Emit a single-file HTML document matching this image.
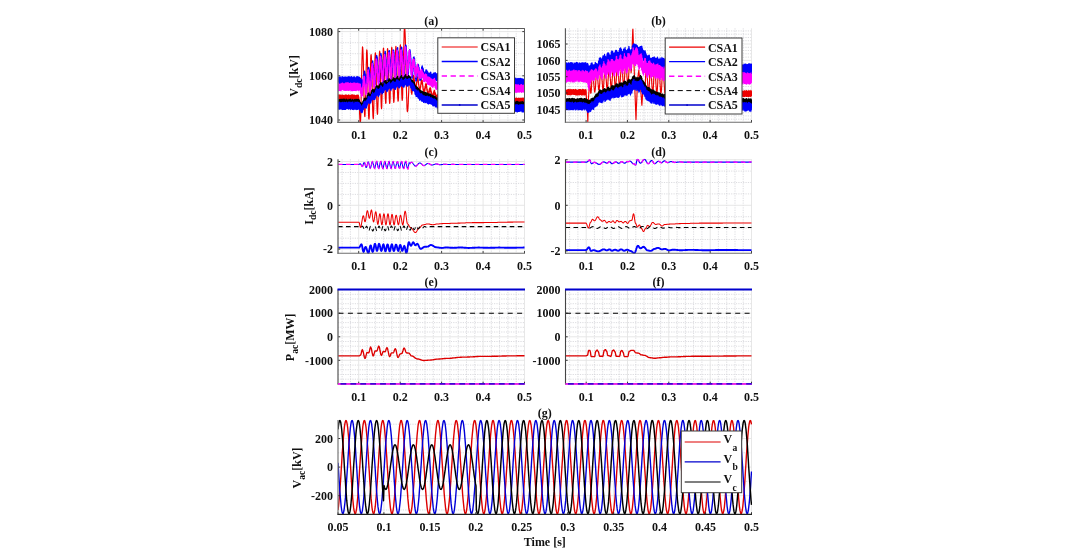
<!DOCTYPE html>
<html lang="en"><head><meta charset="utf-8"><title>Figure</title>
<style>html,body{margin:0;padding:0;background:#fff;overflow:hidden}svg{display:block}text{font-family:"Liberation Serif","DejaVu Serif",serif;font-weight:bold;fill:#111}</style>
</head><body>
<svg width="1079" height="556" viewBox="0 0 1079 556" font-size="12">
<rect width="1079" height="556" fill="#fff"/>
<g fill="none" stroke-width="0.7">
<path stroke="#cdcdd3" stroke-dasharray="1.2 1.2" d="M342.1 28.5V122.4M350.4 28.5V122.4M367 28.5V122.4M375.3 28.5V122.4M383.6 28.5V122.4M391.9 28.5V122.4M408.5 28.5V122.4M416.7 28.5V122.4M425 28.5V122.4M433.3 28.5V122.4M449.9 28.5V122.4M458.2 28.5V122.4M466.5 28.5V122.4M474.8 28.5V122.4M491.3 28.5V122.4M499.6 28.5V122.4M507.9 28.5V122.4M516.2 28.5V122.4M338 108.9H524.5M338 97.9H524.5M338 86.8H524.5M338 64.8H524.5M338 53.7H524.5M338 42.7H524.5"/>
<path stroke="#e4e4e4" stroke-width="0.9" d="M358.7 28.5V122.4M400.2 28.5V122.4M441.6 28.5V122.4M483.1 28.5V122.4M524.5 28.5V122.4M338 120H524.5M338 75.8H524.5M338 31.6H524.5"/>
</g>
<clipPath id="ca"><rect x="338" y="28" width="187.1" height="95.1"/></clipPath>
<g clip-path="url(#ca)" stroke-linejoin="round">
<polyline fill="none" stroke="#ee0000" stroke-width="1.15"  points="338,99 338.1,95 338.2,99.2 338.3,96 338.4,98.5 338.5,95.1 338.6,98.1 338.7,95.1 338.7,99.2 338.8,95.6 338.9,98.5 339,95.9 339.1,98.5 339.2,95.7 339.3,98.8 339.4,95.5 339.5,99.5 339.6,95.2 339.7,99 339.8,94.9 339.9,98.4 340,96.1 340.1,99 340.1,96.2 340.2,98.2 340.3,95.6 340.4,98.8 340.5,95 340.6,99 340.7,95.6 340.8,98.8 340.9,95.9 341,98.1 341.1,96 341.2,99.1 341.3,96 341.4,98.6 341.5,96.3 341.5,99.3 341.6,96.1 341.7,98.5 341.8,95.1 341.9,98.8 342,95.1 342.1,99 342.2,95.3 342.3,98.2 342.4,95.5 342.5,98.8 342.6,95.1 342.7,98.6 342.8,95.5 342.9,98.2 342.9,95.7 343,98.6 343.1,96.1 343.2,99.2 343.3,95.8 343.4,99.5 343.5,95.5 343.6,99 343.7,95.4 343.8,99.1 343.9,96.1 344,98.7 344.1,95.9 344.2,98.7 344.3,96.1 344.3,99.5 344.4,96 344.5,99 344.6,95.9 344.7,99.3 344.8,95.4 344.9,98.3 345,95.1 345.1,99.4 345.2,95 345.3,98.9 345.4,96.1 345.5,98.4 345.6,95 345.7,98.9 345.7,96 345.8,99.3 345.9,95.4 346,98.9 346.1,95.8 346.2,98.7 346.3,95.9 346.4,98.2 346.5,95.1 346.6,98.8 346.7,95.5 346.8,98.6 346.9,95.2 347,98.2 347,95.8 347.1,98.2 347.2,96.1 347.3,99.5 347.4,95.4 347.5,98.7 347.6,95.6 347.7,99.3 347.8,95.8 347.9,98.9 348,95.3 348.1,98.6 348.2,95.6 348.3,99.2 348.4,95 348.4,98.3 348.5,95 348.6,98.1 348.7,95.2 348.8,99.2 348.9,96.1 349,98.7 349.1,95.2 349.2,98.1 349.3,95.4 349.4,99.2 349.5,95.6 349.6,99.1 349.7,96 349.8,98.4 349.8,95.8 349.9,98.4 350,95.8 350.1,99.4 350.2,95.5 350.3,98.6 350.4,95.9 350.5,99.4 350.6,95.7 350.7,99.5 350.8,95.6 350.9,98.8 351,95 351.1,99.1 351.2,95.5 351.2,98.7 351.3,95.1 351.4,98.7 351.5,95 351.6,98.2 351.7,95.7 351.8,98.8 351.9,95 352,98.5 352.1,95.2 352.2,99.1 352.3,95.3 352.4,99 352.5,94.9 352.6,98.6 352.6,95.7 352.7,98.4 352.8,96.2 352.9,98.4 353,95 353.1,99.3 353.2,96.1 353.3,99 353.4,95.6 353.5,98.9 353.6,95.4 353.7,98.5 353.8,95 353.9,98.8 354,95.4 354,99 354.1,96 354.2,98.2 354.3,95.7 354.4,99.2 354.5,95.2 354.6,99.1 354.7,96.1 354.8,99.4 354.9,95.2 355,99.3 355.1,95.6 355.2,99.4 355.3,96.2 355.4,98.2 355.4,96.3 355.5,98.5 355.6,95.9 355.7,98.4 355.8,95.5 355.9,98.2 356,95.5 356.1,98.3 356.2,95.3 356.3,98.1 356.4,95.9 356.5,99.4 356.6,95.5 356.7,99.2 356.8,95.4 356.8,99 356.9,96 357,98.9 357.1,96.2 357.2,99.2 357.3,95 357.4,99.3 357.5,96.2 357.6,98.6 357.7,95.8 357.8,98.3 357.9,95.4 358,99.2 358.1,95.8 358.2,99.3 358.2,95.2 358.3,98.3 358.4,95.2 358.5,99.3 358.6,96 358.7,98.9 358.8,97.1 358.9,98.5 359,99 359.1,101.1 359.2,102 359.3,104.8 359.4,106.1 359.5,109.2 359.6,110.8 359.6,113.9 359.7,115.2 359.8,117.8 359.9,119.1 360,121.1 360.1,121.5 360.2,122.7 360.3,122.1 360.4,122.6 360.5,121.1 360.6,120.2 360.7,117.5 360.8,115.5 360.9,111.8 361,108.9 361,104.3 361.1,100.9 361.2,95.6 361.3,91.6 361.4,86.1 361.5,81.9 361.6,76.6 361.7,72.6 361.8,67.5 361.9,63.9 362,59.4 362.1,56.8 362.2,53.2 362.3,51.3 362.4,48.7 362.4,48.1 362.5,46.9 362.6,47.3 362.7,47.3 362.8,49.1 362.9,50.1 363,52.9 363.1,54.9 363.2,59 363.3,62 363.4,66.6 363.5,70 363.6,75.3 363.7,79.1 363.7,84.4 363.8,88.3 363.9,93.6 364,97 364.1,101.8 364.2,104.7 364.3,108.5 364.4,110.6 364.5,113.6 364.6,114.6 364.7,116.2 364.8,116 364.9,116.6 365,115 365.1,114.2 365.1,111.7 365.2,109.8 365.3,105.9 365.4,103.2 365.5,98.4 365.6,95.1 365.7,89.8 365.8,86.1 365.9,80.7 366,76.9 366.1,71.8 366.2,68.2 366.3,63.5 366.4,60.8 366.5,56.9 366.5,55 366.6,52.3 366.7,51.4 366.8,49.9 366.9,50.6 367,50.4 367.1,52.4 367.2,53.6 367.3,56.9 367.4,59.4 367.5,64.1 367.6,67.5 367.7,72.6 367.8,76.8 367.9,82.7 367.9,87 368,92.6 368.1,96.6 368.2,102 368.3,105.5 368.4,109.7 368.5,112.2 368.6,115.5 368.7,117 368.8,118.8 368.9,118.7 369,119.2 369.1,117.8 369.2,117.3 369.3,114.7 369.3,113.1 369.4,109.7 369.5,107 369.6,102.9 369.7,99.6 369.8,95 369.9,91.5 370,86.5 370.1,82.8 370.2,77.9 370.3,74.8 370.4,70 370.5,67.2 370.6,63.5 370.7,61.3 370.7,58.5 370.8,57.1 370.9,55.3 371,55.1 371.1,54.5 371.2,55.6 371.3,55.9 371.4,58.1 371.5,59.7 371.6,63.1 371.7,65.6 371.8,69.9 371.9,73.2 372,78.1 372.1,81.7 372.1,86.8 372.2,90.5 372.3,95.8 372.4,99.2 372.5,103.7 372.6,106.8 372.7,110.8 372.8,112.6 372.9,115.6 373,116.5 373.1,118.3 373.2,118.2 373.3,118.8 373.4,117.3 373.5,116.7 373.5,114.4 373.6,112.8 373.7,109.4 373.8,106.7 373.9,102.5 374,99.4 374.1,94.5 374.2,91.1 374.3,85.9 374.4,82.4 374.5,77.2 374.6,74 374.7,69.2 374.8,66.3 374.9,62.5 374.9,60.4 375,57.3 375.1,56.1 375.2,53.9 375.3,53.8 375.4,52.8 375.5,54 375.6,54.4 375.7,56.7 375.8,58.2 375.9,61.9 376,64.3 376.1,68.7 376.2,72 376.3,77.1 376.3,80.7 376.4,86 376.5,89.6 376.6,94.5 376.7,97.9 376.8,102.5 376.9,105.1 377,108.6 377.1,110.3 377.2,112.7 377.3,113.1 377.4,114.3 377.5,113.6 377.6,113.6 377.7,111.8 377.7,111 377.8,108.3 377.9,106.6 378,103 378.1,100.7 378.2,96.6 378.3,93.5 378.4,88.9 378.5,85.8 378.6,81.1 378.7,77.7 378.8,73.1 378.9,70.2 379,66.1 379.1,63.4 379.1,59.8 379.2,57.8 379.3,54.9 379.4,54 379.5,52.1 379.6,52.2 379.7,51.1 379.8,52.3 379.9,52.6 380,55.2 380.1,57 380.2,61 380.3,63.8 380.4,68.6 380.4,72.2 380.5,77.5 380.6,81.4 380.7,86.7 380.8,90.4 380.9,95.1 381,98.1 381.1,102.1 381.2,104.1 381.3,106.9 381.4,107.4 381.5,108.7 381.6,107.7 381.7,107.7 381.8,105.5 381.8,104.1 381.9,101 382,98.8 382.1,94.4 382.2,91.4 382.3,86.5 382.4,83 382.5,77.9 382.6,74.2 382.7,69.3 382.8,65.8 382.9,61.4 383,58.6 383.1,54.7 383.2,53 383.2,50.4 383.3,49.6 383.4,48.2 383.5,48.9 383.6,48.3 383.7,49.9 383.8,50.5 383.9,52.9 384,54.1 384.1,57.2 384.2,59.2 384.3,62.9 384.4,65.3 384.5,69.2 384.6,72 384.6,76.1 384.7,78.8 384.8,83.2 384.9,85.7 385,89.6 385.1,91.8 385.2,95.1 385.3,96.8 385.4,99.5 385.5,100.5 385.6,102.5 385.7,102.5 385.8,103.5 385.9,102.7 386,102.8 386,100.5 386.1,98.8 386.2,95.4 386.3,92.8 386.4,88.4 386.5,85 386.6,80 386.7,76.3 386.8,71.2 386.9,67.7 387,62.8 387.1,59.8 387.2,55.7 387.3,53.7 387.4,51 387.4,50 387.5,48.7 387.6,49.2 387.7,48.9 387.8,50.7 387.9,51.5 388,53.9 388.1,55.8 388.2,59.3 388.3,61.6 388.4,65.8 388.5,68.5 388.6,73.1 388.7,76 388.8,80.7 388.8,83.6 388.9,87.8 389,90.5 389.1,94.2 389.2,96.3 389.3,99.2 389.4,100.3 389.5,102.3 389.6,102.7 389.7,103.5 389.8,102.8 389.9,102.9 390,100.9 390.1,99.6 390.2,96.9 390.2,94.8 390.3,91.3 390.4,88.5 390.5,84.3 390.6,81.1 390.7,76.5 390.8,73.3 390.9,68.8 391,65.8 391.1,61.6 391.2,59.1 391.3,55.5 391.4,53.7 391.5,50.6 391.6,49.8 391.6,48 391.7,48 391.8,47.2 391.9,48.5 392,48.8 392.1,51.2 392.2,52.4 392.3,55.7 392.4,58.2 392.5,62 392.6,65 392.7,69.8 392.8,72.8 392.9,77.6 393,80.8 393,85.4 393.1,88.2 393.2,92.3 393.3,94.4 393.4,97.5 393.5,98.9 393.6,100.9 393.7,101.2 393.8,102.4 393.9,101.5 394,101.5 394.1,99.3 394.2,98.3 394.3,95.5 394.4,93.3 394.4,89.8 394.5,87.1 394.6,82.9 394.7,80 394.8,75.4 394.9,72.2 395,67.6 395.1,64.7 395.2,60.5 395.3,57.7 395.4,54.2 395.5,52.4 395.6,49.8 395.7,48.8 395.8,46.9 395.8,47 395.9,46.4 396,47.6 396.1,47.7 396.2,49.8 396.3,50.9 396.4,53.8 396.5,55.7 396.6,59.1 396.7,61.7 396.8,65.6 396.9,68.3 397,72.6 397.1,75.7 397.2,80 397.2,82.7 397.3,86.7 397.4,89.1 397.5,92.6 397.6,94.3 397.7,97.2 397.8,98.2 397.9,100.2 398,100.2 398.1,101.3 398.2,100.4 398.3,100.7 398.4,98.9 398.5,98 398.5,95.4 398.6,94.1 398.7,90.9 398.8,88.7 398.9,84.9 399,82.2 399.1,78 399.2,75.2 399.3,71.1 399.4,68.1 399.5,64.2 399.6,61.4 399.7,57.7 399.8,55.4 399.9,52.3 399.9,50.7 400,48.2 400.1,47.4 400.2,45.5 400.3,45.6 400.4,44.8 400.5,46 400.6,46.7 400.7,49 400.8,50.8 400.9,54.7 401,57.5 401.1,62.1 401.2,65.8 401.3,71 401.3,74.6 401.4,79.6 401.5,83.3 401.6,87.9 401.7,90.7 401.8,94.4 401.9,96.4 402,99 402.1,99.4 402.2,100.5 402.3,99.5 402.4,99.5 402.5,97.8 402.6,96.5 402.7,93.7 402.7,91.5 402.8,87.8 402.9,85.1 403,80.5 403.1,77.2 403.2,72.3 403.3,68.6 403.4,63.4 403.5,59.8 403.6,54.6 403.7,51.2 403.8,46.5 403.9,43.3 404,39.2 404.1,36.6 404.1,33.3 404.2,31.9 404.3,29.4 404.4,28.8 404.5,27.3 404.6,27.8 404.7,27.5 404.8,28.9 404.9,29.4 405,31.8 405.1,33.1 405.2,36.1 405.3,38.3 405.4,42.3 405.5,45.1 405.5,49.3 405.6,52.7 405.7,57.5 405.8,60.9 405.9,65.9 406,69.8 406.1,74.7 406.2,78.4 406.3,83.5 406.4,86.9 406.5,91.2 406.6,94.3 406.7,98.3 406.8,100.6 406.9,104.1 406.9,105.8 407,108.3 407.1,109 407.2,111 407.3,111 407.4,111.8 407.5,110.9 407.6,111.3 407.7,110 407.8,109.8 407.9,108 408,107.3 408.1,105.1 408.2,104.2 408.3,101.8 408.3,100.4 408.4,97.9 408.5,96.4 408.6,93.9 408.7,92.4 408.8,89.8 408.9,88.5 409,86 409.1,85 409.2,82.9 409.3,82 409.4,78.9 409.5,80.6 409.6,77.6 409.7,79.9 409.7,76.8 409.8,79.8 409.9,76.3 410,79.6 410.1,77.3 410.2,80.5 410.3,79.2 410.4,82.2 410.5,80.4 410.6,84.7 410.7,82.9 410.8,86.5 410.9,84.7 411,87.9 411.1,86.2 411.1,90.5 411.2,88.9 411.3,92.4 411.4,90.4 411.5,92.7 411.6,91 411.7,94.2 411.8,91.7 411.9,94.2 412,90.6 412.1,92.4 412.2,89.5 412.3,91.4 412.4,87.7 412.5,89.6 412.5,85.3 412.6,87.5 412.7,83.4 412.8,84.8 412.9,80.7 413,82.4 413.1,78 413.2,80.7 413.3,77 413.4,78.8 413.5,75.3 413.6,78.8 413.7,75.8 413.8,79 413.9,76.2 413.9,79 414,76.7 414.1,80.3 414.2,78.4 414.3,81.6 414.4,80 414.5,83 414.6,82.1 414.7,85.5 414.8,83.3 414.9,87.1 415,84.6 415.1,88 415.2,86.6 415.2,89.2 415.3,87.4 415.4,90.4 415.5,87.8 415.6,90.1 415.7,87.4 415.8,89.7 415.9,87.5 416,89.5 416.1,85.8 416.2,88 416.3,84.7 416.4,86.2 416.5,83.5 416.6,85.3 416.6,82 416.7,83.4 416.8,80.1 416.9,82.2 417,79.2 417.1,81.1 417.2,78.2 417.3,80.5 417.4,77.3 417.5,79.1 417.6,77 417.7,79.9 417.8,77.1 417.9,79.9 418,76.9 418,81.1 418.1,79.1 418.2,81.9 418.3,79.8 418.4,83.6 418.5,81.7 418.6,84.8 418.7,83.7 418.8,86.1 418.9,84.7 419,87.7 419.1,86.6 419.2,89.3 419.3,87.9 419.4,90 419.4,87.8 419.5,91.1 419.6,89 419.7,91.6 419.8,89.2 419.9,90.8 420,87.7 420.1,91 420.2,87.3 420.3,89.2 420.4,86.7 420.5,88.1 420.6,85.7 420.7,86.9 420.8,84.6 420.8,86.3 420.9,83.4 421,84.6 421.1,81.3 421.2,83.7 421.3,81 421.4,82.6 421.5,79.8 421.6,82.7 421.7,79.7 421.8,82.5 421.9,80.2 422,82.2 422.1,80 422.2,83.6 422.2,80.5 422.3,84.2 422.4,81.9 422.5,84.7 422.6,82.9 422.7,86.2 422.8,85.2 422.9,88.5 423,86 423.1,90.1 423.2,87.8 423.3,90.7 423.4,89.5 423.5,92.6 423.6,89.4 423.6,92.6 423.7,90.1 423.8,93.2 423.9,90.9 424,93.3 424.1,91.1 424.2,92.9 424.3,90.4 424.4,92.7 424.5,89.4 424.6,92.1 424.7,88.1 424.8,90.6 424.9,87.9 425,90.3 425,86.7 425.1,88.4 425.2,86.3 425.3,88.5 425.4,84.8 425.5,86.7 425.6,84.2 425.7,86.7 425.8,83.9 425.9,86.9 426,83.2 426.1,85.9 426.2,84.2 426.3,86.6 426.4,83.9 426.4,87.4 426.5,84.8 426.6,88.3 426.7,86.4 426.8,89.7 426.9,87.8 427,90.8 427.1,88.8 427.2,91.7 427.3,89.2 427.4,93 427.5,91.3 427.6,93.9 427.7,91.5 427.8,94.2 427.8,92.6 427.9,94.6 428,92.6 428.1,95.2 428.2,92.6 428.3,95 428.4,92.2 428.5,94.5 428.6,91.6 428.7,95 428.8,91.5 428.9,93.8 429,90.4 429.1,92.9 429.2,89.8 429.2,92.2 429.3,89.2 429.4,91.6 429.5,88.7 429.6,91.7 429.7,88.8 429.8,91.1 429.9,87.9 430,90.3 430.1,87.9 430.2,89.8 430.3,88 430.4,90.6 430.5,88.4 430.6,91 430.6,87.9 430.7,91.9 430.8,88.7 430.9,92.5 431,90.3 431.1,93.6 431.2,91.3 431.3,94.5 431.4,91.5 431.5,95.2 431.6,92.8 431.7,95.5 431.8,93.6 431.9,96.3 431.9,94.6 432,96.7 432.1,94.2 432.2,97.8 432.3,95.1 432.4,96.7 432.5,94.8 432.6,96.7 432.7,94.7 432.8,96.9 432.9,94 433,96.3 433.1,93.8 433.2,96.1 433.3,93.2 433.3,95.2 433.4,92.4 433.5,95.2 433.6,92.1 433.7,94.5 433.8,91.6 433.9,94.3 434,91.1 434.1,93.5 434.2,90.3 434.3,93.6 434.4,91.1 434.5,92.9 434.6,90.2 434.7,93 434.7,91.2 434.8,94.4 434.9,92 435,94 435.1,92.3 435.2,94.5 435.3,92.7 435.4,95.8 435.5,93.5 435.6,95.9 435.7,93.7 435.8,97.3 435.9,94.6 436,97.1 436.1,95.1 436.1,98.1 436.2,95.6 436.3,98.7 436.4,95.8 436.5,98.3 436.6,96.1 436.7,98.4 436.8,95.3 436.9,98.5 437,95.8 437.1,98.7 437.2,95.2 437.3,97.9 437.4,95.4 437.5,98.2 437.5,95.5 437.6,97.8 437.7,94.7 437.8,97.5 437.9,94.3 438,97.3 438.1,94.6 438.2,96.9 438.3,94 438.4,96.8 438.5,94.1 438.6,96.8 438.7,93.7 438.8,97.4 438.9,94.7 438.9,97.4 439,94.1 439.1,96.3 439.2,94.2 439.3,96.3 439.4,94.1 439.5,96.5 439.6,94.3 439.7,96.6 439.8,94.1 439.9,97.2 440,93.7 440.1,96.7 440.2,94.1 440.3,96.3 440.3,94.3 440.4,97.4 440.5,94.6 440.6,97.3 440.7,94 440.8,96.6 440.9,93.9 441,96.7 441.1,93.8 441.2,96.4 441.3,94.7 441.4,97.2 441.5,94.3 441.6,96.5 441.7,94.3 441.7,96.7 441.8,94.2 441.9,97.2 442,93.9 442.1,96.5 442.2,94.2 442.3,97.6 442.4,94.4 442.5,97.3 442.6,94.8 442.7,97.5 442.8,94.3 442.9,97.5 443,94.1 443.1,97.5 443.1,95 443.2,97.4 443.3,94.8 443.4,96.9 443.5,94.7 443.6,97.3 443.7,94.4 443.8,97.7 443.9,95.1 444,96.9 444.1,94.7 444.2,97.6 444.3,94.6 444.4,97.3 444.5,94.3 444.5,97.5 444.6,94.9 444.7,96.9 444.8,94.7 444.9,97.8 445,94.6 445.1,96.9 445.2,94.8 445.3,97.3 445.4,94.7 445.5,97.6 445.6,94.3 445.7,97.3 445.8,95 445.9,97.7 445.9,94.5 446,97.8 446.1,95 446.2,98 446.3,95 446.4,98.2 446.5,95.3 446.6,97.3 446.7,94.7 446.8,97.5 446.9,94.7 447,97.9 447.1,95.1 447.2,97.3 447.3,94.8 447.3,97.4 447.4,94.7 447.5,98.3 447.6,95.5 447.7,97.5 447.8,94.9 447.9,98 448,95.8 448.1,98 448.2,95.7 448.3,98 448.4,95.3 448.5,98.6 448.6,95.1 448.6,97.8 448.7,95.5 448.8,98.2 448.9,95 449,97.8 449.1,95.6 449.2,98.7 449.3,95.7 449.4,98 449.5,95.6 449.6,98.1 449.7,95.2 449.8,97.9 449.9,96.1 450,98 450,95.6 450.1,98.2 450.2,95.4 450.3,99 450.4,95.4 450.5,98.3 450.6,96.5 450.7,98.5 450.8,95.4 450.9,98.9 451,96.5 451.1,98.9 451.2,95.6 451.3,99.3 451.4,95.8 451.4,99.2 451.5,95.7 451.6,98.6 451.7,96.6 451.8,99.1 451.9,96.6 452,98.7 452.1,95.7 452.2,99 452.3,96.3 452.4,99.5 452.5,96.6 452.6,99.6 452.7,95.9 452.8,98.9 452.8,96.6 452.9,98.6 453,96 453.1,98.7 453.2,97 453.3,99.6 453.4,96.4 453.5,99.4 453.6,96.3 453.7,98.7 453.8,97 453.9,99.2 454,97.1 454.1,99.3 454.2,96.4 454.2,99.5 454.3,96.5 454.4,98.8 454.5,97 454.6,99.8 454.7,97.2 454.8,99.4 454.9,97.3 455,99.9 455.1,97.2 455.2,99.4 455.3,96.8 455.4,99.7 455.5,96.3 455.6,99.8 455.6,97 455.7,99.1 455.8,96.7 455.9,100.1 456,97.5 456.1,99.9 456.2,97.3 456.3,99.6 456.4,96.9 456.5,99.8 456.6,96.4 456.7,99.9 456.8,97.1 456.9,99.9 457,97.1 457,99.6 457.1,97.2 457.2,99.7 457.3,97.3 457.4,99.4 457.5,97.5 457.6,99.7 457.7,97.3 457.8,100.1 457.9,96.7 458,99.6 458.1,97 458.2,100.2 458.3,97.3 458.4,99.8 458.4,97.2 458.5,100 458.6,96.6 458.7,99.4 458.8,96.6 458.9,100 459,96.8 459.1,100 459.2,96.7 459.3,99.6 459.4,96.9 459.5,99.6 459.6,97.2 459.7,100 459.8,97.5 459.8,99.3 459.9,96.8 460,100.2 460.1,97 460.2,99.6 460.3,97 460.4,99.4 460.5,97 460.6,99.9 460.7,97 460.8,99.8 460.9,97.5 461,100.1 461.1,97.2 461.2,100.1 461.2,97.3 461.3,99.4 461.4,97.1 461.5,100 461.6,96.7 461.7,100.3 461.8,97.7 461.9,100.1 462,97.4 462.1,100.1 462.2,97.3 462.3,99.6 462.4,97.2 462.5,99.9 462.6,97 462.6,100 462.7,97 462.8,99.7 462.9,97 463,99.7 463.1,97.1 463.2,99.8 463.3,97.1 463.4,99.3 463.5,97.2 463.6,99.5 463.7,97.3 463.8,99.4 463.9,97 464,100.3 464,97.4 464.1,99.4 464.2,97 464.3,99.4 464.4,96.7 464.5,99.4 464.6,97.3 464.7,99.8 464.8,97.6 464.9,99.6 465,97.4 465.1,100.1 465.2,96.6 465.3,99.7 465.3,96.9 465.4,99.4 465.5,97.1 465.6,99.8 465.7,97.4 465.8,100.2 465.9,96.9 466,99.4 466.1,97.4 466.2,100.2 466.3,96.6 466.4,100 466.5,96.8 466.6,100.4 466.7,96.9 466.7,100 466.8,97.5 466.9,99.7 467,97.1 467.1,100.4 467.2,97.4 467.3,99.8 467.4,97.8 467.5,100.1 467.6,97.3 467.7,100.2 467.8,97.5 467.9,100.1 468,97 468.1,99.8 468.1,97.6 468.2,99.8 468.3,97 468.4,99.5 468.5,97.7 468.6,99.9 468.7,97.5 468.8,100.2 468.9,96.9 469,100.4 469.1,96.9 469.2,100.1 469.3,97.6 469.4,100.3 469.5,97 469.5,100.2 469.6,97 469.7,100.3 469.8,97.5 469.9,100.1 470,97.2 470.1,99.7 470.2,97.5 470.3,99.5 470.4,97.3 470.5,99.8 470.6,97.4 470.7,100.3 470.8,97.1 470.9,100.1 470.9,96.7 471,99.6 471.1,97.3 471.2,99.5 471.3,97.4 471.4,100.5 471.5,97.8 471.6,100.2 471.7,96.9 471.8,100 471.9,97 472,99.9 472.1,97.5 472.2,100 472.3,97.6 472.3,99.7 472.4,97.5 472.5,100.5 472.6,97.5 472.7,99.7 472.8,96.8 472.9,99.6 473,96.8 473.1,100.4 473.2,97.2 473.3,99.9 473.4,97.7 473.5,99.5 473.6,97.8 473.7,99.8 473.7,97.4 473.8,100.5 473.9,97.3 474,100.6 474.1,97.1 474.2,99.6 474.3,97.3 474.4,99.6 474.5,97.9 474.6,100.5 474.7,97.5 474.8,99.7 474.9,97.8 475,100.2 475.1,97.4 475.1,99.5 475.2,97.1 475.3,99.8 475.4,97.1 475.5,100 475.6,97.3 475.7,100 475.8,97.2 475.9,100.6 476,97 476.1,99.6 476.2,97.4 476.3,99.8 476.4,97.8 476.5,99.7 476.5,97.7 476.6,100.6 476.7,97.1 476.8,100.5 476.9,97.2 477,99.9 477.1,97.5 477.2,100 477.3,97.7 477.4,100 477.5,97.1 477.6,99.6 477.7,97.7 477.8,100.1 477.9,97.2 477.9,100.3 478,97.2 478.1,99.7 478.2,97.8 478.3,99.9 478.4,97.7 478.5,100.4 478.6,96.9 478.7,100.3 478.8,98 478.9,99.9 479,97.1 479.1,100.6 479.2,97.4 479.3,100 479.3,97.6 479.4,100.3 479.5,97.1 479.6,100 479.7,97.8 479.8,99.6 479.9,97.9 480,100.6 480.1,97.4 480.2,100.7 480.3,98 480.4,100 480.5,97.2 480.6,100.4 480.7,98 480.7,100.1 480.8,97.4 480.9,100.4 481,97.6 481.1,99.8 481.2,97 481.3,100.2 481.4,97.3 481.5,100.2 481.6,98 481.7,99.9 481.8,98.1 481.9,99.9 482,97.9 482.1,100.1 482.1,97.8 482.2,100.1 482.3,97.2 482.4,99.7 482.5,98 482.6,100.6 482.7,97.5 482.8,100.2 482.9,97.9 483,100.3 483.1,97.9 483.2,100.7 483.3,97.2 483.4,100.1 483.4,98.2 483.5,100.7 483.6,97.8 483.7,100.5 483.8,97.2 483.9,100.6 484,97.2 484.1,100.3 484.2,97.2 484.3,100.3 484.4,97.9 484.5,100.3 484.6,97.8 484.7,100.6 484.8,97.3 484.8,99.9 484.9,98 485,100.2 485.1,97.7 485.2,100.8 485.3,97.2 485.4,100.9 485.5,97.4 485.6,100.5 485.7,97.9 485.8,100.2 485.9,98.3 486,100.7 486.1,98 486.2,99.9 486.2,97.9 486.3,100.2 486.4,97.5 486.5,99.8 486.6,98 486.7,100.8 486.8,97.3 486.9,100.5 487,97.7 487.1,100.1 487.2,97.3 487.3,100.7 487.4,97.7 487.5,100 487.6,98.1 487.6,100.3 487.7,97.9 487.8,99.9 487.9,97.9 488,100.4 488.1,98 488.2,100.3 488.3,98 488.4,100.3 488.5,97.6 488.6,100.4 488.7,98.1 488.8,100.8 488.9,97.8 489,100.4 489,97.6 489.1,100.8 489.2,97.4 489.3,100.8 489.4,97.6 489.5,100.7 489.6,98.2 489.7,100.7 489.8,98.1 489.9,100.2 490,98.3 490.1,100.4 490.2,98.4 490.3,100.7 490.4,97.6 490.4,100.8 490.5,98.3 490.6,100.7 490.7,97.5 490.8,100 490.9,98.2 491,100.3 491.1,97.9 491.2,100.2 491.3,97.8 491.4,100.4 491.5,97.7 491.6,100.6 491.7,97.7 491.8,100.3 491.8,97.7 491.9,100.8 492,97.7 492.1,100.1 492.2,97.4 492.3,100.7 492.4,98.2 492.5,100.5 492.6,97.9 492.7,100.6 492.8,98.2 492.9,100.3 493,98.1 493.1,100.9 493.2,98 493.2,100.1 493.3,98 493.4,100.3 493.5,98.5 493.6,101.2 493.7,98.2 493.8,100.7 493.9,98.1 494,100.1 494.1,97.5 494.2,101.1 494.3,98.4 494.4,100.6 494.5,98.1 494.6,100.3 494.6,97.8 494.7,101 494.8,97.7 494.9,100.9 495,98.6 495.1,100.4 495.2,98 495.3,100.9 495.4,98.2 495.5,100.6 495.6,97.7 495.7,100.2 495.8,98.3 495.9,100.5 496,97.5 496,100.4 496.1,98.6 496.2,100.6 496.3,97.9 496.4,100.3 496.5,97.7 496.6,100.4 496.7,97.8 496.8,100.4 496.9,97.7 497,100.4 497.1,97.8 497.2,101.1 497.3,98.4 497.4,100.3 497.4,98 497.5,100.8 497.6,98.1 497.7,101.1 497.8,98.2 497.9,100.8 498,98.1 498.1,100.7 498.2,98.2 498.3,100.4 498.4,98.4 498.5,100.5 498.6,98.4 498.7,101.1 498.8,98.6 498.8,100.5 498.9,98.1 499,100.6 499.1,98.5 499.2,100.7 499.3,98.2 499.4,101 499.5,97.6 499.6,101.2 499.7,98.3 499.8,100.8 499.9,98.3 500,100.6 500.1,97.7 500.1,100.4 500.2,98.5 500.3,101.1 500.4,98.1 500.5,100.6 500.6,97.7 500.7,100.8 500.8,98.1 500.9,100.4 501,97.8 501.1,100.4 501.2,98.4 501.3,101.3 501.4,97.7 501.5,101.4 501.5,97.9 501.6,100.6 501.7,98.8 501.8,100.9 501.9,98.8 502,101.4 502.1,98.8 502.2,100.7 502.3,98.6 502.4,100.4 502.5,98.3 502.6,100.5 502.7,97.8 502.8,101.2 502.9,98.4 502.9,101.3 503,98 503.1,100.8 503.2,97.9 503.3,101.5 503.4,98.2 503.5,100.8 503.6,97.9 503.7,101.5 503.8,98.5 503.9,100.5 504,97.9 504.1,101.2 504.2,98.6 504.3,101.1 504.3,98.6 504.4,101.5 504.5,98.5 504.6,100.7 504.7,98.9 504.8,100.8 504.9,97.8 505,100.7 505.1,98.4 505.2,101.6 505.3,98.9 505.4,100.8 505.5,98 505.6,100.6 505.7,97.9 505.7,101.4 505.8,98.8 505.9,101.1 506,98.3 506.1,101.3 506.2,98.6 506.3,100.9 506.4,98.7 506.5,100.8 506.6,98.8 506.7,101.5 506.8,98 506.9,100.9 507,98.2 507.1,101.1 507.1,98.7 507.2,100.9 507.3,97.9 507.4,100.9 507.5,98.3 507.6,101.6 507.7,98.7 507.8,101.4 507.9,98.9 508,101.4 508.1,98.1 508.2,101.5 508.3,97.9 508.4,101.4 508.5,97.9 508.5,100.9 508.6,98.4 508.7,100.8 508.8,98.9 508.9,101.1 509,98.2 509.1,101.4 509.2,99 509.3,101.6 509.4,98.8 509.5,100.9 509.6,98.1 509.7,101.6 509.8,98.2 509.9,101 509.9,98.5 510,101.5 510.1,98.7 510.2,101.5 510.3,98.2 510.4,101.1 510.5,98.1 510.6,101 510.7,98.2 510.8,101.3 510.9,98.7 511,101.2 511.1,98.4 511.2,101.2 511.3,99 511.3,101.7 511.4,98 511.5,100.7 511.6,98 511.7,101.2 511.8,99 511.9,101.6 512,98.6 512.1,101.4 512.2,98.2 512.3,101.2 512.4,99.1 512.5,101.6 512.6,98.3 512.7,101.7 512.7,98.8 512.8,101.5 512.9,98.1 513,101.1 513.1,98.7 513.2,101 513.3,99.1 513.4,100.9 513.5,98.8 513.6,100.8 513.7,98.3 513.8,101.1 513.9,98.5 514,101 514.1,98.7 514.1,101.5 514.2,98.6 514.3,101.3 514.4,98.7 514.5,101.3 514.6,98.1 514.7,101 514.8,98.6 514.9,101.5 515,99.1 515.1,101.8 515.2,98.6 515.3,101 515.4,98.3 515.5,101.6 515.5,98.5 515.6,101.7 515.7,99.1 515.8,101.3 515.9,98.3 516,101.7 516.1,98.4 516.2,101.4 516.3,98.7 516.4,101.4 516.5,98.6 516.6,101.7 516.7,98.2 516.8,101.5 516.8,98.1 516.9,100.8 517,98.3 517.1,101.2 517.2,98.3 517.3,101.1 517.4,98.7 517.5,101.7 517.6,99.2 517.7,101.1 517.8,98.6 517.9,101.7 518,98.9 518.1,101.7 518.2,98.9 518.2,101.1 518.3,98.6 518.4,101.5 518.5,98.2 518.6,101.7 518.7,98.9 518.8,101.6 518.9,98.5 519,101.2 519.1,98.3 519.2,101.8 519.3,98.7 519.4,101.8 519.5,99.1 519.6,100.9 519.6,98.3 519.7,101.1 519.8,98.6 519.9,101.3 520,99.1 520.1,101.6 520.2,98.4 520.3,100.9 520.4,98.9 520.5,101.7 520.6,98.2 520.7,101.7 520.8,98.7 520.9,101.2 521,98.7 521,101 521.1,98.7 521.2,101 521.3,99 521.4,101.2 521.5,99.2 521.6,101.3 521.7,98.4 521.8,101.5 521.9,98.1 522,101.8 522.1,98.5 522.2,101.8 522.3,98.7 522.4,101.7 522.4,98.9 522.5,101.4 522.6,98.1 522.7,101.4 522.8,98.7 522.9,101.7 523,98.9 523.1,101.7 523.2,99.2 523.3,101 523.4,99 523.5,101.1 523.6,98.2 523.7,100.8 523.8,98.9 523.8,101.4 523.9,98.4 524,101.6 524.1,98.8 524.2,101 524.3,98.3 524.4,100.9 524.5,99.2"/>
<polyline fill="none" stroke="#0000ff" stroke-width="1.45"  points="338,82.5 338.1,77.9 338.2,84.2 338.4,77.3 338.5,83.3 338.6,77.8 338.7,83.6 338.9,77.6 339,82.8 339.1,78.8 339.2,82.5 339.4,77.2 339.5,83.5 339.6,77.2 339.7,82.1 339.9,76.9 340,82.9 340.1,76.9 340.2,83.4 340.4,77.7 340.5,83.9 340.6,77.6 340.7,83.6 340.9,78.6 341,83.4 341.1,78.2 341.2,82.2 341.4,78.7 341.5,83.1 341.6,78.4 341.7,83.8 341.9,78.7 342,82.1 342.1,76.7 342.2,82.7 342.4,77.8 342.5,82.5 342.6,78.5 342.7,82.9 342.9,77.2 343,82.1 343.1,77.1 343.2,84.3 343.3,77.7 343.5,82.8 343.6,78.4 343.7,82.4 343.8,78.2 344,84 344.1,79 344.2,83.8 344.3,77.5 344.5,82.1 344.6,78.8 344.7,83.7 344.8,77.4 345,82.7 345.1,77 345.2,82.5 345.3,78 345.5,82.3 345.6,77.5 345.7,82.2 345.8,78.6 346,83.8 346.1,77.8 346.2,83.5 346.3,77.3 346.5,83.4 346.6,78.5 346.7,83.6 346.8,78.7 347,82.6 347.1,78 347.2,82.3 347.3,78.7 347.5,83.5 347.6,77.3 347.7,82.9 347.8,78.1 348,82.5 348.1,77.8 348.2,83.3 348.3,76.9 348.5,82.1 348.6,76.9 348.7,84.3 348.8,78.2 348.9,83.7 349.1,77.1 349.2,83.5 349.3,78.3 349.4,83.4 349.6,77 349.7,82.3 349.8,77.9 349.9,82.1 350.1,77.1 350.2,83.8 350.3,78.9 350.4,83.7 350.6,77.4 350.7,82.3 350.8,77.8 350.9,83.6 351.1,78.2 351.2,83.2 351.3,76.8 351.4,83.5 351.6,77.8 351.7,82.2 351.8,78.7 351.9,84 352.1,77.3 352.2,83.9 352.3,77.7 352.4,83.3 352.6,77.8 352.7,83.7 352.8,78.2 352.9,83.2 353.1,77.9 353.2,83.5 353.3,78.5 353.4,82.1 353.6,78.8 353.7,82.4 353.8,77 353.9,83.7 354,77.3 354.2,83 354.3,78.7 354.4,83.1 354.5,77 354.7,83.2 354.8,77.5 354.9,82.9 355,78.6 355.2,83.4 355.3,77.9 355.4,82.8 355.5,78.4 355.7,83.6 355.8,78.3 355.9,83.3 356,78.4 356.2,83.7 356.3,78.1 356.4,83.1 356.5,76.9 356.7,83.7 356.8,77.3 356.9,82.8 357,77.1 357.2,82.9 357.3,76.7 357.4,84.1 357.5,77.5 357.7,83.9 357.8,77.7 357.9,83.7 358,78.7 358.2,84.3 358.3,77.2 358.4,82.3 358.5,78.4 358.7,83.3 358.8,77.3 358.9,82.7 359,77.2 359.2,83.5 359.3,77.4 359.4,84.7 359.5,78.8 359.6,84 359.8,79.8 359.9,83.5 360,78.7 360.1,85.4 360.3,78.3 360.4,84.7 360.5,78.5 360.6,85 360.8,79 360.9,86.8 361,80.9 361.1,86.8 361.3,79.7 361.4,86.7 361.5,79.7 361.6,86.6 361.8,80.8 361.9,86.6 362,80.2 362.1,88.1 362.3,82 362.4,87.7 362.5,81.4 362.6,85.7 362.8,80.9 362.9,85.9 363,79.7 363.1,83.9 363.3,78.8 363.4,82.7 363.5,75.5 363.6,80.4 363.8,74.8 363.9,80.6 364,74.6 364.1,78.6 364.3,71.4 364.4,79.9 364.5,71.3 364.6,77.9 364.7,72 364.9,79.5 365,74.7 365.1,80.8 365.2,74 365.4,83.4 365.5,77 365.6,82.7 365.7,77.1 365.9,86.6 366,79.3 366.1,85.5 366.2,80 366.4,87.2 366.5,80.2 366.6,85.9 366.7,80.2 366.9,84.8 367,79.4 367.1,83.1 367.2,75.1 367.4,80.4 367.5,73.6 367.6,80.3 367.7,72.3 367.9,77.8 368,71 368.1,76.3 368.2,68.3 368.4,75.6 368.5,68.3 368.6,76 368.7,67.4 368.9,75.4 369,68.8 369.1,75.9 369.2,69.7 369.4,78.8 369.5,72 369.6,80 369.7,74 369.9,81.7 370,77.3 370.1,83.6 370.2,79.7 370.3,86.5 370.5,80.7 370.6,85.6 370.7,80.1 370.8,86.1 371,79 371.1,82.8 371.2,74.5 371.3,81 371.5,72 371.6,78.7 371.7,70.6 371.8,74.5 372,65.4 372.1,71.8 372.2,62.9 372.3,67.7 372.5,62.9 372.6,68.6 372.7,61 372.8,67.3 373,63.4 373.1,69.4 373.2,65.1 373.3,72.5 373.5,67.3 373.6,75.7 373.7,71.2 373.8,78.2 374,74.4 374.1,82 374.2,75.8 374.3,82.7 374.5,76.4 374.6,85 374.7,78.6 374.8,85.3 375,77.5 375.1,83.9 375.2,75.5 375.3,81.1 375.4,72.8 375.6,76.7 375.7,68.2 375.8,71.7 375.9,63.1 376.1,66.7 376.2,60.6 376.3,63.6 376.4,56.4 376.6,61.8 376.7,55.6 376.8,61.4 376.9,56.4 377.1,64 377.2,57.5 377.3,65.8 377.4,60 377.6,69.7 377.7,65.1 377.8,71.7 377.9,68.6 378.1,76 378.2,73.5 378.3,81.4 378.4,74.7 378.6,82.2 378.7,77.6 378.8,84 378.9,76.6 379.1,81.7 379.2,73.9 379.3,81.6 379.4,71.2 379.6,77.9 379.7,68.5 379.8,72.4 379.9,64 380.1,67.8 380.2,60.1 380.3,63.9 380.4,58.5 380.6,62.9 380.7,55.4 380.8,61.4 380.9,53.6 381,62 381.2,54.9 381.3,63.6 381.4,57 381.5,66.7 381.7,59.7 381.8,68 381.9,65.4 382,73 382.2,69.5 382.3,76.2 382.4,71.2 382.5,78.7 382.7,75.5 382.8,82.5 382.9,76.4 383,81.3 383.2,73.8 383.3,81.4 383.4,73.2 383.5,77 383.7,70.4 383.8,75.5 383.9,64.9 384,68.8 384.2,60.8 384.3,65.4 384.4,56.9 384.5,61.7 384.7,55.5 384.8,58.5 384.9,53.3 385,59.9 385.2,51.5 385.3,60 385.4,53.3 385.5,60.8 385.7,57.1 385.8,66 385.9,59 386,68.7 386.1,63.7 386.3,74.1 386.4,67 386.5,76 386.6,71.2 386.8,78.9 386.9,73.7 387,80.4 387.1,74.7 387.3,78.9 387.4,72.3 387.5,78.9 387.6,69.6 387.8,74.3 387.9,67.7 388,71.6 388.1,61.5 388.3,67 388.4,59.3 388.5,63.3 388.6,53.6 388.8,60.8 388.9,51.1 389,57.6 389.1,51.7 389.3,58.5 389.4,50.7 389.5,59.7 389.6,53.7 389.8,60.7 389.9,57.3 390,65.9 390.1,59.3 390.3,68.7 390.4,63.6 390.5,72.8 390.6,68.6 390.8,76.7 390.9,72.1 391,78.1 391.1,73.5 391.3,78.8 391.4,72.8 391.5,77.6 391.6,70.5 391.7,75.5 391.9,68.5 392,73.3 392.1,65.4 392.2,68.5 392.4,59.9 392.5,64.6 392.6,54.9 392.7,61.4 392.9,53.7 393,58.7 393.1,50.3 393.2,56.9 393.4,50.8 393.5,56.5 393.6,50.2 393.7,59.1 393.9,52.3 394,60.5 394.1,55.7 394.2,65.3 394.4,60.3 394.5,70.2 394.6,65.1 394.7,74.3 394.9,67.3 395,77 395.1,71.1 395.2,78 395.4,72.7 395.5,78.8 395.6,70.1 395.7,75.8 395.9,68.3 396,74.4 396.1,66.9 396.2,71.2 396.4,61.5 396.5,65.1 396.6,58.4 396.7,62.2 396.8,53.5 397,57.9 397.1,50.9 397.2,55.7 397.3,48.6 397.5,55.4 397.6,47.8 397.7,55.8 397.8,50.4 398,56.3 398.1,51.6 398.2,62.1 398.3,56.1 398.5,66.2 398.6,60.2 398.7,69.6 398.8,65 399,72.6 399.1,68.2 399.2,75 399.3,70.4 399.5,77.1 399.6,72 399.7,76.5 399.8,70.2 400,75.3 400.1,66.2 400.2,72.1 400.3,63 400.5,68.1 400.6,59.8 400.7,63.1 400.8,53.9 401,60.6 401.1,52.1 401.2,54.8 401.3,47.4 401.5,55.3 401.6,47.2 401.7,54.9 401.8,47.8 401.9,56.4 402.1,50.7 402.2,57.7 402.3,52.7 402.4,60.7 402.6,56.5 402.7,65 402.8,60.7 402.9,70.6 403.1,65.3 403.2,74.5 403.3,67.6 403.4,76 403.6,70.7 403.7,74.9 403.8,68.6 403.9,76.2 404.1,67.1 404.2,73.5 404.3,65.4 404.4,69.7 404.6,59 404.7,64.5 404.8,55.6 404.9,60.1 405.1,51.7 405.2,55.9 405.3,46.8 405.4,52.5 405.6,45.6 405.7,49.5 405.8,45.1 405.9,51.9 406.1,46 406.2,51.5 406.3,48.6 406.4,56.3 406.6,51.8 406.7,61.8 406.8,55.7 406.9,66.7 407.1,60.2 407.2,69.6 407.3,66.1 407.4,74.3 407.5,68.6 407.7,75.4 407.8,69.7 407.9,76.4 408,69.5 408.2,74.1 408.3,67.6 408.4,72.9 408.5,63.5 408.7,68.9 408.8,60.8 408.9,63.9 409,55.5 409.2,62 409.3,52.6 409.4,59.8 409.5,50.8 409.7,55.9 409.8,49.7 409.9,55.9 410,50.4 410.2,57.5 410.3,52.1 410.4,61.3 410.5,54.4 410.7,63.3 410.8,58.1 410.9,68.4 411,62.2 411.2,71.4 411.3,65.6 411.4,74.6 411.5,70.7 411.7,76.5 411.8,71.1 411.9,78 412,72.3 412.2,77.9 412.3,72.2 412.4,75.7 412.5,70.7 412.6,75 412.8,67.3 412.9,71.5 413,62.7 413.1,69 413.3,60.1 413.4,66.6 413.5,57.4 413.6,62.8 413.8,57.4 413.9,64.2 414,56.9 414.1,64.5 414.3,58.4 414.4,63.5 414.5,58.5 414.6,66.7 414.8,62.2 414.9,71.1 415,66.1 415.1,74.3 415.3,68.7 415.4,75.4 415.5,71.9 415.6,78.5 415.8,73.3 415.9,81 416,75.4 416.1,79.3 416.3,75.2 416.4,80.3 416.5,72.7 416.6,78.7 416.8,71.5 416.9,77.3 417,71.1 417.1,74.2 417.3,66.5 417.4,72.4 417.5,64.8 417.6,71.3 417.8,65.4 417.9,69 418,64.9 418.1,69.7 418.2,64.5 418.4,70.6 418.5,65.2 418.6,72 418.7,68.1 418.9,73.2 419,67.5 419.1,74.3 419.2,69.9 419.4,77.3 419.5,71.8 419.6,78.6 419.7,74.1 419.9,80.2 420,73.6 420.1,80.4 420.2,76 420.4,79.6 420.5,73.7 420.6,79.7 420.7,74.8 420.9,79.3 421,71.7 421.1,77.9 421.2,72 421.4,75.9 421.5,70.2 421.6,73.6 421.7,67.3 421.9,73.6 422,68.5 422.1,74.1 422.2,66 422.4,73.8 422.5,68 422.6,72.6 422.7,68 422.9,74.4 423,68.1 423.1,76.5 423.2,69.2 423.3,76.1 423.5,71.2 423.6,76.8 423.7,72.5 423.8,77.6 424,74.4 424.1,78.5 424.2,74.4 424.3,79.2 424.5,73.6 424.6,78.6 424.7,74.8 424.8,79.6 425,72.9 425.1,79.1 425.2,72 425.3,78.2 425.5,71.7 425.6,77.6 425.7,72.1 425.8,75.7 426,70 426.1,75.2 426.2,70.2 426.3,75.3 426.5,70.5 426.6,76.8 426.7,70.3 426.8,76.3 427,71.7 427.1,77.8 427.2,71.5 427.3,77.7 427.5,71.8 427.6,79 427.7,72.2 427.8,79.6 428,73 428.1,79.9 428.2,73.9 428.3,80.9 428.5,75.5 428.6,80.1 428.7,74.3 428.8,79 428.9,73.8 429.1,80.4 429.2,73.2 429.3,79.3 429.4,74 429.6,80.3 429.7,73.8 429.8,79.7 429.9,73.5 430.1,78.3 430.2,73.6 430.3,77.8 430.4,73.1 430.6,77.6 430.7,72.2 430.8,79.6 430.9,74 431.1,77.6 431.2,74.5 431.3,80 431.4,74.6 431.6,79.7 431.7,74.4 431.8,78.9 431.9,74.9 432.1,80.3 432.2,75.6 432.3,80.9 432.4,74.5 432.6,79.6 432.7,75.4 432.8,80.6 432.9,74.4 433.1,79.7 433.2,75 433.3,79.9 433.4,73.4 433.6,79.8 433.7,73.4 433.8,79.9 433.9,73.8 434,79.3 434.2,73.4 434.3,79.2 434.4,73.2 434.5,78.4 434.7,74.1 434.8,80 434.9,74 435,80 435.2,72.8 435.3,79.5 435.4,74.9 435.5,80.1 435.7,73.8 435.8,79.2 435.9,73.6 436,79.9 436.2,75.6 436.3,79.1 436.4,75.3 436.5,80.4 436.7,74.1 436.8,79.3 436.9,75.9 437,80.5 437.2,75 437.3,80 437.4,74 437.5,81 437.7,73.5 437.8,80.6 437.9,75.7 438,79 438.2,74.2 438.3,80.8 438.4,75.3 438.5,79.8 438.7,74.6 438.8,79.5 438.9,74.9 439,79.2 439.2,75 439.3,78.9 439.4,74.4 439.5,79.8 439.6,74.1 439.8,80.3 439.9,73.6 440,79.7 440.1,73.9 440.3,79.8 440.4,74.4 440.5,80.8 440.6,75 440.8,80 440.9,74.5 441,79.2 441.1,74.7 441.3,79.2 441.4,75.4 441.5,80.4 441.6,73.7 441.8,81.3 441.9,75.4 442,79.4 442.1,74.8 442.3,80.1 442.4,75.2 442.5,80.9 442.6,74.5 442.8,80.5 442.9,74.7 443,80.5 443.1,74.6 443.3,81.4 443.4,74.1 443.5,81.5 443.6,74.3 443.8,79.6 443.9,75.3 444,81.2 444.1,75.7 444.3,80.8 444.4,76.3 444.5,79.9 444.6,75.5 444.7,79.7 444.9,75.5 445,80.1 445.1,74.5 445.2,80.3 445.4,75.7 445.5,81.4 445.6,75.3 445.7,79.8 445.9,76.1 446,81.1 446.1,76.2 446.2,80.3 446.4,75.3 446.5,80.9 446.6,76.1 446.7,81.1 446.9,75.3 447,79.9 447.1,76.2 447.2,80.6 447.4,74.9 447.5,80 447.6,76.1 447.7,80.4 447.9,75.4 448,81.9 448.1,76.9 448.2,82 448.4,75.4 448.5,80.6 448.6,75 448.7,80.8 448.9,75.3 449,80.3 449.1,76.1 449.2,81.4 449.4,75.1 449.5,82.2 449.6,76 449.7,80.4 449.9,76.3 450,81.2 450.1,75 450.2,81.9 450.3,76.4 450.5,81.2 450.6,75.6 450.7,80.7 450.8,75.6 451,82 451.1,76.5 451.2,82.2 451.3,76.6 451.5,80.9 451.6,76.6 451.7,80.7 451.8,77.4 452,81.7 452.1,75.8 452.2,81.2 452.3,76.5 452.5,83 452.6,75.8 452.7,82.8 452.8,76.2 453,82.2 453.1,76.5 453.2,82.2 453.3,76.8 453.5,81.7 453.6,77.3 453.7,81.1 453.8,77.1 454,82.7 454.1,76.7 454.2,81.4 454.3,76.1 454.5,81.1 454.6,75.9 454.7,82.6 454.8,76.8 455,82.1 455.1,76.2 455.2,81.2 455.3,78.1 455.4,82.4 455.6,77.5 455.7,82.2 455.8,77 455.9,81.4 456.1,76 456.2,82.9 456.3,78.1 456.4,83.1 456.6,77.1 456.7,83 456.8,76.7 456.9,83.7 457.1,78.2 457.2,83.8 457.3,77.4 457.4,82 457.6,77.7 457.7,82.4 457.8,76.5 457.9,82.8 458.1,78.4 458.2,83.3 458.3,77.5 458.4,83.6 458.6,78.6 458.7,83.7 458.8,76.7 458.9,81.8 459.1,77.7 459.2,82.1 459.3,77.6 459.4,82.1 459.6,76.8 459.7,82.3 459.8,77.3 459.9,83.4 460.1,78.2 460.2,82.5 460.3,76.9 460.4,82.1 460.6,78.4 460.7,82.8 460.8,77.7 460.9,82.9 461,78.8 461.2,83.4 461.3,77.5 461.4,83.8 461.5,78 461.7,82.9 461.8,79.2 461.9,83.5 462,77.8 462.2,83.3 462.3,77.1 462.4,82.8 462.5,77.4 462.7,84 462.8,77.2 462.9,84.4 463,78.8 463.2,84.4 463.3,78.4 463.4,83.9 463.5,77.1 463.7,83.7 463.8,78 463.9,82.5 464,78 464.2,82.9 464.3,78.4 464.4,83.2 464.5,77.1 464.7,83.8 464.8,77.7 464.9,82.8 465,78.7 465.2,84.4 465.3,79.1 465.4,84.6 465.5,78.4 465.7,83.3 465.8,78.2 465.9,83.4 466,78.3 466.1,83.4 466.3,77.8 466.4,83 466.5,79 466.6,83.4 466.8,79.2 466.9,83.5 467,78.3 467.1,84.2 467.3,79.2 467.4,83.3 467.5,77.6 467.6,83.2 467.8,77.5 467.9,84.1 468,79.3 468.1,83.3 468.3,77.7 468.4,83.7 468.5,77.9 468.6,84.7 468.8,77.9 468.9,83.7 469,77.5 469.1,83.5 469.3,79.4 469.4,83.1 469.5,78.1 469.6,84.7 469.8,78.1 469.9,83.1 470,77.2 470.1,83.4 470.3,79 470.4,83.8 470.5,78.7 470.6,82.8 470.8,77.9 470.9,84.1 471,77.3 471.1,82.8 471.2,77.4 471.4,84.4 471.5,78.9 471.6,83.6 471.7,78.1 471.9,83.3 472,79.3 472.1,84.5 472.2,79.1 472.4,83.7 472.5,78.5 472.6,84.6 472.7,78.3 472.9,83.5 473,77.3 473.1,83.4 473.2,77.9 473.4,83.1 473.5,77.8 473.6,84.3 473.7,77.7 473.9,83.7 474,79.1 474.1,84 474.2,77.5 474.4,83.3 474.5,79.5 474.6,83 474.7,77.5 474.9,82.6 475,79.5 475.1,82.9 475.2,77.6 475.4,83.5 475.5,78 475.6,84.2 475.7,78.6 475.9,84.3 476,78.6 476.1,83.9 476.2,78.9 476.4,82.7 476.5,78.3 476.6,83.3 476.7,79 476.8,84.7 477,78.8 477.1,82.9 477.2,78.2 477.3,83.9 477.5,79.5 477.6,83.5 477.7,78.3 477.8,83.3 478,77.4 478.1,84.5 478.2,78.5 478.3,84.8 478.5,79.6 478.6,83.2 478.7,77.6 478.8,83.9 479,79.3 479.1,84 479.2,78 479.3,84.1 479.5,79.6 479.6,82.8 479.7,78.8 479.8,82.8 480,79.5 480.1,84.2 480.2,78.7 480.3,82.9 480.5,77.7 480.6,83.6 480.7,77.7 480.8,84.2 481,78.3 481.1,83.7 481.2,78.2 481.3,83.3 481.5,79.2 481.6,84.8 481.7,79.3 481.8,83.7 481.9,78.1 482.1,83.5 482.2,78.9 482.3,84.9 482.4,79.3 482.6,83.4 482.7,77.7 482.8,83.4 482.9,79 483.1,84.8 483.2,79.1 483.3,85.1 483.4,77.9 483.6,84.8 483.7,79.3 483.8,83.3 483.9,78.1 484.1,84.7 484.2,79.3 484.3,83.3 484.4,79.3 484.6,83.2 484.7,78.9 484.8,84 484.9,78.4 485.1,83 485.2,79.4 485.3,83.1 485.4,79.2 485.6,83.3 485.7,77.7 485.8,83.7 485.9,79.5 486.1,84.4 486.2,77.6 486.3,84.7 486.4,78.4 486.6,83.8 486.7,78.9 486.8,83.6 486.9,78 487.1,84.7 487.2,78.8 487.3,84.9 487.4,78.4 487.5,84.5 487.7,79.3 487.8,83.5 487.9,79.4 488,85 488.2,78.1 488.3,85 488.4,78 488.5,84.8 488.7,78.9 488.8,84.7 488.9,79.5 489,84.5 489.2,79.8 489.3,85.2 489.4,77.9 489.5,83.4 489.7,78.2 489.8,84.9 489.9,79.8 490,84.3 490.2,79 490.3,84.4 490.4,77.9 490.5,84.6 490.7,79.5 490.8,84.3 490.9,78.7 491,83 491.2,79.7 491.3,83.8 491.4,79.6 491.5,83.6 491.7,78.4 491.8,85.2 491.9,78.9 492,84.5 492.2,78.3 492.3,84.6 492.4,78.5 492.5,83.1 492.6,78 492.8,83.4 492.9,79.6 493,84.2 493.1,78.7 493.3,84.8 493.4,79.4 493.5,85.2 493.6,78.6 493.8,85 493.9,79 494,83.2 494.1,80 494.3,84.6 494.4,79.1 494.5,84.1 494.6,79.3 494.8,83.5 494.9,79 495,83.7 495.1,78 495.3,83.5 495.4,77.9 495.5,85.1 495.6,79.2 495.8,84.9 495.9,78.8 496,84.2 496.1,78.2 496.3,85 496.4,79.6 496.5,85.2 496.6,80 496.8,83.2 496.9,79 497,83.8 497.1,79.2 497.3,84.3 497.4,79.1 497.5,85.2 497.6,78 497.8,84 497.9,79.5 498,84.7 498.1,79.7 498.2,84.1 498.4,78.5 498.5,83.2 498.6,78.4 498.7,84.9 498.9,79.3 499,83.8 499.1,78.9 499.2,83.9 499.4,78.3 499.5,84.6 499.6,79.5 499.7,85.1 499.9,78.8 500,83.5 500.1,79.2 500.2,84.4 500.4,78 500.5,84 500.6,79.2 500.7,85.5 500.9,79.2 501,85.1 501.1,80 501.2,84.2 501.4,79.8 501.5,85.3 501.6,79 501.7,83.8 501.9,80 502,84.2 502.1,80 502.2,84.4 502.4,78.6 502.5,84 502.6,79.9 502.7,84.1 502.9,79.9 503,85.2 503.1,80 503.2,85 503.3,79.5 503.5,85 503.6,78.5 503.7,83.6 503.8,78.6 504,85.5 504.1,79 504.2,84.8 504.3,79.6 504.5,83.7 504.6,78.6 504.7,85.2 504.8,79.8 505,83.6 505.1,79.5 505.2,84.8 505.3,79.5 505.5,85.6 505.6,78.5 505.7,85.5 505.8,79 506,85.1 506.1,78.2 506.2,83.5 506.3,79 506.5,83.8 506.6,78.5 506.7,83.9 506.8,78.7 507,84.2 507.1,78.9 507.2,85 507.3,78.3 507.5,85.4 507.6,79.4 507.7,85 507.8,80 508,83.6 508.1,78.8 508.2,85.5 508.3,78.7 508.5,84.6 508.6,79 508.7,85.1 508.8,79.1 508.9,84.3 509.1,78.5 509.2,84.3 509.3,78.4 509.4,85.3 509.6,78.6 509.7,85.4 509.8,78.2 509.9,85.7 510.1,79.3 510.2,84.3 510.3,78.8 510.4,85.7 510.6,79 510.7,83.5 510.8,80.4 510.9,84.6 511.1,78.7 511.2,85.5 511.3,79.6 511.4,84.7 511.6,79.3 511.7,83.7 511.8,80.5 511.9,84.7 512.1,79.3 512.2,85.5 512.3,80.1 512.4,85.5 512.6,79.9 512.7,84.8 512.8,78.9 512.9,83.9 513.1,78.3 513.2,85.7 513.3,78.3 513.4,83.6 513.6,79 513.7,85.1 513.8,78.5 513.9,84 514,80.2 514.2,85.4 514.3,79.9 514.4,83.7 514.5,80.3 514.7,85.1 514.8,79.3 514.9,85.3 515,78.7 515.2,83.6 515.3,78.4 515.4,85.6 515.5,78.4 515.7,85.4 515.8,79.7 515.9,84.2 516,78.5 516.2,84.6 516.3,79.5 516.4,85.2 516.5,79 516.7,85.2 516.8,79.2 516.9,84.8 517,78.9 517.2,84.5 517.3,80 517.4,85.7 517.5,78.7 517.7,85.3 517.8,80.2 517.9,83.8 518,78.5 518.2,85.8 518.3,80 518.4,85.1 518.5,80.6 518.7,84.6 518.8,79 518.9,84.5 519,78.8 519.2,85.8 519.3,80.3 519.4,85.3 519.5,79.8 519.6,84.1 519.8,79.9 519.9,84.8 520,78.6 520.1,85.5 520.3,80.7 520.4,83.8 520.5,78.4 520.6,85 520.8,79.3 520.9,84.5 521,78.8 521.1,85 521.3,79.4 521.4,84.3 521.5,78.9 521.6,84.2 521.8,80.4 521.9,85.1 522,78.8 522.1,84.4 522.3,80 522.4,84.1 522.5,79.4 522.6,85.5 522.8,80.5 522.9,85 523,79.5 523.1,84 523.3,79.5 523.4,84.4 523.5,80.3 523.6,86 523.8,80.6 523.9,84.6 524,79.4 524.1,84.7 524.3,80.7 524.4,85.8 524.5,80.2"/>
<polyline fill="none" stroke="#ff00ff" stroke-width="1.45"  points="338,89.2 338.1,83.1 338.2,90.5 338.4,83.1 338.5,89.2 338.6,83.5 338.7,90.2 338.9,84.7 339,90.4 339.1,84.9 339.2,89.7 339.4,84.6 339.5,88.7 339.6,84.9 339.7,90.4 339.9,84.9 340,90.3 340.1,84.9 340.2,89 340.4,84.8 340.5,90.6 340.6,85.1 340.7,90.3 340.9,84.6 341,90.5 341.1,83.6 341.2,88.9 341.4,84.1 341.5,88.7 341.6,84.3 341.7,88.4 341.9,83.7 342,89.6 342.1,84.6 342.2,88.3 342.4,83.1 342.5,88.5 342.6,84.5 342.7,88.3 342.9,84.3 343,89.1 343.1,84 343.2,89 343.3,84.6 343.5,90 343.6,84.6 343.7,89 343.8,84.1 344,88.9 344.1,83.6 344.2,88.5 344.3,84.5 344.5,89.2 344.6,84.7 344.7,90.2 344.8,84.5 345,89.3 345.1,84.2 345.2,90.2 345.3,84.8 345.5,90.2 345.6,83.1 345.7,88.9 345.8,84.9 346,90.1 346.1,84.5 346.2,88.8 346.3,85 346.5,89.7 346.6,83.1 346.7,90.2 346.8,83.9 347,89.2 347.1,83 347.2,89.7 347.3,83 347.5,89.8 347.6,83.6 347.7,89.8 347.8,84.9 348,88.8 348.1,85.1 348.2,90.4 348.3,83 348.5,89.7 348.6,84.9 348.7,88.6 348.8,84.2 348.9,89.2 349.1,84.8 349.2,88.5 349.3,83.8 349.4,90.1 349.6,85.1 349.7,89 349.8,84.6 349.9,89.5 350.1,83.9 350.2,89.2 350.3,83.3 350.4,89.2 350.6,84.5 350.7,90 350.8,83.3 350.9,90.2 351.1,84.8 351.2,88.7 351.3,84.1 351.4,90.4 351.6,83.8 351.7,89.6 351.8,84.4 351.9,90.5 352.1,84.8 352.2,89.5 352.3,83.7 352.4,90.1 352.6,83.4 352.7,89.2 352.8,84.6 352.9,90.5 353.1,84 353.2,89 353.3,85 353.4,90.2 353.6,83.3 353.7,89.6 353.8,84.4 353.9,89.8 354,83 354.2,89.6 354.3,83.5 354.4,90.3 354.5,83.5 354.7,89.4 354.8,84.8 354.9,89.8 355,83.3 355.2,90.4 355.3,84.8 355.4,88.5 355.5,83.7 355.7,90.1 355.8,85 355.9,89.6 356,84.6 356.2,90.5 356.3,84.4 356.4,88.4 356.5,83.4 356.7,89 356.8,84.3 356.9,88.6 357,84.5 357.2,88.6 357.3,84.7 357.4,89.6 357.5,84.6 357.7,89.8 357.8,83.2 357.9,89.6 358,85.2 358.2,90.5 358.3,84.8 358.4,89.1 358.5,84 358.7,89.7 358.8,84.5 358.9,89.5 359,84 359.2,89.6 359.3,84.9 359.4,89.6 359.5,84.6 359.6,89.3 359.8,84.1 359.9,89.9 360,84.7 360.1,90.8 360.3,84.2 360.4,91.2 360.5,86 360.6,92.9 360.8,87.6 360.9,93.6 361,87.9 361.1,93.8 361.3,88 361.4,95.4 361.5,88.3 361.6,96.5 361.8,90.8 361.9,95.7 362,89 362.1,94.2 362.3,88.7 362.4,95.4 362.5,88 362.6,91.4 362.8,85.8 362.9,89.8 363,83.5 363.1,87.6 363.3,79.6 363.4,85.5 363.5,78 363.6,82.5 363.8,77.8 363.9,83.6 364,76.3 364.1,83.4 364.3,76.5 364.4,83.3 364.5,77 364.6,83.7 364.7,80.7 364.9,87 365,83.1 365.1,89.2 365.2,85.4 365.4,91.7 365.5,86.8 365.6,93.4 365.7,88.5 365.9,94.8 366,87.9 366.1,93.4 366.2,86.3 366.4,93.2 366.5,84.7 366.6,89.8 366.7,84.5 366.9,87.1 367,79.1 367.1,84.8 367.2,76.1 367.4,82.5 367.5,75.4 367.6,79.1 367.7,72.6 367.9,77.7 368,70.3 368.1,76.2 368.2,69.9 368.4,77.9 368.5,72.6 368.6,80.2 368.7,74.9 368.9,82.6 369,77.2 369.1,84.8 369.2,80.7 369.4,86.9 369.5,81.6 369.6,90.4 369.7,84.8 369.9,92.5 370,84.6 370.1,91.3 370.2,84.2 370.3,90.1 370.5,83.8 370.6,88.8 370.7,82.3 370.8,86.4 371,77.9 371.1,82.6 371.2,73.8 371.3,80.2 371.5,71.6 371.6,74.7 371.7,67.1 371.8,72.4 372,65.7 372.1,71 372.2,63.7 372.3,71.8 372.5,63.4 372.6,72.6 372.7,66.7 372.8,75.1 373,68.5 373.1,76.2 373.2,71.2 373.3,79.9 373.5,75.4 373.6,84.5 373.7,77.8 373.8,87 374,79.6 374.1,86.8 374.2,83.1 374.3,87.3 374.5,81 374.6,86.5 374.7,80.3 374.8,83.3 375,75.7 375.1,80.2 375.2,71.2 375.3,76.2 375.4,66.6 375.6,72.8 375.7,63.8 375.8,68.1 375.9,61.4 376.1,65.3 376.2,59.1 376.3,64.3 376.4,59.1 376.6,65 376.7,60.4 376.8,67.8 376.9,61.5 377.1,68.7 377.2,65.7 377.3,73 377.4,70.1 377.6,77.5 377.7,73.8 377.8,80.1 377.9,75.4 378.1,83.3 378.2,77.4 378.3,84.6 378.4,78.3 378.6,83.9 378.7,77.4 378.8,82.6 378.9,75.3 379.1,80.6 379.2,72.1 379.3,75.2 379.4,67.9 379.6,72.7 379.7,62.6 379.8,68.4 379.9,60.5 380.1,65.7 380.2,56.8 380.3,62.8 380.4,56.2 380.6,63.7 380.7,57.3 380.8,63.2 380.9,58.4 381,65.6 381.2,61.9 381.3,69.7 381.4,63.7 381.5,72.2 381.7,69.8 381.8,76.9 381.9,70.7 382,78.5 382.2,74 382.3,80.3 382.4,75.5 382.5,81.2 382.7,75.2 382.8,81.1 382.9,73.7 383,78.7 383.2,72.6 383.3,75.4 383.4,68.6 383.5,71.6 383.7,65 383.8,68.8 383.9,60.6 384,66.2 384.2,57.4 384.3,62.8 384.4,54.9 384.5,62.4 384.7,54.6 384.8,60.2 384.9,55.7 385,61.6 385.2,57.3 385.3,64.2 385.4,60.4 385.5,67.7 385.7,63 385.8,71.1 385.9,67.1 386,76.1 386.1,71.1 386.3,78.4 386.4,73.1 386.5,79 386.6,74.2 386.8,78.5 386.9,72.5 387,77.5 387.1,72.1 387.3,75.2 387.4,67.5 387.5,73.2 387.6,64.9 387.8,69.6 387.9,60.2 388,66.1 388.1,57.6 388.3,62.2 388.4,55 388.5,62 388.6,53.4 388.8,59.7 388.9,52.4 389,59.1 389.1,55.9 389.3,63 389.4,55.9 389.5,63.9 389.6,61.7 389.8,67.2 389.9,63.7 390,71.2 390.1,67.2 390.3,75.8 390.4,71.5 390.5,78.6 390.6,72.6 390.8,78.9 390.9,72.7 391,78 391.1,71.6 391.3,75.5 391.4,69.4 391.5,73.5 391.6,66.4 391.7,69.7 391.9,62.8 392,67.5 392.1,57.3 392.2,62.6 392.4,54.4 392.5,61 392.6,54.3 392.7,57.6 392.9,51.1 393,57.9 393.1,53.6 393.2,60.1 393.4,53.7 393.5,63 393.6,57 393.7,64.5 393.9,60.9 394,67.8 394.1,63.6 394.2,73.3 394.4,68.4 394.5,74.7 394.6,70.1 394.7,75.8 394.9,70.8 395,79 395.1,71.6 395.2,77.5 395.4,68.5 395.5,74.2 395.6,65.8 395.7,72.4 395.9,63.1 396,67.2 396.1,60.3 396.2,63.1 396.4,54.9 396.5,61.7 396.6,54.1 396.7,58.4 396.8,51.8 397,57.7 397.1,50.2 397.2,58.4 397.3,50.7 397.5,57.5 397.6,53.8 397.7,61.5 397.8,55.4 398,64.5 398.1,61.2 398.2,68 398.3,64.7 398.5,71.2 398.6,67.6 398.7,74.2 398.8,69.4 399,77.5 399.1,69 399.2,75.7 399.3,69.6 399.5,75.9 399.6,68.8 399.7,73 399.8,65.7 400,69.2 400.1,61.7 400.2,66.6 400.3,58.2 400.5,62.2 400.6,53.7 400.7,58.5 400.8,50.2 401,56.5 401.1,50.4 401.2,56.7 401.3,50 401.5,57.5 401.6,52.2 401.7,57.9 401.8,53.2 401.9,61.5 402.1,56.1 402.2,64.6 402.3,61.5 402.4,70 402.6,64.6 402.7,71.2 402.8,67.9 402.9,75.4 403.1,69.6 403.2,75.9 403.3,68.4 403.4,75.8 403.6,67.6 403.7,75 403.8,66.5 403.9,71.8 404.1,62.3 404.2,66.1 404.3,59.4 404.4,62.2 404.6,55.2 404.7,59.5 404.8,50.5 404.9,54.4 405.1,47 405.2,54 405.3,47 405.4,52.3 405.6,47.3 405.7,55.5 405.8,48.8 405.9,56.8 406.1,51.8 406.2,60.6 406.3,55.8 406.4,63.9 406.6,61.4 406.7,67.5 406.8,63.3 406.9,70.8 407.1,67.6 407.2,74.5 407.3,68.3 407.4,76 407.5,69 407.7,73 407.8,67.7 407.9,72.1 408,64.8 408.2,69.1 408.3,60.6 408.4,65.4 408.5,57.4 408.7,61.5 408.8,54.8 408.9,61.3 409,51.6 409.2,58.7 409.3,50.3 409.4,57.2 409.5,52.2 409.7,58.4 409.8,52.8 409.9,61.2 410,55.2 410.2,61.6 410.3,57.4 410.4,65.1 410.5,60 410.7,68.2 410.8,64.6 410.9,70.8 411,67.1 411.2,74.2 411.3,68.8 411.4,73.8 411.5,68.7 411.7,75.9 411.8,69.7 411.9,74.3 412,68.7 412.2,71.7 412.3,66 412.4,70.4 412.5,62.6 412.6,67.5 412.8,61.1 412.9,67.5 413,60 413.1,65.4 413.3,59.3 413.4,63.9 413.5,59.4 413.6,65.7 413.8,59.9 413.9,64.4 414,59.2 414.1,66.8 414.3,61.6 414.4,68.3 414.5,64.6 414.6,71.8 414.8,66.8 414.9,72.5 415,67.1 415.1,74.2 415.3,68.1 415.4,75.1 415.5,70.1 415.6,76.6 415.8,70.5 415.9,77.2 416,71.4 416.1,76.1 416.3,68.7 416.4,73.8 416.5,68.3 416.6,73.8 416.8,67.5 416.9,73 417,66 417.1,72.6 417.3,64.7 417.4,72 417.5,64.2 417.6,71.9 417.8,66.2 417.9,71 418,67.3 418.1,72.1 418.2,68.1 418.4,74.1 418.5,67.8 418.6,75.1 418.7,69.7 418.9,75.8 419,71 419.1,77.8 419.2,72.5 419.4,77.1 419.5,71.7 419.6,77.2 419.7,71.4 419.9,78.2 420,72.7 420.1,77.1 420.2,72.8 420.4,78.2 420.5,72.4 420.6,76.4 420.7,71.2 420.9,76.5 421,70 421.1,77 421.2,69.9 421.4,77.1 421.5,69.4 421.6,75.5 421.7,69.9 421.9,75.4 422,71 422.1,75.5 422.2,71.6 422.4,76 422.5,71.9 422.6,77.7 422.7,72.5 422.9,76.9 423,72.9 423.1,78 423.2,73 423.3,78.8 423.5,74 423.6,79.3 423.7,74.7 423.8,81.4 424,75.4 424.1,80.8 424.2,75.2 424.3,79.7 424.5,76.2 424.6,81.4 424.7,75.2 424.8,80.8 425,74.8 425.1,80.9 425.2,75.1 425.3,79.8 425.5,74.1 425.6,80.5 425.7,75.4 425.8,79.5 426,74.4 426.1,80.3 426.2,75.5 426.3,80.6 426.5,74.7 426.6,81.5 426.7,76.3 426.8,81.3 427,76.7 427.1,81.8 427.2,77 427.3,83.6 427.5,78.4 427.6,84 427.7,78.7 427.8,82.3 428,78.6 428.1,83 428.2,77.2 428.3,84.5 428.5,77.2 428.6,83.6 428.7,79.5 428.8,84.2 428.9,77.5 429.1,83 429.2,77.7 429.3,82.8 429.4,77.9 429.6,84 429.7,77.5 429.8,84.9 429.9,79.5 430.1,84 430.2,79.1 430.3,83.9 430.4,79.6 430.6,83.8 430.7,79 430.8,83.2 430.9,79.1 431.1,85.7 431.2,80.5 431.3,86.2 431.4,79.8 431.6,84.8 431.7,79.1 431.8,85.8 431.9,80.7 432.1,85.9 432.2,79.9 432.3,85.5 432.4,81.6 432.6,85.9 432.7,82 432.8,87.2 432.9,80.8 433.1,86.4 433.2,79.7 433.3,85.9 433.4,80.8 433.6,85.7 433.7,80 433.8,84.9 433.9,80.4 434,84.8 434.2,79.1 434.3,84.3 434.4,78.5 434.5,84.6 434.7,80.4 434.8,84.6 434.9,80.5 435,85.6 435.2,80.4 435.3,87.4 435.4,82 435.5,87.8 435.7,82.4 435.8,87.5 435.9,83.4 436,89.1 436.2,83.3 436.3,89 436.4,84.4 436.5,89.2 436.7,83.9 436.8,88.5 436.9,82.7 437,87.6 437.2,82.7 437.3,88.7 437.4,83.1 437.5,87.3 437.7,82.5 437.8,86 437.9,81.3 438,86.3 438.2,80.5 438.3,87 438.4,80.2 438.5,85.7 438.7,80.8 438.8,86.7 438.9,80.3 439,87 439.2,81.5 439.3,86.3 439.4,81.2 439.5,87.2 439.6,82.9 439.8,89.2 439.9,83.9 440,89.8 440.1,84.3 440.3,88.3 440.4,84 440.5,90.1 440.6,84.3 440.8,90.1 440.9,84.2 441,89.8 441.1,84.5 441.3,88.2 441.4,84 441.5,88.8 441.6,82.7 441.8,88 441.9,82.7 442,87.8 442.1,80.6 442.3,85.9 442.4,81.9 442.5,87.5 442.6,80.6 442.8,87.6 442.9,82.1 443,87.1 443.1,82.8 443.3,87.2 443.4,82.1 443.5,87.3 443.6,83 443.8,88.1 443.9,84.3 444,87.9 444.1,83.2 444.3,88.2 444.4,83.1 444.5,90.5 444.6,83.2 444.7,90.3 444.9,85.5 445,88.7 445.1,84.6 445.2,88.6 445.4,84.8 445.5,89.9 445.6,82.5 445.7,89.1 445.9,83.5 446,88.9 446.1,81.8 446.2,87.3 446.4,83.1 446.5,86.6 446.6,82.3 446.7,88.1 446.9,83 447,87.3 447.1,82.6 447.2,88.6 447.4,83.3 447.5,88.4 447.6,83.4 447.7,88.9 447.9,82.7 448,89.8 448.1,83.1 448.2,89 448.4,84.8 448.5,88.9 448.6,85.1 448.7,89.1 448.9,84 449,88.9 449.1,85.3 449.2,90.5 449.4,83.8 449.5,90.7 449.6,84.4 449.7,88.2 449.9,83 450,88.4 450.1,82.7 450.2,87.4 450.3,84.1 450.5,88.4 450.6,82.4 450.7,88.2 450.8,82.6 451,88.3 451.1,83.6 451.2,87.2 451.3,83.3 451.5,88.5 451.6,83.9 451.7,88.1 451.8,83.8 452,89 452.1,84.6 452.2,90.6 452.3,83.4 452.5,88.9 452.6,84.8 452.7,89.6 452.8,85.3 453,89.2 453.1,85.9 453.2,89.2 453.3,85.7 453.5,90.4 453.6,85.6 453.7,90.7 453.8,83.7 454,89 454.1,83.6 454.2,90.3 454.3,84.6 454.5,89.1 454.6,83.6 454.7,88.3 454.8,83.9 455,87.7 455.1,83 455.2,88 455.3,83.6 455.4,89.9 455.6,84 455.7,88.7 455.8,83 455.9,89.6 456.1,84.1 456.2,89.1 456.3,84.2 456.4,89.7 456.6,84.7 456.7,90 456.8,85.9 456.9,91.2 457.1,84.6 457.2,91.4 457.3,85.5 457.4,89.8 457.6,85.8 457.7,89.8 457.8,85.2 457.9,89.3 458.1,85.1 458.2,89.3 458.3,83.6 458.4,89.5 458.6,83.5 458.7,88.4 458.8,84.8 458.9,90.4 459.1,85.1 459.2,88.4 459.3,84 459.4,88.9 459.6,84.9 459.7,89.8 459.8,84.1 459.9,89 460.1,84.4 460.2,89.8 460.3,83.9 460.4,89.1 460.6,85.5 460.7,90.4 460.8,86.1 460.9,91.2 461,84 461.2,90 461.3,84.5 461.4,89.9 461.5,84.1 461.7,89.7 461.8,86.2 461.9,89.3 462,85 462.2,89.2 462.3,83.8 462.4,90.4 462.5,84.6 462.7,90.3 462.8,84.8 462.9,90.8 463,84.1 463.2,89.7 463.3,85.1 463.4,89.1 463.5,85 463.7,89.6 463.8,85.6 463.9,91 464,85.3 464.2,90.2 464.3,85.8 464.4,90.3 464.5,84.6 464.7,89.3 464.8,83.9 464.9,89.6 465,85.7 465.2,91 465.3,85.5 465.4,91.3 465.5,85.8 465.7,90.1 465.8,84.7 465.9,91.3 466,84.2 466.1,89.9 466.3,84.9 466.4,90.1 466.5,84.5 466.6,89.5 466.8,84 466.9,90.6 467,85.5 467.1,89.6 467.3,85.1 467.4,91 467.5,84.8 467.6,90.3 467.8,83.7 467.9,89.8 468,83.7 468.1,89.6 468.3,85.9 468.4,89.3 468.5,84.5 468.6,90 468.8,84.3 468.9,90.5 469,84.7 469.1,90.1 469.3,85 469.4,91 469.5,85.5 469.6,90.5 469.8,84.4 469.9,91.5 470,85.5 470.1,89.5 470.3,84.3 470.4,90.3 470.5,84 470.6,90.9 470.8,85.2 470.9,91 471,84.8 471.1,90.6 471.2,83.9 471.4,90.3 471.5,83.7 471.6,89.9 471.7,85 471.9,90.4 472,85 472.1,90.6 472.2,84.8 472.4,90.8 472.5,84.2 472.6,90.5 472.7,84.1 472.9,91 473,84.3 473.1,89.4 473.2,86.3 473.4,90.9 473.5,85.6 473.6,91.4 473.7,85.5 473.9,91.1 474,85.8 474.1,90.8 474.2,84.3 474.4,91.3 474.5,85.4 474.6,90.4 474.7,85 474.9,90 475,85 475.1,91.3 475.2,84.1 475.4,89.8 475.5,84.5 475.6,91.2 475.7,85.2 475.9,91 476,84.2 476.1,91.1 476.2,85.9 476.4,91.2 476.5,83.9 476.6,89.7 476.7,84.8 476.8,89.5 477,84.9 477.1,91 477.2,84.7 477.3,91.4 477.5,85.7 477.6,89.7 477.7,84.6 477.8,89.5 478,85.9 478.1,90 478.2,84.7 478.3,90.5 478.5,84.5 478.6,90.9 478.7,84.4 478.8,91.1 479,84.3 479.1,89.9 479.2,85.4 479.3,90.6 479.5,84.8 479.6,90.9 479.7,84.3 479.8,89.8 480,85.8 480.1,90.8 480.2,84.6 480.3,89.8 480.5,86 480.6,89.3 480.7,85.7 480.8,89.9 481,85.8 481.1,89.5 481.2,86 481.3,90.2 481.5,86.2 481.6,90 481.7,85.5 481.8,91.5 481.9,84.5 482.1,90.5 482.2,86.2 482.3,90.1 482.4,84.9 482.6,90.4 482.7,85.1 482.8,91.1 482.9,84.9 483.1,91.3 483.2,86.1 483.3,90 483.4,86.2 483.6,90.5 483.7,84.8 483.8,89.8 483.9,86.1 484.1,90.3 484.2,85.8 484.3,89.7 484.4,85.4 484.6,91.4 484.7,85.5 484.8,91 484.9,85.5 485.1,90.3 485.2,86.1 485.3,89.9 485.4,84.7 485.6,90.5 485.7,85.9 485.8,91.8 485.9,84.5 486.1,90.2 486.2,85.6 486.3,90.9 486.4,86.2 486.6,90.5 486.7,85.9 486.8,91.4 486.9,86.3 487.1,91.7 487.2,85.9 487.3,90.2 487.4,86.2 487.5,91.5 487.7,84.4 487.8,89.5 487.9,85.1 488,90.2 488.2,84.9 488.3,90.1 488.4,84.1 488.5,89.9 488.7,84.5 488.8,90 488.9,84.9 489,90.4 489.2,85.2 489.3,90.7 489.4,85.1 489.5,89.7 489.7,86.4 489.8,91.8 489.9,86 490,90.4 490.2,86 490.3,91.1 490.4,84.3 490.5,90.5 490.7,85.8 490.8,90.4 490.9,86.5 491,89.8 491.2,86.4 491.3,90.3 491.4,84.2 491.5,89.8 491.7,85.2 491.8,89.9 491.9,86.3 492,91.4 492.2,86.1 492.3,89.8 492.4,84.5 492.5,90 492.6,86 492.8,91.6 492.9,86 493,91.4 493.1,85.8 493.3,90.8 493.4,85.8 493.5,90.4 493.6,84.4 493.8,91.7 493.9,86.2 494,91.3 494.1,86.3 494.3,90.4 494.4,86.5 494.5,91.2 494.6,85 494.8,91.4 494.9,84.9 495,90.6 495.1,86.2 495.3,89.6 495.4,85.6 495.5,91.7 495.6,85.5 495.8,91 495.9,84.4 496,91.5 496.1,84.8 496.3,90.9 496.4,86 496.5,91.3 496.6,85.6 496.8,91.2 496.9,86 497,91.7 497.1,86.2 497.3,91.4 497.4,84.5 497.5,90 497.6,84.6 497.8,91.1 497.9,85.3 498,90.3 498.1,85.9 498.2,90.2 498.4,85.7 498.5,91.2 498.6,85 498.7,91.3 498.9,85.9 499,90.5 499.1,84.9 499.2,91.9 499.4,86.2 499.5,90.6 499.6,86 499.7,91.9 499.9,86.6 500,91.7 500.1,84.9 500.2,90.4 500.4,85.1 500.5,90.5 500.6,85.2 500.7,90.6 500.9,84.5 501,90.7 501.1,84.8 501.2,91 501.4,85.8 501.5,91.9 501.6,86.2 501.7,91.8 501.9,84.5 502,91.7 502.1,85.3 502.2,91.2 502.4,84.6 502.5,90.8 502.6,84.9 502.7,91.5 502.9,84.8 503,90.8 503.1,85.2 503.2,90 503.3,86.6 503.5,90 503.6,85 503.7,90.6 503.8,84.6 504,89.9 504.1,86.3 504.2,91.6 504.3,85.7 504.5,90.2 504.6,84.9 504.7,90.3 504.8,84.5 505,90.4 505.1,84.8 505.2,90.9 505.3,84.6 505.5,90.4 505.6,84.6 505.7,90.5 505.8,85.7 506,91.2 506.1,85.5 506.2,91.3 506.3,85.2 506.5,90.4 506.6,86.8 506.7,91.5 506.8,85.4 507,91.1 507.1,85.7 507.2,91.9 507.3,86.1 507.5,91.9 507.6,86.4 507.7,91.4 507.8,84.6 508,90.2 508.1,85 508.2,90.5 508.3,86.7 508.5,90.8 508.6,85.2 508.7,90.5 508.8,84.6 508.9,89.8 509.1,86.2 509.2,90.6 509.3,86 509.4,90.5 509.6,86.8 509.7,90.3 509.8,86.2 509.9,91.4 510.1,86 510.2,91.5 510.3,85.8 510.4,90.6 510.6,86.5 510.7,90.4 510.8,84.8 510.9,90.9 511.1,86.1 511.2,90.4 511.3,84.9 511.4,91.5 511.6,85.3 511.7,91.7 511.8,86.3 511.9,91.5 512.1,86.7 512.2,91.4 512.3,86.1 512.4,91.4 512.6,86.4 512.7,90.7 512.8,85.4 512.9,92 513.1,86.1 513.2,90.3 513.3,86.6 513.4,91.4 513.6,84.9 513.7,90 513.8,86.1 513.9,90.3 514,84.8 514.2,90.2 514.3,86.8 514.4,91.7 514.5,84.7 514.7,91.7 514.8,86.7 514.9,90.9 515,85.8 515.2,92 515.3,85.2 515.4,90.1 515.5,85.9 515.7,91.7 515.8,85.7 515.9,91.5 516,84.8 516.2,92.2 516.3,85.1 516.4,91.2 516.5,86.3 516.7,90.3 516.8,86.6 516.9,91.4 517,85.2 517.2,91.9 517.3,84.9 517.4,90.6 517.5,86.2 517.7,90.4 517.8,85.8 517.9,92.1 518,85.3 518.2,91 518.3,86.6 518.4,91.9 518.5,85 518.7,91.7 518.8,86.3 518.9,90.9 519,85.7 519.2,92.1 519.3,86.5 519.4,90.9 519.5,86.9 519.6,90 519.8,86.5 519.9,91.8 520,85.5 520.1,91.1 520.3,86.1 520.4,90.6 520.5,85.3 520.6,91.1 520.8,86.9 520.9,91.4 521,84.8 521.1,90.2 521.3,84.8 521.4,90.3 521.5,86.4 521.6,92.2 521.8,84.9 521.9,90.5 522,85.5 522.1,91.4 522.3,86.2 522.4,91.8 522.5,85.7 522.6,90.6 522.8,86 522.9,91.6 523,85.7 523.1,91.3 523.3,85.5 523.4,90.4 523.5,87 523.6,90.1 523.8,85.7 523.9,91 524,85.3 524.1,92.2 524.3,86.9 524.4,90.9 524.5,86.2"/>
<polyline fill="none" stroke="#000000" stroke-width="1.1"  points="338,104.7 338.1,99.2 338.2,104.8 338.4,100.4 338.5,104.9 338.6,100.3 338.7,104.7 338.9,100.8 339,104.7 339.1,100 339.2,104.9 339.4,99.9 339.5,104.8 339.6,99.5 339.7,103.9 339.9,99.5 340,104.9 340.1,99.6 340.2,104.4 340.4,100.8 340.5,105.4 340.6,99.3 340.7,105.6 340.9,100.1 341,105.4 341.1,99.3 341.2,104.7 341.4,99.2 341.5,105.2 341.6,100.8 341.7,103.9 341.9,100.2 342,104.7 342.1,99.7 342.2,104.7 342.4,99.2 342.5,105.2 342.6,100.8 342.7,104.3 342.9,99.2 343,105.1 343.1,100.9 343.2,104.9 343.3,100.7 343.5,104.6 343.6,99 343.7,103.8 343.8,99.3 344,104.6 344.1,99 344.2,105.3 344.3,100.9 344.5,104.9 344.6,99.3 344.7,104.2 344.8,99.6 345,104.1 345.1,100.6 345.2,104.3 345.3,100.4 345.5,105.5 345.6,100.5 345.7,104.5 345.8,100 346,105 346.1,99.1 346.2,104.8 346.3,99.3 346.5,103.9 346.6,99.7 346.7,104 346.8,99.3 347,104.8 347.1,100.7 347.2,105.3 347.3,99.9 347.5,104.6 347.6,100.8 347.7,105.4 347.8,100 348,105.3 348.1,100.8 348.2,105 348.3,100.2 348.5,104.7 348.6,99.7 348.7,105.3 348.8,99.2 348.9,104 349.1,99.3 349.2,103.9 349.3,101 349.4,104.2 349.6,100.4 349.7,105.1 349.8,99.9 349.9,104.4 350.1,99.4 350.2,105.5 350.3,99.7 350.4,104.9 350.6,99.3 350.7,104.2 350.8,99 350.9,104 351.1,100.9 351.2,105.2 351.3,100.6 351.4,104.3 351.6,100 351.7,103.8 351.8,100.1 351.9,104.3 352.1,100.8 352.2,104.8 352.3,100.1 352.4,103.9 352.6,99.4 352.7,104.4 352.8,100.9 352.9,105.4 353.1,100.2 353.2,103.8 353.3,100.4 353.4,104.1 353.6,100.9 353.7,104.3 353.8,100.6 353.9,104 354,99.6 354.2,103.9 354.3,100.9 354.4,104 354.5,100.4 354.7,103.9 354.8,99.8 354.9,105.4 355,99.3 355.2,104.6 355.3,99.4 355.4,105.2 355.5,99.7 355.7,105.2 355.8,100.2 355.9,105.1 356,99.9 356.2,105.1 356.3,99.5 356.4,103.8 356.5,99.3 356.7,103.7 356.8,100.1 356.9,104.8 357,99.3 357.2,103.7 357.3,99.7 357.4,104.3 357.5,100.9 357.7,104.3 357.8,99.7 357.9,103.8 358,99.3 358.2,103.7 358.3,100.5 358.4,104.3 358.5,100.9 358.7,105.5 358.8,99.2 358.9,105.7 359,101 359.2,105.8 359.3,101 359.4,105 359.5,100.6 359.6,104.9 359.8,102.2 359.9,106.8 360,101.8 360.1,106.9 360.3,102 360.4,105.8 360.5,102.3 360.6,106.5 360.8,103.6 360.9,106.7 361,103.5 361.1,107.8 361.3,104.1 361.4,109.3 361.5,103.1 361.6,108.8 361.8,104.3 361.9,108.8 362,103.2 362.1,108.2 362.3,103.8 362.4,107.2 362.5,103.1 362.6,106.8 362.8,101.6 362.9,106.5 363,101.3 363.1,106.6 363.3,100.6 363.4,104.5 363.5,100.5 363.6,105.3 363.8,100.5 363.9,103.4 364,98.9 364.1,104.3 364.3,98.2 364.4,103.8 364.5,98.3 364.6,103 364.7,99.6 364.9,103.6 365,99.6 365.1,104.1 365.2,99.7 365.4,102.7 365.5,98.1 365.6,103 365.7,98.9 365.9,102.8 366,98 366.1,102.5 366.2,98.3 366.4,103.8 366.5,98.7 366.6,101.6 366.7,98.6 366.9,101.1 367,96.5 367.1,101.3 367.2,95.4 367.4,100.7 367.5,95.3 367.6,99.1 367.7,95.3 367.9,100 368,93.3 368.1,98.5 368.2,93.3 368.4,98.8 368.5,94.2 368.6,97.7 368.7,93.2 368.9,99.3 369,92.9 369.1,98.3 369.2,94.9 369.4,98.4 369.5,95.1 369.6,99.9 369.7,94.8 369.9,99.8 370,95 370.1,100 370.2,94.4 370.3,99.6 370.5,94 370.6,99.1 370.7,94.6 370.8,97.3 371,93.5 371.1,98.3 371.2,91.8 371.3,97.3 371.5,91.7 371.6,95.3 371.7,90.4 371.8,95.9 372,90.4 372.1,95.7 372.2,90.8 372.3,94.9 372.5,89.6 372.6,95 372.7,90.7 372.8,94.9 373,89.1 373.1,94.8 373.2,90.7 373.3,95.6 373.5,91.1 373.6,94.5 373.7,89.8 373.8,95.4 374,91 374.1,95.9 374.2,90.4 374.3,94.5 374.5,91 374.6,95.6 374.7,89.6 374.8,93.8 375,89.7 375.1,94.5 375.2,89.5 375.3,92.6 375.4,88.7 375.6,93.6 375.7,87.4 375.8,91.5 375.9,86.5 376.1,91.9 376.2,87.1 376.3,90.6 376.4,86.9 376.6,90.6 376.7,86.3 376.8,90.2 376.9,85.3 377.1,91.2 377.2,86.2 377.3,91.8 377.4,86.1 377.6,92.1 377.7,86.1 377.8,91.8 377.9,86.6 378.1,92.3 378.2,86.7 378.3,92.6 378.4,87.5 378.6,91.5 378.7,87.6 378.8,92.4 378.9,86 379.1,91.1 379.2,86.6 379.3,90 379.4,84.9 379.6,90.5 379.7,84.3 379.8,89.8 379.9,84.6 380.1,89.5 380.2,83.4 380.3,89.2 380.4,84 380.6,88.2 380.7,82.6 380.8,88.1 380.9,82.8 381,88.1 381.2,82.8 381.3,87.3 381.4,84.7 381.5,87.6 381.7,84.1 381.8,88.5 381.9,83.4 382,90 382.2,85.2 382.3,89.9 382.4,84.6 382.5,90 382.7,84.9 382.8,89.7 382.9,85.4 383,88.9 383.2,84.5 383.3,88 383.4,84 383.5,87.8 383.7,83.1 383.8,87.4 383.9,82 384,87.4 384.2,81 384.3,86.6 384.4,81.9 384.5,86 384.7,81.2 384.8,85 384.9,81.2 385,84.9 385.2,80.8 385.3,84.7 385.4,80.9 385.5,85.5 385.7,82.2 385.8,85.5 385.9,80.6 386,86.4 386.1,82.7 386.3,86.8 386.4,81.7 386.5,86.1 386.6,82.5 386.8,86.4 386.9,82.2 387,87.5 387.1,82.7 387.3,85.9 387.4,82.6 387.5,86.5 387.6,82.3 387.8,85.9 387.9,80.3 388,85.8 388.1,80.1 388.3,83.8 388.4,80.1 388.5,83.9 388.6,79.6 388.8,83.4 388.9,80.1 389,84.8 389.1,78.6 389.3,83.2 389.4,78.8 389.5,83.3 389.6,80 389.8,85.4 389.9,79.2 390,84.8 390.1,80 390.3,85 390.4,80.1 390.5,85.2 390.6,81.6 390.8,85 390.9,80.9 391,85.9 391.1,80.3 391.3,84.9 391.4,80.3 391.5,86.2 391.6,80 391.7,84.2 391.9,80.8 392,83.6 392.1,79.9 392.2,84.4 392.4,79.7 392.5,83.3 392.6,79.5 392.7,83.4 392.9,79.1 393,83.4 393.1,77.9 393.2,82.1 393.4,77.7 393.5,82.5 393.6,78.3 393.7,83.2 393.9,79 394,83.2 394.1,78.4 394.2,84.5 394.4,78.6 394.5,84.3 394.6,78.9 394.7,83.7 394.9,78.9 395,83.6 395.1,79.2 395.2,85.1 395.4,80.1 395.5,85 395.6,78.7 395.7,83.4 395.9,78.9 396,82.7 396.1,78.4 396.2,82.3 396.4,77.9 396.5,81.7 396.6,78 396.7,82.9 396.8,77.8 397,82.8 397.1,77.2 397.2,81.1 397.3,76.2 397.5,81 397.6,77 397.7,82.8 397.8,76.5 398,82.3 398.1,78.3 398.2,82.5 398.3,78.5 398.5,82.6 398.6,78.9 398.7,82.7 398.8,79.7 399,84 399.1,80 399.2,83.8 399.3,79.3 399.5,83.9 399.6,78.7 399.7,83.3 399.8,78 400,83.2 400.1,77.4 400.2,82.7 400.3,76.9 400.5,82.8 400.6,76.8 400.7,81.2 400.8,76.8 401,80.3 401.1,75.9 401.2,81.2 401.3,75.6 401.5,80 401.6,76.9 401.7,81.1 401.8,75.8 401.9,80.2 402.1,77.5 402.2,81 402.3,77.3 402.4,80.9 402.6,78.1 402.7,81.6 402.8,78.7 402.9,81.8 403.1,78.9 403.2,82.4 403.3,77.6 403.4,83 403.6,77.9 403.7,82.6 403.8,78.5 403.9,81.4 404.1,78.2 404.2,82.8 404.3,76.5 404.4,81.6 404.6,76.4 404.7,81.5 404.8,75.5 404.9,80 405.1,75.1 405.2,80.5 405.3,75.9 405.4,79.6 405.6,76 405.7,80 405.8,74.4 405.9,80.6 406.1,76.2 406.2,79.6 406.3,76.3 406.4,80 406.6,76.9 406.7,81.5 406.8,76.9 406.9,81.5 407.1,77.2 407.2,82.6 407.3,76.9 407.4,81 407.5,76.6 407.7,81.3 407.8,77.1 407.9,81.1 408,76.8 408.2,80.9 408.3,76.8 408.4,80.2 408.5,75.3 408.7,80.2 408.8,76.5 408.9,80.5 409,76.8 409.2,80.1 409.3,76.3 409.4,80.9 409.5,76.2 409.7,80.7 409.8,76.2 409.9,81.8 410,77.4 410.2,81.3 410.3,77.2 410.4,82.2 410.5,77.4 410.7,82 410.8,78.6 410.9,83.4 411,79.9 411.2,85 411.3,80.5 411.4,85.3 411.5,79.7 411.7,86.1 411.8,81.5 411.9,84.8 412,81.8 412.2,85.3 412.3,80.2 412.4,86 412.5,81.7 412.6,84.9 412.8,80.6 412.9,85.9 413,82 413.1,85.9 413.3,81.8 413.4,85.5 413.5,82.2 413.6,87.1 413.8,81.8 413.9,86.8 414,82.7 414.1,86.8 414.3,82.4 414.4,88.1 414.5,82.5 414.6,87.8 414.8,84.5 414.9,88.8 415,85.1 415.1,90.3 415.3,85.6 415.4,90 415.5,85.9 415.6,91 415.8,86.7 415.9,90.3 416,86.4 416.1,90.9 416.3,86.5 416.4,91.4 416.5,87.9 416.6,92.2 416.8,86.8 416.9,92 417,87.8 417.1,92.2 417.3,88.7 417.4,92.2 417.5,87.2 417.6,93.6 417.8,88.6 417.9,93.7 418,89.3 418.1,93.5 418.2,89.5 418.4,93.2 418.5,89.1 418.6,93.6 418.7,88.4 418.9,93.8 419,90.7 419.1,93.8 419.2,89.6 419.4,94.2 419.5,91.4 419.6,94.7 419.7,89.9 419.9,95.4 420,91.7 420.1,96.1 420.2,91.5 420.4,96 420.5,90.3 420.6,96.4 420.7,91.3 420.9,97 421,91.4 421.1,95.9 421.2,90.7 421.4,96.9 421.5,91 421.6,95.8 421.7,91.7 421.9,95.2 422,92.1 422.1,96.8 422.2,91.7 422.4,97.1 422.5,91.5 422.6,96.7 422.7,91.4 422.9,96.8 423,92 423.1,97 423.2,92.8 423.3,97.8 423.5,93.6 423.6,98.4 423.7,92.1 423.8,98.3 424,93.2 424.1,97.7 424.2,93.4 424.3,97.8 424.5,93.8 424.6,98.5 424.7,92.5 424.8,97.9 425,92.5 425.1,97.4 425.2,92.4 425.3,98.7 425.5,92.8 425.6,98.6 425.7,92.6 425.8,98 426,93.1 426.1,96.8 426.2,93.8 426.3,98.4 426.5,93.8 426.6,98.2 426.7,94 426.8,98.5 427,92.6 427.1,98.5 427.2,94.6 427.3,98.9 427.5,94 427.6,99.4 427.7,94.8 427.8,98.4 428,93.5 428.1,99.6 428.2,93.6 428.3,99.1 428.5,94.1 428.6,100 428.7,94.2 428.8,98.3 428.9,95.2 429.1,98.2 429.2,95.3 429.3,98.2 429.4,94.7 429.6,99.3 429.7,93.7 429.8,98.9 429.9,95.1 430.1,99.9 430.2,93.7 430.3,100.1 430.4,95.5 430.6,99.4 430.7,94.4 430.8,99.4 430.9,95.4 431.1,100.4 431.2,94.9 431.3,98.8 431.4,95.6 431.6,100.4 431.7,96.1 431.8,100.8 431.9,96.3 432.1,100.3 432.2,96.3 432.3,99.8 432.4,95.3 432.6,100.4 432.7,95.7 432.8,101.6 432.9,96.7 433.1,99.9 433.2,96.3 433.3,100.5 433.4,95.7 433.6,100.4 433.7,96 433.8,100.2 433.9,97 434,100.6 434.2,95.9 434.3,101.5 434.4,96.4 434.5,100.6 434.7,97.3 434.8,102.4 434.9,96.8 435,102.3 435.2,97.2 435.3,101.4 435.4,96.6 435.5,101.7 435.7,98.3 435.8,102.6 435.9,98.6 436,103 436.2,97.6 436.3,102.5 436.4,98.1 436.5,102.8 436.7,99.1 436.8,102.1 436.9,98.7 437,102.1 437.2,99.1 437.3,102.9 437.4,98.3 437.5,103.2 437.7,99.2 437.8,103.7 437.9,98 438,103.5 438.2,98.2 438.3,102.7 438.4,97.9 438.5,103.4 438.7,99.3 438.8,103.6 438.9,98.4 439,103.5 439.2,98.8 439.3,103.9 439.4,98.3 439.5,103.6 439.6,99.7 439.8,103 439.9,97.9 440,103.3 440.1,98.7 440.3,102.9 440.4,98.8 440.5,103.8 440.6,98.5 440.8,104.6 440.9,99.1 441,103.3 441.1,99.8 441.3,103.4 441.4,99.2 441.5,104.7 441.6,99.1 441.8,104.1 441.9,98.7 442,102.9 442.1,99.7 442.3,103.9 442.4,100.1 442.5,103.2 442.6,98.8 442.8,104.3 442.9,100 443,103.2 443.1,98.7 443.3,103.9 443.4,99.8 443.5,104.5 443.6,99.1 443.8,105.1 443.9,100.3 444,104.6 444.1,99.6 444.3,103.7 444.4,99.6 444.5,103.2 444.6,100.3 444.7,103.5 444.9,99.2 445,104.7 445.1,100.2 445.2,103.9 445.4,99.2 445.5,104.1 445.6,100 445.7,105.3 445.9,99.7 446,104.5 446.1,99.6 446.2,103.5 446.4,100 446.5,105.1 446.6,99.6 446.7,105.3 446.9,100.3 447,104.5 447.1,100.5 447.2,104 447.4,100.8 447.5,104 447.6,100.7 447.7,104.5 447.9,100.2 448,105.2 448.1,99.6 448.2,104.8 448.4,99.8 448.5,104.7 448.6,100.6 448.7,104.8 448.9,100 449,105.8 449.1,99.6 449.2,104 449.4,100 449.5,104.1 449.6,100.1 449.7,105.7 449.9,100 450,104.3 450.1,100.6 450.2,104.4 450.3,100.1 450.5,105.5 450.6,100 450.7,104.8 450.8,100.3 451,104.6 451.1,99.7 451.2,106.1 451.3,101.5 451.5,105.4 451.6,100.2 451.7,104.7 451.8,101.6 452,104.3 452.1,100.3 452.2,104.4 452.3,101 452.5,106 452.6,101.7 452.7,105.8 452.8,100.9 453,105.2 453.1,100.9 453.2,105.2 453.3,100.2 453.5,105.9 453.6,101.1 453.7,104.8 453.8,100.9 454,106.6 454.1,100.2 454.2,104.8 454.3,101.3 454.5,105.6 454.6,101.2 454.7,104.9 454.8,101.6 455,105.7 455.1,100.6 455.2,106.1 455.3,100.7 455.4,106 455.6,102 455.7,105.1 455.8,101.4 455.9,105.2 456.1,101.3 456.2,105.5 456.3,101.4 456.4,104.7 456.6,100.3 456.7,106.6 456.8,100.8 456.9,105.2 457.1,101.2 457.2,106.5 457.3,100.9 457.4,106.1 457.6,100.7 457.7,106.6 457.8,100.8 457.9,104.9 458.1,101.1 458.2,106.5 458.3,101.8 458.4,104.8 458.6,102 458.7,104.9 458.8,101.8 458.9,106.3 459.1,100.9 459.2,106.2 459.3,101 459.4,105.4 459.6,100.5 459.7,105.1 459.8,101.4 459.9,105.6 460.1,100.8 460.2,106.3 460.3,101 460.4,106 460.6,101.6 460.7,105.9 460.8,100.5 460.9,105.6 461,100.6 461.2,105.8 461.3,101.1 461.4,106 461.5,101.9 461.7,105.2 461.8,101.8 461.9,105.8 462,100.8 462.2,106.2 462.3,101.7 462.4,105.5 462.5,101.9 462.7,106.1 462.8,101.3 462.9,105.3 463,101.7 463.2,106.7 463.3,101.2 463.4,106.8 463.5,101.5 463.7,105.3 463.8,100.8 463.9,106.6 464,101.9 464.2,106.5 464.3,101 464.4,106.6 464.5,100.3 464.7,105.7 464.8,100.3 464.9,105.2 465,101.3 465.2,105.7 465.3,101.7 465.4,105.8 465.5,100.7 465.7,105.1 465.8,101.3 465.9,105.9 466,101.8 466.1,106.1 466.3,101.7 466.4,106 466.5,101.1 466.6,106.4 466.8,100.4 466.9,106.7 467,101.3 467.1,105.4 467.3,101.8 467.4,106.5 467.5,100.8 467.6,106.5 467.8,100.6 467.9,106 468,100.5 468.1,106.2 468.3,101 468.4,106.6 468.5,101 468.6,106.5 468.8,100.5 468.9,105.7 469,100.8 469.1,105.5 469.3,101.3 469.4,106.7 469.5,100.4 469.6,106.8 469.8,100.8 469.9,106.6 470,100.6 470.1,106.2 470.3,101.8 470.4,105 470.5,100.8 470.6,106.5 470.8,100.9 470.9,106.1 471,101 471.1,106.4 471.2,101.3 471.4,106.3 471.5,101.9 471.6,106.1 471.7,101.1 471.9,106.1 472,101.9 472.1,105.3 472.2,101.1 472.4,105.2 472.5,100.8 472.6,105.4 472.7,100.8 472.9,105.7 473,100.6 473.1,105.5 473.2,102.1 473.4,106.4 473.5,100.9 473.6,105.7 473.7,101.5 473.9,106.4 474,101.8 474.1,105.8 474.2,101.3 474.4,105.7 474.5,102.1 474.6,106.9 474.7,102.2 474.9,107 475,100.8 475.1,106 475.2,100.7 475.4,105.2 475.5,101.3 475.6,105.8 475.7,101.8 475.9,106.9 476,102.4 476.1,106.8 476.2,102.3 476.4,106.4 476.5,101.9 476.6,106.1 476.7,100.6 476.8,106.7 477,102.3 477.1,105.7 477.2,101.5 477.3,106.5 477.5,102.5 477.6,106.8 477.7,100.8 477.8,107 478,102.1 478.1,105.6 478.2,100.8 478.3,106.2 478.5,102 478.6,105.2 478.7,102.1 478.8,106.5 479,101.1 479.1,105.9 479.2,100.7 479.3,106.2 479.5,101.5 479.6,105.9 479.7,101.7 479.8,105.9 480,100.9 480.1,106 480.2,102.1 480.3,106 480.5,100.7 480.6,106.5 480.7,102.3 480.8,106 481,101.6 481.1,105.2 481.2,100.7 481.3,107 481.5,102.4 481.6,106.3 481.7,102 481.8,105.6 481.9,102 482.1,105.3 482.2,101.2 482.3,105.9 482.4,101.2 482.6,106.8 482.7,101.5 482.8,105.9 482.9,102.3 483.1,106.5 483.2,101.3 483.3,106.8 483.4,102.3 483.6,105.3 483.7,100.9 483.8,106.5 483.9,102.4 484.1,106.7 484.2,102.5 484.3,106.5 484.4,101.5 484.6,106.7 484.7,102.4 484.8,107.1 484.9,100.8 485.1,107.2 485.2,101.1 485.3,105.9 485.4,100.7 485.6,106.5 485.7,101.2 485.8,106.6 485.9,102.2 486.1,107 486.2,101.4 486.3,105.7 486.4,101.9 486.6,105.6 486.7,101.8 486.8,107.3 486.9,101.9 487.1,106.1 487.2,101.1 487.3,105.5 487.4,102.5 487.5,106.8 487.7,102.4 487.8,106.5 487.9,101.1 488,106.5 488.2,102.5 488.3,105.8 488.4,101.6 488.5,107.2 488.7,101.4 488.8,106.7 488.9,101.5 489,106 489.2,101.5 489.3,105.4 489.4,101.9 489.5,107 489.7,102.3 489.8,106.7 489.9,101.3 490,105.7 490.2,101.1 490.3,105.9 490.4,100.8 490.5,106.1 490.7,101.5 490.8,107.3 490.9,101.1 491,106.4 491.2,102.4 491.3,106.6 491.4,101.6 491.5,105.5 491.7,102 491.8,107.2 491.9,101.7 492,105.8 492.2,101.5 492.3,106.3 492.4,101 492.5,106.4 492.6,102.8 492.8,105.8 492.9,102.5 493,107.3 493.1,102.1 493.3,106.1 493.4,100.9 493.5,105.9 493.6,101.6 493.8,107.3 493.9,101 494,105.8 494.1,101.9 494.3,106 494.4,101.5 494.5,106 494.6,102.5 494.8,106 494.9,102.6 495,106.9 495.1,102.3 495.3,106.3 495.4,102.3 495.5,106.3 495.6,102.3 495.8,106.2 495.9,101.5 496,105.9 496.1,101.5 496.3,106.2 496.4,102.7 496.5,105.8 496.6,101.1 496.8,105.6 496.9,102.3 497,107.2 497.1,102.7 497.3,106 497.4,102.4 497.5,107.2 497.6,102.7 497.8,107.4 497.9,102.7 498,106.7 498.1,101.4 498.2,106.7 498.4,101.9 498.5,106.4 498.6,102.4 498.7,107.5 498.9,102.1 499,106.8 499.1,101.8 499.2,107.5 499.4,102.5 499.5,105.9 499.6,101.2 499.7,106.6 499.9,101.7 500,106.8 500.1,101.4 500.2,107.3 500.4,101.6 500.5,105.6 500.6,101.3 500.7,105.7 500.9,101.3 501,105.6 501.1,101.4 501.2,106.9 501.4,102.9 501.5,107.1 501.6,101.8 501.7,105.9 501.9,101.3 502,106.8 502.1,102.1 502.2,107.5 502.4,102.6 502.5,106 502.6,101.2 502.7,106 502.9,101.4 503,106.1 503.1,101.4 503.2,106.5 503.3,101.8 503.5,106.9 503.6,102.3 503.7,106.7 503.8,101.8 504,106 504.1,101.2 504.2,107.3 504.3,102.6 504.5,106.1 504.6,102.3 504.7,107.2 504.8,102 505,106.3 505.1,101.5 505.2,106.1 505.3,101.7 505.5,107.2 505.6,102.9 505.7,106.8 505.8,101.9 506,107.6 506.1,102.5 506.2,106.6 506.3,101.2 506.5,106 506.6,101.3 506.7,106.5 506.8,102.4 507,107.7 507.1,102.3 507.2,106.2 507.3,102.7 507.5,107.1 507.6,101.9 507.7,106.2 507.8,102.1 508,106.3 508.1,101.5 508.2,106.5 508.3,101.9 508.5,107.6 508.6,102.7 508.7,107.7 508.8,102.2 508.9,107.1 509.1,102.6 509.2,107.2 509.3,101.7 509.4,107 509.6,101.5 509.7,106.7 509.8,103.1 509.9,107.6 510.1,102 510.2,107 510.3,102 510.4,105.9 510.6,102.6 510.7,106 510.8,101.9 510.9,107.5 511.1,101.9 511.2,107.4 511.3,102.5 511.4,105.9 511.6,102.4 511.7,106.2 511.8,102.6 511.9,106.3 512.1,102.9 512.2,107.2 512.3,102 512.4,107.5 512.6,101.3 512.7,106.3 512.8,101.4 512.9,107.4 513.1,102.1 513.2,107.8 513.3,102.2 513.4,105.9 513.6,103 513.7,106.5 513.8,101.9 513.9,107 514,101.9 514.2,105.9 514.3,102.8 514.4,107 514.5,102 514.7,106.8 514.8,102.8 514.9,106.5 515,101.8 515.2,107.3 515.3,102.8 515.4,107.8 515.5,103.2 515.7,106.4 515.8,102.4 515.9,107.5 516,102.2 516.2,107.3 516.3,101.4 516.4,106.7 516.5,103 516.7,106.8 516.8,102.2 516.9,106.2 517,103.2 517.2,107.4 517.3,101.4 517.4,107.8 517.5,102.6 517.7,106.9 517.8,101.7 517.9,107.9 518,102.6 518.2,107.9 518.3,102 518.4,106.3 518.5,102.5 518.7,106 518.8,102.6 518.9,107 519,101.8 519.2,106.7 519.3,102.1 519.4,107.3 519.5,102.3 519.6,107.2 519.8,102.5 519.9,107.2 520,102.5 520.1,107.8 520.3,103.2 520.4,107.7 520.5,101.9 520.6,106.1 520.8,102 520.9,106.8 521,102.4 521.1,107.1 521.3,102 521.4,107 521.5,102.2 521.6,106.5 521.8,103.3 521.9,107.4 522,101.5 522.1,106.2 522.3,101.6 522.4,106.8 522.5,102.1 522.6,106.6 522.8,102.1 522.9,106.9 523,101.9 523.1,106.6 523.3,102.8 523.4,107.3 523.5,103.3 523.6,108 523.8,102.3 523.9,108 524,103.1 524.1,107.5 524.3,103.1 524.4,106.3 524.5,102.6"/>
<polyline fill="none" stroke="#0000ff" stroke-width="1.1"  points="338,108.4 338.1,103 338.2,108.4 338.4,103.8 338.5,108.9 338.6,103.7 338.7,108 338.9,102.5 339,108.9 339.1,102.6 339.2,109.4 339.4,102.3 339.5,107.8 339.6,102.1 339.7,108.5 339.9,103 340,108 340.1,103.4 340.2,108.6 340.4,104.2 340.5,109 340.6,103.5 340.7,108.9 340.9,102.6 341,108.7 341.1,104.1 341.2,108.6 341.4,103.5 341.5,108.9 341.6,102.7 341.7,108.5 341.9,102.6 342,107.6 342.1,102.4 342.2,109.5 342.4,102.2 342.5,109.2 342.6,103.4 342.7,109.4 342.9,103 343,107.8 343.1,103 343.2,109.3 343.3,102.7 343.5,109.2 343.6,104.2 343.7,109.5 343.8,102.2 344,108.5 344.1,102.2 344.2,107.7 344.3,103.4 344.5,107.7 344.6,102.8 344.7,109.4 344.8,102.2 345,107.5 345.1,102.5 345.2,108.6 345.3,103.8 345.5,109.4 345.6,103.1 345.7,107.4 345.8,103.4 346,108.9 346.1,102.3 346.2,107.8 346.3,102.9 346.5,107.5 346.6,102.2 346.7,107.3 346.8,102.1 347,108.6 347.1,102.6 347.2,108.8 347.3,103.1 347.5,108.3 347.6,103.8 347.7,108 347.8,104.1 348,107.9 348.1,102.8 348.2,108.6 348.3,103 348.5,108.5 348.6,102.1 348.7,109.3 348.8,103.7 348.9,108.6 349.1,102.1 349.2,107.9 349.3,102.7 349.4,108.8 349.6,102.8 349.7,108.6 349.8,102.6 349.9,108.2 350.1,102.1 350.2,108.6 350.3,103.5 350.4,108.8 350.6,102.7 350.7,109.4 350.8,102.8 350.9,108.5 351.1,103.5 351.2,108.3 351.3,103.6 351.4,108.7 351.6,102.3 351.7,108.7 351.8,103.8 351.9,107.4 352.1,102.3 352.2,108 352.3,102.7 352.4,109.5 352.6,102.1 352.7,108.6 352.8,102.2 352.9,108.2 353.1,102.1 353.2,108.9 353.3,104.1 353.4,109.2 353.6,103.9 353.7,109.6 353.8,104.2 353.9,109 354,103.9 354.2,108.6 354.3,103.4 354.4,109.3 354.5,103.7 354.7,109 354.8,102.1 354.9,107.5 355,102.7 355.2,107.5 355.3,102.5 355.4,109.3 355.5,104 355.7,109.3 355.8,103.3 355.9,108 356,102.1 356.2,108.2 356.3,103.8 356.4,108.1 356.5,102.2 356.7,109.6 356.8,103.2 356.9,108.4 357,102.9 357.2,109.2 357.3,104.3 357.4,109.1 357.5,102.1 357.7,108.2 357.8,103.3 357.9,109.5 358,103.4 358.2,108.2 358.3,102.3 358.4,108.4 358.5,102.8 358.7,108 358.8,102.8 358.9,108.4 359,102.9 359.2,109 359.3,102.9 359.4,109.4 359.5,103.3 359.6,109.4 359.8,104 359.9,109.3 360,104.4 360.1,110.5 360.3,105.7 360.4,110.6 360.5,104.4 360.6,110.3 360.8,105.9 360.9,112.3 361,106.6 361.1,111 361.3,106.9 361.4,112.2 361.5,106 361.6,112.6 361.8,106.3 361.9,111.9 362,105.9 362.1,112.7 362.3,107.4 362.4,112 362.5,105.1 362.6,111.4 362.8,104.4 362.9,109.9 363,104.6 363.1,109.8 363.3,104.5 363.4,109.6 363.5,103.5 363.6,108.7 363.8,102.1 363.9,108.3 364,103.2 364.1,106.4 364.3,101.2 364.4,107.5 364.5,102.6 364.6,106.3 364.7,101.8 364.9,106.5 365,101 365.1,106.7 365.2,101.1 365.4,108 365.5,102.1 365.6,107.9 365.7,101.8 365.9,107 366,102.1 366.1,106.3 366.2,102.9 366.4,108 366.5,100.6 366.6,107 366.7,101.7 366.9,106.1 367,99.6 367.1,104.9 367.2,99.6 367.4,104.8 367.5,99.7 367.6,103.5 367.7,98.5 367.9,102.8 368,97.2 368.1,102.3 368.2,96.2 368.4,103.1 368.5,96.3 368.6,102.8 368.7,96.9 368.9,101.7 369,96.3 369.1,101.5 369.2,97 369.4,102.9 369.5,98.3 369.6,102.2 369.7,97.2 369.9,103.8 370,97.9 370.1,103 370.2,97.1 370.3,103 370.5,97.4 370.6,102.8 370.7,96.4 370.8,102.7 371,96.2 371.1,101.7 371.2,96.4 371.3,99.9 371.5,94.3 371.6,99.4 371.7,94.5 371.8,100.3 372,94.6 372.1,99.3 372.2,94 372.3,98.8 372.5,92.4 372.6,99.1 372.7,92.4 372.8,98.4 373,93 373.1,97.7 373.2,94.1 373.3,99.2 373.5,94.4 373.6,99.8 373.7,94.4 373.8,99.5 374,93.9 374.1,99.4 374.2,93.2 374.3,98.6 374.5,92.9 374.6,99.4 374.7,93.2 374.8,98.6 375,93.2 375.1,99 375.2,92.6 375.3,96.7 375.4,91.5 375.6,97.6 375.7,90 375.8,96.1 375.9,90.6 376.1,95.9 376.2,89.7 376.3,95.7 376.4,88.7 376.6,95.1 376.7,88.1 376.8,94.8 376.9,88.1 377.1,94.9 377.2,90 377.3,95.1 377.4,89 377.6,94.9 377.7,90.6 377.8,95 377.9,89.5 378.1,94.9 378.2,91.4 378.3,96.6 378.4,89.3 378.6,96.5 378.7,89.6 378.8,96 378.9,89.9 379.1,95.4 379.2,89 379.3,94.2 379.4,89.7 379.6,94.5 379.7,88.2 379.8,94.5 379.9,88 380.1,92.7 380.2,88.1 380.3,91.3 380.4,87.7 380.6,92.3 380.7,85.6 380.8,91 380.9,87.3 381,92.3 381.2,87.1 381.3,91 381.4,86 381.5,91.5 381.7,87.3 381.8,93.2 381.9,86.8 382,93.9 382.2,87.4 382.3,92.3 382.4,88.8 382.5,93.5 382.7,87.7 382.8,92.5 382.9,88.4 383,92.4 383.2,87.8 383.3,92 383.4,87.1 383.5,92.4 383.7,86.3 383.8,92 383.9,85.6 384,90.2 384.2,84.1 384.3,90.5 384.4,83.8 384.5,89.1 384.7,83.1 384.8,89.7 384.9,84.3 385,88.7 385.2,84.9 385.3,88.3 385.4,84.8 385.5,89.1 385.7,84.3 385.8,89.6 385.9,85.7 386,89.3 386.1,86.1 386.3,89.4 386.4,85.7 386.5,91 386.6,86.3 386.8,91.7 386.9,84.4 387,91 387.1,86.4 387.3,89.8 387.4,85 387.5,91.1 387.6,83.5 387.8,90.2 387.9,83.2 388,88.2 388.1,83.5 388.3,88.6 388.4,83.7 388.5,88.4 388.6,82.6 388.8,89 388.9,83.5 389,87.3 389.1,83.2 389.3,87.2 389.4,83 389.5,87.7 389.6,81.8 389.8,87.9 389.9,83.2 390,87.9 390.1,84.2 390.3,88.4 390.4,83.7 390.5,88.9 390.6,84.7 390.8,89.6 390.9,85.4 391,90.4 391.1,85.3 391.3,89.3 391.4,82.9 391.5,88.4 391.6,84.7 391.7,88.8 391.9,82.9 392,88 392.1,83.3 392.2,88.2 392.4,82 392.5,86.9 392.6,81.5 392.7,87.7 392.9,81.4 393,86.4 393.1,81 393.2,86.6 393.4,82.2 393.5,87.6 393.6,82.3 393.7,87.5 393.9,81.9 394,87.9 394.1,82.1 394.2,88.4 394.4,82.6 394.5,87.4 394.6,82.2 394.7,89 394.9,83 395,89.4 395.1,82.6 395.2,89.4 395.4,83.7 395.5,89.2 395.6,82.2 395.7,88.9 395.9,82.7 396,87.6 396.1,81 396.2,87.4 396.4,81.9 396.5,86 396.6,79.9 396.7,86.4 396.8,81.6 397,85.2 397.1,80.2 397.2,84.9 397.3,80.3 397.5,85.9 397.6,81.3 397.7,85.2 397.8,79.7 398,85 398.1,81.8 398.2,87.1 398.3,80.9 398.5,86.7 398.6,80.8 398.7,86.5 398.8,83.1 399,88.1 399.1,81.8 399.2,87.1 399.3,82 399.5,86.5 399.6,82.5 399.7,87.4 399.8,81 400,86.4 400.1,82.3 400.2,85.5 400.3,81.3 400.5,86.2 400.6,79.9 400.7,85.9 400.8,79 401,85.4 401.1,79.1 401.2,85 401.3,79 401.5,85.1 401.6,78.2 401.7,84 401.8,79.1 401.9,84 402.1,80.4 402.2,86.2 402.3,80.3 402.4,85.8 402.6,81.1 402.7,86 402.8,81.9 402.9,86.5 403.1,80.1 403.2,86.9 403.3,80.9 403.4,86.7 403.6,81.6 403.7,87.1 403.8,81.3 403.9,85.8 404.1,80.6 404.2,86.9 404.3,79.7 404.4,85.7 404.6,80.6 404.7,85.5 404.8,79.4 404.9,84.7 405.1,78.7 405.2,84.7 405.3,79.7 405.4,82.9 405.6,79 405.7,83.1 405.8,78.1 405.9,83 406.1,79.6 406.2,84.2 406.3,80 406.4,85.2 406.6,79.7 406.7,84.4 406.8,79.5 406.9,86.3 407.1,80.5 407.2,84.8 407.3,80.5 407.4,86.2 407.5,79.3 407.7,84.8 407.8,81.3 407.9,85 408,80.4 408.2,85.7 408.3,79.2 408.4,85.3 408.5,79.6 408.7,84.4 408.8,78.2 408.9,83.5 409,80.3 409.2,83.4 409.3,78.5 409.4,84.6 409.5,78.9 409.7,85.2 409.8,78.9 409.9,85.2 410,80.5 410.2,84.8 410.3,80.8 410.4,85.5 410.5,80.3 410.7,87.5 410.8,82.4 410.9,87.5 411,82.6 411.2,88.3 411.3,82 411.4,88.1 411.5,83.3 411.7,89 411.8,82.8 411.9,88.7 412,83.7 412.2,88.5 412.3,84.1 412.4,90.6 412.5,83.7 412.6,88.5 412.8,83.1 412.9,89.6 413,84 413.1,90.6 413.3,84.1 413.4,89.1 413.5,84.7 413.6,90.6 413.8,85.1 413.9,89.6 414,85.6 414.1,90 414.3,86.8 414.4,90.6 414.5,86.5 414.6,91.7 414.8,87.9 414.9,93.4 415,87.6 415.1,94.2 415.3,89.3 415.4,94.4 415.5,89.6 415.6,94.7 415.8,89.7 415.9,95.3 416,89.8 416.1,96.4 416.3,90 416.4,95.4 416.5,89.9 416.6,95.2 416.8,90.1 416.9,96.3 417,91.4 417.1,96.8 417.3,91.9 417.4,95.4 417.5,91.7 417.6,96.6 417.8,91 417.9,96.3 418,91.3 418.1,98 418.2,90.6 418.4,97.7 418.5,92.5 418.6,97.5 418.7,91.7 418.9,98.8 419,91.8 419.1,98.1 419.2,93.6 419.4,98.4 419.5,93 419.6,100.2 419.7,93.8 419.9,99.3 420,93.8 420.1,99.4 420.2,94.2 420.4,99 420.5,95.4 420.6,99.6 420.7,95.1 420.9,99.1 421,93.5 421.1,100.3 421.2,94.8 421.4,101 421.5,95.5 421.6,99.6 421.7,93.8 421.9,101.1 422,94.1 422.1,99.4 422.2,94.7 422.4,99.3 422.5,96 422.6,101.2 422.7,96.3 422.9,99.7 423,96.3 423.1,101.4 423.2,95.4 423.3,100.5 423.5,96.1 423.6,102.4 423.7,96.8 423.8,100.5 424,96 424.1,100.8 424.2,96.3 424.3,101.2 424.5,97.5 424.6,102.1 424.7,95.8 424.8,101.3 425,97.1 425.1,102.7 425.2,96.9 425.3,101 425.5,96.5 425.6,100.9 425.7,96.8 425.8,102.5 426,97.1 426.1,102.3 426.2,96.2 426.3,100.5 426.5,97.1 426.6,102.1 426.7,96.3 426.8,101.3 427,97.1 427.1,103.1 427.2,96.3 427.3,102.7 427.5,96.1 427.6,101.9 427.7,97.7 427.8,103.5 428,97.6 428.1,102.7 428.2,96.9 428.3,104.1 428.5,96.8 428.6,103.6 428.7,97.8 428.8,103.5 428.9,98.3 429.1,102.4 429.2,98.3 429.3,103.4 429.4,96.6 429.6,103.5 429.7,98.1 429.8,103.3 429.9,97.9 430.1,103.7 430.2,97.7 430.3,102.4 430.4,98.2 430.6,102.1 430.7,98.1 430.8,102.8 430.9,98 431.1,103.7 431.2,97.2 431.3,104.3 431.4,98.2 431.6,103.5 431.7,99.4 431.8,104.3 431.9,99.8 432.1,103.2 432.2,98.7 432.3,103.7 432.4,98.4 432.6,105 432.7,99.2 432.8,105.7 432.9,100.2 433.1,104.3 433.2,99.5 433.3,105.9 433.4,100.5 433.6,105.1 433.7,98.7 433.8,104.2 433.9,99.2 434,105.5 434.2,100.1 434.3,105.2 434.4,98.9 434.5,105.2 434.7,100.1 434.8,105.6 434.9,101.3 435,106.3 435.2,101.4 435.3,106.9 435.4,99.5 435.5,106.7 435.7,99.9 435.8,106.4 435.9,101.4 436,106.6 436.2,100.7 436.3,105.7 436.4,100.7 436.5,106.2 436.7,101.4 436.8,106.3 436.9,102 437,107.8 437.2,101 437.3,106 437.4,101.1 437.5,108 437.7,101.2 437.8,107.5 437.9,102.2 438,107.5 438.2,102 438.3,108 438.4,101.3 438.5,106.7 438.7,100.9 438.8,107.7 438.9,102.5 439,106.5 439.2,103 439.3,107.8 439.4,102.9 439.5,106.8 439.6,101.4 439.8,106.9 439.9,102.5 440,106.4 440.1,103.1 440.3,107.6 440.4,103 440.5,108.5 440.6,103.2 440.8,107.1 440.9,102.9 441,108.4 441.1,101.7 441.3,106.7 441.4,103.3 441.5,106.6 441.6,101.7 441.8,108.2 441.9,102 442,107.6 442.1,102.5 442.3,107.9 442.4,103.3 442.5,108.4 442.6,101.8 442.8,108.2 442.9,103.1 443,107.2 443.1,101.4 443.3,108.9 443.4,102 443.5,108.5 443.6,102.7 443.8,108.8 443.9,102.2 444,107.8 444.1,102.2 444.3,107 444.4,102.9 444.5,108.8 444.6,102.8 444.7,108.2 444.9,102.6 445,109.1 445.1,103.5 445.2,108.6 445.4,103 445.5,107.6 445.6,103.9 445.7,108.5 445.9,103.6 446,108.4 446.1,103.1 446.2,108.1 446.4,102.1 446.5,107.4 446.6,102.9 446.7,108.2 446.9,103.9 447,108.2 447.1,102.3 447.2,107.8 447.4,102.7 447.5,108 447.6,103.1 447.7,108.6 447.9,104.2 448,109.3 448.1,103.5 448.2,107.9 448.4,104 448.5,109.7 448.6,102.3 448.7,108.6 448.9,103.9 449,109.2 449.1,104.4 449.2,109.6 449.4,104.6 449.5,107.8 449.6,103.9 449.7,108.7 449.9,104.6 450,108.4 450.1,102.4 450.2,109.5 450.3,104.6 450.5,109.8 450.6,103.7 450.7,110.1 450.8,104.1 451,108.6 451.1,103.3 451.2,109 451.3,104.2 451.5,109.1 451.6,103.5 451.7,108.7 451.8,103.1 452,109.7 452.1,103.3 452.2,109.6 452.3,104.5 452.5,109.7 452.6,104.7 452.7,108.4 452.8,104 453,108.6 453.1,104.8 453.2,109.5 453.3,103 453.5,108.4 453.6,104.2 453.7,108.5 453.8,104 454,109.6 454.1,104.2 454.2,108.4 454.3,103.7 454.5,109.5 454.6,104 454.7,109.9 454.8,103.2 455,109.3 455.1,103.2 455.2,108.7 455.3,104.3 455.4,108.8 455.6,104.5 455.7,110.4 455.8,103.1 455.9,109.4 456.1,104.7 456.2,109.1 456.3,103.3 456.4,109.4 456.6,104.9 456.7,110.3 456.8,104.2 456.9,109.4 457.1,103.3 457.2,110.1 457.3,105.3 457.4,110.6 457.6,104.3 457.7,108.8 457.8,103.3 457.9,109.4 458.1,103.8 458.2,110.1 458.3,104.9 458.4,110.7 458.6,104.1 458.7,108.5 458.8,104.2 458.9,108.5 459.1,103.2 459.2,109.9 459.3,104.5 459.4,110.3 459.6,103.6 459.7,110 459.8,104.9 459.9,108.7 460.1,103.5 460.2,110.5 460.3,104.6 460.4,109.3 460.6,104.5 460.7,109.1 460.8,103.3 460.9,109.7 461,103.8 461.2,109.9 461.3,105.2 461.4,108.6 461.5,105.1 461.7,109.6 461.8,104 461.9,110.8 462,103.4 462.2,110.2 462.3,104.6 462.4,109.3 462.5,103.9 462.7,109.3 462.8,103.7 462.9,110.2 463,105.2 463.2,110.3 463.3,105.3 463.4,109.2 463.5,103.3 463.7,110 463.8,103.5 463.9,110.6 464,104.9 464.2,110.3 464.3,104.6 464.4,108.7 464.5,105.3 464.7,108.8 464.8,104.1 464.9,110 465,103.6 465.2,109.2 465.3,103.8 465.4,109.2 465.5,104.8 465.7,110.1 465.8,104.6 465.9,110.8 466,104.8 466.1,109.1 466.3,103.5 466.4,110.6 466.5,105.2 466.6,109.4 466.8,104.4 466.9,108.7 467,104.7 467.1,110.4 467.3,103.8 467.4,108.9 467.5,104.9 467.6,109.2 467.8,104 467.9,108.9 468,103.3 468.1,108.9 468.3,104.4 468.4,110.2 468.5,103.4 468.6,110 468.8,103.6 468.9,109.8 469,105.1 469.1,109.6 469.3,104.2 469.4,109.9 469.5,103.8 469.6,109.9 469.8,104.7 469.9,109.8 470,104.4 470.1,108.7 470.3,104.9 470.4,110 470.5,104 470.6,109.6 470.8,103.9 470.9,109.8 471,104.8 471.1,109.2 471.2,103.8 471.4,110.8 471.5,104 471.6,109.2 471.7,104 471.9,109.9 472,103.6 472.1,108.7 472.2,103.9 472.4,109.8 472.5,103.7 472.6,110.1 472.7,105.7 472.9,110.3 473,104.5 473.1,109.3 473.2,105.4 473.4,109.6 473.5,104.4 473.6,109.8 473.7,105.7 473.9,109.1 474,104.2 474.1,110 474.2,104 474.4,109.7 474.5,105.1 474.6,110.6 474.7,105.2 474.9,108.9 475,104.9 475.1,109.8 475.2,105.3 475.4,111 475.5,105.2 475.6,109.1 475.7,104.2 475.9,109.1 476,105.1 476.1,109.7 476.2,105.1 476.4,110.3 476.5,105.4 476.6,110.3 476.7,105.5 476.8,110.1 477,103.5 477.1,110.6 477.2,103.6 477.3,110.1 477.5,105.4 477.6,109.7 477.7,104 477.8,109.1 478,104.3 478.1,109.6 478.2,103.7 478.3,109.6 478.5,105.1 478.6,109.5 478.7,104.6 478.8,111 479,104.6 479.1,110.5 479.2,104.6 479.3,109 479.5,104.5 479.6,110.2 479.7,104.5 479.8,109.5 480,105.2 480.1,109.6 480.2,105.8 480.3,109.2 480.5,105.2 480.6,110.1 480.7,103.8 480.8,110.5 481,104.7 481.1,110.5 481.2,104.8 481.3,109 481.5,104.3 481.6,110.5 481.7,104.4 481.8,110.9 481.9,104.1 482.1,110.8 482.2,105.8 482.3,111.2 482.4,104.5 482.6,110.3 482.7,104.5 482.8,109.5 482.9,105.2 483.1,110.9 483.2,104.5 483.3,111.1 483.4,105.4 483.6,110.3 483.7,104.5 483.8,109 483.9,104.5 484.1,109.8 484.2,104.9 484.3,109.4 484.4,104.6 484.6,110.5 484.7,103.9 484.8,110.9 484.9,103.7 485.1,111.2 485.2,104.3 485.3,109.6 485.4,104.7 485.6,109.2 485.7,104.7 485.8,109.7 485.9,104.7 486.1,110.7 486.2,105.8 486.3,111 486.4,105.9 486.6,110.1 486.7,105.5 486.8,109.1 486.9,104.9 487.1,109.6 487.2,105.8 487.3,110.9 487.4,105.4 487.5,111.2 487.7,104.6 487.8,109.8 487.9,105.9 488,111 488.2,105.8 488.3,110.8 488.4,104.8 488.5,110.1 488.7,105.8 488.8,110 488.9,106 489,110.8 489.2,104.4 489.3,109.4 489.4,104.9 489.5,109.5 489.7,104.4 489.8,109.5 489.9,105.6 490,109.7 490.2,103.8 490.3,111 490.4,105.1 490.5,110.9 490.7,105.2 490.8,109.5 490.9,104 491,109.2 491.2,104.3 491.3,111.3 491.4,105.9 491.5,111.1 491.7,104.3 491.8,109.2 491.9,105.1 492,109.7 492.2,105.2 492.3,110 492.4,105.2 492.5,109.2 492.6,105.5 492.8,109.8 492.9,104.6 493,110.7 493.1,104.4 493.3,110.6 493.4,104.1 493.5,110.4 493.6,105.4 493.8,109.3 493.9,104.5 494,110.5 494.1,105.8 494.3,110.3 494.4,104 494.5,110.6 494.6,105.4 494.8,111 494.9,105.2 495,109.2 495.1,106 495.3,111.4 495.4,105.9 495.5,111 495.6,106.1 495.8,110.2 495.9,105.5 496,110 496.1,106 496.3,110.1 496.4,104.5 496.5,110.4 496.6,105.9 496.8,111.1 496.9,104.2 497,110.3 497.1,105.4 497.3,109.3 497.4,106 497.5,110.1 497.6,105.9 497.8,111.5 497.9,104.7 498,110 498.1,104.9 498.2,109.6 498.4,104.1 498.5,110.4 498.6,104.6 498.7,109.7 498.9,105.2 499,110.9 499.1,105.4 499.2,109.4 499.4,105.2 499.5,111.2 499.6,105.2 499.7,111.5 499.9,105 500,111.3 500.1,106.2 500.2,110.7 500.4,105.1 500.5,110.1 500.6,104.2 500.7,109.5 500.9,105.2 501,110 501.1,104.1 501.2,111.1 501.4,105.8 501.5,109.6 501.6,106.2 501.7,109.7 501.9,104.2 502,111.3 502.1,104.5 502.2,110.3 502.4,105.2 502.5,110.7 502.6,104.5 502.7,109.4 502.9,105.9 503,110.7 503.1,106 503.2,111.5 503.3,106.2 503.5,111.6 503.6,105.8 503.7,109.8 503.8,105.4 504,110.8 504.1,104.1 504.2,110.5 504.3,104.3 504.5,111.4 504.6,104.1 504.7,110.2 504.8,105.3 505,109.5 505.1,105.5 505.2,110.2 505.3,106.1 505.5,111.3 505.6,105.7 505.7,109.7 505.8,106.1 506,109.5 506.1,104.7 506.2,110.6 506.3,105.2 506.5,110.4 506.6,104.2 506.7,110.3 506.8,105.3 507,111 507.1,104.3 507.2,111.4 507.3,104.4 507.5,109.9 507.6,104.3 507.7,111.3 507.8,105.7 508,111.3 508.1,104.3 508.2,111.2 508.3,104.8 508.5,111.4 508.6,104.4 508.7,111.3 508.8,106.3 508.9,110 509.1,106.2 509.2,110.6 509.3,106.3 509.4,110.8 509.6,104.4 509.7,111.7 509.8,106.4 509.9,111.1 510.1,106.1 510.2,111.5 510.3,106.4 510.4,109.8 510.6,105.7 510.7,109.5 510.8,105 510.9,110 511.1,104.9 511.2,111.7 511.3,105.4 511.4,110.6 511.6,104.2 511.7,110.3 511.8,104.5 511.9,111.2 512.1,106.5 512.2,110.2 512.3,104.9 512.4,109.7 512.6,104.6 512.7,111.6 512.8,104.8 512.9,111.4 513.1,105.2 513.2,111.4 513.3,105.5 513.4,110.5 513.6,104.9 513.7,110.7 513.8,105.8 513.9,110.2 514,105.6 514.2,110.5 514.3,104.8 514.4,111.4 514.5,104.7 514.7,111.5 514.8,105.7 514.9,110.5 515,104.7 515.2,110 515.3,105 515.4,110.8 515.5,105.1 515.7,111.2 515.8,105.1 515.9,110.2 516,106.5 516.2,111.8 516.3,104.6 516.4,110.8 516.5,105.1 516.7,109.9 516.8,105.6 516.9,111 517,105 517.2,110.2 517.3,106.4 517.4,111.9 517.5,104.7 517.7,110.1 517.8,104.8 517.9,111.5 518,106.2 518.2,111.5 518.3,105.8 518.4,110.5 518.5,106.3 518.7,111 518.8,105.3 518.9,110.9 519,106.4 519.2,111.5 519.3,105.9 519.4,110.3 519.5,105.2 519.6,110.1 519.8,104.6 519.9,111.2 520,104.9 520.1,110.5 520.3,105.7 520.4,110.3 520.5,106.1 520.6,110.7 520.8,104.9 520.9,110.9 521,104.8 521.1,110 521.3,106.1 521.4,109.8 521.5,104.6 521.6,109.9 521.8,105.5 521.9,111.3 522,106.3 522.1,112 522.3,104.5 522.4,110.3 522.5,106.4 522.6,111.3 522.8,105.6 522.9,111.2 523,105.3 523.1,112 523.3,105 523.4,110.5 523.5,105.1 523.6,110.8 523.8,104.5 523.9,110.9 524,106.7 524.1,111.9 524.3,106.1 524.4,111.7 524.5,105.4"/>
</g>
<path fill="none" stroke="#222" stroke-width="0.9" d="M358.7 122.4v-2.2M358.7 28.5v2.2M400.2 122.4v-2.2M400.2 28.5v2.2M441.6 122.4v-2.2M441.6 28.5v2.2M483.1 122.4v-2.2M483.1 28.5v2.2M524.5 122.4v-2.2M524.5 28.5v2.2M338 120h2.2M524.5 120h-2.2M338 75.8h2.2M524.5 75.8h-2.2M338 31.6h2.2M524.5 31.6h-2.2"/>
<path fill="none" stroke="#6e6e6e" stroke-width="1.4" d="M338 28.5V122.9"/>
<path fill="none" stroke="#6e6e6e" stroke-width="1.1" d="M337.5 122.4H525"/>
<path fill="none" stroke="#5a5a5a" stroke-width="1" d="M338 28.5H524.5V122.4"/>
<text transform="translate(333 124.2) scale(1 1.08)" text-anchor="end">1040</text>
<text transform="translate(333 80) scale(1 1.08)" text-anchor="end">1060</text>
<text transform="translate(333 35.8) scale(1 1.08)" text-anchor="end">1080</text>
<text transform="translate(358.7 139) scale(1 1.08)" text-anchor="middle">0.1</text>
<text transform="translate(400.2 139) scale(1 1.08)" text-anchor="middle">0.2</text>
<text transform="translate(441.6 139) scale(1 1.08)" text-anchor="middle">0.3</text>
<text transform="translate(483.1 139) scale(1 1.08)" text-anchor="middle">0.4</text>
<text transform="translate(524.5 139) scale(1 1.08)" text-anchor="middle">0.5</text>
<text transform="translate(431.2 25.1) scale(1 1.08)" text-anchor="middle" font-size="12">(a)</text>
<rect x="437.8" y="37.8" width="76.7" height="75.5" fill="#fff" stroke="#3c3c3c" stroke-width="1"/>
<path d="M441.7 47H477.7" stroke="#ee0000" stroke-width="1.2" fill="none"/>
<text transform="translate(480.5 51.3) scale(1 1.08)">CSA1</text>
<path d="M441.7 61.5H477.7" stroke="#0000ff" stroke-width="1.3" fill="none"/>
<text transform="translate(480.5 65.8) scale(1 1.08)">CSA2</text>
<path d="M441.7 76H477.7" stroke="#ff00ff" stroke-width="1.5" stroke-dasharray="5.3 3.6" fill="none"/>
<text transform="translate(480.5 80.3) scale(1 1.08)">CSA3</text>
<path d="M441.7 90.4H477.7" stroke="#000000" stroke-width="1.0" stroke-dasharray="5.1 3.5" fill="none"/>
<text transform="translate(480.5 94.7) scale(1 1.08)">CSA4</text>
<path d="M441.7 104.9H477.7" stroke="#0000cd" stroke-width="1.5" fill="none"/>
<text transform="translate(480.5 109.2) scale(1 1.08)">CSA5</text>
<circle cx="459.7" cy="104.9" r="0.9" fill="#0000cd"/>
<g fill="none" stroke-width="0.7">
<path stroke="#cdcdd3" stroke-dasharray="1.2 1.2" d="M569.5 28.3V122.3M577.8 28.3V122.3M594.3 28.3V122.3M602.6 28.3V122.3M610.9 28.3V122.3M619.2 28.3V122.3M635.7 28.3V122.3M644 28.3V122.3M652.2 28.3V122.3M660.5 28.3V122.3M677.1 28.3V122.3M685.3 28.3V122.3M693.6 28.3V122.3M701.9 28.3V122.3M718.4 28.3V122.3M726.7 28.3V122.3M735 28.3V122.3M743.2 28.3V122.3M565.4 119.2H751.5M565.4 115.9H751.5M565.4 112.7H751.5M565.4 106.1H751.5M565.4 102.9H751.5M565.4 99.6H751.5M565.4 96.3H751.5M565.4 89.8H751.5M565.4 86.5H751.5M565.4 83.2H751.5M565.4 80H751.5M565.4 73.4H751.5M565.4 70.2H751.5M565.4 66.9H751.5M565.4 63.6H751.5M565.4 57.1H751.5M565.4 53.8H751.5M565.4 50.5H751.5M565.4 47.3H751.5M565.4 40.7H751.5M565.4 37.5H751.5M565.4 34.2H751.5M565.4 30.9H751.5"/>
<path stroke="#e4e4e4" stroke-width="0.9" d="M586.1 28.3V122.3M627.4 28.3V122.3M668.8 28.3V122.3M710.1 28.3V122.3M751.5 28.3V122.3M565.4 109.4H751.5M565.4 93H751.5M565.4 76.7H751.5M565.4 60.4H751.5M565.4 44H751.5"/>
</g>
<clipPath id="cb"><rect x="565.4" y="27.8" width="186.7" height="95.2"/></clipPath>
<g clip-path="url(#cb)" stroke-linejoin="round">
<polyline fill="none" stroke="#ee0000" stroke-width="1.15"  points="565.4,94.6 565.5,89.8 565.6,94.8 565.7,89.7 565.8,94.4 565.9,90.5 566,94.1 566.1,90.6 566.1,93.9 566.2,90.3 566.3,94 566.4,90.6 566.5,93.8 566.6,90.6 566.7,93.6 566.8,90.1 566.9,93.5 567,90.7 567.1,93.6 567.2,89.9 567.3,93.8 567.4,90.9 567.4,94.7 567.5,90.3 567.6,94.7 567.7,90.5 567.8,93.9 567.9,90.1 568,93.4 568.1,89.4 568.2,93.5 568.3,89.5 568.4,94.4 568.5,89.8 568.6,93.7 568.7,89.6 568.8,94.2 568.8,90.4 568.9,93.6 569,90.8 569.1,94.8 569.2,89.5 569.3,94 569.4,89.9 569.5,94.5 569.6,90.3 569.7,94.1 569.8,90.2 569.9,93.9 570,89.8 570.1,94 570.1,90.2 570.2,93.6 570.3,89.4 570.4,93.5 570.5,89.9 570.6,94.4 570.7,90.5 570.8,95 570.9,91 571,93.8 571.1,90.5 571.2,94.4 571.3,90.1 571.4,94.5 571.5,89.6 571.5,93.4 571.6,90.1 571.7,94 571.8,89.9 571.9,94.2 572,90.5 572.1,93.3 572.2,90.6 572.3,94.1 572.4,90.5 572.5,94 572.6,90 572.7,93.9 572.8,89.7 572.8,93.9 572.9,90.3 573,94 573.1,89.6 573.2,94.3 573.3,89.5 573.4,93.3 573.5,89.5 573.6,93.6 573.7,89.6 573.8,93.4 573.9,89.6 574,94.4 574.1,89.9 574.2,94 574.2,90.4 574.3,93.6 574.4,90.8 574.5,94.4 574.6,90.5 574.7,93.4 574.8,90.8 574.9,93.6 575,90.8 575.1,94.1 575.2,89.6 575.3,94.3 575.4,89.8 575.5,93.5 575.5,89.9 575.6,94.8 575.7,89.4 575.8,94.5 575.9,90.1 576,94.9 576.1,90.9 576.2,94.7 576.3,89.9 576.4,94.5 576.5,90.5 576.6,93.5 576.7,90.8 576.8,94.5 576.9,90.6 576.9,94.9 577,90.9 577.1,94.7 577.2,90.3 577.3,93.8 577.4,90.7 577.5,93.9 577.6,90.5 577.7,93.7 577.8,90.7 577.9,95 578,90.4 578.1,94.4 578.2,89.9 578.2,93.9 578.3,89.5 578.4,93.8 578.5,90.8 578.6,93.4 578.7,90.6 578.8,93.4 578.9,90 579,94.3 579.1,91 579.2,94.9 579.3,89.9 579.4,94.2 579.5,89.5 579.6,94.2 579.6,90.8 579.7,94.6 579.8,89.5 579.9,93.4 580,90.2 580.1,93.7 580.2,89.6 580.3,93.5 580.4,89.7 580.5,93.7 580.6,90 580.7,94.5 580.8,89.8 580.9,93.4 580.9,90.3 581,93.5 581.1,90.9 581.2,93.6 581.3,90.8 581.4,94.9 581.5,90.1 581.6,93.7 581.7,90.3 581.8,93.4 581.9,90.7 582,94.4 582.1,89.9 582.2,94.4 582.3,89.4 582.3,95 582.4,89.7 582.5,94.1 582.6,89.8 582.7,93.7 582.8,89.6 582.9,93.7 583,89.4 583.1,93.3 583.2,89.7 583.3,94.2 583.4,89.7 583.5,94.2 583.6,89.7 583.6,94.5 583.7,90 583.8,94.9 583.9,90.9 584,94.9 584.1,90.2 584.2,94.5 584.3,90 584.4,94 584.5,90.2 584.6,95 584.7,90.3 584.8,94.9 584.9,91.1 585,94.3 585,89.9 585.1,94 585.2,90.9 585.3,94.7 585.4,89.8 585.5,94 585.6,90.9 585.7,94.7 585.8,89.8 585.9,94.7 586,89.7 586.1,93.8 586.2,91.4 586.3,96.5 586.3,94.9 586.4,99.1 586.5,97.6 586.6,102.3 586.7,100.9 586.8,104.2 586.9,103.7 587,106.8 587.1,106.8 587.2,109.1 587.3,109.4 587.4,111.9 587.5,113.4 587.6,116 587.7,117.5 587.7,120.2 587.8,121.5 587.9,119.7 588,115.3 588.1,112.1 588.2,108.1 588.3,105 588.4,100.8 588.5,98.1 588.6,96 588.7,95.3 588.8,93.4 588.9,92.7 589,91 589,90.6 589.1,89.1 589.2,88.6 589.3,87 589.4,86.6 589.5,85.1 589.6,85.1 589.7,83.9 589.8,84 589.9,84.3 590,85.9 590.1,86.3 590.2,88.1 590.3,88.7 590.3,90.1 590.4,90.5 590.5,91.8 590.6,92 590.7,93.1 590.8,92.6 590.9,93.2 591,92.4 591.1,92.6 591.2,91.2 591.3,90.7 591.4,88.8 591.5,87.8 591.6,85.2 591.7,84 591.7,81.7 591.8,80.5 591.9,78.4 592,77.5 592.1,75.9 592.2,75.6 592.3,74.2 592.4,74.2 592.5,73.3 592.6,73.7 592.7,73.2 592.8,74.2 592.9,73.9 593,75.2 593,75.4 593.1,76.8 593.2,77 593.3,78.5 593.4,78.9 593.5,80.7 593.6,81.4 593.7,83.1 593.8,83.6 593.9,85.5 594,86.2 594.1,88 594.2,88.2 594.3,89.7 594.4,90 594.4,91.1 594.5,91.1 594.6,92 594.7,91.5 594.8,92.1 594.9,91 595,91.4 595.1,90.2 595.2,89.9 595.3,88.5 595.4,88.1 595.5,86.2 595.6,85.7 595.7,83.8 595.7,83.1 595.8,81.1 595.9,80.4 596,78.5 596.1,77.8 596.2,75.9 596.3,75.4 596.4,74 596.5,73.7 596.6,72.6 596.7,72.8 596.8,71.7 596.9,72.4 597,72 597.1,72.9 597.1,72.5 597.2,73.8 597.3,74 597.4,75.6 597.5,76 597.6,77.8 597.7,78.5 597.8,80.2 597.9,81 598,82.8 598.1,83.5 598.2,85.2 598.3,85.8 598.4,87.2 598.4,87.6 598.5,88.9 598.6,88.9 598.7,89.9 598.8,89.5 598.9,90.1 599,89.4 599.1,89.8 599.2,88.7 599.3,88.5 599.4,87.1 599.5,86.7 599.6,85 599.7,84.3 599.8,82.6 599.8,81.8 599.9,79.9 600,79.1 600.1,77.1 600.2,76.3 600.3,74.5 600.4,74.1 600.5,72.4 600.6,72.4 600.7,70.9 600.8,71.3 600.9,70.3 601,70.6 601.1,70.2 601.1,71 601.2,70.9 601.3,72.1 601.4,72.2 601.5,73.9 601.6,74.1 601.7,76.1 601.8,76.6 601.9,78.5 602,79.4 602.1,81.2 602.2,81.9 602.3,83.8 602.4,84.5 602.5,86 602.5,86.6 602.6,88 602.7,88 602.8,89.2 602.9,88.7 603,89.6 603.1,88.8 603.2,89.2 603.3,88.2 603.4,88.1 603.5,86.9 603.6,86.5 603.7,84.8 603.8,84.2 603.8,82.3 603.9,81.6 604,79.6 604.1,78.8 604.2,76.9 604.3,76 604.4,74.3 604.5,73.6 604.6,71.9 604.7,71.8 604.8,70.5 604.9,70.5 605,69.3 605.1,69.7 605.2,69.2 605.2,70 605.3,69.8 605.4,71 605.5,71 605.6,72.6 605.7,72.9 605.8,74.5 605.9,75.2 606,77.2 606.1,78 606.2,80 606.3,80.5 606.4,82.7 606.5,83.1 606.5,85 606.6,85.4 606.7,87 606.8,86.9 606.9,88.3 607,87.9 607.1,88.9 607.2,88.3 607.3,88.6 607.4,87.5 607.5,87.6 607.6,86.4 607.7,86.1 607.8,84.6 607.9,83.9 607.9,81.9 608,81.4 608.1,79.3 608.2,78.4 608.3,76.5 608.4,75.7 608.5,73.9 608.6,73.2 608.7,71.5 608.8,71.1 608.9,69.6 609,69.6 609.1,68.4 609.2,68.8 609.2,68.2 609.3,68.8 609.4,68.4 609.5,69.6 609.6,69.6 609.7,71.2 609.8,71.6 609.9,73.2 610,73.9 610.1,75.7 610.2,76.4 610.3,78.4 610.4,79.1 610.5,81.1 610.6,81.8 610.6,83.6 610.7,84 610.8,85.7 610.9,85.9 611,87.3 611.1,87.2 611.2,87.9 611.3,87.6 611.4,88 611.5,87 611.6,87.4 611.7,86.1 611.8,85.8 611.9,84.2 611.9,83.5 612,81.7 612.1,81.1 612.2,78.9 612.3,78.4 612.4,76.3 612.5,75.4 612.6,73.3 612.7,72.8 612.8,70.9 612.9,70.5 613,68.9 613.1,68.8 613.2,67.6 613.3,68 613.3,67.1 613.4,67.7 613.5,67.3 613.6,68.5 613.7,68.4 613.8,69.7 613.9,69.9 614,71.7 614.1,72.2 614.2,74.2 614.3,75 614.4,76.9 614.5,77.8 614.6,79.7 614.6,80.4 614.7,82.3 614.8,82.7 614.9,84.6 615,84.7 615.1,86.2 615.2,86 615.3,87.2 615.4,86.7 615.5,87.4 615.6,86.5 615.7,86.6 615.8,85.3 615.9,85.2 616,83.5 616,83.3 616.1,81.5 616.2,80.7 616.3,78.5 616.4,77.9 616.5,75.7 616.6,75 616.7,72.9 616.8,72.3 616.9,70.3 617,70 617.1,68.3 617.2,68 617.3,66.9 617.3,66.8 617.4,66.1 617.5,66.7 617.6,66.1 617.7,67.1 617.8,67 617.9,68.4 618,68.6 618.1,70.1 618.2,70.7 618.3,72.5 618.4,73.4 618.5,75.3 618.6,76.1 618.7,78 618.7,78.7 618.8,80.8 618.9,81.5 619,83.2 619.1,83.5 619.2,85.1 619.3,85 619.4,86 619.5,85.7 619.6,86.4 619.7,85.5 619.8,85.9 619.9,84.9 620,84.6 620,83.2 620.1,82.7 620.2,80.9 620.3,80.3 620.4,78.1 620.5,77.4 620.6,75.2 620.7,74.5 620.8,72.5 620.9,71.9 621,69.7 621.1,69.4 621.2,67.5 621.3,67.2 621.4,65.8 621.4,66 621.5,65.1 621.6,65.3 621.7,64.7 621.8,65.8 621.9,65.4 622,66.7 622.1,66.8 622.2,68.6 622.3,69.2 622.4,70.9 622.5,71.7 622.6,73.6 622.7,74.4 622.7,76.7 622.8,77.4 622.9,79.4 623,79.9 623.1,81.8 623.2,82.2 623.3,83.7 623.4,83.9 623.5,85 623.6,84.7 623.7,85.5 623.8,85 623.9,85.4 624,84.3 624.1,84.2 624.1,82.6 624.2,82.3 624.3,80.4 624.4,79.9 624.5,78 624.6,77 624.7,74.9 624.8,74.1 624.9,71.9 625,71.3 625.1,69.1 625.2,68.5 625.3,66.7 625.4,66.7 625.4,64.9 625.5,64.9 625.6,63.8 625.7,64.4 625.8,63.7 625.9,64.6 626,64.3 626.1,65.3 626.2,65.6 626.3,67.1 626.4,67.5 626.5,69.3 626.6,70 626.7,72.2 626.8,72.9 626.8,75 626.9,75.8 627,77.8 627.1,78.5 627.2,80.4 627.3,81 627.4,82.6 627.5,82.6 627.6,83.9 627.7,83.6 627.8,84.4 627.9,83.6 628,83.8 628.1,82.7 628.1,82.6 628.2,81.3 628.3,80.9 628.4,78.9 628.5,78.5 628.6,76.4 628.7,75.7 628.8,73.6 628.9,72.7 629,70.4 629.1,69.8 629.2,67.7 629.3,67 629.4,65.1 629.5,64.7 629.5,63.1 629.6,63.3 629.7,61.9 629.8,62.2 629.9,61.4 630,62.2 630.1,61.8 630.2,62.7 630.3,62.6 630.4,64.1 630.5,64.3 630.6,65.9 630.7,66.2 630.8,68 630.8,68.7 630.9,70.5 631,70.8 631.1,72.8 631.2,71.4 631.3,70.7 631.4,68.4 631.5,67.1 631.6,64.4 631.7,62.7 631.8,59.5 631.9,57.6 632,54.2 632.1,52.1 632.2,48.3 632.2,46.2 632.3,42.5 632.4,40.4 632.5,36.7 632.6,34.8 632.7,31.6 632.8,29.6 632.9,29 633,32.5 633.1,34.8 633.2,38.1 633.3,40.4 633.4,44 633.5,46.1 633.5,49.8 633.6,51.9 633.7,55.4 633.8,57.6 633.9,61.3 634,63.4 634.1,66.8 634.2,69.2 634.3,72.6 634.4,74.7 634.5,78.1 634.6,79.9 634.7,83.4 634.8,85.4 634.9,88.6 634.9,90.6 635,93.8 635.1,95.8 635.2,99.3 635.3,101.2 635.4,104.5 635.5,106.5 635.6,109.8 635.7,111.6 635.8,114.9 635.9,116.9 636,119.4 636.1,116.6 636.2,115 636.2,112 636.3,110.5 636.4,107.2 636.5,105.9 636.6,102.8 636.7,101.4 636.8,98.4 636.9,96.8 637,93.7 637.1,92.3 637.2,89.3 637.3,87.6 637.4,84.7 637.5,83 637.5,80 637.6,79.6 637.7,78.2 637.8,78.2 637.9,76.8 638,76.8 638.1,75.3 638.2,75.1 638.3,73.7 638.4,73.8 638.5,72.1 638.6,72.4 638.7,70.8 638.8,70.8 638.9,70.1 638.9,71.6 639,71.8 639.1,73.5 639.2,73.8 639.3,75.4 639.4,75.6 639.5,77.1 639.6,77.3 639.7,78.9 639.8,79.2 639.9,80.8 640,80.9 640.1,82.8 640.2,82.8 640.2,84.6 640.3,84.6 640.4,86.7 640.5,87 640.6,89.2 640.7,89.6 640.8,91.5 640.9,92 641,93.9 641.1,94.4 641.2,96.3 641.3,96.7 641.4,98.8 641.5,99 641.6,101 641.6,101.7 641.7,103.3 641.8,103.9 641.9,105.3 642,103 642.1,102.3 642.2,100 642.3,99.5 642.4,97.1 642.5,96.4 642.6,94 642.7,93.3 642.8,91 642.9,90.5 642.9,88.1 643,87.5 643.1,85.2 643.2,84.4 643.3,82.1 643.4,82.3 643.5,81.9 643.6,82.9 643.7,82.4 643.8,83.7 643.9,83.7 644,85.2 644.1,85 644.2,86.7 644.3,86.6 644.3,88.2 644.4,88 644.5,89 644.6,88.3 644.7,89.2 644.8,88 644.9,88.3 645,86.8 645.1,86.5 645.2,84.4 645.3,83.8 645.4,81.2 645.5,80.2 645.6,77.7 645.6,76.9 645.7,74.3 645.8,73.4 645.9,71.4 646,70.8 646.1,69.3 646.2,69.2 646.3,67.9 646.4,68.2 646.5,67.6 646.6,68.5 646.7,68.3 646.8,69.6 646.9,69.9 647,71.4 647,72.2 647.1,74.3 647.2,74.9 647.3,77.5 647.4,78.5 647.5,81 647.6,81.7 647.7,84.4 647.8,85 647.9,87.3 648,88 648.1,89.9 648.2,90.3 648.3,91.8 648.3,91.7 648.4,92.9 648.5,92 648.6,92.8 648.7,91.7 648.8,91.8 648.9,90 649,89.8 649.1,87.9 649.2,87.2 649.3,84.9 649.4,84 649.5,81.7 649.6,80.7 649.7,78 649.7,77.2 649.8,74.7 649.9,73.9 650,71.8 650.1,71.4 650.2,69.6 650.3,69.5 650.4,68.3 650.5,68.4 650.6,67.4 650.7,68.4 650.8,67.9 650.9,69.4 651,69.3 651,71.2 651.1,71.5 651.2,73.8 651.3,74.7 651.4,76.9 651.5,78.1 651.6,80.3 651.7,81.4 651.8,83.9 651.9,84.8 652,87.2 652.1,87.8 652.2,89.9 652.3,90.4 652.4,92 652.4,92 652.5,93.2 652.6,92.5 652.7,93.2 652.8,92.3 652.9,92.4 653,90.9 653.1,90.6 653.2,88.8 653.3,88.4 653.4,86 653.5,85 653.6,82.8 653.7,81.9 653.7,79.4 653.8,78.5 653.9,76 654,75 654.1,72.8 654.2,72.5 654.3,70.6 654.4,70.5 654.5,69 654.6,69.4 654.7,68.2 654.8,69.2 654.9,68.5 655,69.8 655.1,69.6 655.1,71.5 655.2,71.9 655.3,73.9 655.4,74.6 655.5,76.9 655.6,77.6 655.7,80.3 655.8,81.1 655.9,83.6 656,84.7 656.1,86.7 656.2,87.7 656.3,89.6 656.4,90.1 656.4,91.7 656.5,91.7 656.6,93.1 656.7,92.4 656.8,93.5 656.9,92.3 657,92.9 657.1,91.4 657.2,91.3 657.3,89.6 657.4,88.9 657.5,86.7 657.6,86.1 657.7,83.7 657.8,82.9 657.8,80.7 657.9,79.8 658,77.2 658.1,76.7 658.2,74.3 658.3,73.9 658.4,71.8 658.5,71.6 658.6,70.2 658.7,70.5 658.8,69.1 658.9,70.1 659,69.2 659.1,70.6 659.1,70.4 659.2,72 659.3,72 659.4,74.1 659.5,74.8 659.6,76.9 659.7,77.6 659.8,80.2 659.9,80.8 660,83.5 660.1,84.1 660.2,86.7 660.3,87.1 660.4,89.3 660.5,89.5 660.5,91.6 660.6,91.6 660.7,92.7 660.8,92.3 660.9,93.5 661,92.6 661.1,93.2 661.2,91.8 661.3,91.8 661.4,90.1 661.5,89.7 661.6,87.8 661.7,87 661.8,84.8 661.8,83.9 661.9,81.6 662,80.8 662.1,78.4 662.2,78 662.3,75.5 662.4,75.2 662.5,73.1 662.6,72.8 662.7,71.2 662.8,71.6 662.9,70.4 663,71.1 663.1,70.4 663.2,71.3 663.2,71.1 663.3,72.7 663.4,72.6 663.5,74.4 663.6,74.7 663.7,77.1 663.8,77.6 663.9,80.1 664,80.7 664.1,83.2 664.2,84 664.3,86.1 664.4,86.8 664.5,88.8 664.5,89.4 664.6,91.3 664.7,91.1 664.8,92.8 664.9,92.4 665,93.5 665.1,92.7 665.2,93.3 665.3,91.9 665.4,92.3 665.5,90.4 665.6,90.4 665.7,88.6 665.8,88.2 665.9,86 665.9,85.3 666,83.1 666.1,82.4 666.2,80.2 666.3,79.5 666.4,77.5 666.5,77.3 666.6,75.1 666.7,75.3 666.8,73.5 666.9,73.9 667,72.6 667.1,73.4 667.2,72.5 667.2,73.3 667.3,73.2 667.4,74.4 667.5,74.5 667.6,76.2 667.7,76.5 667.8,78.5 667.9,78.8 668,81.1 668.1,81.5 668.2,83.9 668.3,84.4 668.4,86.6 668.5,87.1 668.6,89.1 668.6,89.5 668.7,91.3 668.8,90.9 668.9,92.4 669,92.4 669.1,93.3 669.2,92.5 669.3,93.3 669.4,92.2 669.5,92.7 669.6,91.1 669.7,91.2 669.8,89.6 669.9,89.4 669.9,87.5 670,87.2 670.1,84.9 670.2,84.6 670.3,82.3 670.4,82.4 670.5,80.2 670.6,80 670.7,77.8 670.8,78.4 670.9,76.5 671,76.9 671.1,75.4 671.2,76.2 671.3,75.4 671.3,76.5 671.4,75.6 671.5,77.3 671.6,76.5 671.7,78.8 671.8,78.3 671.9,80.3 672,80.1 672.1,82.5 672.2,82.4 672.3,85.1 672.4,84.8 672.5,87.5 672.6,87.5 672.6,89.7 672.7,89.3 672.8,91.2 672.9,91.1 673,92.6 673.1,92.1 673.2,93.3 673.3,92.1 673.4,93.9 673.5,91.8 673.6,93.2 673.7,91.3 673.8,91.9 673.9,90.3 674,90.8 674,88.3 674.1,88.8 674.2,86.2 674.3,87 674.4,84.2 674.5,84.5 674.6,82.3 674.7,83.1 674.8,80.4 674.9,81.7 675,79.2 675.1,80.3 675.2,78.7 675.3,79.7 675.3,78 675.4,79.9 675.5,78 675.6,79.9 675.7,79.2 675.8,81.1 675.9,80 676,82.4 676.1,81.7 676.2,84.5 676.3,83.5 676.4,86.3 676.5,85.8 676.6,88 676.7,87.6 676.7,90.4 676.8,89.3 676.9,91.8 677,90.3 677.1,93.2 677.2,91.7 677.3,94 677.4,91.9 677.5,93.8 677.6,92.2 677.7,93.8 677.8,91.5 677.9,93 678,90.8 678,92 678.1,88.9 678.2,90.3 678.3,87.8 678.4,89.2 678.5,85.6 678.6,86.8 678.7,84.4 678.8,85.6 678.9,83.2 679,84.4 679.1,81.7 679.2,83.3 679.3,81.3 679.4,83.2 679.4,80.6 679.5,82.7 679.6,81.2 679.7,83.1 679.8,81 679.9,84.2 680,82.6 680.1,85.2 680.2,84 680.3,86.8 680.4,84.6 680.5,87.7 680.6,86.7 680.7,89.3 680.7,88.4 680.8,91.1 680.9,89.6 681,91.8 681.1,90.8 681.2,93.4 681.3,91.2 681.4,93.4 681.5,91.7 681.6,94.3 681.7,91.7 681.8,94.2 681.9,91.2 682,93.4 682,90.5 682.1,92.6 682.2,90.3 682.3,91.8 682.4,88.8 682.5,90.5 682.6,87.5 682.7,89.1 682.8,86 682.9,88.1 683,85.1 683.1,87 683.2,84.2 683.3,86.3 683.4,83.5 683.4,85 683.5,83.3 683.6,85.4 683.7,83 683.8,85.5 683.9,83.3 684,85.9 684.1,83.4 684.2,87.3 684.3,85.2 684.4,88.4 684.5,85.8 684.6,89.3 684.7,86.6 684.7,90 684.8,88.5 684.9,92 685,89.5 685.1,93.1 685.2,90.1 685.3,94.1 685.4,91 685.5,93.7 685.6,91.1 685.7,94.1 685.8,92.1 685.9,94.3 686,91.9 686.1,93.6 686.1,90.8 686.2,93.9 686.3,90.5 686.4,92.4 686.5,89.1 686.6,91.4 686.7,88.2 686.8,91 686.9,87.6 687,89.6 687.1,86.5 687.2,88.9 687.3,85.7 687.4,88.3 687.4,84.8 687.5,87.9 687.6,84.5 687.7,87.2 687.8,84.7 687.9,87 688,84.6 688.1,88.2 688.2,84.8 688.3,88.7 688.4,85.2 688.5,88.6 688.6,86.8 688.7,90.6 688.8,87.3 688.8,91.3 688.9,88.7 689,92.2 689.1,90.2 689.2,92.7 689.3,90.6 689.4,93.4 689.5,91.4 689.6,94.9 689.7,91.1 689.8,95.1 689.9,91.5 690,95.4 690.1,91.9 690.1,94.7 690.2,91.2 690.3,94.7 690.4,90.7 690.5,93.1 690.6,89.4 690.7,93.1 690.8,88.7 690.9,92.3 691,88.6 691.1,91.2 691.2,87.3 691.3,90.9 691.4,86.8 691.5,89.4 691.5,86.4 691.6,89.3 691.7,85.1 691.8,89.4 691.9,85.4 692,89.1 692.1,86 692.2,90.1 692.3,86.3 692.4,89.4 692.5,86.3 692.6,90.1 692.7,87.6 692.8,91.5 692.8,87.7 692.9,91.4 693,88.8 693.1,92.4 693.2,89.6 693.3,93.9 693.4,90.4 693.5,94.2 693.6,90.9 693.7,95.5 693.8,91.6 693.9,95 694,92 694.1,95 694.2,92.1 694.2,95.6 694.3,91.4 694.4,95.4 694.5,91.4 694.6,94.5 694.7,90.1 694.8,93.9 694.9,89.2 695,92.4 695.1,88.7 695.2,91.7 695.3,88.8 695.4,92.4 695.5,87.9 695.5,92.1 695.6,87 695.7,91 695.8,87.7 695.9,90.5 696,88 696.1,91.3 696.2,86.9 696.3,90.4 696.4,87.6 696.5,92 696.6,87.8 696.7,91.8 696.8,87.8 696.9,92.4 696.9,89.4 697,93.1 697.1,89.9 697.2,93.5 697.3,90.2 697.4,93.5 697.5,90.6 697.6,94.8 697.7,90.8 697.8,94.6 697.9,92.1 698,95.5 698.1,91.8 698.2,95.4 698.2,91.9 698.3,95 698.4,91.8 698.5,95 698.6,90.9 698.7,94.3 698.8,91.1 698.9,94.3 699,90.2 699.1,93.8 699.2,90.8 699.3,93.6 699.4,89.8 699.5,94 699.6,89.2 699.6,92.2 699.7,88.9 699.8,92.1 699.9,89.2 700,91.9 700.1,88.8 700.2,92.2 700.3,88.3 700.4,92.3 700.5,88.4 700.6,93.7 700.7,89.4 700.8,93.2 700.9,89.9 700.9,94 701,90.6 701.1,93.8 701.2,91.2 701.3,94.2 701.4,91.3 701.5,95.4 701.6,91.2 701.7,94.5 701.8,91.7 701.9,94.7 702,92.2 702.1,94.6 702.2,91.3 702.3,94.7 702.3,91.1 702.4,96.1 702.5,90.9 702.6,94.7 702.7,91 702.8,95.2 702.9,90.5 703,94.5 703.1,90.8 703.2,94.8 703.3,91.2 703.4,94.5 703.5,90.1 703.6,94.6 703.6,89.6 703.7,93.1 703.8,89.6 703.9,93.4 704,89.4 704.1,93 704.2,89.9 704.3,93.3 704.4,89.4 704.5,93.7 704.6,89.3 704.7,92.8 704.8,90.3 704.9,94.2 705,90.5 705,94.6 705.1,90.7 705.2,94.5 705.3,91.3 705.4,95.2 705.5,91.5 705.6,94.6 705.7,91.3 705.8,94.7 705.9,91.3 706,95.3 706.1,91 706.2,96.1 706.3,91.1 706.3,95.8 706.4,92.1 706.5,94.9 706.6,92.4 706.7,94.7 706.8,91 706.9,94.5 707,91.7 707.1,94.8 707.2,91.7 707.3,94.5 707.4,91.3 707.5,94.4 707.6,91.1 707.7,93.5 707.7,89.7 707.8,94.5 707.9,89.7 708,93.5 708.1,89.3 708.2,94.3 708.3,90.1 708.4,93.4 708.5,89.4 708.6,92.9 708.7,89.8 708.8,94.4 708.9,89.4 709,94.6 709,90.3 709.1,93.3 709.2,90.7 709.3,94 709.4,90.5 709.5,95 709.6,90.1 709.7,94.5 709.8,91.3 709.9,94.4 710,90.8 710.1,95.2 710.2,91.9 710.3,95.4 710.4,91.6 710.4,96 710.5,92.1 710.6,95.5 710.7,91.7 710.8,94.8 710.9,92.1 711,94.9 711.1,91.5 711.2,95.2 711.3,90.8 711.4,95.6 711.5,91.6 711.6,95.5 711.7,90.9 711.7,95 711.8,90.8 711.9,94.7 712,90 712.1,93.3 712.2,89.6 712.3,93.3 712.4,90.1 712.5,93.5 712.6,89.9 712.7,93.4 712.8,89.9 712.9,94.4 713,90 713.1,94.7 713.1,90.5 713.2,94.6 713.3,90.6 713.4,95.2 713.5,91.4 713.6,95.3 713.7,91.7 713.8,95.5 713.9,91.8 714,95.4 714.1,92 714.2,95.8 714.3,91.9 714.4,94.7 714.4,91 714.5,95.6 714.6,91 714.7,96 714.8,92.3 714.9,94.8 715,91.2 715.1,96 715.2,92 715.3,95.9 715.4,92.1 715.5,95.5 715.6,90.9 715.7,94.7 715.8,91.1 715.8,94.4 715.9,90.7 716,94.5 716.1,91.1 716.2,93.5 716.3,90.3 716.4,93.7 716.5,91 716.6,93.7 716.7,90.8 716.8,94.8 716.9,90.6 717,94.4 717.1,91.1 717.1,94.6 717.2,89.7 717.3,94.9 717.4,90.1 717.5,94.5 717.6,90.8 717.7,95.5 717.8,91.4 717.9,95 718,90.8 718.1,94.9 718.2,91.4 718.3,94.6 718.4,91.2 718.5,94.9 718.5,92 718.6,95.1 718.7,91.3 718.8,95.4 718.9,90.8 719,96.1 719.1,90.9 719.2,95.8 719.3,91.9 719.4,95.1 719.5,91.6 719.6,94.7 719.7,91.2 719.8,95.5 719.8,91 719.9,94.3 720,90.4 720.1,95.5 720.2,90.7 720.3,94 720.4,90.2 720.5,94.5 720.6,89.9 720.7,94.6 720.8,89.8 720.9,93.5 721,90.1 721.1,94.6 721.2,90 721.2,94 721.3,90.4 721.4,94.2 721.5,90.2 721.6,94 721.7,91.4 721.8,95.7 721.9,90.6 722,94.6 722.1,91.5 722.2,95.1 722.3,91.8 722.4,94.8 722.5,90.7 722.5,95 722.6,91.1 722.7,96 722.8,91.2 722.9,95.3 723,92.1 723.1,95.8 723.2,90.7 723.3,95.4 723.4,92 723.5,95.5 723.6,91.9 723.7,95.1 723.8,90.9 723.9,94.8 723.9,91.2 724,95.3 724.1,91.6 724.2,94.3 724.3,90 724.4,95.4 724.5,90 724.6,94.8 724.7,90.6 724.8,93.9 724.9,91 725,93.9 725.1,90.5 725.2,94.5 725.2,91.2 725.3,94 725.4,90.5 725.5,94.1 725.6,91.6 725.7,94.4 725.8,90.4 725.9,95.3 726,91 726.1,94.7 726.2,91.3 726.3,94.5 726.4,91.6 726.5,95.4 726.6,92.2 726.6,95.7 726.7,91.7 726.8,94.9 726.9,92.2 727,95.6 727.1,90.9 727.2,94.9 727.3,91.5 727.4,95.3 727.5,91.7 727.6,96.3 727.7,91.2 727.8,95.1 727.9,91.4 727.9,96.2 728,90.6 728.1,95.1 728.2,91 728.3,95 728.4,91.6 728.5,95.8 728.6,91.3 728.7,94.4 728.8,91.5 728.9,95.6 729,90 729.1,95 729.2,90.7 729.2,94.9 729.3,91 729.4,95.5 729.5,90.7 729.6,95.5 729.7,90.6 729.8,95.3 729.9,90.7 730,95.6 730.1,90.6 730.2,95.6 730.3,91.6 730.4,95 730.5,91.9 730.6,96.1 730.6,91.5 730.7,94.7 730.8,91.4 730.9,96.3 731,90.9 731.1,96.5 731.2,91 731.3,95.2 731.4,91.6 731.5,96.1 731.6,91.3 731.7,95.4 731.8,92.3 731.9,96.3 731.9,90.9 732,96.1 732.1,91.5 732.2,94.9 732.3,90.6 732.4,95.5 732.5,90.8 732.6,94.4 732.7,91.7 732.8,95.6 732.9,90.3 733,94.8 733.1,90.3 733.2,94.5 733.3,90.8 733.3,94.8 733.4,90.8 733.5,94.5 733.6,91.2 733.7,95 733.8,90.9 733.9,94.7 734,90.9 734.1,94.8 734.2,90.4 734.3,94.9 734.4,92 734.5,95.1 734.6,91.3 734.6,95.5 734.7,91.2 734.8,95 734.9,91.7 735,95.8 735.1,90.8 735.2,96.4 735.3,91.5 735.4,95.4 735.5,92.3 735.6,96 735.7,91.5 735.8,95.7 735.9,91.2 736,95.6 736,91 736.1,95.2 736.2,91.7 736.3,96.3 736.4,91.2 736.5,96.2 736.6,92 736.7,96.1 736.8,92 736.9,95.7 737,91 737.1,94.6 737.2,91.4 737.3,95.2 737.3,91 737.4,95.2 737.5,91.9 737.6,96.1 737.7,91.4 737.8,95.7 737.9,90.4 738,96.2 738.1,91.8 738.2,96.1 738.3,91.3 738.4,95.8 738.5,91.8 738.6,94.9 738.7,91.3 738.7,96.4 738.8,91.7 738.9,96.5 739,91.2 739.1,94.9 739.2,90.8 739.3,95.1 739.4,92.1 739.5,95.9 739.6,90.8 739.7,95.2 739.8,92 739.9,95 740,92.3 740,95.6 740.1,91.4 740.2,95.7 740.3,92.3 740.4,95.5 740.5,91.5 740.6,96.4 740.7,91.7 740.8,95.8 740.9,91.3 741,96 741.1,91.1 741.2,96.4 741.3,91 741.4,95.2 741.4,91.4 741.5,96.1 741.6,91.5 741.7,96.2 741.8,91.4 741.9,96.3 742,91.9 742.1,96 742.2,91.4 742.3,95.1 742.4,91.2 742.5,94.8 742.6,92 742.7,96.3 742.7,91.4 742.8,95.5 742.9,92.2 743,95.2 743.1,92.1 743.2,95.8 743.3,92.5 743.4,95.3 743.5,91.8 743.6,96.6 743.7,91 743.8,96.7 743.9,92.1 744,95.2 744.1,91 744.1,96.2 744.2,92 744.3,95.7 744.4,90.8 744.5,96.4 744.6,90.7 744.7,95.7 744.8,92 744.9,95.8 745,92.1 745.1,95 745.2,92.2 745.3,95.2 745.4,92 745.4,95.2 745.5,91 745.6,96 745.7,92.3 745.8,96.3 745.9,90.8 746,96.5 746.1,91.9 746.2,96.1 746.3,91.4 746.4,96.1 746.5,90.7 746.6,95 746.7,90.9 746.8,96.5 746.8,91.3 746.9,95.7 747,91.5 747.1,95.2 747.2,91.2 747.3,96 747.4,91.5 747.5,96.3 747.6,92.4 747.7,95.1 747.8,92.3 747.9,95.2 748,91.1 748.1,95.2 748.1,91.8 748.2,96.2 748.3,92.1 748.4,96.7 748.5,90.8 748.6,95.7 748.7,91.4 748.8,96.4 748.9,90.7 749,96.2 749.1,91.7 749.2,95 749.3,91.3 749.4,96.2 749.5,91.2 749.5,95.6 749.6,90.9 749.7,96 749.8,91.8 749.9,95.4 750,92.4 750.1,96.3 750.2,91.9 750.3,96.6 750.4,91.9 750.5,95.6 750.6,91.1 750.7,95.7 750.8,90.7 750.8,96.1 750.9,90.8 751,95.3 751.1,92.5 751.2,95.1 751.3,90.9 751.4,95.9 751.5,91.2"/>
<polyline fill="none" stroke="#0000ff" stroke-width="1.1"  points="565.4,72 565.5,62.5 565.6,73 565.8,64.1 565.9,70.8 566,64.5 566.1,71.6 566.3,64.6 566.4,72.6 566.5,62.9 566.6,73 566.8,65.1 566.9,70.8 567,63.5 567.1,72.7 567.3,63.1 567.4,73.3 567.5,64.6 567.6,70.5 567.8,64.5 567.9,71.3 568,65.4 568.1,72.5 568.3,64 568.4,72.3 568.5,62.8 568.6,72.2 568.8,62.8 568.9,73 569,64 569.1,72.3 569.2,64.2 569.4,71.5 569.5,63.3 569.6,72.3 569.7,64.5 569.9,72.4 570,64 570.1,70.6 570.2,63.3 570.4,71.9 570.5,62.6 570.6,73.3 570.7,65.4 570.9,71.1 571,63.4 571.1,70.9 571.2,63 571.4,72.5 571.5,62.6 571.6,71.4 571.7,63.4 571.9,72.3 572,63.5 572.1,73.4 572.2,64.6 572.4,71 572.5,63.1 572.6,70.7 572.7,63.9 572.8,73.4 573,62.9 573.1,72.6 573.2,65.7 573.3,73.5 573.5,64.2 573.6,71.2 573.7,65.5 573.8,70.7 574,65.6 574.1,72.1 574.2,64.5 574.3,71.2 574.5,63 574.6,70.5 574.7,64.3 574.8,72.9 575,63 575.1,72.6 575.2,64 575.3,70.8 575.5,64.4 575.6,72.7 575.7,63.1 575.8,72.3 576,62.7 576.1,72.1 576.2,62.9 576.3,73.3 576.4,65.2 576.6,70.7 576.7,62.4 576.8,71.2 576.9,64.3 577.1,71.7 577.2,62.9 577.3,70.3 577.4,64.1 577.6,71.8 577.7,65.4 577.8,71.7 577.9,62.8 578.1,70.4 578.2,64.9 578.3,72.3 578.4,63.9 578.6,72.8 578.7,64.6 578.8,70.7 578.9,64.5 579.1,73 579.2,64.3 579.3,71.6 579.4,63.1 579.6,72.2 579.7,65.3 579.8,71.5 579.9,62.7 580,70.3 580.2,63.2 580.3,71.3 580.4,63.2 580.5,70.8 580.7,63.6 580.8,73.1 580.9,65.5 581,73.5 581.2,65.4 581.3,70.3 581.4,63 581.5,72 581.7,65.6 581.8,72.4 581.9,64.1 582,73.6 582.2,62.5 582.3,73.2 582.4,64 582.5,73 582.7,63.3 582.8,71.2 582.9,63.2 583,71.2 583.2,64.3 583.3,70.5 583.4,65.3 583.5,71.9 583.6,62.9 583.8,72.9 583.9,65.2 584,72.1 584.1,64.7 584.3,70.9 584.4,64.5 584.5,72.5 584.6,62.7 584.8,70.6 584.9,64.8 585,72.8 585.1,64.1 585.3,71.5 585.4,63.1 585.5,70.3 585.6,62.6 585.8,71.2 585.9,62.9 586,73 586.1,63 586.3,72.4 586.4,63.7 586.5,70.6 586.6,64.6 586.8,72.6 586.9,65.2 587,72.9 587.1,64.3 587.3,72.9 587.4,63.4 587.5,71.9 587.6,64.3 587.7,71.1 587.9,63.8 588,73.8 588.1,64.4 588.2,73.9 588.4,65.7 588.5,73.7 588.6,65.9 588.7,74 588.9,67.7 589,74.9 589.1,67.1 589.2,75.3 589.4,66.6 589.5,73.3 589.6,66.4 589.7,74 589.9,65.5 590,73.9 590.1,66.6 590.2,72.5 590.4,66.4 590.5,73.6 590.6,65.2 590.7,73.5 590.9,63.9 591,70.9 591.1,64.2 591.2,73.4 591.3,63.1 591.5,70.9 591.6,65.8 591.7,72.1 591.8,63.6 592,71.1 592.1,62.9 592.2,73.2 592.3,66.4 592.5,73.6 592.6,65.2 592.7,71.9 592.8,64.7 593,73.9 593.1,65 593.2,72.5 593.3,66.6 593.5,71.9 593.6,66.7 593.7,72.9 593.8,66.1 594,71.8 594.1,64.2 594.2,72 594.3,66.5 594.5,71.8 594.6,65 594.7,72.9 594.8,65.9 594.9,71 595.1,65.8 595.2,71.6 595.3,62.3 595.4,72.7 595.6,62.7 595.7,73.1 595.8,64.8 595.9,72.3 596.1,64.4 596.2,71.6 596.3,63.5 596.4,72.7 596.6,64.4 596.7,72.1 596.8,63.8 596.9,73.7 597.1,65 597.2,74.1 597.3,64 597.4,72 597.6,66 597.7,74.4 597.8,64.2 597.9,73.7 598.1,64.8 598.2,73.3 598.3,63.7 598.4,71.8 598.5,61.1 598.7,69.9 598.8,61.8 598.9,68.8 599,61.7 599.2,66.4 599.3,58 599.4,67.5 599.5,60.2 599.7,66.7 599.8,59.3 599.9,67.3 600,58.8 600.2,64.5 600.3,57.8 600.4,68 600.5,57.9 600.7,68.3 600.8,60.4 600.9,66.4 601,58.6 601.2,67.3 601.3,60.8 601.4,67.2 601.5,60.7 601.7,68.5 601.8,59.1 601.9,68.6 602,59.2 602.1,68.2 602.3,57.9 602.4,66 602.5,59.3 602.6,67.6 602.8,56.5 602.9,65.7 603,55.9 603.1,64.8 603.3,56.7 603.4,63.8 603.5,56.3 603.6,61.8 603.8,55.7 603.9,63.9 604,56.2 604.1,61.4 604.3,56.1 604.4,64.2 604.5,54.4 604.6,63 604.8,54.7 604.9,64.3 605,56.3 605.1,65.6 605.3,57.7 605.4,66.7 605.5,56.6 605.6,65.8 605.7,58.9 605.9,67.5 606,57.5 606.1,65.4 606.2,58.9 606.4,65 606.5,57.4 606.6,65.7 606.7,55.8 606.9,63.9 607,54.2 607.1,63.3 607.2,53.5 607.4,60.7 607.5,55.4 607.6,62.7 607.7,52.7 607.9,60.3 608,54.4 608.1,59.5 608.2,53.8 608.4,62.4 608.5,54.5 608.6,60.7 608.7,52.9 608.9,61.1 609,55.5 609.1,63.6 609.2,54.1 609.3,64.9 609.5,57.4 609.6,63.3 609.7,55.9 609.8,63.6 610,55.6 610.1,63.2 610.2,55.9 610.3,62.7 610.5,57 610.6,64.3 610.7,54.7 610.8,62.8 611,54.8 611.1,62.3 611.2,51.9 611.3,60.5 611.5,54.2 611.6,59.3 611.7,51 611.8,58.9 612,50.7 612.1,58.3 612.2,51.1 612.3,58.8 612.5,51.4 612.6,59.1 612.7,51.6 612.8,60.8 612.9,51.8 613.1,60.5 613.2,54.8 613.3,62.5 613.4,55.2 613.6,61.6 613.7,53.4 613.8,64.1 613.9,54 614.1,61.4 614.2,53.3 614.3,61.1 614.4,56.2 614.6,63 614.7,52.7 614.8,62.1 614.9,52.1 615.1,61.3 615.2,53.9 615.3,60.3 615.4,50.8 615.6,59.1 615.7,50.2 615.8,58.3 615.9,51.6 616.1,59.1 616.2,50.9 616.3,56.7 616.4,51.1 616.5,57.3 616.7,50.4 616.8,57.1 616.9,51.7 617,58.6 617.2,52.9 617.3,59.4 617.4,53.2 617.5,58.9 617.7,53.9 617.8,61.9 617.9,52 618,62.7 618.2,52.3 618.3,61.2 618.4,53.7 618.5,61.4 618.7,52.6 618.8,62.3 618.9,53.1 619,61.4 619.2,50.3 619.3,60.8 619.4,50.6 619.5,58.8 619.7,48.5 619.8,57.4 619.9,48.6 620,55.6 620.1,49.9 620.3,56.7 620.4,48 620.5,55.6 620.6,47.8 620.8,57.2 620.9,50.5 621,55.9 621.1,50.2 621.3,59.2 621.4,49 621.5,59.7 621.6,52.3 621.8,60.9 621.9,53.2 622,59.8 622.1,52 622.3,60 622.4,53.3 622.5,60.4 622.6,51.3 622.8,60.3 622.9,53.7 623,59.4 623.1,51.4 623.3,59.3 623.4,49.4 623.5,58.3 623.6,49.1 623.8,58.3 623.9,49.4 624,56.5 624.1,48.8 624.2,55 624.4,49.6 624.5,54.7 624.6,49.4 624.7,54.7 624.9,48.7 625,55.2 625.1,47.2 625.2,56.7 625.4,51.2 625.5,58.3 625.6,49.5 625.7,60 625.9,51.9 626,58.6 626.1,50.8 626.2,60.1 626.4,51.6 626.5,61.4 626.6,50.5 626.7,58.3 626.9,52.3 627,61.1 627.1,53.1 627.2,58.5 627.4,49.9 627.5,56.8 627.6,49.7 627.7,58.8 627.8,49 628,54.8 628.1,49.6 628.2,55.5 628.3,49.3 628.5,55.9 628.6,48.2 628.7,54.6 628.8,46.4 629,56.1 629.1,46.6 629.2,54.7 629.3,48.7 629.5,56.8 629.6,48.9 629.7,58.1 629.8,49.9 630,59.2 630.1,51.3 630.2,59 630.3,49.9 630.5,60.5 630.6,51.6 630.7,60.3 630.8,50.8 631,59.3 631.1,51.6 631.2,59.7 631.3,51.7 631.4,59.3 631.6,49.2 631.7,57.1 631.8,49.6 631.9,56.5 632.1,48.8 632.2,56.2 632.3,46.1 632.4,53.4 632.6,45.5 632.7,54.4 632.8,46.4 632.9,53.9 633.1,44.6 633.2,53 633.3,44.4 633.4,53.9 633.6,43.8 633.7,54.1 633.8,46.5 633.9,54.4 634.1,43.8 634.2,53.2 634.3,44 634.4,52.2 634.6,46.8 634.7,52.7 634.8,46.1 634.9,51.1 635,44.6 635.2,54.1 635.3,44.8 635.4,54.6 635.5,45.2 635.7,53 635.8,47 635.9,51.9 636,44.2 636.2,54.1 636.3,45.5 636.4,55 636.5,45.5 636.7,53.4 636.8,45.4 636.9,55.2 637,48 637.2,55.5 637.3,47.1 637.4,55.8 637.5,45.9 637.7,56.4 637.8,48.7 637.9,56.3 638,48.6 638.2,57.3 638.3,49.8 638.4,57.8 638.5,47.3 638.6,56.9 638.8,48.9 638.9,57.3 639,47.7 639.1,55.3 639.3,47.5 639.4,55.8 639.5,48.5 639.6,56.9 639.8,48.9 639.9,54.1 640,46.6 640.1,55.6 640.3,47.7 640.4,55 640.5,46.9 640.6,52.5 640.8,47 640.9,52.9 641,46.4 641.1,54 641.3,46.9 641.4,55.9 641.5,47.3 641.6,54 641.8,46.1 641.9,56.3 642,46.8 642.1,56.4 642.2,48.8 642.4,56.8 642.5,48.5 642.6,57.6 642.7,49.4 642.9,58.5 643,50.6 643.1,60.1 643.2,51 643.4,58.9 643.5,50.5 643.6,60 643.7,53.6 643.9,60.6 644,53.5 644.1,60.3 644.2,51.2 644.4,58.7 644.5,53.1 644.6,58.4 644.7,51.3 644.9,60.5 645,50.5 645.1,59.3 645.2,53.6 645.4,60.8 645.5,51.7 645.6,61.8 645.7,53.6 645.8,61 646,53.6 646.1,63.8 646.2,56.2 646.3,64.1 646.5,54.9 646.6,65.7 646.7,56.8 646.8,64.1 647,58.4 647.1,63.7 647.2,56.3 647.3,64.3 647.5,55.9 647.6,64.5 647.7,56.2 647.8,64.5 648,56.2 648.1,64.6 648.2,57.8 648.3,63.6 648.5,57.3 648.6,63.1 648.7,55.2 648.8,65.6 649,55.3 649.1,62.5 649.2,55.1 649.3,65.3 649.4,55.4 649.6,65 649.7,57.9 649.8,64.2 649.9,57.7 650.1,64.3 650.2,59.4 650.3,67.4 650.4,58.7 650.6,66.7 650.7,60.1 650.8,68 650.9,58.3 651.1,65.5 651.2,60.3 651.3,68 651.4,60.8 651.6,65.5 651.7,60.5 651.8,65.8 651.9,58.1 652.1,67.7 652.2,58.6 652.3,65.9 652.4,57.6 652.6,66.7 652.7,59.8 652.8,65 652.9,57.5 653,66.1 653.2,58.4 653.3,65.9 653.4,58.8 653.5,66.1 653.7,59.2 653.8,67.6 653.9,57.1 654,66.1 654.2,56.7 654.3,66.8 654.4,58.2 654.5,66.9 654.7,58 654.8,68.3 654.9,57.9 655,65.9 655.2,60.4 655.3,68.2 655.4,58.2 655.5,67.1 655.7,59 655.8,68.3 655.9,60.4 656,65.5 656.2,59.4 656.3,68.3 656.4,58.1 656.5,66.8 656.6,59.2 656.8,65.3 656.9,60.2 657,65.2 657.1,59.6 657.3,66.3 657.4,58.9 657.5,67.9 657.6,57.1 657.8,66.5 657.9,59.6 658,65.8 658.1,60.2 658.3,67.1 658.4,59.1 658.5,68.1 658.6,59.5 658.8,68 658.9,59.4 659,67.4 659.1,59.6 659.3,68.1 659.4,60.1 659.5,66 659.6,60.8 659.8,66.7 659.9,58.5 660,67 660.1,58.1 660.3,67.4 660.4,59.1 660.5,67 660.6,60.7 660.7,67.3 660.9,60.1 661,65.5 661.1,60.3 661.2,65.7 661.4,58.5 661.5,66.1 661.6,59.6 661.7,66.5 661.9,57.4 662,66 662.1,59.7 662.2,66.1 662.4,59.8 662.5,66.4 662.6,58.2 662.7,68.9 662.9,59.9 663,68.7 663.1,61 663.2,67.5 663.4,58.7 663.5,66.3 663.6,58.2 663.7,67.5 663.9,60 664,69.3 664.1,58.6 664.2,66.9 664.3,60.2 664.5,68.6 664.6,60.1 664.7,69.3 664.8,61 665,69.4 665.1,59.5 665.2,68.1 665.3,59.3 665.5,66.9 665.6,60.1 665.7,66.8 665.8,58.9 666,67.2 666.1,61.2 666.2,69.2 666.3,60.6 666.5,69.5 666.6,60.4 666.7,68.7 666.8,59.4 667,68.4 667.1,59.1 667.2,69.5 667.3,59.4 667.5,68.7 667.6,62.1 667.7,67.6 667.8,62.1 667.9,68.9 668.1,59.5 668.2,69 668.3,61.3 668.4,67.6 668.6,61.4 668.7,67.8 668.8,61.1 668.9,68.7 669.1,59.5 669.2,68.4 669.3,59.6 669.4,67.2 669.6,61.4 669.7,69.5 669.8,61.1 669.9,67.4 670.1,61.4 670.2,69 670.3,59.5 670.4,68.1 670.6,62.5 670.7,69.9 670.8,60.9 670.9,68.7 671.1,61.8 671.2,68.8 671.3,61.1 671.4,70.7 671.5,62.4 671.7,71 671.8,62.1 671.9,69.7 672,62.8 672.2,68.4 672.3,63 672.4,69 672.5,62.2 672.7,69.8 672.8,60.8 672.9,69.4 673,61.1 673.2,69 673.3,62 673.4,68.3 673.5,60.6 673.7,69.3 673.8,61.4 673.9,70 674,62 674.2,68.9 674.3,60.9 674.4,69.8 674.5,63.3 674.7,68.6 674.8,62.2 674.9,70.3 675,63.1 675.1,69.4 675.3,61.4 675.4,71 675.5,63.9 675.6,71.6 675.8,64.3 675.9,71.8 676,61.8 676.1,69.5 676.3,61.3 676.4,72.2 676.5,64.1 676.6,71.4 676.8,63.1 676.9,69.6 677,64 677.1,69.8 677.3,62.3 677.4,71 677.5,61.3 677.6,70 677.8,62.8 677.9,70.2 678,63.1 678.1,70.8 678.3,61.8 678.4,71.2 678.5,64 678.6,69.9 678.7,62.4 678.9,71.5 679,61.6 679.1,70.3 679.2,63.1 679.4,69.3 679.5,63 679.6,70.3 679.7,63 679.9,71.3 680,64.3 680.1,69.6 680.2,62.5 680.4,71.8 680.5,61.6 680.6,71.1 680.7,64.7 680.9,69.6 681,61.6 681.1,71.8 681.2,64.2 681.4,70.7 681.5,64.1 681.6,71.8 681.7,62.2 681.9,72.2 682,62.4 682.1,70.4 682.2,61.5 682.3,70.3 682.5,62.1 682.6,69.8 682.7,63.7 682.8,71.1 683,63.7 683.1,72 683.2,63 683.3,72.4 683.5,62.8 683.6,71.3 683.7,63.2 683.8,70.1 684,63.8 684.1,72.5 684.2,62.7 684.3,72.1 684.5,63.7 684.6,70.2 684.7,62.4 684.8,70.9 685,62.4 685.1,69.7 685.2,63.8 685.3,71.6 685.5,61.8 685.6,70 685.7,61.5 685.8,71.5 685.9,64.1 686.1,69.3 686.2,61.6 686.3,71.5 686.4,62.3 686.6,70.6 686.7,64.4 686.8,70.8 686.9,62.6 687.1,70.2 687.2,61.6 687.3,71.9 687.4,64.8 687.6,70.4 687.7,61.9 687.8,72 687.9,62.4 688.1,70.2 688.2,62.2 688.3,71.8 688.4,63.8 688.6,71.9 688.7,64.4 688.8,72.7 688.9,64.9 689.1,70.5 689.2,62.7 689.3,71 689.4,62.1 689.5,72.3 689.7,62.7 689.8,70.7 689.9,63.5 690,70.5 690.2,63.8 690.3,69.4 690.4,64 690.5,71.7 690.7,63 690.8,70.5 690.9,63.8 691,70 691.2,64.7 691.3,69.9 691.4,62.9 691.5,72.6 691.7,62.7 691.8,70.7 691.9,63.2 692,70.1 692.2,64.9 692.3,69.9 692.4,63.4 692.5,71.7 692.7,64.8 692.8,72.9 692.9,64.8 693,71.5 693.1,63.1 693.3,69.9 693.4,64.3 693.5,71.5 693.6,62.9 693.8,71.9 693.9,62.9 694,69.8 694.1,64.9 694.3,72.4 694.4,64.5 694.5,70.7 694.6,62.2 694.8,69.6 694.9,62.1 695,71.7 695.1,63.7 695.3,70.3 695.4,63.3 695.5,72.4 695.6,64.5 695.8,70.5 695.9,63.5 696,72.5 696.1,63.9 696.3,71.2 696.4,62.1 696.5,71.7 696.6,62.8 696.8,72.2 696.9,63.6 697,71.4 697.1,63.2 697.2,72.7 697.4,64.9 697.5,70.8 697.6,64.6 697.7,72.5 697.9,64.2 698,71.3 698.1,63.5 698.2,72.9 698.4,65.2 698.5,70.3 698.6,62.2 698.7,71.2 698.9,63.9 699,72.8 699.1,64.8 699.2,69.7 699.4,62.1 699.5,72.5 699.6,63.4 699.7,70.7 699.9,62.7 700,70.4 700.1,63.9 700.2,70.5 700.4,64.1 700.5,70 700.6,64 700.7,71.5 700.8,62.2 701,71.3 701.1,63.8 701.2,70.5 701.3,64.6 701.5,70.8 701.6,62.2 701.7,70.4 701.8,63.3 702,72.7 702.1,62.3 702.2,72.2 702.3,64.8 702.5,72.9 702.6,63.6 702.7,71.6 702.8,62.3 703,69.8 703.1,62.9 703.2,72.3 703.3,63.1 703.5,70.5 703.6,62.3 703.7,70.7 703.8,64.3 704,72.7 704.1,62.4 704.2,70.9 704.3,63.9 704.4,72.9 704.6,63.8 704.7,70.9 704.8,64.4 704.9,72.3 705.1,63.2 705.2,71.2 705.3,65 705.4,72.8 705.6,64.6 705.7,71 705.8,64.7 705.9,70.9 706.1,65.1 706.2,71.3 706.3,64.9 706.4,72.2 706.6,65.2 706.7,71.2 706.8,62.3 706.9,71.5 707.1,62.5 707.2,70.7 707.3,62.8 707.4,70.2 707.6,62.3 707.7,73.2 707.8,63.2 707.9,70.7 708,63 708.2,72.8 708.3,63.4 708.4,72.7 708.5,64.8 708.7,72.8 708.8,65 708.9,71.9 709,64.4 709.2,71 709.3,64.9 709.4,73.3 709.5,65.6 709.7,71.9 709.8,64.2 709.9,70.6 710,65.5 710.2,71.7 710.3,64.5 710.4,71 710.5,64.8 710.7,70.9 710.8,63.5 710.9,73.4 711,64.6 711.2,71.4 711.3,63.3 711.4,71.1 711.5,65.2 711.6,72.3 711.8,64.4 711.9,70.2 712,64.6 712.1,73.1 712.3,65.6 712.4,73.2 712.5,63.7 712.6,73.1 712.8,64 712.9,72.7 713,62.9 713.1,71 713.3,65.5 713.4,72.3 713.5,64.3 713.6,72.1 713.8,64.7 713.9,73.7 714,63.9 714.1,72.4 714.3,65.8 714.4,71.3 714.5,64.9 714.6,73.6 714.8,65.3 714.9,72 715,63.3 715.1,72.3 715.2,63.2 715.4,71.4 715.5,65.2 715.6,71 715.7,63.9 715.9,72 716,64.4 716.1,73.4 716.2,64.5 716.4,71.1 716.5,63.9 716.6,72.3 716.7,63.3 716.9,72.3 717,66 717.1,72.1 717.2,65.4 717.4,71.3 717.5,63.5 717.6,73.8 717.7,63.1 717.9,71.3 718,64.6 718.1,73.4 718.2,63.2 718.4,70.7 718.5,65.1 718.6,72.4 718.7,65.3 718.8,70.5 719,65.2 719.1,72.2 719.2,63.5 719.3,72.9 719.5,64 719.6,72.4 719.7,64.2 719.8,73.1 720,63.7 720.1,72.7 720.2,62.9 720.3,70.9 720.5,65.9 720.6,72.3 720.7,64.5 720.8,73.6 721,65.1 721.1,72.9 721.2,63.8 721.3,71.4 721.5,66.1 721.6,72 721.7,65.5 721.8,71.3 722,64.6 722.1,71.2 722.2,64.3 722.3,72.7 722.4,64.6 722.6,72.5 722.7,65.5 722.8,72.5 722.9,63.2 723.1,73.4 723.2,65.7 723.3,71.6 723.4,63.6 723.6,72.5 723.7,64.8 723.8,73.3 723.9,63.1 724.1,72.4 724.2,65.2 724.3,73.8 724.4,64.5 724.6,71.8 724.7,65.7 724.8,73.8 724.9,63.9 725.1,70.9 725.2,65.6 725.3,73.8 725.4,66 725.6,73 725.7,64.4 725.8,72.4 725.9,64 726,71.9 726.2,64.2 726.3,73.7 726.4,64.4 726.5,72.5 726.7,64.2 726.8,71.4 726.9,65.1 727,73.1 727.2,64.3 727.3,71.1 727.4,63.3 727.5,72.1 727.7,65.4 727.8,71.2 727.9,63.1 728,73.1 728.2,65.2 728.3,71.4 728.4,63.4 728.5,71.2 728.7,64.5 728.8,73 728.9,63.2 729,73.1 729.2,66 729.3,72.6 729.4,63.3 729.5,71.8 729.6,66.1 729.8,71.1 729.9,63.6 730,74 730.1,64.9 730.3,71.9 730.4,65.1 730.5,71.5 730.6,64.9 730.8,72.5 730.9,64.6 731,71.2 731.1,63.1 731.3,73 731.4,64.4 731.5,73.6 731.6,66.2 731.8,72.8 731.9,65.1 732,73 732.1,63.2 732.3,71.1 732.4,65.8 732.5,72 732.6,64.6 732.8,73.7 732.9,64 733,72.8 733.1,65.8 733.3,72.6 733.4,65 733.5,71.4 733.6,63.4 733.7,73.8 733.9,64.5 734,71.8 734.1,64.6 734.2,72.1 734.4,64.4 734.5,71.1 734.6,64.5 734.7,72.9 734.9,63.4 735,72.9 735.1,63.9 735.2,71.7 735.4,64.7 735.5,72.1 735.6,63.2 735.7,74.2 735.9,65.7 736,73.1 736.1,66.3 736.2,72.8 736.4,63.2 736.5,71.5 736.6,64.1 736.7,72.8 736.9,63.2 737,72.4 737.1,63.8 737.2,73.1 737.3,63.9 737.5,74 737.6,64.4 737.7,72.3 737.8,64.6 738,73.8 738.1,63.9 738.2,73.3 738.3,65.1 738.5,71.4 738.6,66.3 738.7,73.3 738.8,65.3 739,73.4 739.1,64.9 739.2,72.5 739.3,66 739.5,74 739.6,65.7 739.7,73.2 739.8,66.3 740,74.4 740.1,66.1 740.2,72.8 740.3,63.9 740.5,71.9 740.6,64.5 740.7,72.5 740.8,63.4 740.9,71.6 741.1,66.1 741.2,73 741.3,64.4 741.4,73.1 741.6,66.1 741.7,72.9 741.8,66.5 741.9,73.5 742.1,65.7 742.2,74.5 742.3,65.4 742.4,71.4 742.6,66.8 742.7,72.4 742.8,65.9 742.9,74.5 743.1,64.2 743.2,72.5 743.3,65.9 743.4,71.5 743.6,66.4 743.7,73.8 743.8,66.6 743.9,73.9 744.1,65.5 744.2,73.6 744.3,64.7 744.4,71.6 744.5,64.3 744.7,74.2 744.8,66.4 744.9,74.6 745,64.1 745.2,73.4 745.3,64.5 745.4,71.5 745.5,66.1 745.7,74.4 745.8,64 745.9,72.1 746,65.1 746.2,72.5 746.3,66.3 746.4,74 746.5,64.6 746.7,71.6 746.8,64.7 746.9,71.4 747,66.6 747.2,72.8 747.3,66.8 747.4,73.2 747.5,64.6 747.7,72.3 747.8,64.6 747.9,71.7 748,66.6 748.1,73.1 748.3,66.8 748.4,74 748.5,64 748.6,71.5 748.8,64.3 748.9,73.4 749,63.7 749.1,74.1 749.3,63.9 749.4,74.3 749.5,64.1 749.6,74 749.8,64 749.9,71.8 750,64.3 750.1,73.8 750.3,65.8 750.4,73 750.5,66.7 750.6,72.6 750.8,64.6 750.9,73.4 751,63.9 751.1,72.4 751.3,66.3 751.4,74 751.5,63.8"/>
<polyline fill="none" stroke="#ff00ff" stroke-width="1.1"  points="565.4,80 565.5,72.2 565.6,78.9 565.8,72.8 565.9,82.1 566,70 566.1,80.5 566.3,70.4 566.4,79.5 566.5,71.2 566.6,82.1 566.8,72.3 566.9,81 567,70.9 567.1,79.2 567.3,72.7 567.4,80.9 567.5,72.7 567.6,79.3 567.8,73 567.9,81.6 568,71.9 568.1,80.7 568.3,71.3 568.4,79.9 568.5,71.2 568.6,80.3 568.8,73.3 568.9,80.6 569,71.8 569.1,81.2 569.2,70.1 569.4,78.8 569.5,71.3 569.6,81.3 569.7,71.9 569.9,80.3 570,71 570.1,80.7 570.2,72.1 570.4,81.1 570.5,71.4 570.6,79 570.7,72.3 570.9,82 571,73.1 571.1,80.6 571.2,71.3 571.4,79.1 571.5,72.9 571.6,79.9 571.7,71.4 571.9,79.1 572,70.8 572.1,81.2 572.2,70.6 572.4,79.6 572.5,71.6 572.6,81.9 572.7,72 572.8,80.8 573,72.1 573.1,81.4 573.2,71.3 573.3,81.5 573.5,70 573.6,81.6 573.7,71.5 573.8,79.6 574,71.7 574.1,82.2 574.2,70 574.3,79.1 574.5,71.1 574.6,78.7 574.7,73.2 574.8,80 575,73.3 575.1,81.1 575.2,71.8 575.3,80.1 575.5,70.5 575.6,80 575.7,72.7 575.8,79.7 576,73.6 576.1,81.4 576.2,71.2 576.3,80.2 576.4,70.6 576.6,79.9 576.7,72.8 576.8,78.8 576.9,73 577.1,80.3 577.2,72.4 577.3,80.3 577.4,73.4 577.6,78.7 577.7,71.1 577.8,80.2 577.9,70.7 578.1,81.8 578.2,72.3 578.3,80.4 578.4,70.8 578.6,79.2 578.7,70.6 578.8,80 578.9,72.7 579.1,80.4 579.2,71.2 579.3,81.8 579.4,70.6 579.6,78.8 579.7,73 579.8,79.9 579.9,73.4 580,80.3 580.2,72 580.3,80.6 580.4,72.3 580.5,79.5 580.7,71.4 580.8,78.9 580.9,73.5 581,81.4 581.2,72.9 581.3,79.2 581.4,72.7 581.5,80.8 581.7,72.8 581.8,81.1 581.9,71.3 582,80.2 582.2,70.2 582.3,81.5 582.4,73.1 582.5,79.5 582.7,73.2 582.8,81.3 582.9,72.9 583,80.3 583.2,73.3 583.3,81.9 583.4,70.9 583.5,81.1 583.6,71 583.8,80 583.9,72.9 584,78.7 584.1,72.1 584.3,82.1 584.4,73.5 584.5,79.4 584.6,71.7 584.8,78.9 584.9,72.5 585,81.5 585.1,72.8 585.3,79.8 585.4,72.6 585.5,79.4 585.6,70.6 585.8,82.2 585.9,71.4 586,79.6 586.1,72.8 586.3,81.6 586.4,71.2 586.5,82.5 586.6,73.7 586.8,80.4 586.9,73.1 587,81.7 587.1,71.4 587.3,80.6 587.4,73.7 587.5,81.1 587.6,71.8 587.7,84.1 587.9,72 588,83 588.1,73.7 588.2,86.9 588.4,76.7 588.5,87.8 588.6,73.6 588.7,87.3 588.9,74.1 589,90.1 589.1,77.3 589.2,89.8 589.4,72.8 589.5,84.8 589.6,72.2 589.7,84.6 589.9,73.5 590,83.8 590.1,71 590.2,81 590.4,73.7 590.5,82.8 590.6,71.9 590.7,81 590.9,71.3 591,81.7 591.1,70.5 591.2,80.6 591.3,69.5 591.5,77.5 591.6,70.2 591.7,79.7 591.8,72 592,78.1 592.1,72.3 592.2,79.2 592.3,70.1 592.5,78.9 592.6,70.3 592.7,78.7 592.8,72.7 593,79.6 593.1,70.9 593.2,79.6 593.3,71.6 593.5,80.8 593.6,73.6 593.7,80.3 593.8,73.8 594,80.4 594.1,71.6 594.2,79.2 594.3,70.6 594.5,79.5 594.6,70.3 594.7,78.6 594.8,70.3 594.9,76 595.1,69.4 595.2,76.3 595.3,70.1 595.4,76.6 595.6,68.9 595.7,76.3 595.8,69.7 595.9,75.1 596.1,70.3 596.2,77.4 596.3,69 596.4,76.2 596.6,71.5 596.7,76.8 596.8,69.9 596.9,79.1 597.1,72.3 597.2,79.6 597.3,72.6 597.4,77.3 597.6,72.9 597.7,77.2 597.8,72.4 597.9,79.2 598.1,71.2 598.2,78.6 598.3,71.7 598.4,77.7 598.5,70.6 598.7,75.5 598.8,67.2 598.9,75.8 599,66.8 599.2,74.7 599.3,67.1 599.4,74 599.5,66.4 599.7,74.2 599.8,65.3 599.9,74.5 600,64.9 600.2,74.7 600.3,67.7 600.4,72.7 600.5,67.4 600.7,76.5 600.8,67.4 600.9,76.2 601,67.4 601.2,77.1 601.3,70.5 601.4,77.2 601.5,68.3 601.7,78.6 601.8,71.1 601.9,79.3 602,69.2 602.1,76.4 602.3,68.9 602.4,78 602.5,66.3 602.6,75 602.8,66.2 602.9,73 603,64.5 603.1,72 603.3,63.8 603.4,72.1 603.5,65.1 603.6,70.9 603.8,61.6 603.9,71 604,63.3 604.1,70.8 604.3,63.5 604.4,73.8 604.5,64.9 604.6,74.2 604.8,65.3 604.9,72.7 605,64.3 605.1,74.5 605.3,65.7 605.4,77.6 605.5,65.9 605.6,75.7 605.7,66.6 605.9,77.5 606,68.2 606.1,78.2 606.2,67.7 606.4,73.9 606.5,65.7 606.6,75 606.7,66.3 606.9,74 607,64.7 607.1,74.4 607.2,62.7 607.4,72.2 607.5,63.2 607.6,73.3 607.7,62.1 607.9,71.3 608,59.5 608.1,70.9 608.2,61.5 608.4,71.7 608.5,60.1 608.6,70.1 608.7,62.7 608.9,71.1 609,64.6 609.1,73.9 609.2,61.1 609.3,73.2 609.5,62.2 609.6,74.5 609.7,62.9 609.8,73.6 610,65.8 610.1,77.1 610.2,63 610.3,76.6 610.5,63.5 610.6,73.7 610.7,61.4 610.8,74.1 611,61.2 611.1,72.3 611.2,59.6 611.3,72.3 611.5,59.6 611.6,69.2 611.7,60.2 611.8,68.3 612,59.9 612.1,70.1 612.2,60.1 612.3,67.6 612.5,59.6 612.6,71.4 612.7,60.4 612.8,72.2 612.9,61.2 613.1,72 613.2,62.4 613.3,70.8 613.4,61.1 613.6,73.6 613.7,61.8 613.8,75.5 613.9,62.3 614.1,73.9 614.2,64.7 614.3,73.2 614.4,63.6 614.6,74.5 614.7,61.2 614.8,75.6 614.9,61 615.1,72.7 615.2,62 615.3,71.7 615.4,60.9 615.6,72 615.7,60.3 615.8,69 615.9,59.6 616.1,67.6 616.2,56.6 616.3,67.3 616.4,58.7 616.5,66.7 616.7,56.3 616.8,71.3 616.9,59.4 617,72.1 617.2,60.9 617.3,69.9 617.4,60.3 617.5,70.7 617.7,59.5 617.8,75 617.9,63.9 618,73.1 618.2,62.8 618.3,75.8 618.4,60.2 618.5,71.3 618.7,59.9 618.8,73.5 618.9,61.5 619,71.7 619.2,58.8 619.3,69.2 619.4,59.9 619.5,68 619.7,58.8 619.8,70.3 619.9,55.8 620,66.5 620.1,58 620.3,68.7 620.4,58.1 620.5,65.5 620.6,54.9 620.8,65.7 620.9,55.2 621,69 621.1,58.3 621.3,68.5 621.4,59.2 621.5,72.3 621.6,59.3 621.8,69.6 621.9,60.2 622,71.1 622.1,59.1 622.3,70.8 622.4,61.3 622.5,70.2 622.6,62.3 622.8,73.2 622.9,60.1 623,73.5 623.1,61.5 623.3,70.4 623.4,60.7 623.5,70.5 623.6,59.6 623.8,70.5 623.9,56.8 624,67.7 624.1,56.5 624.2,66.4 624.4,53.5 624.5,67.8 624.6,55.8 624.7,68.2 624.9,56 625,65 625.1,57.3 625.2,67.4 625.4,57.1 625.5,67.1 625.6,56.8 625.7,68.4 625.9,58 626,70.6 626.1,58.7 626.2,73.1 626.4,58.9 626.5,72 626.6,59.2 626.7,71.5 626.9,57.4 627,72.5 627.1,60.9 627.2,68.5 627.4,58.6 627.5,71.3 627.6,58.9 627.7,66.7 627.8,53.6 628,67.9 628.1,54.8 628.2,64.1 628.3,56.4 628.5,64.2 628.6,55.2 628.7,66.5 628.8,53.6 629,64.8 629.1,53.5 629.2,65.1 629.3,55.9 629.5,66.9 629.6,54.5 629.7,68.5 629.8,56.5 630,65.8 630.1,55.2 630.2,65.9 630.3,59.5 630.5,69.4 630.6,56.7 630.7,70.5 630.8,57.8 631,67.3 631.1,59.8 631.2,68.5 631.3,56.4 631.4,64.9 631.6,54.9 631.7,67.2 631.8,55.9 631.9,64.4 632.1,53.4 632.2,63.3 632.3,53.5 632.4,63.6 632.6,51.8 632.7,61.8 632.8,51.5 632.9,59.4 633.1,47.9 633.2,59.9 633.3,48 633.4,63.2 633.6,50.2 633.7,62.4 633.8,53.4 633.9,64.2 634.1,50.7 634.2,64 634.3,50.5 634.4,63.9 634.6,52.8 634.7,65.4 634.8,52.1 634.9,64.6 635,53.5 635.2,62.3 635.3,53.3 635.4,65.2 635.5,48.8 635.7,65.6 635.8,50.5 635.9,64 636,52.2 636.2,61 636.3,47.5 636.4,60.4 636.5,51.2 636.7,60.9 636.8,48.2 636.9,63.8 637,52.2 637.2,62.4 637.3,48.9 637.4,64.1 637.5,49.5 637.7,64.3 637.8,51 637.9,64.3 638,53.6 638.2,66.2 638.3,55.5 638.4,66.8 638.5,55.3 638.6,66.3 638.8,55.6 638.9,69.5 639,59.1 639.1,68.1 639.3,56.3 639.4,68.4 639.5,56.2 639.6,68 639.8,55.1 639.9,67.5 640,54.6 640.1,66.8 640.3,56.6 640.4,65.3 640.5,54.4 640.6,64.5 640.8,54.2 640.9,66.3 641,53.8 641.1,67 641.3,53.8 641.4,67 641.5,57.7 641.6,69.7 641.8,55.5 641.9,70.2 642,57.8 642.1,68.6 642.2,61.6 642.4,72.1 642.5,59.6 642.6,71.3 642.7,61 642.9,73.6 643,62.9 643.1,70.4 643.2,63.8 643.4,75.1 643.5,63.3 643.6,74.9 643.7,63.8 643.9,73.1 644,61.1 644.1,71.8 644.2,63 644.4,71.6 644.5,59.7 644.6,72.5 644.7,58.4 644.9,72.2 645,61.9 645.1,72.5 645.2,59.9 645.4,72.7 645.5,58.5 645.6,69.6 645.7,61.5 645.8,72.3 646,61.4 646.1,75.2 646.2,64.9 646.3,74.4 646.5,63.5 646.6,72.9 646.7,63.2 646.8,76.2 647,66.3 647.1,73.7 647.2,64.8 647.3,77.7 647.5,63.2 647.6,76.2 647.7,65 647.8,77.2 648,64.3 648.1,73 648.2,63.2 648.3,72.3 648.5,61.5 648.6,73.7 648.7,61.7 648.8,75 649,61.2 649.1,74.5 649.2,61.1 649.3,72.6 649.4,64.6 649.6,72.1 649.7,62 649.8,72.8 649.9,60.9 650.1,73.2 650.2,62.7 650.3,72.9 650.4,64.4 650.6,76.5 650.7,62.9 650.8,73.7 650.9,63.8 651.1,78.1 651.2,67.6 651.3,77.6 651.4,67.7 651.6,77 651.7,63.3 651.8,74.2 651.9,64.2 652.1,74.1 652.2,64.7 652.3,74.8 652.4,64.5 652.6,76.4 652.7,65.9 652.8,74 652.9,66 653,74.3 653.2,66 653.3,72.5 653.4,63.1 653.5,75.6 653.7,66.4 653.8,75.6 653.9,63.7 654,74.5 654.2,65.8 654.3,74.3 654.4,64.8 654.5,74.2 654.7,65.4 654.8,75.8 654.9,65.9 655,77.7 655.2,67.4 655.3,75.9 655.4,66.4 655.5,76 655.7,65.6 655.8,75.2 655.9,64.5 656,78.7 656.2,67.9 656.3,76.5 656.4,66.8 656.5,75.7 656.6,67.3 656.8,76.5 656.9,64.5 657,75 657.1,64.5 657.3,77.2 657.4,65.1 657.5,77.8 657.6,65.3 657.8,77.5 657.9,63.9 658,77.9 658.1,65.7 658.3,75.6 658.4,65.9 658.5,77.8 658.6,65.7 658.8,76.6 658.9,65.8 659,76.6 659.1,68.8 659.3,79.6 659.4,65.5 659.5,77.4 659.6,67.3 659.8,75.7 659.9,65.6 660,77.2 660.1,67.1 660.3,76.1 660.4,69 660.5,78 660.6,66.6 660.7,79.6 660.9,66.3 661,77.8 661.1,66.6 661.2,76.2 661.4,67.6 661.5,77.7 661.6,68.6 661.7,76.3 661.9,68.5 662,75.3 662.1,67.4 662.2,76.9 662.4,67.2 662.5,77.2 662.6,69.5 662.7,79.5 662.9,69.9 663,76.1 663.1,70.2 663.2,79.6 663.4,69 663.5,80.5 663.6,69.3 663.7,78.3 663.9,67.8 664,80.7 664.1,66.9 664.2,78.1 664.3,67.8 664.5,76.7 664.6,68.2 664.7,79.1 664.8,69.3 665,78.9 665.1,69 665.2,79.3 665.3,69.9 665.5,78.1 665.6,66.1 665.7,78.5 665.8,66.1 666,79.9 666.1,67 666.2,79.4 666.3,67.2 666.5,78.3 666.6,67.2 666.7,79.7 666.8,67.1 667,76.6 667.1,70.9 667.2,78.8 667.3,68.3 667.5,78.8 667.6,69.9 667.7,77.3 667.8,69 667.9,81.4 668.1,69.1 668.2,78.4 668.3,69 668.4,78.8 668.6,70 668.7,77.4 668.8,68.4 668.9,77 669.1,67.8 669.2,76.9 669.3,67.9 669.4,78.2 669.6,69.6 669.7,78.7 669.8,70.3 669.9,77.5 670.1,68.1 670.2,80.5 670.3,70.6 670.4,78 670.6,67.2 670.7,79.9 670.8,67.7 670.9,78.9 671.1,68.6 671.2,80.5 671.3,68.9 671.4,79.7 671.5,71 671.7,79.4 671.8,71.8 671.9,78.4 672,70.9 672.2,81.7 672.3,71.2 672.4,80.4 672.5,69.1 672.7,78.4 672.8,70.9 672.9,79.4 673,69.4 673.2,81.5 673.3,72.1 673.4,79.9 673.5,72 673.7,78.8 673.8,70.3 673.9,78.6 674,70.3 674.2,79 674.3,70 674.4,78.6 674.5,70.5 674.7,78.6 674.8,70.6 674.9,80.8 675,72.4 675.1,82.2 675.3,72.2 675.4,81.6 675.5,71.8 675.6,78.8 675.8,70 675.9,81 676,72.2 676.1,80.4 676.3,69.9 676.4,81.7 676.5,72.3 676.6,79.8 676.8,71.1 676.9,79.2 677,72.3 677.1,81.9 677.3,70.2 677.4,78.6 677.5,71.2 677.6,80 677.8,69.9 677.9,80 678,72 678.1,81.7 678.3,72.1 678.4,80.9 678.5,71.8 678.6,80.9 678.7,72.4 678.9,82.1 679,71.8 679.1,81.5 679.2,70.5 679.4,80.9 679.5,71.6 679.6,79.7 679.7,71.8 679.9,81.5 680,70.5 680.1,80.9 680.2,73.6 680.4,81.2 680.5,71.1 680.6,79.7 680.7,74.1 680.9,83.6 681,72 681.1,82.4 681.2,72.2 681.4,80.1 681.5,71.3 681.6,80.1 681.7,72 681.9,79.9 682,70.1 682.1,80.5 682.2,70.8 682.3,79.6 682.5,71.2 682.6,80.1 682.7,73.2 682.8,80.3 683,73.5 683.1,81.5 683.2,71.7 683.3,82.7 683.5,74 683.6,81.1 683.7,70.3 683.8,81 684,74.1 684.1,82.9 684.2,74.1 684.3,82.6 684.5,72.4 684.6,83.3 684.7,72.5 684.8,82.5 685,73.4 685.1,83.6 685.2,73.5 685.3,82.8 685.5,71.5 685.6,81.3 685.7,72.6 685.8,79.6 685.9,70.8 686.1,80 686.2,70.3 686.3,82.6 686.4,72.9 686.6,80.2 686.7,71 686.8,82.1 686.9,73.6 687.1,82.4 687.2,70.7 687.3,81.7 687.4,70.6 687.6,83.3 687.7,73.4 687.8,83.3 687.9,71 688.1,82 688.2,74.1 688.3,83.6 688.4,71.7 688.6,81.3 688.7,73.4 688.8,83.6 688.9,73.7 689.1,83 689.2,72.8 689.3,82.4 689.4,71.2 689.5,80 689.7,73.2 689.8,79.9 689.9,72.5 690,79.9 690.2,70.4 690.3,82.3 690.4,71.6 690.5,79.9 690.7,73.1 690.8,81.5 690.9,70.4 691,82.9 691.2,70.4 691.3,80.6 691.4,71.4 691.5,81.5 691.7,72.1 691.8,82.2 691.9,73.3 692,80.8 692.2,72.9 692.3,80.7 692.4,71.3 692.5,81.3 692.7,74.6 692.8,82.4 692.9,70.9 693,82.1 693.1,73.6 693.3,83.4 693.4,72.1 693.5,82.2 693.6,72.7 693.8,82.6 693.9,71.7 694,81.6 694.1,72.9 694.3,82.4 694.4,70.6 694.5,79.6 694.6,74 694.8,79.6 694.9,70.7 695,81.7 695.1,72.6 695.3,83.1 695.4,70.5 695.5,81.1 695.6,72.9 695.8,81.6 695.9,72.2 696,83 696.1,71.2 696.3,80.9 696.4,71.4 696.5,80.2 696.6,74 696.8,81.6 696.9,74.5 697,81.4 697.1,74.7 697.2,83.1 697.4,72.1 697.5,80.9 697.6,72.6 697.7,81.3 697.9,71.4 698,80.8 698.1,73.5 698.2,82.6 698.4,71.4 698.5,82.2 698.6,74 698.7,79.6 698.9,70.6 699,83.1 699.1,73.4 699.2,81.3 699.4,72.5 699.5,80.6 699.6,74.1 699.7,80.6 699.9,70.8 700,81.4 700.1,73.8 700.2,80.1 700.4,72.3 700.5,83.2 700.6,73.9 700.7,82.9 700.8,74.8 701,80.6 701.1,72.5 701.2,80.4 701.3,73.1 701.5,81.9 701.6,74.7 701.7,83.1 701.8,71.9 702,82.9 702.1,72.1 702.2,80.8 702.3,71.9 702.5,81.8 702.6,72.1 702.7,82.4 702.8,73.3 703,83 703.1,72.6 703.2,80.7 703.3,72.4 703.5,83.3 703.6,71.8 703.7,80 703.8,73.5 704,82.3 704.1,71 704.2,81.9 704.3,72.7 704.4,80 704.6,74.3 704.7,83.1 704.8,74.1 704.9,82.2 705.1,72.4 705.2,82.4 705.3,72.1 705.4,82.6 705.6,73.8 705.7,82.3 705.8,72.3 705.9,80.2 706.1,71.2 706.2,82.3 706.3,71 706.4,83.1 706.6,74.5 706.7,80 706.8,71.3 706.9,80.6 707.1,71.1 707.2,83.4 707.3,71.6 707.4,82 707.6,72.9 707.7,83.1 707.8,72.3 707.9,80.1 708,72 708.2,81.1 708.3,74.3 708.4,81.4 708.5,71.7 708.7,82.9 708.8,73.6 708.9,83.3 709,73 709.2,81.5 709.3,74.8 709.4,82.8 709.5,74.2 709.7,82.1 709.8,74.2 709.9,82.5 710,74.8 710.2,81.1 710.3,72.6 710.4,83.1 710.5,72.1 710.7,80.9 710.8,73.3 710.9,81.7 711,71.1 711.2,80.4 711.3,71.7 711.4,80.2 711.5,71.5 711.6,80.2 711.8,73.3 711.9,81.2 712,72.3 712.1,81.1 712.3,71.9 712.4,83.7 712.5,72.3 712.6,80.2 712.8,74.7 712.9,83.2 713,73.6 713.1,82.2 713.3,72 713.4,83 713.5,73.3 713.6,81.4 713.8,74.9 713.9,80.7 714,75 714.1,81.7 714.3,71.5 714.4,80.5 714.5,73.1 714.6,82.3 714.8,71.4 714.9,83.7 715,72.4 715.1,82.1 715.2,72.2 715.4,81.5 715.5,71.9 715.6,83 715.7,74.1 715.9,81.9 716,73.7 716.1,80.4 716.2,73.4 716.4,82.3 716.5,73.1 716.6,81.6 716.7,73.1 716.9,82.1 717,75.2 717.1,82.9 717.2,72.4 717.4,82.1 717.5,72.9 717.6,81.2 717.7,72.6 717.9,82 718,72.9 718.1,82.8 718.2,73.7 718.4,80.9 718.5,71.7 718.6,83.3 718.7,73.7 718.8,81.5 719,71.9 719.1,82.8 719.2,74 719.3,83 719.5,73.7 719.6,83.1 719.7,74.6 719.8,83.5 720,73.7 720.1,83.5 720.2,74.2 720.3,81.5 720.5,74.2 720.6,82.3 720.7,74.3 720.8,82.8 721,72.8 721.1,83.2 721.2,73.7 721.3,82 721.5,74.5 721.6,82.2 721.7,73.5 721.8,81.4 722,73.4 722.1,81 722.2,73.9 722.3,81.6 722.4,73.4 722.6,83.2 722.7,75.2 722.8,81.9 722.9,74.9 723.1,81.5 723.2,72.5 723.3,82.5 723.4,72.5 723.6,83.1 723.7,73.9 723.8,81.5 723.9,74.5 724.1,81.3 724.2,72.9 724.3,82.6 724.4,72.6 724.6,82.2 724.7,75.1 724.8,82.7 724.9,72.3 725.1,83.6 725.2,75.4 725.3,81.8 725.4,73.7 725.6,82.8 725.7,72.6 725.8,80.6 725.9,72.2 726,82.1 726.2,72 726.3,83.4 726.4,74.1 726.5,83.9 726.7,73.8 726.8,80.8 726.9,74.7 727,82.3 727.2,72.6 727.3,81.4 727.4,71.9 727.5,81.2 727.7,71.7 727.8,82.6 727.9,72.6 728,81.6 728.2,73.4 728.3,81.5 728.4,73.5 728.5,83.4 728.7,72.6 728.8,83.4 728.9,74 729,81.5 729.2,73.4 729.3,83.9 729.4,73 729.5,81.4 729.6,72.7 729.8,83.8 729.9,73 730,83.2 730.1,73.2 730.3,82.6 730.4,74.2 730.5,83.1 730.6,74.1 730.8,81.1 730.9,72.3 731,83.8 731.1,75.1 731.3,83.3 731.4,73.2 731.5,81.6 731.6,74.3 731.8,80.9 731.9,73.8 732,81.1 732.1,73 732.3,83.8 732.4,74.4 732.5,81.3 732.6,73.6 732.8,80.8 732.9,75.1 733,81.1 733.1,72.6 733.3,82.3 733.4,72.8 733.5,83.6 733.6,74.6 733.7,81.2 733.9,75.5 734,83.3 734.1,73.8 734.2,83.7 734.4,73.4 734.5,81.2 734.6,74 734.7,82 734.9,75.3 735,81.1 735.1,73.1 735.2,82.9 735.4,74.1 735.5,80.9 735.6,74.7 735.7,82 735.9,73 736,81.9 736.1,72.9 736.2,81.8 736.4,73.5 736.5,83.2 736.6,74.1 736.7,82.2 736.9,75.5 737,80.9 737.1,73.3 737.2,80.9 737.3,75.1 737.5,82.4 737.6,72.5 737.7,84.2 737.8,73.1 738,82 738.1,75.2 738.2,82.1 738.3,75.6 738.5,81.7 738.6,73.3 738.7,82.9 738.8,72.5 739,81.8 739.1,74.3 739.2,83.3 739.3,74.9 739.5,81.5 739.6,72.3 739.7,81.8 739.8,72.6 740,82 740.1,72.6 740.2,83.5 740.3,74.7 740.5,80.8 740.6,73.4 740.7,81.8 740.8,74.6 740.9,83.2 741.1,74.4 741.2,81.6 741.3,72.8 741.4,83.5 741.6,73 741.7,81.9 741.8,72.4 741.9,82.5 742.1,74.8 742.2,81.2 742.3,73.1 742.4,83.3 742.6,72.6 742.7,81.1 742.8,75.8 742.9,83.9 743.1,75.1 743.2,81.9 743.3,75.5 743.4,82.5 743.6,75.2 743.7,80.9 743.8,72.5 743.9,81.2 744.1,74.6 744.2,81.4 744.3,73 744.4,83.5 744.5,72.7 744.7,82.4 744.8,73.2 744.9,83.6 745,73 745.2,81.3 745.3,74.3 745.4,83.1 745.5,74.9 745.7,83.6 745.8,73.8 745.9,83.6 746,73.4 746.2,82.3 746.3,75.7 746.4,81.7 746.5,74.3 746.7,84.2 746.8,75.4 746.9,83.7 747,75.2 747.2,82.9 747.3,72.9 747.4,82.4 747.5,75.3 747.7,81.9 747.8,73.4 747.9,83.2 748,73.9 748.1,81.6 748.3,73.4 748.4,83.8 748.5,74.5 748.6,81.8 748.8,74 748.9,83.6 749,74.5 749.1,82.8 749.3,73.5 749.4,84.1 749.5,75.9 749.6,83.3 749.8,75.9 749.9,81.8 750,73.8 750.1,81.5 750.3,73.8 750.4,83.6 750.5,73.8 750.6,83.8 750.8,74 750.9,82.6 751,72.7 751.1,82.1 751.3,75.6 751.4,82.6 751.5,74.2"/>
<polyline fill="none" stroke="#000000" stroke-width="1.1"  points="565.4,103 565.5,98.4 565.6,102.9 565.8,99.7 565.9,103.3 566,99.7 566.1,103.5 566.3,99.5 566.4,103 566.5,98.8 566.6,103.5 566.8,100 566.9,103.3 567,99.1 567.1,103 567.3,99.4 567.4,103.4 567.5,98.7 567.6,103.7 567.8,98.6 567.9,103.3 568,99.6 568.1,103.6 568.3,99.8 568.4,102.4 568.5,99.8 568.6,102.5 568.8,99.3 568.9,103 569,98.4 569.1,103.8 569.2,98.6 569.4,103.6 569.5,99.7 569.6,102.6 569.7,98.6 569.9,103.7 570,100 570.1,103.1 570.2,99.6 570.4,103.3 570.5,99.3 570.6,103.2 570.7,99 570.9,103.7 571,98.5 571.1,103.2 571.2,99.4 571.4,103.8 571.5,100 571.6,103.7 571.7,99.9 571.9,102.9 572,98.4 572.1,102.9 572.2,100 572.4,102.6 572.5,98.4 572.6,103.1 572.7,99.4 572.8,103.9 573,98.6 573.1,102.8 573.2,99.8 573.3,103.9 573.5,99.4 573.6,103.2 573.7,99.8 573.8,103.1 574,98.5 574.1,103.9 574.2,99.7 574.3,103.5 574.5,99.8 574.6,103.2 574.7,98.7 574.8,102.8 575,99 575.1,102.7 575.2,99.6 575.3,103.5 575.5,99.5 575.6,102.7 575.7,99.5 575.8,103.7 576,99.3 576.1,103.4 576.2,99.6 576.3,103.4 576.4,100 576.6,102.5 576.7,99.7 576.8,103.7 576.9,99.7 577.1,103.1 577.2,98.3 577.3,102.8 577.4,99.8 577.6,102.8 577.7,99.1 577.8,103.9 577.9,100 578.1,103.3 578.2,100 578.3,104.1 578.4,99.2 578.6,103.5 578.7,99.6 578.8,103.2 578.9,98.6 579.1,102.6 579.2,99.7 579.3,102.9 579.4,98.6 579.6,103.9 579.7,98.7 579.8,102.8 579.9,99.5 580,103.6 580.2,99.3 580.3,103 580.4,98.3 580.5,102.8 580.7,98.7 580.8,102.7 580.9,98.5 581,102.9 581.2,98.4 581.3,103.6 581.4,98.5 581.5,103.5 581.7,99.9 581.8,103.1 581.9,98.3 582,102.6 582.2,99.1 582.3,103.3 582.4,99.3 582.5,102.8 582.7,99.5 582.8,102.7 582.9,99.6 583,102.4 583.2,98.7 583.3,103.9 583.4,99.7 583.5,102.5 583.6,99.4 583.8,102.5 583.9,99.3 584,102.8 584.1,99 584.3,103.7 584.4,98.5 584.5,103.6 584.6,98.6 584.8,104.1 584.9,99.3 585,102.6 585.1,99.7 585.3,103.2 585.4,98.8 585.5,103.8 585.6,99.8 585.8,103.3 585.9,99.9 586,103.4 586.1,98.6 586.3,103.1 586.4,99.2 586.5,103.9 586.6,99.4 586.8,103.4 586.9,99.9 587,103.4 587.1,100.3 587.3,103.6 587.4,99.6 587.5,104.3 587.6,101.1 587.7,105.6 587.9,101.1 588,105.2 588.1,100.6 588.2,105.4 588.4,101.5 588.5,105.7 588.6,101.6 588.7,104.7 588.9,100.8 589,105.2 589.1,100.2 589.2,105.2 589.4,100.3 589.5,104.2 589.6,101.7 589.7,104.6 589.9,100.2 590,104.7 590.1,100.4 590.2,104.3 590.4,100.6 590.5,103.9 590.6,100.4 590.7,103.1 590.9,99.4 591,103.2 591.1,98.6 591.2,103.5 591.3,99.7 591.5,102.7 591.6,99.5 591.7,103.3 591.8,99.2 592,102.9 592.1,98.8 592.2,102.5 592.3,98 592.5,102.7 592.6,98.9 592.7,102.1 592.8,98.9 593,102.1 593.1,98.3 593.2,103 593.3,98.3 593.5,102.8 593.6,97.9 593.7,102.4 593.8,98.6 594,102.2 594.1,98.6 594.2,101.6 594.3,98 594.5,101.6 594.6,96.6 594.7,100.4 594.8,96.2 594.9,100.6 595.1,95.9 595.2,99.3 595.3,96.2 595.4,100 595.6,95.9 595.7,98.6 595.8,94.4 595.9,98.1 596.1,95.4 596.2,98.6 596.3,95.3 596.4,97.9 596.6,94.1 596.7,98.1 596.8,93.8 596.9,97.8 597.1,94.9 597.2,98.6 597.3,95.1 597.4,98.3 597.6,94.2 597.7,98.3 597.8,93.1 597.9,97.6 598.1,92.8 598.2,96.9 598.3,92.8 598.4,96.8 598.5,92.1 598.7,96.4 598.8,91.4 598.9,95.2 599,91.9 599.2,95.4 599.3,90.8 599.4,94.7 599.5,90.3 599.7,94.6 599.8,89.9 599.9,95.5 600,91.5 600.2,95 600.3,90.1 600.4,94.1 600.5,90.4 600.7,95.1 600.8,91 600.9,94.7 601,90.7 601.2,94.8 601.3,91.8 601.4,95.1 601.5,90.5 601.7,95.2 601.8,91.9 601.9,95.1 602,90.7 602.1,95.3 602.3,90.5 602.4,95.4 602.5,91 602.6,94.3 602.8,89.7 602.9,94 603,90 603.1,94.4 603.3,89.4 603.4,94.3 603.5,90.2 603.6,93.6 603.8,89.2 603.9,93.1 604,89.5 604.1,93 604.3,88.6 604.4,93.2 604.5,89.7 604.6,93.7 604.8,88.8 604.9,93.4 605,90.2 605.1,94.1 605.3,89.4 605.4,94.2 605.5,90.7 605.6,93.2 605.7,89 605.9,94 606,90.2 606.1,93 606.2,89.7 606.4,93.3 606.5,90 606.6,93.5 606.7,89.6 606.9,93.7 607,89.2 607.1,93.3 607.2,88.6 607.4,91.9 607.5,87.6 607.6,92 607.7,88.4 607.9,92.4 608,87.6 608.1,91.8 608.2,87.8 608.4,92.3 608.5,87.5 608.6,91 608.7,87.1 608.9,92 609,88.3 609.1,91.3 609.2,88.9 609.3,91.6 609.5,88.7 609.6,92.4 609.7,88.8 609.8,92.9 610,88.3 610.1,92.2 610.2,88.4 610.3,91.8 610.5,88 610.6,91.5 610.7,88 610.8,91.6 611,87.2 611.1,91 611.2,86.6 611.3,90.7 611.5,85.9 611.6,90 611.7,86.2 611.8,90 612,86.2 612.1,89.5 612.2,86.3 612.3,89.5 612.5,85.7 612.6,90.6 612.7,85.6 612.8,90.9 612.9,86.4 613.1,90.6 613.2,85.6 613.3,90.6 613.4,86.6 613.6,91 613.7,87.5 613.8,91.4 613.9,86.9 614.1,91.3 614.2,87.4 614.3,90.7 614.4,86.5 614.6,91 614.7,86.2 614.8,90.5 614.9,85.3 615.1,89.5 615.2,85.8 615.3,90.2 615.4,85.4 615.6,89.3 615.7,84.9 615.8,89.7 615.9,84.3 616.1,89.1 616.2,85.3 616.3,88.3 616.4,83.9 616.5,87.9 616.7,83.9 616.8,89.2 616.9,84.1 617,89 617.2,85.1 617.3,88.2 617.4,84.1 617.5,88.9 617.7,84.4 617.8,89.5 617.9,84.4 618,88.5 618.2,84.7 618.3,89.7 618.4,85.1 618.5,88.6 618.7,85.5 618.8,89.7 618.9,84.9 619,89.1 619.2,83.6 619.3,87.8 619.4,84.8 619.5,87.1 619.7,83.8 619.8,88.1 619.9,82.8 620,87.4 620.1,83.9 620.3,86.6 620.4,83.5 620.5,86.4 620.6,83.5 620.8,86.2 620.9,83 621,86.8 621.1,83.4 621.3,86.9 621.4,82.9 621.5,87.2 621.6,84.2 621.8,87.4 621.9,84.2 622,87.6 622.1,84.1 622.3,87.5 622.4,83.7 622.5,87.3 622.6,83.1 622.8,88.5 622.9,83.6 623,87.9 623.1,83.8 623.3,86.8 623.4,82.2 623.5,86.8 623.6,82.1 623.8,87 623.9,81.8 624,86 624.1,82.1 624.2,85 624.4,81 624.5,86 624.6,82.3 624.7,86.2 624.9,81.9 625,86.3 625.1,82.3 625.2,85 625.4,81.2 625.5,86.7 625.6,82.1 625.7,87 625.9,83.1 626,85.9 626.1,81.7 626.2,87.4 626.4,82.3 626.5,86.4 626.6,82.2 626.7,85.7 626.9,82.7 627,87 627.1,82.7 627.2,85.5 627.4,81.9 627.5,86 627.6,81.8 627.7,85.8 627.8,80.3 628,84.3 628.1,80.8 628.2,85 628.3,80.2 628.5,84.6 628.6,80.3 628.7,84.6 628.8,79.3 629,84.4 629.1,79.3 629.2,83.8 629.3,80 629.5,84.7 629.6,79.8 629.7,84.4 629.8,81.2 630,84.1 630.1,80.7 630.2,85.2 630.3,80 630.5,85.6 630.6,80.9 630.7,85.6 630.8,80.8 631,84 631.1,79.7 631.2,83.6 631.3,80.1 631.4,84.4 631.6,79.4 631.7,84 631.8,79 631.9,82.7 632.1,78.7 632.2,82.4 632.3,77.7 632.4,81.7 632.6,77.1 632.7,81.3 632.8,76.7 632.9,81 633.1,76.3 633.2,80.3 633.3,77 633.4,80.4 633.6,76 633.7,80.9 633.8,75.9 633.9,80.9 634.1,76 634.2,81.2 634.3,76 634.4,80.4 634.6,75.9 634.7,80.7 634.8,76.8 634.9,81.7 635,77.8 635.2,81 635.3,78.5 635.4,81 635.5,77.8 635.7,82.1 635.8,78.6 635.9,81.2 636,78.8 636.2,82.2 636.3,77.6 636.4,82.8 636.5,78.2 636.7,82.8 636.8,78.9 636.9,81.6 637,78.2 637.2,82 637.3,78.4 637.4,81.6 637.5,77.9 637.7,82.9 637.8,77.8 637.9,81.7 638,78.7 638.2,81.9 638.3,77.5 638.4,82.3 638.5,79 638.6,83 638.8,78.9 638.9,81.6 639,78.4 639.1,81.4 639.3,78 639.4,81.8 639.5,78 639.6,81.6 639.8,76.7 639.9,80.8 640,77.2 640.1,80.9 640.3,76.5 640.4,79.8 640.5,75.2 640.6,79.5 640.8,76.3 640.9,80 641,76 641.1,81.1 641.3,76.2 641.4,80.9 641.5,76.9 641.6,82.1 641.8,78.8 641.9,82 642,78.1 642.1,83 642.2,80 642.4,83.1 642.5,80.4 642.6,84.6 642.7,81.2 642.9,84.3 643,80.5 643.1,85 643.2,81.2 643.4,86.3 643.5,81.4 643.6,86.3 643.7,82.3 643.9,86.7 644,82.7 644.1,87.1 644.2,82.3 644.4,86.2 644.5,83.8 644.6,87.4 644.7,83.3 644.9,87.6 645,83.3 645.1,87.8 645.2,84.6 645.4,88.4 645.5,84.8 645.6,88.8 645.7,85.8 645.8,90.1 646,86.1 646.1,90.8 646.2,85.7 646.3,90.2 646.5,86.4 646.6,90.3 646.7,87.7 646.8,91.1 647,87.9 647.1,90.8 647.2,88.2 647.3,91.7 647.5,87.3 647.6,92.5 647.7,88.2 647.8,92.4 648,87.6 648.1,91 648.2,88.1 648.3,92.8 648.5,87.5 648.6,92.3 648.7,87.6 648.8,92.9 649,88 649.1,91.6 649.2,89 649.3,92.5 649.4,89 649.6,93.4 649.7,87.9 649.8,93 649.9,88.8 650.1,92.6 650.2,88.8 650.3,93.4 650.4,89.2 650.6,93.7 650.7,89.4 650.8,93.5 650.9,89.4 651.1,94.7 651.2,90.7 651.3,94.4 651.4,91 651.6,94.6 651.7,89.9 651.8,94.6 651.9,90.9 652.1,94.6 652.2,90.8 652.3,94.5 652.4,90.6 652.6,95 652.7,90.2 652.8,93.8 652.9,89.8 653,94.4 653.2,90.7 653.3,94.7 653.4,90 653.5,94 653.7,90.2 653.8,95.3 653.9,90.9 654,95 654.2,91.1 654.3,95.7 654.4,91.4 654.5,96.3 654.7,91.4 654.8,95.6 654.9,91 655,95.1 655.2,91.2 655.3,96 655.4,92.7 655.5,96.5 655.7,92.6 655.8,96.2 655.9,92.2 656,97.1 656.2,91.9 656.3,96.2 656.4,92 656.5,96.6 656.6,92.9 656.8,96.1 656.9,92.9 657,95.7 657.1,92.6 657.3,95.6 657.4,92.9 657.5,96 657.6,92.4 657.8,96.5 657.9,93.3 658,97.6 658.1,92.3 658.3,97.2 658.4,92.7 658.5,97.5 658.6,93.6 658.8,97.6 658.9,93.5 659,96.9 659.1,93.8 659.3,98.1 659.4,93.7 659.5,98.3 659.6,92.8 659.8,98.6 659.9,93.8 660,98 660.1,93.7 660.3,97.2 660.4,93.4 660.5,98.5 660.6,94.5 660.7,97.7 660.9,93.7 661,98.9 661.1,94.3 661.2,98.8 661.4,94.8 661.5,98.3 661.6,94.5 661.7,98.9 661.9,94.8 662,97.7 662.1,94.6 662.2,98.9 662.4,94 662.5,98.3 662.6,94.1 662.7,98 662.9,94.7 663,99.4 663.1,95.3 663.2,98.4 663.4,95 663.5,98.4 663.6,94.8 663.7,98.8 663.9,94.7 664,98.1 664.1,94.4 664.2,98.8 664.3,95.7 664.5,99.2 664.6,95.5 664.7,98.5 664.8,94.5 665,98.3 665.1,94.2 665.2,98.6 665.3,94.8 665.5,98.4 665.6,94.2 665.7,99.9 665.8,94.8 666,98.8 666.1,95.4 666.2,99.4 666.3,95.6 666.5,99.5 666.6,94.6 666.7,98.8 666.8,95.7 667,100.2 667.1,94.8 667.2,98.7 667.3,96.2 667.5,99.8 667.6,94.9 667.7,100.4 667.8,96.2 667.9,99.6 668.1,95.6 668.2,100.3 668.3,95.7 668.4,98.9 668.6,96.4 668.7,99.8 668.8,96.3 668.9,99.8 669.1,95.6 669.2,99.9 669.3,95.7 669.4,99 669.6,95.5 669.7,99.1 669.8,95.9 669.9,99.4 670.1,96.1 670.2,100.6 670.3,95.4 670.4,100.7 670.6,95.7 670.7,100.2 670.8,95.5 670.9,99.4 671.1,96.9 671.2,100.9 671.3,95.8 671.4,100.1 671.5,96.6 671.7,101.1 671.8,96.8 671.9,99.9 672,95.5 672.2,100.8 672.3,95.7 672.4,101.2 672.5,95.6 672.7,100.3 672.8,96.9 672.9,100.6 673,96.7 673.2,100.3 673.3,96.4 673.4,101.3 673.5,96.5 673.7,100.4 673.8,97.2 673.9,101.3 674,96.4 674.2,100.3 674.3,96.2 674.4,100.1 674.5,97.5 674.7,100.5 674.8,96.3 674.9,100.9 675,96.5 675.1,101.6 675.3,96 675.4,101.6 675.5,97 675.6,101.1 675.8,97.8 675.9,100.3 676,97.1 676.1,100.8 676.3,97 676.4,100.3 676.5,96.3 676.6,101.2 676.8,97.7 676.9,101.5 677,97.1 677.1,101.7 677.3,96.4 677.4,101.2 677.5,98.2 677.6,100.9 677.8,97.5 677.9,101 678,97.4 678.1,101.7 678.3,97.4 678.4,100.7 678.5,98.3 678.6,100.7 678.7,97.2 678.9,101.4 679,97.5 679.1,101.5 679.2,97.3 679.4,102.6 679.5,97.5 679.6,101.2 679.7,97.3 679.9,101.3 680,97.4 680.1,102 680.2,98.6 680.4,101.3 680.5,98.3 680.6,101.7 680.7,97.2 680.9,102.3 681,98 681.1,101.8 681.2,98.8 681.4,101.5 681.5,97.3 681.6,101.8 681.7,98.4 681.9,102.8 682,98.5 682.1,102.6 682.2,98.2 682.3,101.8 682.5,98.3 682.6,101.7 682.7,98.4 682.8,101.7 683,98.1 683.1,102 683.2,98.8 683.3,101.9 683.5,97.5 683.6,102.5 683.7,98.7 683.8,101.6 684,97.8 684.1,102.3 684.2,98.8 684.3,101.8 684.5,98 684.6,102.4 684.7,97.9 684.8,102.4 685,97.4 685.1,102.8 685.2,98.6 685.3,102.8 685.5,98.6 685.6,101.3 685.7,97.6 685.8,102.8 685.9,98.8 686.1,102.6 686.2,98.8 686.3,102.9 686.4,98.1 686.6,102.1 686.7,97.4 686.8,101.8 686.9,98 687.1,101.5 687.2,98.7 687.3,102.2 687.4,97.5 687.6,101.9 687.7,99 687.8,101.7 687.9,98.1 688.1,101.4 688.2,98.7 688.3,101.7 688.4,97.5 688.6,102.1 688.7,98.8 688.8,102.3 688.9,98 689.1,102.4 689.2,97.7 689.3,102.3 689.4,98.9 689.5,102.4 689.7,98 689.8,102.2 689.9,98.8 690,101.7 690.2,97.9 690.3,102.7 690.4,98.9 690.5,102.7 690.7,98.3 690.8,102.5 690.9,97.7 691,101.5 691.2,97.8 691.3,102.7 691.4,98.2 691.5,101.8 691.7,98.1 691.8,102.4 691.9,98.4 692,102.3 692.2,97.8 692.3,102.8 692.4,97.4 692.5,103.1 692.7,99 692.8,103 692.9,97.6 693,103.1 693.1,97.7 693.3,103.1 693.4,97.4 693.5,101.7 693.6,98.9 693.8,102.4 693.9,97.5 694,102.4 694.1,98.2 694.3,102.9 694.4,98.1 694.5,102.9 694.6,98.1 694.8,102.4 694.9,98.3 695,102.8 695.1,98.9 695.3,102 695.4,99 695.5,102.6 695.6,98.4 695.8,103 695.9,98.6 696,103.1 696.1,98.6 696.3,103.1 696.4,97.6 696.5,102 696.6,98.2 696.8,101.6 696.9,98.1 697,102.7 697.1,98.4 697.2,102.3 697.4,98.3 697.5,102.9 697.6,98.8 697.7,103 697.9,97.9 698,102.2 698.1,97.5 698.2,102.5 698.4,98.3 698.5,102.5 698.6,98.6 698.7,102.5 698.9,99.1 699,102.6 699.1,98.6 699.2,102.7 699.4,98.2 699.5,103.3 699.6,97.9 699.7,101.6 699.9,99 700,102.4 700.1,98.3 700.2,102.4 700.4,98 700.5,103.2 700.6,99.1 700.7,102.7 700.8,98.8 701,102.3 701.1,97.6 701.2,101.7 701.3,98.9 701.5,102.5 701.6,98 701.7,103.3 701.8,97.6 702,103.2 702.1,97.9 702.2,102.4 702.3,98.8 702.5,103.1 702.6,98 702.7,102.9 702.8,98 703,103.2 703.1,98.4 703.2,102.1 703.3,99.3 703.5,102.1 703.6,98.2 703.7,102.3 703.8,99 704,101.9 704.1,99.3 704.2,102.6 704.3,98.2 704.4,103.3 704.6,98 704.7,101.9 704.8,99 704.9,103.3 705.1,98.8 705.2,102.6 705.3,98 705.4,102.8 705.6,99.3 705.7,102.5 705.8,98.4 705.9,102.6 706.1,99.2 706.2,103.4 706.3,98.5 706.4,102.9 706.6,98 706.7,102.1 706.8,99.3 706.9,102.8 707.1,97.8 707.2,103.3 707.3,97.9 707.4,102.1 707.6,97.9 707.7,101.9 707.8,98.9 707.9,103.2 708,99.3 708.2,103.1 708.3,98 708.4,103.3 708.5,97.9 708.7,103 708.8,99.1 708.9,102 709,99.3 709.2,102.3 709.3,98.9 709.4,103.5 709.5,98 709.7,101.9 709.8,98.6 709.9,103.2 710,98.8 710.2,102.7 710.3,97.9 710.4,103.4 710.5,99.2 710.7,103.2 710.8,98.7 710.9,101.8 711,98.9 711.2,103.3 711.3,99.2 711.4,102.1 711.5,97.8 711.6,102.6 711.8,97.9 711.9,102.3 712,99.4 712.1,103.4 712.3,98.9 712.4,103.5 712.5,98.3 712.6,103.3 712.8,99 712.9,103.1 713,98.1 713.1,103 713.3,97.9 713.4,103.4 713.5,98.5 713.6,103.5 713.8,98.3 713.9,103.4 714,99.3 714.1,102.4 714.3,99.3 714.4,101.9 714.5,98.4 714.6,103.6 714.8,98.5 714.9,103.6 715,98.1 715.1,103 715.2,98.9 715.4,102.2 715.5,97.9 715.6,103.5 715.7,98 715.9,102.5 716,98.3 716.1,102.8 716.2,98.2 716.4,102.9 716.5,99.6 716.6,102.4 716.7,99.1 716.9,102.5 717,99 717.1,102 717.2,98.7 717.4,103.6 717.5,98.5 717.6,102.3 717.7,97.9 717.9,103.5 718,98.1 718.1,102.2 718.2,98.4 718.4,102.5 718.5,98.2 718.6,102.6 718.7,99.2 718.8,103.6 719,98.2 719.1,103.1 719.2,98.8 719.3,103 719.5,98.5 719.6,102.7 719.7,99 719.8,102.4 720,98.6 720.1,102.5 720.2,98.9 720.3,102.5 720.5,98.1 720.6,102.9 720.7,99.4 720.8,102.2 721,98.3 721.1,103.6 721.2,99.3 721.3,103 721.5,98.9 721.6,102.8 721.7,98.5 721.8,103.4 722,98.3 722.1,102.4 722.2,98.7 722.3,102.3 722.4,99.4 722.6,102.6 722.7,98.7 722.8,102.9 722.9,99.6 723.1,102.9 723.2,99.4 723.3,102.4 723.4,98.2 723.6,103.2 723.7,99.3 723.8,103.4 723.9,98 724.1,103.6 724.2,99.5 724.3,103.2 724.4,99 724.6,102.9 724.7,99.4 724.8,102.3 724.9,98.1 725.1,102.9 725.2,99.5 725.3,102.9 725.4,99 725.6,102.4 725.7,98.5 725.8,103.2 725.9,98.5 726,103.6 726.2,98.3 726.3,103.9 726.4,98.6 726.5,103.8 726.7,98.1 726.8,102.5 726.9,99.1 727,103 727.2,99 727.3,102.3 727.4,99.1 727.5,103.5 727.7,98.9 727.8,103.3 727.9,98.6 728,103.2 728.2,99.8 728.3,102.8 728.4,98.5 728.5,102.8 728.7,98.2 728.8,103.8 728.9,99 729,103.9 729.2,99.5 729.3,103 729.4,98.3 729.5,102.3 729.6,99 729.8,102.9 729.9,99.2 730,103 730.1,98.8 730.3,103.8 730.4,99.8 730.5,102.5 730.6,98.7 730.8,103.2 730.9,98.6 731,103.7 731.1,98.5 731.3,102.8 731.4,99.5 731.5,103.3 731.6,99.8 731.8,103.3 731.9,98.8 732,103.1 732.1,98.4 732.3,102.4 732.4,99.9 732.5,103.9 732.6,98.5 732.8,102.3 732.9,98.7 733,103.3 733.1,99.7 733.3,103 733.4,98.9 733.5,103.3 733.6,99.6 733.7,102.3 733.9,99.9 734,102.7 734.1,99.4 734.2,102.7 734.4,99.4 734.5,102.5 734.6,99.3 734.7,102.9 734.9,99.5 735,103 735.1,98.5 735.2,103.7 735.4,99.8 735.5,102.5 735.6,99 735.7,102.5 735.9,98.6 736,103 736.1,98.3 736.2,103 736.4,99.1 736.5,102.5 736.6,99.7 736.7,102.7 736.9,98.4 737,104.1 737.1,98.9 737.2,103.4 737.3,98.7 737.5,103.1 737.6,98.4 737.7,102.8 737.8,98.5 738,102.4 738.1,99 738.2,103.4 738.3,98.7 738.5,102.7 738.6,99.5 738.7,104 738.8,99.7 739,102.9 739.1,99.1 739.2,104.1 739.3,99.5 739.5,102.7 739.6,99.9 739.7,104.1 739.8,99.6 740,103.7 740.1,100 740.2,103.2 740.3,99.1 740.5,103.7 740.6,99 740.7,103.2 740.8,99.8 740.9,103.2 741.1,99.3 741.2,103 741.3,99.9 741.4,104 741.6,99.8 741.7,103.1 741.8,99.3 741.9,102.7 742.1,98.8 742.2,102.7 742.3,98.7 742.4,102.5 742.6,100.1 742.7,103.4 742.8,99.2 742.9,103.3 743.1,98.6 743.2,103.8 743.3,98.7 743.4,103.8 743.6,98.7 743.7,103.9 743.8,98.6 743.9,103.8 744.1,99.9 744.2,103.4 744.3,99 744.4,103.4 744.5,99.3 744.7,103.1 744.8,99.9 744.9,104.1 745,99.6 745.2,102.6 745.3,99.6 745.4,104.3 745.5,100.2 745.7,104.3 745.8,99.9 745.9,102.6 746,98.5 746.2,103 746.3,98.5 746.4,103 746.5,99.6 746.7,104.3 746.8,99.8 746.9,104 747,98.8 747.2,103.3 747.3,100 747.4,104 747.5,100 747.7,103.2 747.8,99.9 747.9,104.1 748,99.8 748.1,103.5 748.3,99.1 748.4,103.1 748.5,99.3 748.6,103.8 748.8,98.6 748.9,103.4 749,99.7 749.1,103.2 749.3,99.3 749.4,103.2 749.5,99.6 749.6,103.7 749.8,99 749.9,103.9 750,99.2 750.1,102.9 750.3,99.1 750.4,103 750.5,98.8 750.6,104.2 750.8,99.8 750.9,104.3 751,99.2 751.1,103.9 751.3,99.1 751.4,103.8 751.5,100.1"/>
<polyline fill="none" stroke="#0000ff" stroke-width="1.1"  points="565.4,109 565.5,102.1 565.6,109.6 565.8,103.3 565.9,110 566,102.2 566.1,108.7 566.3,102.4 566.4,108.2 566.5,104 566.6,108.8 566.8,102.5 566.9,109.3 567,103.7 567.1,108.8 567.3,102.6 567.4,109.4 567.5,102.1 567.6,108 567.8,102.6 567.9,109.2 568,103.7 568.1,109.9 568.3,103.2 568.4,109.1 568.5,102 568.6,108.9 568.8,102.8 568.9,109 569,102.4 569.1,109.2 569.2,104.1 569.4,107.7 569.5,102.2 569.6,109.4 569.7,104.1 569.9,109.7 570,102.8 570.1,109.1 570.2,102.6 570.4,109.8 570.5,103.7 570.6,107.7 570.7,102.8 570.9,108.3 571,102.7 571.1,109.2 571.2,102.8 571.4,109.6 571.5,104 571.6,108 571.7,103.2 571.9,108 572,103.2 572.1,108.2 572.2,102 572.4,109.6 572.5,102.5 572.6,109.7 572.7,103.8 572.8,108.9 573,102.9 573.1,107.7 573.2,103.8 573.3,109.6 573.5,103.8 573.6,109.8 573.7,103.3 573.8,108.8 574,104.1 574.1,109.6 574.2,103.4 574.3,108.1 574.5,104 574.6,108 574.7,102.5 574.8,108.5 575,103 575.1,108.4 575.2,102.2 575.3,108.8 575.5,103.3 575.6,109.9 575.7,102.4 575.8,110 576,102.6 576.1,108.1 576.2,103.3 576.3,109.5 576.4,103.8 576.6,108.7 576.7,104.1 576.8,108.7 576.9,103.1 577.1,108 577.2,103 577.3,108 577.4,103.2 577.6,109.3 577.7,102.6 577.8,108.6 577.9,104 578.1,109.9 578.2,103.1 578.3,108.8 578.4,104.3 578.6,109.4 578.7,102.5 578.8,109.3 578.9,103.3 579.1,108.7 579.2,102.4 579.3,109.8 579.4,103 579.6,109.1 579.7,102.4 579.8,108.4 579.9,104 580,109.4 580.2,102.9 580.3,108.4 580.4,102.4 580.5,109.4 580.7,104.3 580.8,108.8 580.9,102.7 581,109.8 581.2,102.7 581.3,108.2 581.4,104 581.5,109.9 581.7,102.3 581.8,108.6 581.9,103.4 582,109.4 582.2,102.9 582.3,108.2 582.4,103.2 582.5,109.9 582.7,103.3 582.8,107.6 582.9,104.1 583,108 583.2,102.8 583.3,108.5 583.4,102.8 583.5,108.3 583.6,102.5 583.8,108.8 583.9,102.2 584,109.4 584.1,103.3 584.3,109.9 584.4,103.6 584.5,108.7 584.6,103.5 584.8,107.7 584.9,103.7 585,107.8 585.1,104.1 585.3,107.9 585.4,103.5 585.5,108.9 585.6,103 585.8,109.1 585.9,104 586,108.3 586.1,104.2 586.3,110.1 586.4,104.4 586.5,109.8 586.6,103.8 586.8,108.7 586.9,103.2 587,110.2 587.1,104.2 587.3,111.2 587.4,105.1 587.5,110.6 587.6,105.8 587.7,112.3 587.9,105.5 588,112.6 588.1,104.5 588.2,111.7 588.4,105.2 588.5,111.1 588.6,105.5 588.7,111.3 588.9,104.2 589,112.1 589.1,104.2 589.2,110.9 589.4,106 589.5,110.1 589.6,104.8 589.7,110.7 589.9,105.5 590,110.9 590.1,104.5 590.2,111.4 590.4,103.4 590.5,109.6 590.6,104.1 590.7,111.2 590.9,104.3 591,109.9 591.1,103.7 591.2,110.1 591.3,102.7 591.5,109 591.6,103.7 591.7,109.4 591.8,101.8 592,108.7 592.1,102.8 592.2,108.2 592.3,101.7 592.5,107.6 592.6,103 592.7,107.7 592.8,102.9 593,109 593.1,103.7 593.2,109.1 593.3,103.2 593.5,107.8 593.6,102.8 593.7,109.4 593.8,101.2 594,107.5 594.1,103.1 594.2,106.6 594.3,101.6 594.5,106 594.6,100.5 594.7,107 594.8,100.7 594.9,105.4 595.1,98.9 595.2,105.5 595.3,100.3 595.4,106.8 595.6,98.7 595.7,105.3 595.8,99.5 595.9,105.9 596.1,98.4 596.2,106 596.3,97.6 596.4,105.1 596.6,97.9 596.7,106 596.8,99.5 596.9,105.2 597.1,97.7 597.2,105.6 597.3,97.9 597.4,104.5 597.6,97.4 597.7,104.4 597.8,98.6 597.9,104 598.1,96.8 598.2,102.6 598.3,98.5 598.4,102.1 598.5,97.7 598.7,102.1 598.8,97.2 598.9,101 599,96.4 599.2,102.1 599.3,94.6 599.4,101.4 599.5,93.8 599.7,100.1 599.8,93.8 599.9,100 600,94.6 600.2,100.4 600.3,94.3 600.4,102 600.5,94.2 600.7,100.9 600.8,96.1 600.9,102.4 601,94.8 601.2,101.7 601.3,95.6 601.4,101.9 601.5,94.3 601.7,100.9 601.8,95.2 601.9,102.8 602,96.4 602.1,102.3 602.3,94.3 602.4,100.7 602.5,95.3 602.6,100.9 602.8,93.2 602.9,101.9 603,93 603.1,100 603.3,92.8 603.4,100.1 603.5,93.3 603.6,100.3 603.8,92.8 603.9,99.3 604,93.7 604.1,98.7 604.3,92.3 604.4,99.7 604.5,92.2 604.6,99.3 604.8,93.2 604.9,101.5 605,93.2 605.1,101.3 605.3,92.7 605.4,100.5 605.5,94.9 605.6,100.8 605.7,93.6 605.9,100 606,94.9 606.1,99.9 606.2,93.1 606.4,99.6 606.5,92.8 606.6,99.5 606.7,92.4 606.9,99.8 607,91.7 607.1,98.4 607.2,91.8 607.4,98.7 607.5,93.1 607.6,97.6 607.7,92.7 607.9,98.9 608,90.9 608.1,97.7 608.2,92.3 608.4,97.2 608.5,91.8 608.6,97.3 608.7,92.5 608.9,99.6 609,92.1 609.1,98.2 609.2,91.6 609.3,97.5 609.5,91.8 609.6,99.9 609.7,92.6 609.8,98.3 610,93.3 610.1,100.2 610.2,91.9 610.3,100.2 610.5,93.1 610.6,98.5 610.7,91.2 610.8,98.6 611,91.7 611.1,97 611.2,90 611.3,96.9 611.5,90.3 611.6,97.7 611.7,89.8 611.8,97.9 612,90.5 612.1,97.1 612.2,91.5 612.3,97.6 612.5,90.9 612.6,95.9 612.7,91.6 612.8,96.5 612.9,91.6 613.1,96.3 613.2,91 613.3,97 613.4,91.5 613.6,96.7 613.7,90.7 613.8,97.9 613.9,91.4 614.1,96.9 614.2,90.2 614.3,96.6 614.4,91.2 614.6,96.7 614.7,90 614.8,97.4 614.9,89.1 615.1,97.4 615.2,89.5 615.3,95.4 615.4,91 615.6,96.7 615.7,88.4 615.8,97 615.9,87.5 616.1,96.8 616.2,88.6 616.3,96.2 616.4,89.1 616.5,97 616.7,87.3 616.8,96.3 616.9,89.6 617,96 617.2,88.5 617.3,97 617.4,88.8 617.5,97.2 617.7,88.6 617.8,96.9 617.9,90.7 618,97.3 618.2,89.6 618.3,97.5 618.4,90.7 618.5,96.5 618.7,89.9 618.8,96.3 618.9,87.6 619,96.9 619.2,87.6 619.3,96.8 619.4,89.7 619.5,96.1 619.7,87.3 619.8,95.9 619.9,88.5 620,94.4 620.1,87 620.3,94 620.4,87.3 620.5,94.4 620.6,88.6 620.8,93.4 620.9,88.3 621,94.7 621.1,86.2 621.3,96 621.4,88.4 621.5,96.3 621.6,87 621.8,97 621.9,87.6 622,96.2 622.1,87.8 622.3,94.6 622.4,88.1 622.5,94.5 622.6,87.8 622.8,96.4 622.9,88.5 623,94.6 623.1,87.7 623.3,94.2 623.4,87.8 623.5,95.7 623.6,88.6 623.8,96.1 623.9,85.4 624,93.9 624.1,85.3 624.2,95.2 624.4,85.5 624.5,93.7 624.6,86.5 624.7,93 624.9,85.1 625,94.7 625.1,84.6 625.2,94.7 625.4,88.1 625.5,93.6 625.6,88.2 625.7,94.2 625.9,86.6 626,95.3 626.1,86.7 626.2,94.9 626.4,85.7 626.5,95.2 626.6,88.1 626.7,95.1 626.9,87.5 627,94.1 627.1,86.6 627.2,95.1 627.4,88.2 627.5,93.9 627.6,87.4 627.7,93.6 627.8,86.8 628,92.2 628.1,85.6 628.2,91.7 628.3,86.4 628.5,93.8 628.6,85.6 628.7,93.8 628.8,84.8 629,93.1 629.1,83.3 629.2,91.5 629.3,86.3 629.5,92.5 629.6,83.2 629.7,92.7 629.8,85.3 630,93.8 630.1,87 630.2,93.9 630.3,84.8 630.5,95.1 630.6,84.8 630.7,94.2 630.8,86.7 631,93.2 631.1,86 631.2,92.4 631.3,86.2 631.4,92.3 631.6,85.5 631.7,91.4 631.8,85.2 631.9,93 632.1,83.3 632.2,90 632.3,81.7 632.4,90.8 632.6,81.3 632.7,88.8 632.8,81.4 632.9,88.7 633.1,80.4 633.2,88.3 633.3,79.8 633.4,88.1 633.6,81.9 633.7,89.4 633.8,82.4 633.9,89.6 634.1,79.6 634.2,87.9 634.3,81.5 634.4,86.6 634.6,81.2 634.7,88.8 634.8,82.4 634.9,89.1 635,82.4 635.2,88.9 635.3,81.2 635.4,88.9 635.5,81.7 635.7,88.6 635.8,82 635.9,90.1 636,81.1 636.2,90.6 636.3,83 636.4,88.2 636.5,83.9 636.7,88.6 636.8,82.1 636.9,88.8 637,81.8 637.2,88.4 637.3,81.7 637.4,89.5 637.5,83.7 637.7,90.3 637.8,81.9 637.9,88.8 638,83 638.2,89.1 638.3,81.4 638.4,90.3 638.5,83 638.6,91 638.8,81.8 638.9,92.2 639,83.1 639.1,90.4 639.3,81.4 639.4,91.3 639.5,81.6 639.6,91.3 639.8,80.3 639.9,88.4 640,81.2 640.1,88.8 640.3,79.5 640.4,87.6 640.5,81.1 640.6,89.1 640.8,82.3 640.9,88.8 641,81.6 641.1,88.3 641.3,80.6 641.4,89.6 641.5,82.2 641.6,91.7 641.8,81.2 641.9,90.3 642,82.4 642.1,91 642.2,82.4 642.4,93.7 642.5,84.6 642.6,91.4 642.7,83.9 642.9,93.8 643,84.6 643.1,93.6 643.2,84.5 643.4,93.4 643.5,85.5 643.6,92.9 643.7,85.3 643.9,94 644,88.1 644.1,94.5 644.2,88.4 644.4,95.3 644.5,87 644.6,94.4 644.7,89.1 644.9,96.7 645,87.4 645.1,96.4 645.2,86.9 645.4,95.1 645.5,88.8 645.6,95.5 645.7,88.3 645.8,98.7 646,90.4 646.1,98.4 646.2,89.9 646.3,99.1 646.5,90.4 646.6,98.1 646.7,90.6 646.8,100 647,91.7 647.1,99.6 647.2,92.2 647.3,100 647.5,90.7 647.6,98.2 647.7,91.3 647.8,100.5 648,92.5 648.1,98.9 648.2,91.9 648.3,100.7 648.5,93.5 648.6,100 648.7,91.6 648.8,99.1 649,91.5 649.1,100.1 649.2,94 649.3,101.1 649.4,94.3 649.6,101.3 649.7,92.9 649.8,99 649.9,94.5 650.1,99.6 650.2,93.2 650.3,101.9 650.4,94.4 650.6,101.8 650.7,94.1 650.8,102.7 650.9,95.4 651.1,100.7 651.2,95 651.3,102.9 651.4,95.6 651.6,102.9 651.7,96.2 651.8,103.1 651.9,95.1 652.1,103 652.2,95.1 652.3,102 652.4,94.3 652.6,100.9 652.7,96.3 652.8,101.5 652.9,96 653,101 653.2,95.9 653.3,100.7 653.4,94 653.5,102.3 653.7,95.5 653.8,103.2 653.9,96.7 654,103.4 654.2,94.6 654.3,102.2 654.4,94.4 654.5,102.1 654.7,96.9 654.8,101.5 654.9,95.4 655,102.3 655.2,96.9 655.3,103.8 655.4,95.3 655.5,102.7 655.7,96.9 655.8,103.1 655.9,96.7 656,104.2 656.2,96.4 656.3,102.4 656.4,97.9 656.5,104.3 656.6,97 656.8,104.3 656.9,95.4 657,102.9 657.1,97.3 657.3,103.7 657.4,97.7 657.5,101.9 657.6,98 657.8,103.4 657.9,96 658,103.7 658.1,95.8 658.3,102.3 658.4,96.5 658.5,104.1 658.6,96.7 658.8,103.8 658.9,98.4 659,103.4 659.1,98.3 659.3,105.2 659.4,97 659.5,105.2 659.6,97.7 659.8,103 659.9,97.3 660,103.8 660.1,97.6 660.3,104.1 660.4,97.9 660.5,103.3 660.6,97 660.7,103.8 660.9,97.2 661,105.3 661.1,98 661.2,103.4 661.4,98.5 661.5,104.4 661.6,98.8 661.7,103.3 661.9,97.2 662,104.8 662.1,98.5 662.2,103.5 662.4,98.5 662.5,105.4 662.6,99.5 662.7,105.8 662.9,99.5 663,103.9 663.1,98.2 663.2,104.1 663.4,97.9 663.5,104.4 663.6,100 663.7,105.3 663.9,100.3 664,104.1 664.1,98.8 664.2,105.7 664.3,99.1 664.5,106 664.6,100 664.7,105.9 664.8,99.2 665,106.1 665.1,100.1 665.2,105.3 665.3,100.2 665.5,104.4 665.6,99.6 665.7,105.4 665.8,99.1 666,104.6 666.1,99.8 666.2,106.6 666.3,100.6 666.5,105.1 666.6,98.5 666.7,105.9 666.8,99.3 667,104.6 667.1,100.2 667.2,106.9 667.3,99.4 667.5,105.1 667.6,98.5 667.7,106.5 667.8,99 667.9,105 668.1,100 668.2,106.7 668.3,100.3 668.4,107 668.6,100 668.7,105.9 668.8,99.1 668.9,104.9 669.1,99.6 669.2,106.2 669.3,100.8 669.4,105.1 669.6,101.2 669.7,105.7 669.8,99.7 669.9,105 670.1,100 670.2,105.3 670.3,99.3 670.4,105.1 670.6,101.4 670.7,106.7 670.8,100.6 670.9,107.3 671.1,100.5 671.2,107.1 671.3,100.3 671.4,106.3 671.5,100.6 671.7,106.9 671.8,101.6 671.9,107.3 672,100 672.2,107.1 672.3,101.5 672.4,107.1 672.5,100.5 672.7,107.2 672.8,100.5 672.9,107.7 673,99.8 673.2,106.9 673.3,99.4 673.4,106.8 673.5,101.1 673.7,107.7 673.8,101.6 673.9,107.5 674,100.7 674.2,108.1 674.3,102 674.4,106.4 674.5,99.8 674.7,107.2 674.8,101.7 674.9,107.5 675,101 675.1,107.3 675.3,101.9 675.4,105.9 675.5,100 675.6,107.6 675.8,99.9 675.9,107.2 676,101.8 676.1,106.1 676.3,101.1 676.4,108 676.5,100.1 676.6,107 676.8,101.9 676.9,106.7 677,100.2 677.1,107.9 677.3,101.3 677.4,108.6 677.5,100.8 677.6,107.6 677.8,100.8 677.9,108 678,100.9 678.1,107.2 678.3,101 678.4,106.8 678.5,102.8 678.6,107.7 678.7,101 678.9,107 679,100.7 679.1,107.7 679.2,101.3 679.4,108.8 679.5,101 679.6,108.3 679.7,102.4 679.9,107.1 680,101.7 680.1,108.2 680.2,101.7 680.4,107.8 680.5,102.8 680.6,109.2 680.7,101.6 680.9,108.6 681,103.3 681.1,108.3 681.2,102 681.4,107.1 681.5,102.9 681.6,107.3 681.7,101.8 681.9,109.2 682,101.8 682.1,107.8 682.2,101.2 682.3,108.4 682.5,101.3 682.6,108.4 682.7,103 682.8,108 683,102.8 683.1,107.8 683.2,103.3 683.3,109 683.5,102 683.6,107.8 683.7,101.6 683.8,108.2 684,103.3 684.1,109.1 684.2,101.4 684.3,108.4 684.5,101.8 684.6,108.4 684.7,102.7 684.8,107.1 685,101.8 685.1,107.7 685.2,101.6 685.3,107.8 685.5,102.5 685.6,109.4 685.7,103.2 685.8,107.7 685.9,101.7 686.1,108.1 686.2,101.3 686.3,107.3 686.4,103.5 686.6,109.1 686.7,103.1 686.8,107.8 686.9,103 687.1,108.2 687.2,101.2 687.3,108.3 687.4,101.7 687.6,107.5 687.7,102.2 687.8,107.6 687.9,103 688.1,107.9 688.2,102.6 688.3,108.9 688.4,103.3 688.6,107.8 688.7,101 688.8,108 688.9,103.5 689.1,109.4 689.2,103.6 689.3,108.1 689.4,101.7 689.5,109.6 689.7,101.3 689.8,109.6 689.9,102.1 690,109.6 690.2,103 690.3,108 690.4,101.9 690.5,108.8 690.7,101.5 690.8,107.4 690.9,102.7 691,108.8 691.2,103.4 691.3,108.5 691.4,101.3 691.5,107.2 691.7,101.5 691.8,109 691.9,102.5 692,107.7 692.2,101.6 692.3,108.1 692.4,102 692.5,107.5 692.7,101.7 692.8,109.6 692.9,101.3 693,109.8 693.1,103.5 693.3,109.3 693.4,103 693.5,107.5 693.6,101.6 693.8,109.5 693.9,103.5 694,107.7 694.1,102.5 694.3,109.5 694.4,102.5 694.5,107.3 694.6,101.8 694.8,109.7 694.9,103.3 695,109.4 695.1,101.2 695.3,108.3 695.4,101.5 695.5,108.9 695.6,101.2 695.8,109 695.9,103 696,109.1 696.1,102.9 696.3,108.2 696.4,103.7 696.5,107.5 696.6,103.3 696.8,109 696.9,102.4 697,108.3 697.1,102.2 697.2,108.1 697.4,102.9 697.5,108.9 697.6,101.8 697.7,109.2 697.9,102.3 698,109.9 698.1,101.2 698.2,109.8 698.4,103 698.5,109.3 698.6,103.5 698.7,109.9 698.9,102.3 699,107.5 699.1,103.5 699.2,109 699.4,102 699.5,108.3 699.6,102.7 699.7,109.5 699.9,101.8 700,109.3 700.1,102.8 700.2,108.3 700.4,102.1 700.5,107.6 700.6,102.1 700.7,109.2 700.8,101.8 701,108 701.1,103 701.2,108 701.3,102.7 701.5,109.1 701.6,102.7 701.7,109.7 701.8,102.3 702,109.5 702.1,101.3 702.2,109.5 702.3,103.3 702.5,108.3 702.6,103.8 702.7,108.5 702.8,102.7 703,108.3 703.1,102.9 703.2,108 703.3,101.7 703.5,108.5 703.6,103.9 703.7,108.6 703.8,103 704,107.9 704.1,102.1 704.2,108.5 704.3,101.9 704.4,109.1 704.6,101.4 704.7,108.4 704.8,103.8 704.9,108 705.1,102 705.2,108 705.3,102.4 705.4,107.8 705.6,101.7 705.7,108.5 705.8,103.2 705.9,109.8 706.1,102.1 706.2,109.1 706.3,101.6 706.4,109.6 706.6,104 706.7,109.9 706.8,103.5 706.9,109.4 707.1,103.2 707.2,108.3 707.3,102.9 707.4,107.5 707.6,101.8 707.7,108.2 707.8,102.3 707.9,107.9 708,103.8 708.2,107.6 708.3,102.7 708.4,108.7 708.5,102.1 708.7,108.7 708.8,102.7 708.9,109.1 709,103.7 709.2,108.6 709.3,101.8 709.4,110.2 709.5,102.8 709.7,108.4 709.8,101.8 709.9,109 710,104 710.2,108 710.3,102.4 710.4,107.9 710.5,102.7 710.7,110.2 710.8,102.7 710.9,108.8 711,102 711.2,109 711.3,101.9 711.4,107.7 711.5,101.9 711.6,108.1 711.8,103.5 711.9,109.1 712,102.3 712.1,108.1 712.3,102 712.4,108.9 712.5,102.1 712.6,108.6 712.8,103.2 712.9,109.1 713,102.4 713.1,109.7 713.3,103.2 713.4,109.3 713.5,103.5 713.6,109.5 713.8,103.1 713.9,110.1 714,102.2 714.1,107.9 714.3,102.5 714.4,108.7 714.5,103.3 714.6,108.3 714.8,102.3 714.9,110 715,103 715.1,109 715.2,103.3 715.4,109.9 715.5,101.6 715.6,108.9 715.7,103 715.9,108.2 716,103.4 716.1,108.8 716.2,103.1 716.4,108.2 716.5,103.3 716.6,107.9 716.7,103.5 716.9,109.5 717,101.8 717.1,108.3 717.2,102.4 717.4,108.4 717.5,101.7 717.6,108.4 717.7,104.1 717.9,110.3 718,103.3 718.1,108.3 718.2,103 718.4,110 718.5,103.2 718.6,109 718.7,102.5 718.8,107.9 719,101.9 719.1,109.7 719.2,102.7 719.3,108.8 719.5,101.7 719.6,108 719.7,104.3 719.8,109.4 720,102.5 720.1,108.2 720.2,102 720.3,109 720.5,103.4 720.6,109.8 720.7,103.2 720.8,108.3 721,103.2 721.1,108 721.2,103.5 721.3,109.4 721.5,104.1 721.6,109 721.7,103 721.8,108 722,103.8 722.1,108 722.2,103 722.3,109.6 722.4,104.3 722.6,109.4 722.7,102.1 722.8,108 722.9,102.8 723.1,108.8 723.2,104 723.3,110.2 723.4,103.5 723.6,110.2 723.7,102 723.8,108.6 723.9,102.1 724.1,110.4 724.2,104.4 724.3,110.3 724.4,102.7 724.6,108 724.7,103 724.8,110.2 724.9,102.1 725.1,110.3 725.2,103 725.3,108.2 725.4,103.5 725.6,108.8 725.7,102.8 725.8,108.7 725.9,102.9 726,108.8 726.2,103.2 726.3,109.7 726.4,102.3 726.5,108.1 726.7,103.2 726.8,108.9 726.9,102.8 727,109.9 727.2,102.5 727.3,108.4 727.4,104.1 727.5,110.3 727.7,103.6 727.8,109.9 727.9,104.4 728,109.6 728.2,103.9 728.3,109.8 728.4,104.3 728.5,110.4 728.7,102.6 728.8,109.7 728.9,103.2 729,110.2 729.2,103.3 729.3,109.8 729.4,103.4 729.5,108.1 729.6,103.3 729.8,110.2 729.9,102.8 730,108.3 730.1,104.4 730.3,108.5 730.4,102.8 730.5,108.9 730.6,103.9 730.8,110.4 730.9,104.5 731,110.3 731.1,103.6 731.3,110.3 731.4,103.8 731.5,109.5 731.6,104.2 731.8,108.9 731.9,102.8 732,109.9 732.1,104.1 732.3,109.8 732.4,102 732.5,109.8 732.6,103.8 732.8,110 732.9,103 733,109.9 733.1,102.3 733.3,110.7 733.4,104.2 733.5,108.8 733.6,104.2 733.7,110.8 733.9,102 734,110.2 734.1,102.9 734.2,108.6 734.4,103.8 734.5,108.5 734.6,103.7 734.7,108.5 734.9,104.6 735,108.4 735.1,103.4 735.2,108.6 735.4,104.5 735.5,110.2 735.6,102.6 735.7,110.7 735.9,102.5 736,110.8 736.1,102.9 736.2,109.6 736.4,103.5 736.5,109.1 736.6,104.6 736.7,110.1 736.9,103.8 737,110.2 737.1,102.1 737.2,110.4 737.3,103.3 737.5,109.8 737.6,102.3 737.7,108.9 737.8,103.1 738,109.9 738.1,103.1 738.2,109.1 738.3,103.5 738.5,109.6 738.6,102.6 738.7,110.9 738.8,104.6 739,110.4 739.1,103.4 739.2,110 739.3,103.3 739.5,110.5 739.6,103.6 739.7,109.4 739.8,103.3 740,110.9 740.1,103.6 740.2,109.5 740.3,103.4 740.5,111 740.6,104.3 740.7,109.9 740.8,103.1 740.9,110.7 741.1,103.8 741.2,110 741.3,104.1 741.4,109.4 741.6,104.6 741.7,109.1 741.8,103.7 741.9,109.2 742.1,103.7 742.2,109.1 742.3,104.1 742.4,109.3 742.6,103 742.7,110.1 742.8,102.2 742.9,108.8 743.1,102.6 743.2,108.6 743.3,104.2 743.4,108.5 743.6,103.5 743.7,108.4 743.8,104.6 743.9,110.2 744.1,103.1 744.2,108.7 744.3,103.2 744.4,109.6 744.5,102.5 744.7,110 744.8,103.4 744.9,111.1 745,104.1 745.2,109.7 745.3,102.8 745.4,110.4 745.5,104.8 745.7,108.5 745.8,104.1 745.9,111.1 746,104.7 746.2,108.5 746.3,102.4 746.4,108.9 746.5,104 746.7,110.8 746.8,103.8 746.9,108.6 747,103.8 747.2,110.5 747.3,104.5 747.4,109.2 747.5,104 747.7,108.5 747.8,103.1 747.9,108.8 748,104.3 748.1,109.7 748.3,102.9 748.4,108.7 748.5,102.3 748.6,109.9 748.8,104.5 748.9,109 749,103.5 749.1,108.8 749.3,104.5 749.4,111.1 749.5,102.6 749.6,110.2 749.8,102.9 749.9,108.9 750,104.2 750.1,108.6 750.3,103.4 750.4,108.6 750.5,104.7 750.6,111.3 750.8,104.7 750.9,111.2 751,103.5 751.1,109.9 751.3,104.6 751.4,109.7 751.5,104.1"/>
</g>
<path fill="none" stroke="#222" stroke-width="0.9" d="M586.1 122.3v-2.2M627.4 122.3v-2.2M668.8 122.3v-2.2M710.1 122.3v-2.2M751.5 122.3v-2.2M565.4 109.4h2.2M565.4 93h2.2M565.4 76.7h2.2M565.4 60.4h2.2M565.4 44h2.2"/>
<path fill="none" stroke="#555" stroke-width="1.1" d="M565.4 28.3V122.8"/>
<path fill="none" stroke="#6e6e6e" stroke-width="1.1" d="M564.9 122.3H752"/>
<text transform="translate(560.4 113.6) scale(1 1.08)" text-anchor="end">1045</text>
<text transform="translate(560.4 97.2) scale(1 1.08)" text-anchor="end">1050</text>
<text transform="translate(560.4 80.9) scale(1 1.08)" text-anchor="end">1055</text>
<text transform="translate(560.4 64.5) scale(1 1.08)" text-anchor="end">1060</text>
<text transform="translate(560.4 48.2) scale(1 1.08)" text-anchor="end">1065</text>
<text transform="translate(586.1 138.9) scale(1 1.08)" text-anchor="middle">0.1</text>
<text transform="translate(627.4 138.9) scale(1 1.08)" text-anchor="middle">0.2</text>
<text transform="translate(668.8 138.9) scale(1 1.08)" text-anchor="middle">0.3</text>
<text transform="translate(710.1 138.9) scale(1 1.08)" text-anchor="middle">0.4</text>
<text transform="translate(751.5 138.9) scale(1 1.08)" text-anchor="middle">0.5</text>
<text transform="translate(658.5 24.9) scale(1 1.08)" text-anchor="middle" font-size="12">(b)</text>
<rect x="665.2" y="38" width="76.8" height="76" fill="#fff" stroke="#3c3c3c" stroke-width="1"/>
<path d="M669.1 47.2H705.1" stroke="#ee0000" stroke-width="1.2" fill="none"/>
<text transform="translate(707.9 51.5) scale(1 1.08)">CSA1</text>
<path d="M669.1 61.7H705.1" stroke="#0000ff" stroke-width="1.3" fill="none"/>
<text transform="translate(707.9 66) scale(1 1.08)">CSA2</text>
<path d="M669.1 76.2H705.1" stroke="#ff00ff" stroke-width="1.5" stroke-dasharray="5.3 3.6" fill="none"/>
<text transform="translate(707.9 80.5) scale(1 1.08)">CSA3</text>
<path d="M669.1 90.6H705.1" stroke="#000000" stroke-width="1.0" stroke-dasharray="5.1 3.5" fill="none"/>
<text transform="translate(707.9 94.9) scale(1 1.08)">CSA4</text>
<path d="M669.1 105.1H705.1" stroke="#0000cd" stroke-width="1.5" fill="none"/>
<text transform="translate(707.9 109.4) scale(1 1.08)">CSA5</text>
<circle cx="687.1" cy="105.1" r="0.9" fill="#0000cd"/>
<text transform="translate(298.2 75.9) rotate(-90) scale(1 1.08)" text-anchor="middle">V<tspan dy="3.6" font-size="9.6">dc</tspan><tspan dy="-3.6">[kV]</tspan></text>
<g fill="none" stroke-width="0.7">
<path stroke="#cdcdd3" stroke-dasharray="1.2 1.2" d="M342.1 159.3V253.3M350.4 159.3V253.3M367 159.3V253.3M375.3 159.3V253.3M383.6 159.3V253.3M391.9 159.3V253.3M408.5 159.3V253.3M416.7 159.3V253.3M425 159.3V253.3M433.3 159.3V253.3M449.9 159.3V253.3M458.2 159.3V253.3M466.5 159.3V253.3M474.8 159.3V253.3M491.3 159.3V253.3M499.6 159.3V253.3M507.9 159.3V253.3M516.2 159.3V253.3M338 238.2H524.5M338 227.2H524.5M338 216.2H524.5M338 194.4H524.5M338 183.4H524.5M338 172.5H524.5"/>
<path stroke="#e4e4e4" stroke-width="0.9" d="M358.7 159.3V253.3M400.2 159.3V253.3M441.6 159.3V253.3M483.1 159.3V253.3M524.5 159.3V253.3M338 249.1H524.5M338 205.3H524.5M338 161.5H524.5"/>
</g>
<clipPath id="cc"><rect x="338" y="158.8" width="187.1" height="95.2"/></clipPath>
<g clip-path="url(#cc)" stroke-linejoin="round">
<polyline fill="none" stroke="#0000ff" stroke-width="1.05"  points="338,164.4 338.3,164.4 338.6,164.4 338.9,164.4 339.2,164.4 339.5,164.4 339.8,164.4 340.1,164.4 340.4,164.4 340.7,164.4 341,164.4 341.3,164.4 341.6,164.4 341.9,164.4 342.2,164.4 342.5,164.4 342.8,164.4 343.1,164.4 343.4,164.4 343.7,164.4 344,164.4 344.3,164.4 344.6,164.4 344.9,164.4 345.2,164.4 345.5,164.4 345.8,164.4 346.1,164.4 346.4,164.4 346.7,164.4 347,164.4 347.3,164.4 347.6,164.4 347.9,164.4 348.2,164.4 348.5,164.4 348.8,164.4 349.1,164.4 349.4,164.4 349.8,164.4 350.1,164.4 350.4,164.4 350.7,164.4 351,164.4 351.3,164.4 351.6,164.4 351.9,164.4 352.2,164.4 352.5,164.4 352.8,164.4 353.1,164.4 353.4,164.4 353.7,164.4 354,164.4 354.3,164.4 354.6,164.4 354.9,164.4 355.2,164.4 355.5,164.4 355.8,164.4 356.1,164.4 356.4,164.4 356.7,164.4 357,164.4 357.3,164.4 357.6,164.4 357.9,164.4 358.2,164.4 358.5,164.4 358.8,164.4 359.1,164.4 359.4,164.2 359.7,164 360,163.8 360.3,163.7 360.6,164 360.9,164.4 361.2,165 361.5,165.6 361.8,166.1 362.1,166.3 362.4,166.2 362.7,165.7 363,164.9 363.3,164 363.6,163.2 363.9,162.7 364.2,162.5 364.5,162.9 364.8,163.7 365.1,164.7 365.4,165.8 365.7,166.8 366,167.4 366.3,167.5 366.6,167 366.9,166.1 367.2,164.9 367.5,163.6 367.8,162.6 368.1,162 368.4,162 368.7,162.6 369,163.7 369.3,165.2 369.6,166.6 369.9,167.6 370.2,168.2 370.5,168 370.8,167.3 371.1,166 371.4,164.6 371.7,163.2 372,162.2 372.3,161.7 372.6,161.9 372.9,162.8 373.3,164.1 373.6,165.6 373.9,166.9 374.2,167.9 374.5,168.3 374.8,168 375.1,167.1 375.4,165.7 375.7,164.2 376,162.9 376.3,161.9 376.6,161.6 376.9,162 377.2,163 377.5,164.4 377.8,166 378.1,167.3 378.4,168.2 378.7,168.4 379,167.9 379.3,166.8 379.6,165.4 379.9,163.8 380.2,162.5 380.5,161.7 380.8,161.6 381.1,162.2 381.4,163.3 381.7,164.8 382,166.4 382.3,167.6 382.6,168.4 382.9,168.4 383.2,167.8 383.5,166.6 383.8,165 384.1,163.5 384.4,162.3 384.7,161.6 385,161.7 385.3,162.4 385.6,163.7 385.9,165.2 386.2,166.7 386.5,167.8 386.8,168.4 387.1,168.2 387.4,167.4 387.7,166.1 388,164.6 388.3,163.2 388.6,162.1 388.9,161.6 389.2,161.9 389.5,162.7 389.8,164 390.1,165.5 390.4,166.9 390.7,167.9 391,168.3 391.3,168 391.6,167.1 391.9,165.7 392.2,164.2 392.5,162.9 392.8,162 393.1,161.7 393.4,162.1 393.7,163 394,164.4 394.3,165.9 394.6,167.1 394.9,168 395.2,168.2 395.5,167.7 395.8,166.7 396.1,165.3 396.5,163.9 396.8,162.7 397.1,161.9 397.4,161.8 397.7,162.3 398,163.4 398.3,164.7 398.6,166.1 398.9,167.3 399.2,168 399.5,168 399.8,167.4 400.1,166.3 400.4,165 400.7,163.6 401,162.5 401.3,161.8 401.6,161.8 401.9,162.5 402.2,163.7 402.5,165.1 402.8,166.6 403.1,167.7 403.4,168.3 403.7,168.2 404,167.5 404.3,166.2 404.6,164.7 404.9,163.2 405.2,162 405.5,161.5 405.8,161.7 406.1,162.6 406.4,164 406.7,165.6 407,167.1 407.3,168.3 407.6,168.7 407.9,168.4 408.2,167.5 408.5,166 408.8,164.3 409.1,162.8 409.4,162.8 409.7,163.4 410,163.6 410.3,163.1 410.6,162.8 410.9,162.5 411.2,162.4 411.5,162.3 411.8,162.4 412.1,162.6 412.4,162.8 412.7,163.2 413,163.5 413.3,164 413.6,164.4 413.9,164.8 414.2,165.2 414.5,165.5 414.8,165.8 415.1,166 415.4,166.1 415.7,166.1 416,166 416.3,165.9 416.6,165.6 416.9,165.3 417.2,165 417.5,164.7 417.8,164.3 418.1,164 418.4,163.7 418.7,163.4 419,163.2 419.3,163.1 419.7,163 420,163 420.3,163.1 420.6,163.2 420.9,163.4 421.2,163.7 421.5,163.9 421.8,164.2 422.1,164.5 422.4,164.8 422.7,165.1 423,165.3 423.3,165.4 423.6,165.5 423.9,165.6 424.2,165.5 424.5,165.5 424.8,165.3 425.1,165.2 425.4,164.9 425.7,164.7 426,164.5 426.3,164.2 426.6,164 426.9,163.8 427.2,163.7 427.5,163.6 427.8,163.5 428.1,163.5 428.4,163.6 428.7,163.6 429,163.7 429.3,163.9 429.6,164.1 429.9,164.2 430.2,164.4 430.5,164.5 430.8,164.7 431.1,164.8 431.4,164.9 431.7,165 432,165 432.3,165 432.6,164.9 432.9,164.9 433.2,164.8 433.5,164.7 433.8,164.6 434.1,164.5 434.4,164.4 434.7,164.3 435,164.2 435.3,164.1 435.6,164 435.9,164 436.2,164 436.5,164 436.8,164 437.1,164.1 437.4,164.1 437.7,164.2 438,164.3 438.3,164.4 438.6,164.4 438.9,164.5 439.2,164.6 439.5,164.6 439.8,164.7 440.1,164.7 440.4,164.7 440.7,164.7 441,164.7 441.3,164.6 441.6,164.6 441.9,164.5 442.2,164.5 442.5,164.4 442.8,164.4 443.2,164.3 443.5,164.3 443.8,164.2 444.1,164.2 444.4,164.2 444.7,164.2 445,164.2 445.3,164.2 445.6,164.2 445.9,164.3 446.2,164.3 446.5,164.4 446.8,164.4 447.1,164.4 447.4,164.5 447.7,164.5 448,164.5 448.3,164.5 448.6,164.5 448.9,164.5 449.2,164.5 449.5,164.5 449.8,164.5 450.1,164.5 450.4,164.4 450.7,164.4 451,164.4 451.3,164.4 451.6,164.4 451.9,164.3 452.2,164.3 452.5,164.3 452.8,164.3 453.1,164.3 453.4,164.3 453.7,164.3 454,164.4 454.3,164.4 454.6,164.4 454.9,164.4 455.2,164.4 455.5,164.4 455.8,164.4 456.1,164.4 456.4,164.4 456.7,164.4 457,164.4 457.3,164.4 457.6,164.4 457.9,164.4 458.2,164.4 458.5,164.4 458.8,164.4 459.1,164.4 459.4,164.4 459.7,164.4 460,164.4 460.3,164.4 460.6,164.4 460.9,164.4 461.2,164.4 461.5,164.4 461.8,164.4 462.1,164.4 462.4,164.4 462.7,164.4 463,164.4 463.3,164.4 463.6,164.4 463.9,164.4 464.2,164.4 464.5,164.4 464.8,164.4 465.1,164.4 465.4,164.4 465.7,164.4 466,164.4 466.4,164.4 466.7,164.4 467,164.4 467.3,164.4 467.6,164.4 467.9,164.4 468.2,164.4 468.5,164.4 468.8,164.4 469.1,164.4 469.4,164.4 469.7,164.4 470,164.4 470.3,164.4 470.6,164.4 470.9,164.4 471.2,164.4 471.5,164.4 471.8,164.4 472.1,164.4 472.4,164.4 472.7,164.4 473,164.4 473.3,164.4 473.6,164.4 473.9,164.4 474.2,164.4 474.5,164.4 474.8,164.4 475.1,164.4 475.4,164.4 475.7,164.4 476,164.4 476.3,164.4 476.6,164.4 476.9,164.4 477.2,164.4 477.5,164.4 477.8,164.4 478.1,164.4 478.4,164.4 478.7,164.4 479,164.4 479.3,164.4 479.6,164.4 479.9,164.4 480.2,164.4 480.5,164.4 480.8,164.4 481.1,164.4 481.4,164.4 481.7,164.4 482,164.4 482.3,164.4 482.6,164.4 482.9,164.4 483.2,164.4 483.5,164.4 483.8,164.4 484.1,164.4 484.4,164.4 484.7,164.4 485,164.4 485.3,164.4 485.6,164.4 485.9,164.4 486.2,164.4 486.5,164.4 486.8,164.4 487.1,164.4 487.4,164.4 487.7,164.4 488,164.4 488.3,164.4 488.6,164.4 488.9,164.4 489.2,164.4 489.6,164.4 489.9,164.4 490.2,164.4 490.5,164.4 490.8,164.4 491.1,164.4 491.4,164.4 491.7,164.4 492,164.4 492.3,164.4 492.6,164.4 492.9,164.4 493.2,164.4 493.5,164.4 493.8,164.4 494.1,164.4 494.4,164.4 494.7,164.4 495,164.4 495.3,164.4 495.6,164.4 495.9,164.4 496.2,164.4 496.5,164.4 496.8,164.4 497.1,164.4 497.4,164.4 497.7,164.4 498,164.4 498.3,164.4 498.6,164.4 498.9,164.4 499.2,164.4 499.5,164.4 499.8,164.4 500.1,164.4 500.4,164.4 500.7,164.4 501,164.4 501.3,164.4 501.6,164.4 501.9,164.4 502.2,164.4 502.5,164.4 502.8,164.4 503.1,164.4 503.4,164.4 503.7,164.4 504,164.4 504.3,164.4 504.6,164.4 504.9,164.4 505.2,164.4 505.5,164.4 505.8,164.4 506.1,164.4 506.4,164.4 506.7,164.4 507,164.4 507.3,164.4 507.6,164.4 507.9,164.4 508.2,164.4 508.5,164.4 508.8,164.4 509.1,164.4 509.4,164.4 509.7,164.4 510,164.4 510.3,164.4 510.6,164.4 510.9,164.4 511.2,164.4 511.5,164.4 511.8,164.4 512.1,164.4 512.4,164.4 512.7,164.4 513.1,164.4 513.4,164.4 513.7,164.4 514,164.4 514.3,164.4 514.6,164.4 514.9,164.4 515.2,164.4 515.5,164.4 515.8,164.4 516.1,164.4 516.4,164.4 516.7,164.4 517,164.4 517.3,164.4 517.6,164.4 517.9,164.4 518.2,164.4 518.5,164.4 518.8,164.4 519.1,164.4 519.4,164.4 519.7,164.4 520,164.4 520.3,164.4 520.6,164.4 520.9,164.4 521.2,164.4 521.5,164.4 521.8,164.4 522.1,164.4 522.4,164.4 522.7,164.4 523,164.4 523.3,164.4 523.6,164.4 523.9,164.4 524.2,164.4 524.5,164.4"/>
<polyline fill="none" stroke="#ff00ff" stroke-width="1.15" stroke-dasharray="4.5 3.5"  points="338,164.4 338.3,164.4 338.6,164.4 338.9,164.4 339.2,164.4 339.5,164.4 339.8,164.4 340.1,164.4 340.4,164.4 340.7,164.4 341,164.4 341.3,164.4 341.6,164.4 341.9,164.4 342.2,164.4 342.5,164.4 342.8,164.4 343.1,164.4 343.4,164.4 343.7,164.4 344,164.4 344.3,164.4 344.6,164.4 344.9,164.4 345.2,164.4 345.5,164.4 345.8,164.4 346.1,164.4 346.4,164.4 346.7,164.4 347,164.4 347.3,164.4 347.6,164.4 347.9,164.4 348.2,164.4 348.5,164.4 348.8,164.4 349.1,164.4 349.4,164.4 349.8,164.4 350.1,164.4 350.4,164.4 350.7,164.4 351,164.4 351.3,164.4 351.6,164.4 351.9,164.4 352.2,164.4 352.5,164.4 352.8,164.4 353.1,164.4 353.4,164.4 353.7,164.4 354,164.4 354.3,164.4 354.6,164.4 354.9,164.4 355.2,164.4 355.5,164.4 355.8,164.4 356.1,164.4 356.4,164.4 356.7,164.4 357,164.4 357.3,164.4 357.6,164.4 357.9,164.4 358.2,164.4 358.5,164.4 358.8,164.4 359.1,164.5 359.4,164.4 359.7,164.1 360,163.7 360.3,163.5 360.6,163.5 360.9,163.9 361.2,164.4 361.5,165.1 361.8,165.9 362.1,166.4 362.4,166.6 362.7,166.5 363,165.9 363.3,165 363.6,163.9 363.9,162.9 364.2,162.3 364.5,162.2 364.8,162.6 365.1,163.5 365.4,164.8 365.7,166 366,167.1 366.3,167.8 366.6,167.9 366.9,167.3 367.2,166.2 367.5,164.8 367.8,163.4 368.1,162.2 368.4,161.5 368.7,161.6 369,162.3 369.3,163.7 369.6,165.3 369.9,166.8 370.2,168 370.5,168.6 370.8,168.4 371.1,167.5 371.4,166.1 371.7,164.5 372,162.9 372.3,161.8 372.6,161.3 372.9,161.6 373.3,162.6 373.6,164 373.9,165.7 374.2,167.2 374.5,168.3 374.8,168.7 375.1,168.3 375.4,167.3 375.7,165.7 376,164.1 376.3,162.5 376.6,161.5 376.9,161.2 377.2,161.7 377.5,162.8 377.8,164.4 378.1,166.1 378.4,167.6 378.7,168.6 379,168.8 379.3,168.2 379.6,167 379.9,165.4 380.2,163.6 380.5,162.2 380.8,161.3 381.1,161.2 381.4,161.9 381.7,163.2 382,164.9 382.3,166.6 382.6,168 382.9,168.8 383.2,168.8 383.5,168.1 383.8,166.7 384.1,164.9 384.4,163.2 384.7,161.9 385,161.2 385.3,161.3 385.6,162.1 385.9,163.6 386.2,165.3 386.5,166.9 386.8,168.2 387.1,168.8 387.4,168.6 387.7,167.7 388,166.2 388.3,164.5 388.6,162.9 388.9,161.7 389.2,161.2 389.5,161.5 389.8,162.5 390.1,164 390.4,165.7 390.7,167.2 391,168.3 391.3,168.7 391.6,168.3 391.9,167.3 392.2,165.8 392.5,164.1 392.8,162.6 393.1,161.6 393.4,161.3 393.7,161.8 394,162.9 394.3,164.4 394.6,166 394.9,167.4 395.2,168.3 395.5,168.5 395.8,168 396.1,166.9 396.5,165.3 396.8,163.7 397.1,162.4 397.4,161.6 397.7,161.5 398,162.1 398.3,163.2 398.6,164.8 398.9,166.3 399.2,167.6 399.5,168.3 399.8,168.4 400.1,167.7 400.4,166.5 400.7,164.9 401,163.4 401.3,162.1 401.6,161.4 401.9,161.5 402.2,162.2 402.5,163.6 402.8,165.2 403.1,166.8 403.4,168.1 403.7,168.7 404,168.6 404.3,167.7 404.6,166.3 404.9,164.5 405.2,162.9 405.5,161.6 405.8,161.1 406.1,161.3 406.4,162.3 406.7,163.9 407,165.7 407.3,167.5 407.6,168.7 407.9,169.2 408.2,168.8 408.5,167.7 408.8,166 409.1,164.1 409.4,163.3 409.7,163.5 410,163.7 410.3,163.2 410.6,162.8 410.9,162.5 411.2,162.3 411.5,162.2 411.8,162.2 412.1,162.3 412.4,162.5 412.7,162.9 413,163.3 413.3,163.7 413.6,164.2 413.9,164.7 414.2,165.1 414.5,165.5 414.8,165.8 415.1,166.1 415.4,166.2 415.7,166.3 416,166.2 416.3,166.1 416.6,165.9 416.9,165.6 417.2,165.2 417.5,164.9 417.8,164.5 418.1,164.1 418.4,163.7 418.7,163.4 419,163.2 419.3,163 419.7,162.9 420,162.9 420.3,162.9 420.6,163 420.9,163.2 421.2,163.5 421.5,163.8 421.8,164.1 422.1,164.4 422.4,164.7 422.7,165 423,165.3 423.3,165.5 423.6,165.6 423.9,165.7 424.2,165.7 424.5,165.6 424.8,165.5 425.1,165.3 425.4,165.1 425.7,164.8 426,164.6 426.3,164.3 426.6,164.1 426.9,163.9 427.2,163.7 427.5,163.6 427.8,163.5 428.1,163.4 428.4,163.5 428.7,163.5 429,163.6 429.3,163.8 429.6,163.9 429.9,164.1 430.2,164.3 430.5,164.5 430.8,164.7 431.1,164.8 431.4,164.9 431.7,165 432,165 432.3,165 432.6,165 432.9,164.9 433.2,164.9 433.5,164.8 433.8,164.7 434.1,164.5 434.4,164.4 434.7,164.3 435,164.2 435.3,164.1 435.6,164 435.9,164 436.2,164 436.5,164 436.8,164 437.1,164 437.4,164.1 437.7,164.1 438,164.2 438.3,164.3 438.6,164.4 438.9,164.5 439.2,164.6 439.5,164.6 439.8,164.7 440.1,164.7 440.4,164.7 440.7,164.7 441,164.7 441.3,164.7 441.6,164.6 441.9,164.6 442.2,164.5 442.5,164.4 442.8,164.4 443.2,164.3 443.5,164.3 443.8,164.2 444.1,164.2 444.4,164.2 444.7,164.2 445,164.2 445.3,164.2 445.6,164.2 445.9,164.3 446.2,164.3 446.5,164.3 446.8,164.4 447.1,164.4 447.4,164.5 447.7,164.5 448,164.5 448.3,164.5 448.6,164.6 448.9,164.6 449.2,164.5 449.5,164.5 449.8,164.5 450.1,164.5 450.4,164.5 450.7,164.4 451,164.4 451.3,164.4 451.6,164.4 451.9,164.3 452.2,164.3 452.5,164.3 452.8,164.3 453.1,164.3 453.4,164.3 453.7,164.3 454,164.3 454.3,164.4 454.6,164.4 454.9,164.4 455.2,164.4 455.5,164.4 455.8,164.4 456.1,164.4 456.4,164.4 456.7,164.4 457,164.4 457.3,164.4 457.6,164.4 457.9,164.4 458.2,164.4 458.5,164.4 458.8,164.4 459.1,164.4 459.4,164.4 459.7,164.4 460,164.4 460.3,164.4 460.6,164.4 460.9,164.4 461.2,164.4 461.5,164.4 461.8,164.4 462.1,164.4 462.4,164.4 462.7,164.4 463,164.4 463.3,164.4 463.6,164.4 463.9,164.4 464.2,164.4 464.5,164.4 464.8,164.4 465.1,164.4 465.4,164.4 465.7,164.4 466,164.4 466.4,164.4 466.7,164.4 467,164.4 467.3,164.4 467.6,164.4 467.9,164.4 468.2,164.4 468.5,164.4 468.8,164.4 469.1,164.4 469.4,164.4 469.7,164.4 470,164.4 470.3,164.4 470.6,164.4 470.9,164.4 471.2,164.4 471.5,164.4 471.8,164.4 472.1,164.4 472.4,164.4 472.7,164.4 473,164.4 473.3,164.4 473.6,164.4 473.9,164.4 474.2,164.4 474.5,164.4 474.8,164.4 475.1,164.4 475.4,164.4 475.7,164.4 476,164.4 476.3,164.4 476.6,164.4 476.9,164.4 477.2,164.4 477.5,164.4 477.8,164.4 478.1,164.4 478.4,164.4 478.7,164.4 479,164.4 479.3,164.4 479.6,164.4 479.9,164.4 480.2,164.4 480.5,164.4 480.8,164.4 481.1,164.4 481.4,164.4 481.7,164.4 482,164.4 482.3,164.4 482.6,164.4 482.9,164.4 483.2,164.4 483.5,164.4 483.8,164.4 484.1,164.4 484.4,164.4 484.7,164.4 485,164.4 485.3,164.4 485.6,164.4 485.9,164.4 486.2,164.4 486.5,164.4 486.8,164.4 487.1,164.4 487.4,164.4 487.7,164.4 488,164.4 488.3,164.4 488.6,164.4 488.9,164.4 489.2,164.4 489.6,164.4 489.9,164.4 490.2,164.4 490.5,164.4 490.8,164.4 491.1,164.4 491.4,164.4 491.7,164.4 492,164.4 492.3,164.4 492.6,164.4 492.9,164.4 493.2,164.4 493.5,164.4 493.8,164.4 494.1,164.4 494.4,164.4 494.7,164.4 495,164.4 495.3,164.4 495.6,164.4 495.9,164.4 496.2,164.4 496.5,164.4 496.8,164.4 497.1,164.4 497.4,164.4 497.7,164.4 498,164.4 498.3,164.4 498.6,164.4 498.9,164.4 499.2,164.4 499.5,164.4 499.8,164.4 500.1,164.4 500.4,164.4 500.7,164.4 501,164.4 501.3,164.4 501.6,164.4 501.9,164.4 502.2,164.4 502.5,164.4 502.8,164.4 503.1,164.4 503.4,164.4 503.7,164.4 504,164.4 504.3,164.4 504.6,164.4 504.9,164.4 505.2,164.4 505.5,164.4 505.8,164.4 506.1,164.4 506.4,164.4 506.7,164.4 507,164.4 507.3,164.4 507.6,164.4 507.9,164.4 508.2,164.4 508.5,164.4 508.8,164.4 509.1,164.4 509.4,164.4 509.7,164.4 510,164.4 510.3,164.4 510.6,164.4 510.9,164.4 511.2,164.4 511.5,164.4 511.8,164.4 512.1,164.4 512.4,164.4 512.7,164.4 513.1,164.4 513.4,164.4 513.7,164.4 514,164.4 514.3,164.4 514.6,164.4 514.9,164.4 515.2,164.4 515.5,164.4 515.8,164.4 516.1,164.4 516.4,164.4 516.7,164.4 517,164.4 517.3,164.4 517.6,164.4 517.9,164.4 518.2,164.4 518.5,164.4 518.8,164.4 519.1,164.4 519.4,164.4 519.7,164.4 520,164.4 520.3,164.4 520.6,164.4 520.9,164.4 521.2,164.4 521.5,164.4 521.8,164.4 522.1,164.4 522.4,164.4 522.7,164.4 523,164.4 523.3,164.4 523.6,164.4 523.9,164.4 524.2,164.4 524.5,164.4"/>
<polyline fill="none" stroke="#ee0000" stroke-width="1.05"  points="338,222.2 338.3,222.2 338.6,222.2 338.9,222.2 339.2,222.2 339.5,222.2 339.8,222.2 340.1,222.2 340.4,222.2 340.7,222.2 341,222.2 341.3,222.2 341.6,222.2 341.9,222.2 342.2,222.2 342.5,222.2 342.8,222.2 343.1,222.2 343.4,222.2 343.7,222.2 344,222.2 344.3,222.2 344.6,222.2 344.9,222.2 345.2,222.2 345.5,222.2 345.8,222.2 346.1,222.2 346.4,222.2 346.7,222.2 347,222.2 347.3,222.2 347.6,222.2 347.9,222.2 348.2,222.2 348.5,222.2 348.8,222.2 349.1,222.2 349.4,222.2 349.8,222.2 350.1,222.2 350.4,222.2 350.7,222.2 351,222.2 351.3,222.2 351.6,222.2 351.9,222.2 352.2,222.2 352.5,222.2 352.8,222.2 353.1,222.2 353.4,222.2 353.7,222.2 354,222.2 354.3,222.2 354.6,222.2 354.9,222.2 355.2,222.2 355.5,222.2 355.8,222.2 356.1,222.2 356.4,222.2 356.7,222.2 357,222.2 357.3,222.2 357.6,222.2 357.9,222.2 358.2,222.2 358.5,222.2 358.8,222.2 359.1,222.3 359.4,223.2 359.7,224.8 360,226.3 360.3,227.3 360.6,227.4 360.9,226.8 361.2,225.7 361.5,224 361.8,222.2 362.1,220.3 362.4,218.5 362.7,217 363,216.1 363.3,215.7 363.6,216.2 363.9,217.3 364.2,218.9 364.5,220.5 364.8,221.6 365.1,221.8 365.4,221.2 365.7,219.8 366,217.8 366.3,215.5 366.6,213.4 366.9,211.7 367.2,210.8 367.5,210.7 367.8,211.5 368.1,212.8 368.4,214.6 368.7,216.3 369,217.6 369.3,218.2 369.6,218.1 369.9,217.1 370.2,215.5 370.5,213.6 370.8,211.8 371.1,210.5 371.4,209.9 371.7,210.4 372,212.1 372.3,214.6 372.6,217.3 372.9,219.8 373.3,221.4 373.6,221.9 373.9,221.3 374.2,219.9 374.5,218 374.8,215.9 375.1,213.9 375.4,212.4 375.7,211.7 376,212 376.3,213.5 376.6,216 376.9,218.9 377.2,221.7 377.5,223.6 377.8,224.4 378.1,223.9 378.4,222.4 378.7,220.2 379,217.7 379.3,215.5 379.6,214.1 379.9,213.7 380.2,214.5 380.5,216.3 380.8,218.7 381.1,221.3 381.4,223.4 381.7,224.7 382,224.8 382.3,223.8 382.6,221.8 382.9,219.3 383.2,216.8 383.5,214.8 383.8,213.8 384.1,213.9 384.4,215.2 384.7,217.4 385,219.9 385.3,222.4 385.6,224.1 385.9,224.9 386.2,224.5 386.5,223 386.8,220.7 387.1,218.1 387.4,215.8 387.7,214.2 388,213.7 388.3,214.4 388.6,216.1 388.9,218.5 389.2,221.1 389.5,223.3 389.8,224.6 390.1,224.9 390.4,223.9 390.7,222.1 391,219.7 391.3,217.3 391.6,215.4 391.9,214.3 392.2,214.4 392.5,215.5 392.8,217.6 393.1,220 393.4,222.3 393.7,224.1 394,224.9 394.3,224.6 394.6,223.3 394.9,221.4 395.2,219.2 395.5,217.1 395.8,215.7 396.1,215.2 396.5,215.7 396.8,216.9 397.1,218.7 397.4,220.7 397.7,222.6 398,224.1 398.3,224.8 398.6,224.7 398.9,223.7 399.2,221.8 399.5,219.6 399.8,217.5 400.1,216 400.4,215.3 400.7,215.5 401,216.5 401.3,218 401.6,219.9 401.9,221.8 402.2,223.5 402.5,224.6 402.8,224.9 403.1,224.3 403.4,222.7 403.7,220.4 404,217.6 404.3,215 404.6,212.8 404.9,211.5 405.2,211.2 405.5,211.9 405.8,213.4 406.1,215.6 406.4,218 406.7,220.4 407,222.3 407.3,223.5 407.6,223.9 407.9,224 408.2,224.3 408.5,224.8 408.8,225.3 409.1,225.9 409.4,226.5 409.7,227 410,227.3 410.3,227.5 410.6,227.5 410.9,227.6 411.2,227.8 411.5,228 411.8,228.4 412.1,228.7 412.4,229.2 412.7,229.6 413,230.1 413.3,230.6 413.6,231 413.9,231.4 414.2,231.8 414.5,232.1 414.8,232.3 415.1,232.5 415.4,232.6 415.7,232.5 416,232.3 416.3,232 416.6,231.5 416.9,231 417.2,230.4 417.5,229.8 417.8,229.2 418.1,228.7 418.4,228.3 418.7,228.1 419,228 419.3,227.9 419.7,227.8 420,227.5 420.3,227.2 420.6,226.9 420.9,226.5 421.2,226.1 421.5,225.7 421.8,225.4 422.1,225.1 422.4,225 422.7,224.9 423,224.9 423.3,224.9 423.6,224.8 423.9,224.8 424.2,224.7 424.5,224.6 424.8,224.5 425.1,224.4 425.4,224.4 425.7,224.3 426,224.2 426.3,224.1 426.6,224 426.9,224 427.2,223.9 427.5,223.9 427.8,223.9 428.1,223.9 428.4,223.9 428.7,224 429,224 429.3,224.1 429.6,224.1 429.9,224.2 430.2,224.3 430.5,224.4 430.8,224.4 431.1,224.5 431.4,224.6 431.7,224.6 432,224.7 432.3,224.7 432.6,224.7 432.9,224.7 433.2,224.7 433.5,224.7 433.8,224.6 434.1,224.6 434.4,224.5 434.7,224.5 435,224.4 435.3,224.3 435.6,224.2 435.9,224.2 436.2,224.1 436.5,224 436.8,224 437.1,223.9 437.4,223.9 437.7,223.9 438,223.9 438.3,223.9 438.6,223.9 438.9,223.9 439.2,223.9 439.5,223.8 439.8,223.8 440.1,223.8 440.4,223.8 440.7,223.8 441,223.7 441.3,223.7 441.6,223.7 441.9,223.6 442.2,223.6 442.5,223.6 442.8,223.6 443.2,223.5 443.5,223.5 443.8,223.5 444.1,223.5 444.4,223.4 444.7,223.4 445,223.4 445.3,223.4 445.6,223.4 445.9,223.4 446.2,223.4 446.5,223.4 446.8,223.4 447.1,223.4 447.4,223.4 447.7,223.4 448,223.4 448.3,223.4 448.6,223.4 448.9,223.4 449.2,223.4 449.5,223.4 449.8,223.4 450.1,223.4 450.4,223.4 450.7,223.3 451,223.3 451.3,223.3 451.6,223.3 451.9,223.3 452.2,223.3 452.5,223.3 452.8,223.3 453.1,223.3 453.4,223.3 453.7,223.3 454,223.3 454.3,223.3 454.6,223.3 454.9,223.2 455.2,223.2 455.5,223.2 455.8,223.2 456.1,223.2 456.4,223.2 456.7,223.2 457,223.2 457.3,223.2 457.6,223.2 457.9,223.1 458.2,223.1 458.5,223.1 458.8,223.1 459.1,223.1 459.4,223.1 459.7,223.1 460,223.1 460.3,223.1 460.6,223 460.9,223 461.2,223 461.5,223 461.8,223 462.1,223 462.4,223 462.7,223 463,223 463.3,222.9 463.6,222.9 463.9,222.9 464.2,222.9 464.5,222.9 464.8,222.9 465.1,222.9 465.4,222.9 465.7,222.8 466,222.8 466.4,222.8 466.7,222.8 467,222.8 467.3,222.8 467.6,222.8 467.9,222.8 468.2,222.8 468.5,222.8 468.8,222.7 469.1,222.7 469.4,222.7 469.7,222.7 470,222.7 470.3,222.7 470.6,222.7 470.9,222.7 471.2,222.7 471.5,222.7 471.8,222.7 472.1,222.7 472.4,222.6 472.7,222.6 473,222.6 473.3,222.6 473.6,222.6 473.9,222.6 474.2,222.6 474.5,222.6 474.8,222.6 475.1,222.6 475.4,222.6 475.7,222.6 476,222.6 476.3,222.6 476.6,222.6 476.9,222.6 477.2,222.6 477.5,222.6 477.8,222.6 478.1,222.6 478.4,222.6 478.7,222.6 479,222.6 479.3,222.6 479.6,222.6 479.9,222.6 480.2,222.6 480.5,222.6 480.8,222.6 481.1,222.6 481.4,222.6 481.7,222.6 482,222.6 482.3,222.6 482.6,222.6 482.9,222.6 483.2,222.6 483.5,222.6 483.8,222.6 484.1,222.6 484.4,222.5 484.7,222.5 485,222.5 485.3,222.5 485.6,222.5 485.9,222.5 486.2,222.5 486.5,222.5 486.8,222.5 487.1,222.5 487.4,222.5 487.7,222.5 488,222.5 488.3,222.5 488.6,222.5 488.9,222.5 489.2,222.5 489.6,222.5 489.9,222.5 490.2,222.5 490.5,222.5 490.8,222.5 491.1,222.5 491.4,222.5 491.7,222.5 492,222.5 492.3,222.4 492.6,222.4 492.9,222.4 493.2,222.4 493.5,222.4 493.8,222.4 494.1,222.4 494.4,222.4 494.7,222.4 495,222.4 495.3,222.4 495.6,222.4 495.9,222.4 496.2,222.4 496.5,222.4 496.8,222.4 497.1,222.4 497.4,222.4 497.7,222.3 498,222.3 498.3,222.3 498.6,222.3 498.9,222.3 499.2,222.3 499.5,222.3 499.8,222.3 500.1,222.3 500.4,222.3 500.7,222.3 501,222.3 501.3,222.3 501.6,222.3 501.9,222.3 502.2,222.3 502.5,222.2 502.8,222.2 503.1,222.2 503.4,222.2 503.7,222.2 504,222.2 504.3,222.2 504.6,222.2 504.9,222.2 505.2,222.2 505.5,222.2 505.8,222.2 506.1,222.2 506.4,222.2 506.7,222.2 507,222.2 507.3,222.2 507.6,222.1 507.9,222.1 508.2,222.1 508.5,222.1 508.8,222.1 509.1,222.1 509.4,222.1 509.7,222.1 510,222.1 510.3,222.1 510.6,222.1 510.9,222.1 511.2,222.1 511.5,222.1 511.8,222.1 512.1,222.1 512.4,222.1 512.7,222.1 513.1,222.1 513.4,222 513.7,222 514,222 514.3,222 514.6,222 514.9,222 515.2,222 515.5,222 515.8,222 516.1,222 516.4,222 516.7,222 517,222 517.3,222 517.6,222 517.9,222 518.2,222 518.5,222 518.8,222 519.1,222 519.4,222 519.7,222 520,222 520.3,222 520.6,222 520.9,222 521.2,222 521.5,222 521.8,222 522.1,222 522.4,222 522.7,222 523,222 523.3,222 523.6,222 523.9,222 524.2,222 524.5,222"/>
<polyline fill="none" stroke="#000000" stroke-width="1.05" stroke-dasharray="4.6 3.4"  points="338,226.6 338.3,226.6 338.6,226.6 338.9,226.6 339.2,226.6 339.5,226.6 339.8,226.6 340.1,226.6 340.4,226.6 340.7,226.6 341,226.6 341.3,226.6 341.6,226.6 341.9,226.6 342.2,226.6 342.5,226.6 342.8,226.6 343.1,226.6 343.4,226.6 343.7,226.6 344,226.6 344.3,226.6 344.6,226.6 344.9,226.6 345.2,226.6 345.5,226.6 345.8,226.6 346.1,226.6 346.4,226.6 346.7,226.6 347,226.6 347.3,226.6 347.6,226.6 347.9,226.6 348.2,226.6 348.5,226.6 348.8,226.6 349.1,226.6 349.4,226.6 349.8,226.6 350.1,226.6 350.4,226.6 350.7,226.6 351,226.6 351.3,226.6 351.6,226.6 351.9,226.6 352.2,226.6 352.5,226.6 352.8,226.6 353.1,226.6 353.4,226.6 353.7,226.6 354,226.6 354.3,226.6 354.6,226.6 354.9,226.6 355.2,226.6 355.5,226.6 355.8,226.6 356.1,226.6 356.4,226.6 356.7,226.6 357,226.6 357.3,226.6 357.6,226.6 357.9,226.6 358.2,226.6 358.5,226.6 358.8,226.6 359.1,226.6 359.4,226.8 359.7,227 360,227.3 360.3,227.5 360.6,227.7 360.9,227.7 361.2,227.5 361.5,227.1 361.8,226.7 362.1,226.4 362.4,226.2 362.7,226.3 363,226.7 363.3,227.3 363.6,228.1 363.9,228.8 364.2,229.5 364.5,229.8 364.8,229.8 365.1,229.4 365.4,228.6 365.7,227.8 366,227 366.3,226.4 366.6,226.2 366.9,226.5 367.2,227.2 367.5,228.2 367.8,229.3 368.1,230.2 368.4,230.8 368.7,231 369,230.6 369.3,229.9 369.6,228.8 369.9,227.7 370.2,226.8 370.5,226.3 370.8,226.2 371.1,226.6 371.4,227.4 371.7,228.4 372,229.5 372.3,230.4 372.6,230.9 372.9,230.9 373.3,230.4 373.6,229.6 373.9,228.5 374.2,227.5 374.5,226.6 374.8,226.2 375.1,226.2 375.4,226.7 375.7,227.6 376,228.7 376.3,229.7 376.6,230.5 376.9,230.9 377.2,230.8 377.5,230.2 377.8,229.3 378.1,228.2 378.4,227.2 378.7,226.4 379,226.1 379.3,226.3 379.6,226.9 379.9,227.8 380.2,228.9 380.5,229.9 380.8,230.6 381.1,230.9 381.4,230.6 381.7,230 382,229 382.3,227.9 382.6,226.9 382.9,226.3 383.2,226 383.5,226.3 383.8,227 384.1,228 384.4,229.1 384.7,230.1 385,230.7 385.3,230.8 385.6,230.5 385.9,229.7 386.2,228.7 386.5,227.6 386.8,226.7 387.1,226.1 387.4,226 387.7,226.4 388,227.2 388.3,228.3 388.6,229.3 388.9,230.2 389.2,230.7 389.5,230.7 389.8,230.3 390.1,229.4 390.4,228.4 390.7,227.3 391,226.5 391.3,226 391.6,226 391.9,226.5 392.2,227.4 392.5,228.5 392.8,229.5 393.1,230.3 393.4,230.7 393.7,230.6 394,230.1 394.3,229.2 394.6,228.1 394.9,227.1 395.2,226.3 395.5,225.9 395.8,226.1 396.1,226.7 396.5,227.6 396.8,228.7 397.1,229.7 397.4,230.4 397.7,230.7 398,230.5 398.3,229.8 398.6,228.9 398.9,227.8 399.2,226.8 399.5,226.1 399.8,225.9 400.1,226.2 400.4,226.9 400.7,227.9 401,228.9 401.3,229.9 401.6,230.5 401.9,230.6 402.2,230.3 402.5,229.6 402.8,228.6 403.1,227.5 403.4,226.6 403.7,226.1 404,226 404.3,226.3 404.6,227.1 404.9,228.1 405.2,229.1 405.5,229.9 405.8,230.4 406.1,230.5 406.4,230 406.7,229.2 407,228.3 407.3,227.3 407.6,226.5 407.9,226 408.2,226.1 408.5,226.5 408.8,227.3 409.1,228.3 409.4,229.2 409.7,229.9 410,230.3 410.3,230.1 410.6,229.6 410.9,228.8 411.2,227.9 411.5,227 411.8,226.4 412.1,226.1 412.4,226.2 412.7,226.7 413,227.4 413.3,228.2 413.6,228.9 413.9,229.4 414.2,229.6 414.5,229.4 414.8,228.9 415.1,228.2 415.4,227.4 415.7,226.8 416,226.3 416.3,226.2 416.6,226.3 416.9,226.8 417.2,227.4 417.5,228 417.8,228.5 418.1,228.8 418.4,228.9 418.7,228.7 419,228.2 419.3,227.7 419.7,227.1 420,226.7 420.3,226.4 420.6,226.4 420.9,226.5 421.2,226.9 421.5,227.3 421.8,227.7 422.1,228 422.4,228.1 422.7,228 423,227.8 423.3,227.5 423.6,227.2 423.9,226.8 424.2,226.6 424.5,226.5 424.8,226.5 425.1,226.6 425.4,226.8 425.7,227 426,227.1 426.3,227.2 426.6,227.2 426.9,227.1 427.2,227 427.5,226.8 427.8,226.7 428.1,226.6 428.4,226.6 428.7,226.6 429,226.6 429.3,226.6 429.6,226.6 429.9,226.6 430.2,226.6 430.5,226.6 430.8,226.6 431.1,226.6 431.4,226.6 431.7,226.6 432,226.6 432.3,226.6 432.6,226.6 432.9,226.6 433.2,226.6 433.5,226.6 433.8,226.6 434.1,226.6 434.4,226.6 434.7,226.6 435,226.6 435.3,226.6 435.6,226.6 435.9,226.6 436.2,226.6 436.5,226.6 436.8,226.6 437.1,226.6 437.4,226.6 437.7,226.6 438,226.6 438.3,226.6 438.6,226.6 438.9,226.6 439.2,226.6 439.5,226.6 439.8,226.6 440.1,226.6 440.4,226.6 440.7,226.6 441,226.6 441.3,226.6 441.6,226.6 441.9,226.6 442.2,226.6 442.5,226.6 442.8,226.6 443.2,226.6 443.5,226.6 443.8,226.6 444.1,226.6 444.4,226.6 444.7,226.6 445,226.6 445.3,226.6 445.6,226.6 445.9,226.6 446.2,226.6 446.5,226.6 446.8,226.6 447.1,226.6 447.4,226.6 447.7,226.6 448,226.6 448.3,226.6 448.6,226.6 448.9,226.6 449.2,226.6 449.5,226.6 449.8,226.6 450.1,226.6 450.4,226.6 450.7,226.6 451,226.6 451.3,226.6 451.6,226.6 451.9,226.6 452.2,226.6 452.5,226.6 452.8,226.6 453.1,226.6 453.4,226.6 453.7,226.6 454,226.6 454.3,226.6 454.6,226.6 454.9,226.6 455.2,226.6 455.5,226.6 455.8,226.6 456.1,226.6 456.4,226.6 456.7,226.6 457,226.6 457.3,226.6 457.6,226.6 457.9,226.6 458.2,226.6 458.5,226.6 458.8,226.6 459.1,226.6 459.4,226.6 459.7,226.6 460,226.6 460.3,226.6 460.6,226.6 460.9,226.6 461.2,226.6 461.5,226.6 461.8,226.6 462.1,226.6 462.4,226.6 462.7,226.6 463,226.6 463.3,226.6 463.6,226.6 463.9,226.6 464.2,226.6 464.5,226.6 464.8,226.6 465.1,226.6 465.4,226.6 465.7,226.6 466,226.6 466.4,226.6 466.7,226.6 467,226.6 467.3,226.6 467.6,226.6 467.9,226.6 468.2,226.6 468.5,226.6 468.8,226.6 469.1,226.6 469.4,226.6 469.7,226.6 470,226.6 470.3,226.6 470.6,226.6 470.9,226.6 471.2,226.6 471.5,226.6 471.8,226.6 472.1,226.6 472.4,226.6 472.7,226.6 473,226.6 473.3,226.6 473.6,226.6 473.9,226.6 474.2,226.6 474.5,226.6 474.8,226.6 475.1,226.6 475.4,226.6 475.7,226.6 476,226.6 476.3,226.6 476.6,226.6 476.9,226.6 477.2,226.6 477.5,226.6 477.8,226.6 478.1,226.6 478.4,226.6 478.7,226.6 479,226.6 479.3,226.6 479.6,226.6 479.9,226.6 480.2,226.6 480.5,226.6 480.8,226.6 481.1,226.6 481.4,226.6 481.7,226.6 482,226.6 482.3,226.6 482.6,226.6 482.9,226.6 483.2,226.6 483.5,226.6 483.8,226.6 484.1,226.6 484.4,226.6 484.7,226.6 485,226.6 485.3,226.6 485.6,226.6 485.9,226.6 486.2,226.6 486.5,226.6 486.8,226.6 487.1,226.6 487.4,226.6 487.7,226.6 488,226.6 488.3,226.6 488.6,226.6 488.9,226.6 489.2,226.6 489.6,226.6 489.9,226.6 490.2,226.6 490.5,226.6 490.8,226.6 491.1,226.6 491.4,226.6 491.7,226.6 492,226.6 492.3,226.6 492.6,226.6 492.9,226.6 493.2,226.6 493.5,226.6 493.8,226.6 494.1,226.6 494.4,226.6 494.7,226.6 495,226.6 495.3,226.6 495.6,226.6 495.9,226.6 496.2,226.6 496.5,226.6 496.8,226.6 497.1,226.6 497.4,226.6 497.7,226.6 498,226.6 498.3,226.6 498.6,226.6 498.9,226.6 499.2,226.6 499.5,226.6 499.8,226.6 500.1,226.6 500.4,226.6 500.7,226.6 501,226.6 501.3,226.6 501.6,226.6 501.9,226.6 502.2,226.6 502.5,226.6 502.8,226.6 503.1,226.6 503.4,226.6 503.7,226.6 504,226.6 504.3,226.6 504.6,226.6 504.9,226.6 505.2,226.6 505.5,226.6 505.8,226.6 506.1,226.6 506.4,226.6 506.7,226.6 507,226.6 507.3,226.6 507.6,226.6 507.9,226.6 508.2,226.6 508.5,226.6 508.8,226.6 509.1,226.6 509.4,226.6 509.7,226.6 510,226.6 510.3,226.6 510.6,226.6 510.9,226.6 511.2,226.6 511.5,226.6 511.8,226.6 512.1,226.6 512.4,226.6 512.7,226.6 513.1,226.6 513.4,226.6 513.7,226.6 514,226.6 514.3,226.6 514.6,226.6 514.9,226.6 515.2,226.6 515.5,226.6 515.8,226.6 516.1,226.6 516.4,226.6 516.7,226.6 517,226.6 517.3,226.6 517.6,226.6 517.9,226.6 518.2,226.6 518.5,226.6 518.8,226.6 519.1,226.6 519.4,226.6 519.7,226.6 520,226.6 520.3,226.6 520.6,226.6 520.9,226.6 521.2,226.6 521.5,226.6 521.8,226.6 522.1,226.6 522.4,226.6 522.7,226.6 523,226.6 523.3,226.6 523.6,226.6 523.9,226.6 524.2,226.6 524.5,226.6"/>
<polyline fill="none" stroke="#0000ff" stroke-width="1.9"  points="338,247.6 338.3,247.6 338.6,247.6 338.9,247.6 339.2,247.6 339.5,247.6 339.8,247.6 340.1,247.6 340.4,247.6 340.7,247.6 341,247.6 341.3,247.6 341.6,247.6 341.9,247.6 342.2,247.6 342.5,247.6 342.8,247.6 343.1,247.6 343.4,247.6 343.7,247.6 344,247.6 344.3,247.6 344.6,247.6 344.9,247.6 345.2,247.6 345.5,247.6 345.8,247.6 346.1,247.6 346.4,247.6 346.7,247.6 347,247.6 347.3,247.6 347.6,247.6 347.9,247.6 348.2,247.6 348.5,247.6 348.8,247.6 349.1,247.6 349.4,247.6 349.8,247.6 350.1,247.6 350.4,247.6 350.7,247.6 351,247.6 351.3,247.6 351.6,247.6 351.9,247.6 352.2,247.6 352.5,247.6 352.8,247.6 353.1,247.6 353.4,247.6 353.7,247.6 354,247.6 354.3,247.6 354.6,247.6 354.9,247.6 355.2,247.6 355.5,247.6 355.8,247.6 356.1,247.6 356.4,247.6 356.7,247.6 357,247.6 357.3,247.6 357.6,247.6 357.9,247.6 358.2,247.6 358.5,247.6 358.8,247.6 359.1,247.6 359.4,247.4 359.7,247 360,246.4 360.3,245.8 360.6,245.2 360.9,244.7 361.2,244.4 361.5,244.3 361.8,244.7 362.1,245.9 362.4,247.5 362.7,249.3 363,250.8 363.3,251.7 363.6,251.9 363.9,251.5 364.2,250.6 364.5,249.5 364.8,248.3 365.1,247.4 365.4,246.9 365.7,246.9 366,247.2 366.3,247.9 366.6,248.8 366.9,249.8 367.2,250.8 367.5,251.8 367.8,252.5 368.1,253 368.4,253.2 368.7,252.8 369,251.8 369.3,250.3 369.6,248.7 369.9,247.1 370.2,246 370.5,245.4 370.8,245.4 371.1,246.2 371.4,247.4 371.7,249 372,250.4 372.3,251.5 372.6,251.9 372.9,251.7 373.3,250.8 373.6,249.3 373.9,247.7 374.2,246 374.5,244.7 374.8,243.9 375.1,243.8 375.4,244.5 375.7,245.8 376,247.4 376.3,249 376.6,250.2 376.9,250.9 377.2,250.8 377.5,249.9 377.8,248.6 378.1,246.9 378.4,245.4 378.7,244.3 379,243.8 379.3,244 379.6,244.7 379.9,245.9 380.2,247.3 380.5,248.7 380.8,249.9 381.1,250.7 381.4,250.9 381.7,250.5 382,249.5 382.3,248.1 382.6,246.5 382.9,245.2 383.2,244.5 383.5,244.3 383.8,244.9 384.1,246.2 384.4,247.7 384.7,249.3 385,250.6 385.3,251.3 385.6,251.3 385.9,250.6 386.2,249.4 386.5,247.9 386.8,246.3 387.1,245.1 387.4,244.4 387.7,244.4 388,245 388.3,246.2 388.6,247.7 388.9,249.2 389.2,250.5 389.5,251.3 389.8,251.4 390.1,250.8 390.4,249.7 390.7,248.2 391,246.6 391.3,245.3 391.6,244.5 391.9,244.3 392.2,244.8 392.5,246 392.8,247.5 393.1,249 393.4,250.3 393.7,251 394,251 394.3,250.5 394.6,249.4 394.9,248 395.2,246.6 395.5,245.4 395.8,244.7 396.1,244.6 396.5,245.1 396.8,246.2 397.1,247.5 397.4,248.9 397.7,250 398,250.7 398.3,250.9 398.6,250.4 398.9,249.4 399.2,248 399.5,246.6 399.8,245.5 400.1,244.9 400.4,244.9 400.7,245.5 401,246.6 401.3,248 401.6,249.4 401.9,250.4 402.2,250.9 402.5,250.8 402.8,250.1 403.1,249.1 403.4,248 403.7,246.9 404,246.1 404.3,245.8 404.6,246.2 404.9,247.2 405.2,248.8 405.5,250.4 405.8,251.9 406.1,252.9 406.4,253.1 406.7,252.6 407,251.4 407.3,249.8 407.6,247.8 407.9,245.8 408.2,244.1 408.5,242.8 408.8,242.3 409.1,242.3 409.4,242.8 409.7,243.5 410,244.3 410.3,245.1 410.6,245.6 410.9,245.8 411.2,245.7 411.5,245.3 411.8,244.7 412.1,244 412.4,243.3 412.7,242.7 413,242.3 413.3,242.3 413.6,242.5 413.9,243 414.2,243.6 414.5,244.3 414.8,244.9 415.1,245.2 415.4,245.3 415.7,245.1 416,244.9 416.3,244.5 416.6,244.2 416.9,243.9 417.2,243.8 417.5,243.8 417.8,244.1 418.1,244.5 418.4,245.1 418.7,245.8 419,246.5 419.3,247.2 419.7,247.9 420,248.4 420.3,248.7 420.6,248.9 420.9,248.9 421.2,248.8 421.5,248.7 421.8,248.5 422.1,248.3 422.4,248.1 422.7,247.8 423,247.6 423.3,247.4 423.6,247.2 423.9,247 424.2,246.9 424.5,246.8 424.8,246.8 425.1,246.8 425.4,246.8 425.7,246.8 426,246.8 426.3,246.7 426.6,246.7 426.9,246.7 427.2,246.6 427.5,246.6 427.8,246.6 428.1,246.6 428.4,246.5 428.7,246.3 429,246 429.3,245.8 429.6,245.5 429.9,245.3 430.2,245.2 430.5,245 430.8,245 431.1,245 431.4,245.1 431.7,245.1 432,245.3 432.3,245.4 432.6,245.5 432.9,245.7 433.2,245.9 433.5,246.1 433.8,246.3 434.1,246.5 434.4,246.7 434.7,246.9 435,247 435.3,247.1 435.6,247.2 435.9,247.3 436.2,247.3 436.5,247.3 436.8,247.4 437.1,247.4 437.4,247.4 437.7,247.4 438,247.5 438.3,247.5 438.6,247.6 438.9,247.6 439.2,247.7 439.5,247.7 439.8,247.8 440.1,247.8 440.4,247.8 440.7,247.9 441,247.9 441.3,247.9 441.6,247.9 441.9,248 442.2,247.9 442.5,247.9 442.8,247.9 443.2,247.9 443.5,247.8 443.8,247.7 444.1,247.7 444.4,247.6 444.7,247.6 445,247.5 445.3,247.5 445.6,247.5 445.9,247.4 446.2,247.4 446.5,247.4 446.8,247.5 447.1,247.5 447.4,247.5 447.7,247.5 448,247.5 448.3,247.5 448.6,247.6 448.9,247.6 449.2,247.6 449.5,247.6 449.8,247.7 450.1,247.7 450.4,247.7 450.7,247.7 451,247.8 451.3,247.8 451.6,247.8 451.9,247.8 452.2,247.8 452.5,247.8 452.8,247.8 453.1,247.9 453.4,247.9 453.7,247.8 454,247.8 454.3,247.8 454.6,247.8 454.9,247.8 455.2,247.8 455.5,247.8 455.8,247.7 456.1,247.7 456.4,247.7 456.7,247.7 457,247.6 457.3,247.6 457.6,247.6 457.9,247.6 458.2,247.5 458.5,247.5 458.8,247.5 459.1,247.5 459.4,247.5 459.7,247.5 460,247.4 460.3,247.4 460.6,247.4 460.9,247.5 461.2,247.5 461.5,247.5 461.8,247.5 462.1,247.5 462.4,247.5 462.7,247.5 463,247.6 463.3,247.6 463.6,247.6 463.9,247.7 464.2,247.7 464.5,247.7 464.8,247.7 465.1,247.8 465.4,247.8 465.7,247.8 466,247.8 466.4,247.9 466.7,247.9 467,247.9 467.3,247.9 467.6,247.9 467.9,247.9 468.2,248 468.5,248 468.8,248 469.1,248 469.4,247.9 469.7,247.9 470,247.9 470.3,247.9 470.6,247.9 470.9,247.9 471.2,247.9 471.5,247.9 471.8,247.9 472.1,247.8 472.4,247.8 472.7,247.8 473,247.8 473.3,247.8 473.6,247.8 473.9,247.7 474.2,247.7 474.5,247.7 474.8,247.7 475.1,247.7 475.4,247.6 475.7,247.6 476,247.6 476.3,247.6 476.6,247.6 476.9,247.6 477.2,247.6 477.5,247.6 477.8,247.6 478.1,247.5 478.4,247.5 478.7,247.5 479,247.5 479.3,247.5 479.6,247.6 479.9,247.6 480.2,247.6 480.5,247.6 480.8,247.6 481.1,247.6 481.4,247.6 481.7,247.6 482,247.6 482.3,247.6 482.6,247.6 482.9,247.7 483.2,247.7 483.5,247.7 483.8,247.7 484.1,247.7 484.4,247.7 484.7,247.7 485,247.8 485.3,247.8 485.6,247.8 485.9,247.8 486.2,247.8 486.5,247.8 486.8,247.8 487.1,247.8 487.4,247.8 487.7,247.8 488,247.8 488.3,247.8 488.6,247.9 488.9,247.9 489.2,247.9 489.6,247.8 489.9,247.8 490.2,247.8 490.5,247.8 490.8,247.8 491.1,247.8 491.4,247.8 491.7,247.8 492,247.8 492.3,247.8 492.6,247.8 492.9,247.8 493.2,247.7 493.5,247.7 493.8,247.7 494.1,247.7 494.4,247.7 494.7,247.7 495,247.7 495.3,247.6 495.6,247.6 495.9,247.6 496.2,247.6 496.5,247.6 496.8,247.6 497.1,247.6 497.4,247.6 497.7,247.6 498,247.6 498.3,247.6 498.6,247.5 498.9,247.5 499.2,247.5 499.5,247.5 499.8,247.5 500.1,247.6 500.4,247.6 500.7,247.6 501,247.6 501.3,247.6 501.6,247.6 501.9,247.6 502.2,247.6 502.5,247.6 502.8,247.6 503.1,247.6 503.4,247.6 503.7,247.6 504,247.6 504.3,247.7 504.6,247.7 504.9,247.7 505.2,247.7 505.5,247.7 505.8,247.7 506.1,247.7 506.4,247.7 506.7,247.7 507,247.7 507.3,247.7 507.6,247.7 507.9,247.7 508.2,247.7 508.5,247.7 508.8,247.7 509.1,247.8 509.4,247.8 509.7,247.7 510,247.7 510.3,247.7 510.6,247.7 510.9,247.7 511.2,247.7 511.5,247.7 511.8,247.7 512.1,247.7 512.4,247.7 512.7,247.7 513.1,247.7 513.4,247.7 513.7,247.7 514,247.7 514.3,247.7 514.6,247.7 514.9,247.7 515.2,247.7 515.5,247.7 515.8,247.7 516.1,247.7 516.4,247.7 516.7,247.7 517,247.6 517.3,247.6 517.6,247.6 517.9,247.6 518.2,247.6 518.5,247.6 518.8,247.6 519.1,247.6 519.4,247.6 519.7,247.6 520,247.6 520.3,247.6 520.6,247.6 520.9,247.6 521.2,247.6 521.5,247.6 521.8,247.6 522.1,247.6 522.4,247.6 522.7,247.6 523,247.6 523.3,247.5 523.6,247.5 523.9,247.5 524.2,247.5 524.5,247.5"/>
</g>
<path fill="none" stroke="#222" stroke-width="0.9" d="M358.7 253.3v-2.2M400.2 253.3v-2.2M441.6 253.3v-2.2M483.1 253.3v-2.2M524.5 253.3v-2.2M338 249.1h2.2M338 205.3h2.2M338 161.5h2.2"/>
<path fill="none" stroke="#6e6e6e" stroke-width="1.4" d="M338 159.3V253.8"/>
<path fill="none" stroke="#6e6e6e" stroke-width="1.1" d="M337.5 253.3H525"/>
<text transform="translate(333 253.3) scale(1 1.08)" text-anchor="end">-2</text>
<text transform="translate(333 209.5) scale(1 1.08)" text-anchor="end">0</text>
<text transform="translate(333 165.7) scale(1 1.08)" text-anchor="end">2</text>
<text transform="translate(358.7 269.9) scale(1 1.08)" text-anchor="middle">0.1</text>
<text transform="translate(400.2 269.9) scale(1 1.08)" text-anchor="middle">0.2</text>
<text transform="translate(441.6 269.9) scale(1 1.08)" text-anchor="middle">0.3</text>
<text transform="translate(483.1 269.9) scale(1 1.08)" text-anchor="middle">0.4</text>
<text transform="translate(524.5 269.9) scale(1 1.08)" text-anchor="middle">0.5</text>
<text transform="translate(431.2 155.9) scale(1 1.08)" text-anchor="middle" font-size="12">(c)</text>
<g fill="none" stroke-width="0.7">
<path stroke="#cdcdd3" stroke-dasharray="1.2 1.2" d="M569.6 159.3V253.3M577.9 159.3V253.3M594.4 159.3V253.3M602.7 159.3V253.3M611 159.3V253.3M619.2 159.3V253.3M635.8 159.3V253.3M644 159.3V253.3M652.3 159.3V253.3M660.6 159.3V253.3M677.1 159.3V253.3M685.4 159.3V253.3M693.6 159.3V253.3M701.9 159.3V253.3M718.4 159.3V253.3M726.7 159.3V253.3M735 159.3V253.3M743.2 159.3V253.3M565.5 239.5H751.5M565.5 228.1H751.5M565.5 216.7H751.5M565.5 193.9H751.5M565.5 182.5H751.5M565.5 171.1H751.5"/>
<path stroke="#e4e4e4" stroke-width="0.9" d="M586.2 159.3V253.3M627.5 159.3V253.3M668.8 159.3V253.3M710.2 159.3V253.3M751.5 159.3V253.3M565.5 250.9H751.5M565.5 205.3H751.5M565.5 159.7H751.5"/>
</g>
<clipPath id="cd"><rect x="565.5" y="158.8" width="186.6" height="95.2"/></clipPath>
<g clip-path="url(#cd)" stroke-linejoin="round">
<polyline fill="none" stroke="#0000ff" stroke-width="1.2"  points="565.5,162.1 565.8,162.1 566.1,162.1 566.4,162.1 566.7,162.1 567,162.1 567.3,162.1 567.6,162.1 567.9,162.1 568.2,162.1 568.5,162.1 568.8,162.1 569.1,162.1 569.4,162.1 569.7,162.1 570,162.1 570.3,162.1 570.6,162.1 570.9,162.1 571.2,162.1 571.5,162.1 571.8,162.1 572.1,162.1 572.4,162.1 572.7,162.1 573,162.1 573.3,162.1 573.6,162.1 573.9,162.1 574.2,162.1 574.5,162.1 574.8,162.1 575.1,162.1 575.4,162.1 575.7,162.1 576,162.1 576.3,162.1 576.6,162.1 576.9,162.1 577.2,162.1 577.5,162.1 577.8,162.1 578.1,162.1 578.4,162.1 578.7,162.1 579,162.1 579.3,162.1 579.6,162.1 579.9,162.1 580.2,162.1 580.5,162.1 580.8,162.1 581.1,162.1 581.4,162.1 581.7,162.1 582,162.1 582.3,162.1 582.6,162.1 582.9,162.1 583.2,162.1 583.5,162.1 583.8,162.1 584.1,162.1 584.4,162.1 584.7,162.1 585,162.1 585.3,162.1 585.6,162.1 585.9,162.1 586.2,162.1 586.5,162.1 586.8,162.1 587.1,162 587.4,161.8 587.7,161.6 588,161.3 588.3,161 588.6,160.7 588.9,160.4 589.2,160.2 589.5,160.1 589.8,160.1 590.1,160.6 590.4,161.3 590.7,162.2 591,163 591.3,163.6 591.6,163.7 591.9,163.6 592.2,163.5 592.5,163.3 592.8,163.2 593.1,163 593.4,162.8 593.7,162.6 594,162.4 594.3,162.4 594.6,162.3 594.9,162.4 595.2,162.4 595.5,162.5 595.8,162.7 596.1,162.9 596.4,163.1 596.8,163.3 597.1,163.5 597.4,163.7 597.7,163.9 598,164 598.3,164.2 598.6,164.3 598.9,164.4 599.2,164.4 599.5,164.4 599.8,164.3 600.1,164.2 600.4,164 600.7,163.8 601,163.6 601.3,163.3 601.6,163.1 601.9,162.8 602.2,162.6 602.5,162.4 602.8,162.2 603.1,162.1 603.4,162 603.7,161.9 604,161.9 604.3,162 604.6,162.1 604.9,162.3 605.2,162.5 605.5,162.6 605.8,162.8 606.1,163 606.4,163.1 606.7,163.1 607,163.1 607.3,163 607.6,162.9 607.9,162.6 608.2,162.3 608.5,162.1 608.8,161.8 609.1,161.7 609.4,161.6 609.7,161.7 610,161.9 610.3,162.2 610.6,162.5 610.9,162.9 611.2,163.3 611.5,163.5 611.8,163.6 612.1,163.7 612.4,163.6 612.7,163.5 613,163.4 613.3,163.2 613.6,163.1 613.9,162.9 614.2,162.7 614.5,162.5 614.8,162.3 615.1,162.1 615.4,162 615.7,162 616,161.9 616.3,162 616.6,162.1 616.9,162.3 617.2,162.6 617.5,162.8 617.8,163.1 618.1,163.2 618.4,163.3 618.7,163.4 619,163.3 619.3,163.1 619.6,162.9 619.9,162.7 620.2,162.5 620.5,162.2 620.8,162 621.1,161.8 621.4,161.7 621.7,161.7 622,161.8 622.3,161.9 622.6,162.1 622.9,162.3 623.2,162.5 623.5,162.7 623.8,162.9 624.1,163 624.4,163.1 624.7,163.2 625,163.1 625.3,162.9 625.6,162.7 625.9,162.4 626.2,162.2 626.5,161.9 626.8,161.7 627.1,161.6 627.4,161.6 627.7,161.6 628,161.6 628.3,161.5 628.6,161.5 628.9,161.4 629.2,161.4 629.5,161.4 629.8,161.3 630.1,161.3 630.4,161.3 630.7,161.4 631,161.6 631.3,161.9 631.6,162.3 631.9,162.6 632.2,163 632.5,163.3 632.8,163.5 633.1,163.6 633.4,163.7 633.7,163.8 634,163.9 634.3,164.2 634.6,164.5 634.9,164.7 635.2,164.9 635.5,165 635.8,164.8 636.1,163.9 636.4,162.5 636.7,161.1 637,159.9 637.3,159.3 637.6,159.3 637.9,159.5 638.2,159.9 638.5,160.4 638.8,161 639.1,161.6 639.4,162.1 639.7,162.6 640,163 640.3,163.1 640.6,163.1 640.9,163 641.2,162.8 641.5,162.6 641.8,162.2 642.1,161.8 642.4,161.3 642.7,160.9 643,160.5 643.3,160.1 643.6,159.8 643.9,159.5 644.2,159.3 644.5,159.3 644.8,159.3 645.1,159.6 645.4,159.9 645.7,160.4 646,160.9 646.3,161.5 646.6,162 646.9,162.6 647.2,163 647.5,163.4 647.8,163.6 648.1,163.7 648.4,163.6 648.7,163.4 649,163.2 649.3,162.9 649.6,162.5 649.9,162.1 650.2,161.7 650.5,161.3 650.8,161 651.1,160.8 651.4,160.6 651.7,160.6 652,160.7 652.3,160.9 652.6,161.3 652.9,161.7 653.2,162.2 653.5,162.6 653.8,163.1 654.1,163.4 654.4,163.6 654.7,163.7 655,163.6 655.3,163.5 655.6,163.3 655.9,163.1 656.2,162.8 656.5,162.5 656.8,162.2 657.1,161.9 657.4,161.6 657.7,161.5 658,161.4 658.3,161.3 658.7,161.4 659,161.5 659.3,161.6 659.6,161.8 659.9,162 660.2,162.2 660.5,162.4 660.8,162.5 661.1,162.6 661.4,162.6 661.7,162.6 662,162.5 662.3,162.3 662.6,162.1 662.9,161.8 663.2,161.6 663.5,161.3 663.8,161.1 664.1,161 664.4,160.9 664.7,160.9 665,161 665.3,161.2 665.6,161.4 665.9,161.7 666.2,162 666.5,162.2 666.8,162.4 667.1,162.6 667.4,162.6 667.7,162.6 668,162.6 668.3,162.5 668.6,162.4 668.9,162.3 669.2,162.2 669.5,162 669.8,161.9 670.1,161.8 670.4,161.7 670.7,161.7 671,161.6 671.3,161.6 671.6,161.7 671.9,161.7 672.2,161.8 672.5,161.8 672.8,161.9 673.1,162 673.4,162.1 673.7,162.1 674,162.2 674.3,162.3 674.6,162.3 674.9,162.3 675.2,162.3 675.5,162.3 675.8,162.3 676.1,162.3 676.4,162.3 676.7,162.3 677,162.2 677.3,162.2 677.6,162.1 677.9,162.1 678.2,162.1 678.5,162 678.8,162 679.1,162 679.4,162 679.7,161.9 680,161.9 680.3,161.9 680.6,161.9 680.9,161.9 681.2,162 681.5,162 681.8,162 682.1,162 682.4,162 682.7,162.1 683,162.1 683.3,162.1 683.6,162.2 683.9,162.2 684.2,162.2 684.5,162.2 684.8,162.2 685.1,162.2 685.4,162.2 685.7,162.2 686,162.2 686.3,162.2 686.6,162.2 686.9,162.2 687.2,162.2 687.5,162.2 687.8,162.2 688.1,162.2 688.4,162.2 688.7,162.2 689,162.2 689.3,162.2 689.6,162.2 689.9,162.2 690.2,162.2 690.5,162.2 690.8,162.2 691.1,162.2 691.4,162.2 691.7,162.2 692,162.2 692.3,162.2 692.6,162.2 692.9,162.2 693.2,162.2 693.5,162.2 693.8,162.2 694.1,162.2 694.4,162.2 694.7,162.2 695,162.2 695.3,162.2 695.6,162.2 695.9,162.2 696.2,162.2 696.5,162.2 696.8,162.2 697.1,162.2 697.4,162.2 697.7,162.2 698,162.2 698.3,162.2 698.6,162.2 698.9,162.2 699.2,162.2 699.5,162.2 699.8,162.2 700.1,162.2 700.4,162.2 700.7,162.2 701,162.2 701.3,162.2 701.6,162.2 701.9,162.2 702.2,162.2 702.5,162.2 702.8,162.2 703.1,162.2 703.4,162.2 703.7,162.2 704,162.2 704.3,162.2 704.6,162.2 704.9,162.2 705.2,162.2 705.5,162.2 705.8,162.2 706.1,162.2 706.4,162.2 706.7,162.2 707,162.2 707.3,162.2 707.6,162.2 707.9,162.2 708.2,162.2 708.5,162.2 708.8,162.2 709.1,162.2 709.4,162.2 709.7,162.2 710,162.2 710.3,162.2 710.6,162.2 710.9,162.2 711.2,162.2 711.5,162.2 711.8,162.2 712.1,162.2 712.4,162.2 712.7,162.2 713,162.2 713.3,162.2 713.6,162.2 713.9,162.2 714.2,162.2 714.5,162.2 714.8,162.2 715.1,162.2 715.4,162.2 715.7,162.2 716,162.2 716.3,162.2 716.6,162.2 716.9,162.2 717.2,162.2 717.5,162.2 717.8,162.2 718.1,162.2 718.4,162.2 718.7,162.2 719,162.2 719.3,162.2 719.6,162.2 719.9,162.2 720.2,162.2 720.6,162.2 720.9,162.2 721.2,162.2 721.5,162.2 721.8,162.2 722.1,162.2 722.4,162.2 722.7,162.2 723,162.2 723.3,162.2 723.6,162.2 723.9,162.2 724.2,162.2 724.5,162.2 724.8,162.2 725.1,162.2 725.4,162.2 725.7,162.2 726,162.2 726.3,162.2 726.6,162.2 726.9,162.2 727.2,162.2 727.5,162.2 727.8,162.2 728.1,162.2 728.4,162.2 728.7,162.2 729,162.2 729.3,162.2 729.6,162.2 729.9,162.2 730.2,162.2 730.5,162.2 730.8,162.2 731.1,162.2 731.4,162.2 731.7,162.2 732,162.2 732.3,162.2 732.6,162.2 732.9,162.2 733.2,162.2 733.5,162.2 733.8,162.2 734.1,162.2 734.4,162.2 734.7,162.2 735,162.2 735.3,162.2 735.6,162.1 735.9,162.1 736.2,162.1 736.5,162.1 736.8,162.1 737.1,162.1 737.4,162.1 737.7,162.1 738,162.1 738.3,162.1 738.6,162.1 738.9,162.1 739.2,162.1 739.5,162.1 739.8,162.1 740.1,162.1 740.4,162.1 740.7,162.1 741,162.1 741.3,162.1 741.6,162.1 741.9,162.1 742.2,162.1 742.5,162.1 742.8,162.1 743.1,162.1 743.4,162.1 743.7,162.1 744,162.1 744.3,162.1 744.6,162.1 744.9,162.1 745.2,162.1 745.5,162.1 745.8,162.1 746.1,162.1 746.4,162.1 746.7,162.1 747,162.1 747.3,162.1 747.6,162.1 747.9,162.1 748.2,162.1 748.5,162.1 748.8,162.1 749.1,162.1 749.4,162.1 749.7,162.1 750,162.1 750.3,162.1 750.6,162.1 750.9,162.1 751.2,162.1 751.5,162.1"/>
<polyline fill="none" stroke="#ff00ff" stroke-width="1.3" stroke-dasharray="4.5 3.5"  points="565.5,162.1 565.8,162.2 566.1,162.3 566.4,162.4 566.7,162.4 567,162.3 567.3,162.2 567.6,162.1 567.9,162 568.2,161.9 568.5,161.9 568.8,161.9 569.1,162 569.4,162.1 569.7,162.2 570,162.3 570.3,162.3 570.6,162.4 570.9,162.4 571.2,162.3 571.5,162.2 571.8,162.1 572.1,162 572.4,161.9 572.7,161.9 573,161.9 573.3,162 573.6,162.1 573.9,162.2 574.2,162.3 574.5,162.4 574.8,162.4 575.1,162.4 575.4,162.3 575.7,162.2 576,162.1 576.3,162 576.6,161.9 576.9,161.9 577.2,161.9 577.5,162 577.8,162.1 578.1,162.2 578.4,162.3 578.7,162.4 579,162.4 579.3,162.3 579.6,162.3 579.9,162.2 580.2,162 580.5,161.9 580.8,161.9 581.1,161.9 581.4,161.9 581.7,162 582,162.1 582.3,162.2 582.6,162.3 582.9,162.4 583.2,162.4 583.5,162.3 583.8,162.2 584.1,162.1 584.4,162 584.7,161.9 585,161.9 585.3,161.9 585.6,162 585.9,162 586.2,162.2 586.5,162.3 586.8,162.3 587.1,162.3 587.4,162.1 587.7,161.7 588,161.3 588.3,160.9 588.6,160.5 588.9,160.2 589.2,160 589.5,159.9 589.8,160 590.1,160.5 590.4,161.4 590.7,162.4 591,163.3 591.3,163.8 591.6,163.9 591.9,163.8 592.2,163.5 592.5,163.3 592.8,163 593.1,162.7 593.4,162.5 593.7,162.4 594,162.3 594.3,162.3 594.6,162.4 594.9,162.5 595.2,162.7 595.5,162.8 595.8,162.9 596.1,163 596.4,163.1 596.8,163.2 597.1,163.3 597.4,163.4 597.7,163.6 598,163.8 598.3,164.1 598.6,164.3 598.9,164.5 599.2,164.6 599.5,164.6 599.8,164.5 600.1,164.4 600.4,164.1 600.7,163.8 601,163.5 601.3,163.1 601.6,162.8 601.9,162.6 602.2,162.4 602.5,162.3 602.8,162.2 603.1,162.2 603.4,162.2 603.7,162.2 604,162.2 604.3,162.2 604.6,162.2 604.9,162.2 605.2,162.3 605.5,162.4 605.8,162.6 606.1,162.7 606.4,162.9 606.7,163.1 607,163.2 607.3,163.2 607.6,163.1 607.9,162.9 608.2,162.6 608.5,162.2 608.8,161.9 609.1,161.6 609.4,161.5 609.7,161.5 610,161.6 610.3,162 610.6,162.4 610.9,162.9 611.2,163.3 611.5,163.7 611.8,163.9 612.1,163.9 612.4,163.8 612.7,163.7 613,163.4 613.3,163.1 613.6,162.9 613.9,162.6 614.2,162.4 614.5,162.3 614.8,162.2 615.1,162.1 615.4,162.1 615.7,162.2 616,162.2 616.3,162.2 616.6,162.3 616.9,162.4 617.2,162.6 617.5,162.7 617.8,162.9 618.1,163 618.4,163.1 618.7,163.2 619,163.2 619.3,163.2 619.6,163.1 619.9,162.9 620.2,162.7 620.5,162.5 620.8,162.2 621.1,161.9 621.4,161.7 621.7,161.6 622,161.6 622.3,161.6 622.6,161.8 622.9,162.1 623.2,162.4 623.5,162.7 623.8,163 624.1,163.3 624.4,163.4 624.7,163.4 625,163.2 625.3,163 625.6,162.6 625.9,162.3 626.2,161.9 626.5,161.7 626.8,161.5 627.1,161.5 627.4,161.6 627.7,161.7 628,161.8 628.3,161.8 628.6,161.7 628.9,161.7 629.2,161.5 629.5,161.4 629.8,161.2 630.1,161.1 630.4,161.1 630.7,161.2 631,161.4 631.3,161.8 631.6,162.2 631.9,162.7 632.2,163.2 632.5,163.5 632.8,163.7 633.1,163.8 633.4,163.8 633.7,163.7 634,163.8 634.3,164 634.6,164.2 634.9,164.5 635.2,164.7 635.5,164.9 635.8,164.8 636.1,164 636.4,162.7 636.7,161.3 637,160.2 637.3,159.5 637.6,159.4 637.9,159.5 638.2,159.8 638.5,160.2 638.8,160.7 639.1,161.3 639.4,162 639.7,162.5 640,163 640.3,163.3 640.6,163.4 640.9,163.3 641.2,163.1 641.5,162.7 641.8,162.3 642.1,161.7 642.4,161.2 642.7,160.7 643,160.2 643.3,159.9 643.6,159.6 643.9,159.5 644.2,159.4 644.5,159.5 644.8,159.6 645.1,159.8 645.4,160.1 645.7,160.5 646,160.9 646.3,161.4 646.6,161.9 646.9,162.3 647.2,162.8 647.5,163.2 647.8,163.5 648.1,163.7 648.4,163.7 648.7,163.6 649,163.4 649.3,163.1 649.6,162.7 649.9,162.2 650.2,161.7 650.5,161.2 650.8,160.8 651.1,160.5 651.4,160.4 651.7,160.4 652,160.6 652.3,161 652.6,161.4 652.9,161.9 653.2,162.4 653.5,162.9 653.8,163.2 654.1,163.5 654.4,163.6 654.7,163.5 655,163.4 655.3,163.3 655.6,163.1 655.9,162.9 656.2,162.7 656.5,162.5 656.8,162.3 657.1,162.1 657.4,161.9 657.7,161.7 658,161.5 658.3,161.4 658.7,161.3 659,161.3 659.3,161.4 659.6,161.5 659.9,161.8 660.2,162 660.5,162.3 660.8,162.6 661.1,162.8 661.4,162.9 661.7,162.9 662,162.7 662.3,162.4 662.6,162.1 662.9,161.7 663.2,161.4 663.5,161.1 663.8,160.9 664.1,160.8 664.4,160.8 664.7,160.9 665,161.1 665.3,161.4 665.6,161.7 665.9,161.9 666.2,162.2 666.5,162.3 666.8,162.4 667.1,162.5 667.4,162.4 667.7,162.4 668,162.4 668.3,162.3 668.6,162.3 668.9,162.3 669.2,162.3 669.5,162.3 669.8,162.2 670.1,162 670.4,161.9 670.7,161.7 671,161.6 671.3,161.5 671.6,161.4 671.9,161.4 672.2,161.5 672.5,161.6 672.8,161.8 673.1,162 673.4,162.2 673.7,162.4 674,162.5 674.3,162.5 674.6,162.5 674.9,162.4 675.2,162.3 675.5,162.2 675.8,162.1 676.1,162.1 676.4,162.1 676.7,162.1 677,162.2 677.3,162.3 677.6,162.3 677.9,162.3 678.2,162.3 678.5,162.3 678.8,162.1 679.1,162 679.4,161.9 679.7,161.8 680,161.7 680.3,161.7 680.6,161.7 680.9,161.8 681.2,161.9 681.5,162.1 681.8,162.2 682.1,162.3 682.4,162.3 682.7,162.3 683,162.2 683.3,162.1 683.6,162.1 683.9,162 684.2,162 684.5,162 684.8,162 685.1,162.1 685.4,162.2 685.7,162.4 686,162.4 686.3,162.5 686.6,162.5 686.9,162.4 687.2,162.3 687.5,162.2 687.8,162.1 688.1,162 688.4,162 688.7,162 689,162.1 689.3,162.2 689.6,162.3 689.9,162.4 690.2,162.5 690.5,162.5 690.8,162.5 691.1,162.4 691.4,162.3 691.7,162.2 692,162.1 692.3,162 692.6,162 692.9,162 693.2,162.1 693.5,162.2 693.8,162.3 694.1,162.4 694.4,162.5 694.7,162.5 695,162.4 695.3,162.4 695.6,162.3 695.9,162.2 696.2,162.1 696.5,162 696.8,162 697.1,162 697.4,162.1 697.7,162.2 698,162.3 698.3,162.4 698.6,162.5 698.9,162.5 699.2,162.4 699.5,162.3 699.8,162.2 700.1,162.1 700.4,162 700.7,162 701,162 701.3,162 701.6,162.1 701.9,162.2 702.2,162.3 702.5,162.4 702.8,162.5 703.1,162.5 703.4,162.4 703.7,162.3 704,162.2 704.3,162.1 704.6,162 704.9,162 705.2,162 705.5,162 705.8,162.1 706.1,162.3 706.4,162.4 706.7,162.4 707,162.5 707.3,162.4 707.6,162.4 707.9,162.3 708.2,162.2 708.5,162.1 708.8,162 709.1,162 709.4,162 709.7,162.1 710,162.2 710.3,162.3 710.6,162.4 710.9,162.4 711.2,162.5 711.5,162.4 711.8,162.3 712.1,162.2 712.4,162.1 712.7,162 713,162 713.3,162 713.6,162 713.9,162.1 714.2,162.2 714.5,162.3 714.8,162.4 715.1,162.4 715.4,162.4 715.7,162.4 716,162.3 716.3,162.2 716.6,162.1 716.9,162 717.2,161.9 717.5,161.9 717.8,162 718.1,162.1 718.4,162.2 718.7,162.3 719,162.4 719.3,162.4 719.6,162.4 719.9,162.4 720.2,162.3 720.6,162.2 720.9,162.1 721.2,162 721.5,161.9 721.8,161.9 722.1,162 722.4,162.1 722.7,162.2 723,162.3 723.3,162.4 723.6,162.4 723.9,162.4 724.2,162.3 724.5,162.2 724.8,162.1 725.1,162 725.4,161.9 725.7,161.9 726,161.9 726.3,162 726.6,162.1 726.9,162.2 727.2,162.3 727.5,162.4 727.8,162.4 728.1,162.4 728.4,162.3 728.7,162.2 729,162.1 729.3,162 729.6,161.9 729.9,161.9 730.2,161.9 730.5,162 730.8,162.1 731.1,162.2 731.4,162.3 731.7,162.4 732,162.4 732.3,162.4 732.6,162.3 732.9,162.2 733.2,162.1 733.5,162 733.8,161.9 734.1,161.9 734.4,162 734.7,162 735,162.2 735.3,162.3 735.6,162.3 735.9,162.4 736.2,162.4 736.5,162.3 736.8,162.2 737.1,162.1 737.4,162 737.7,161.9 738,161.9 738.3,161.9 738.6,162 738.9,162.1 739.2,162.2 739.5,162.3 739.8,162.4 740.1,162.4 740.4,162.4 740.7,162.3 741,162.2 741.3,162.1 741.6,162 741.9,161.9 742.2,161.9 742.5,161.9 742.8,162 743.1,162.1 743.4,162.2 743.7,162.3 744,162.4 744.3,162.4 744.6,162.4 744.9,162.3 745.2,162.2 745.5,162.1 745.8,162 746.1,161.9 746.4,161.9 746.7,161.9 747,162 747.3,162.1 747.6,162.2 747.9,162.3 748.2,162.4 748.5,162.4 748.8,162.3 749.1,162.3 749.4,162.1 749.7,162 750,161.9 750.3,161.9 750.6,161.9 750.9,161.9 751.2,162 751.5,162.1"/>
<polyline fill="none" stroke="#ee0000" stroke-width="1.05"  points="565.5,223.1 565.8,223.1 566.1,223.1 566.4,223.1 566.7,223.1 567,223.1 567.3,223.1 567.6,223.1 567.9,223.1 568.2,223.1 568.5,223.1 568.8,223.1 569.1,223.1 569.4,223.1 569.7,223.1 570,223.1 570.3,223.1 570.6,223.1 570.9,223.1 571.2,223.1 571.5,223.1 571.8,223.1 572.1,223.1 572.4,223.1 572.7,223.1 573,223.1 573.3,223.1 573.6,223.1 573.9,223.1 574.2,223.1 574.5,223.1 574.8,223.1 575.1,223.1 575.4,223.1 575.7,223.1 576,223.1 576.3,223.1 576.6,223.1 576.9,223.1 577.2,223.1 577.5,223.1 577.8,223.1 578.1,223.1 578.4,223.1 578.7,223.1 579,223.1 579.3,223.1 579.6,223.1 579.9,223.1 580.2,223.1 580.5,223.1 580.8,223.1 581.1,223.1 581.4,223.1 581.7,223.1 582,223.1 582.3,223.1 582.6,223.1 582.9,223.1 583.2,223.1 583.5,223.1 583.8,223.1 584.1,223.1 584.4,223.1 584.7,223.1 585,223.1 585.3,223.1 585.6,223.1 585.9,223.1 586.2,223.2 586.5,223.7 586.8,224.4 587.1,225.3 587.4,226.2 587.7,227 588,227.6 588.3,227.9 588.6,227.9 588.9,227.3 589.2,226.3 589.5,225 589.8,223.8 590.1,222.8 590.4,222.4 590.7,222.3 591,221.9 591.3,221.3 591.6,220.6 591.9,220 592.2,219.5 592.5,219.3 592.8,219.4 593.1,219.6 593.4,219.9 593.7,220.3 594,220.6 594.3,220.8 594.6,220.8 594.9,220.7 595.2,220.4 595.5,219.9 595.8,219.4 596.1,218.8 596.4,218.1 596.8,217.6 597.1,217.1 597.4,216.9 597.7,216.8 598,216.9 598.3,217.2 598.6,217.6 598.9,218.1 599.2,218.7 599.5,219.2 599.8,219.6 600.1,219.8 600.4,219.8 600.7,220 601,220.3 601.3,220.6 601.6,221 601.9,221.2 602.2,221.3 602.5,221.3 602.8,221.2 603.1,221 603.4,220.8 603.7,220.5 604,220.4 604.3,220.3 604.6,220.4 604.9,220.6 605.2,221 605.5,221.5 605.8,221.9 606.1,222.3 606.4,222.7 606.7,222.9 607,222.9 607.3,222.7 607.6,222.4 607.9,222.1 608.2,221.8 608.5,221.5 608.8,221.4 609.1,221.4 609.4,221.5 609.7,221.7 610,221.9 610.3,222.1 610.6,222.3 610.9,222.4 611.2,222.3 611.5,222.1 611.8,221.8 612.1,221.4 612.4,221.1 612.7,220.9 613,220.8 613.3,221 613.6,221.3 613.9,221.7 614.2,222.2 614.5,222.6 614.8,222.8 615.1,222.9 615.4,222.7 615.7,222.2 616,221.7 616.3,221.1 616.6,220.6 616.9,220.4 617.2,220.4 617.5,220.5 617.8,220.8 618.1,221.1 618.4,221.5 618.7,221.7 619,221.9 619.3,221.8 619.6,221.8 619.9,221.7 620.2,221.6 620.5,221.5 620.8,221.4 621.1,221.3 621.4,221.4 621.7,221.6 622,222 622.3,222.3 622.6,222.6 622.9,222.8 623.2,222.9 623.5,222.8 623.8,222.5 624.1,222.2 624.4,221.8 624.7,221.6 625,221.4 625.3,221.4 625.6,221.5 625.9,221.7 626.2,222 626.5,222.4 626.8,222.8 627.1,223.1 627.4,223.3 627.7,223.4 628,223.3 628.3,222.9 628.6,222.4 628.9,221.8 629.2,221.3 629.5,220.9 629.8,220.8 630.1,220.8 630.4,220.7 630.7,220.6 631,220.5 631.3,220.4 631.6,220.3 631.9,220.3 632.2,219.5 632.5,218 632.8,216.2 633.1,214.7 633.4,213.8 633.7,213.9 634,214.9 634.3,216.7 634.6,218.9 634.9,221 635.2,222.6 635.5,223.4 635.8,223.5 636.1,224.1 636.4,224.9 636.7,225.8 637,226.6 637.3,226.9 637.6,226.9 637.9,226.7 638.2,226.3 638.5,225.8 638.8,225.4 639.1,225 639.4,224.9 639.7,225.1 640,225.6 640.3,226.3 640.6,227.1 640.9,227.8 641.2,228.3 641.5,228.5 641.8,228.7 642.1,229.2 642.4,229.8 642.7,230.5 643,231.1 643.3,231.5 643.6,231.5 643.9,231.3 644.2,230.7 644.5,230.1 644.8,229.4 645.1,228.8 645.4,228.5 645.7,228.4 646,228.1 646.3,227.5 646.6,226.9 646.9,226.2 647.2,225.7 647.5,225.4 647.8,225.5 648.1,225.6 648.4,225.8 648.7,226 649,226.2 649.3,226.4 649.6,226.4 649.9,226.4 650.2,226.1 650.5,225.6 650.8,225.1 651.1,224.5 651.4,223.9 651.7,223.3 652,222.8 652.3,222.5 652.6,222.4 652.9,222.4 653.2,222.5 653.5,222.7 653.8,223 654.1,223.3 654.4,223.6 654.7,223.9 655,224.1 655.3,224.3 655.6,224.4 655.9,224.4 656.2,224.4 656.5,224.3 656.8,224.3 657.1,224.2 657.4,224.1 657.7,224 658,224 658.3,223.9 658.7,223.9 659,223.9 659.3,224 659.6,224.2 659.9,224.4 660.2,224.7 660.5,225 660.8,225.3 661.1,225.6 661.4,225.8 661.7,225.9 662,225.9 662.3,225.9 662.6,225.8 662.9,225.6 663.2,225.4 663.5,225.1 663.8,224.9 664.1,224.7 664.4,224.5 664.7,224.4 665,224.4 665.3,224.4 665.6,224.4 665.9,224.4 666.2,224.4 666.5,224.4 666.8,224.3 667.1,224.3 667.4,224.3 667.7,224.3 668,224.2 668.3,224.2 668.6,224.2 668.9,224.2 669.2,224.1 669.5,224.1 669.8,224.1 670.1,224 670.4,224 670.7,224 671,224 671.3,224 671.6,223.9 671.9,223.9 672.2,223.9 672.5,223.9 672.8,223.9 673.1,223.9 673.4,223.9 673.7,223.9 674,223.9 674.3,223.9 674.6,223.9 674.9,223.9 675.2,223.9 675.5,223.8 675.8,223.8 676.1,223.8 676.4,223.8 676.7,223.8 677,223.8 677.3,223.8 677.6,223.7 677.9,223.7 678.2,223.7 678.5,223.7 678.8,223.7 679.1,223.6 679.4,223.6 679.7,223.6 680,223.6 680.3,223.6 680.6,223.6 680.9,223.5 681.2,223.5 681.5,223.5 681.8,223.5 682.1,223.5 682.4,223.5 682.7,223.4 683,223.4 683.3,223.4 683.6,223.4 683.9,223.4 684.2,223.4 684.5,223.4 684.8,223.4 685.1,223.4 685.4,223.4 685.7,223.4 686,223.4 686.3,223.4 686.6,223.4 686.9,223.4 687.2,223.4 687.5,223.4 687.8,223.4 688.1,223.4 688.4,223.4 688.7,223.4 689,223.4 689.3,223.4 689.6,223.4 689.9,223.4 690.2,223.3 690.5,223.3 690.8,223.3 691.1,223.3 691.4,223.3 691.7,223.3 692,223.3 692.3,223.3 692.6,223.3 692.9,223.3 693.2,223.3 693.5,223.3 693.8,223.3 694.1,223.3 694.4,223.3 694.7,223.3 695,223.2 695.3,223.2 695.6,223.2 695.9,223.2 696.2,223.2 696.5,223.2 696.8,223.2 697.1,223.2 697.4,223.2 697.7,223.2 698,223.2 698.3,223.2 698.6,223.2 698.9,223.2 699.2,223.2 699.5,223.1 699.8,223.1 700.1,223.1 700.4,223.1 700.7,223.1 701,223.1 701.3,223.1 701.6,223.1 701.9,223.1 702.2,223.1 702.5,223.1 702.8,223.1 703.1,223.1 703.4,223.1 703.7,223.1 704,223.1 704.3,223.1 704.6,223.1 704.9,223.1 705.2,223.1 705.5,223.1 705.8,223.1 706.1,223.1 706.4,223.1 706.7,223.1 707,223.1 707.3,223.1 707.6,223.1 707.9,223.1 708.2,223.1 708.5,223.1 708.8,223.1 709.1,223.1 709.4,223.1 709.7,223.1 710,223.1 710.3,223.1 710.6,223.1 710.9,223.1 711.2,223.1 711.5,223.1 711.8,223.1 712.1,223.1 712.4,223.1 712.7,223.1 713,223.1 713.3,223.1 713.6,223.1 713.9,223.1 714.2,223.1 714.5,223.1 714.8,223.1 715.1,223.1 715.4,223.1 715.7,223.1 716,223.1 716.3,223.1 716.6,223.1 716.9,223.1 717.2,223.1 717.5,223.1 717.8,223.1 718.1,223.1 718.4,223.1 718.7,223.1 719,223.1 719.3,223.1 719.6,223.1 719.9,223.1 720.2,223.1 720.6,223.1 720.9,223.1 721.2,223.1 721.5,223.1 721.8,223.1 722.1,223.1 722.4,223.1 722.7,223.1 723,223 723.3,223 723.6,223 723.9,223 724.2,223 724.5,223 724.8,223 725.1,223 725.4,223 725.7,223 726,223 726.3,223 726.6,223 726.9,223 727.2,223 727.5,223 727.8,223 728.1,223 728.4,223 728.7,223 729,223 729.3,223 729.6,223 729.9,223 730.2,223 730.5,223 730.8,223 731.1,223 731.4,223 731.7,223 732,223 732.3,223 732.6,223 732.9,223 733.2,223 733.5,223 733.8,223 734.1,223 734.4,223 734.7,223 735,223 735.3,223 735.6,223 735.9,223 736.2,223 736.5,223 736.8,223 737.1,223 737.4,223 737.7,223 738,223 738.3,223 738.6,223 738.9,223 739.2,223 739.5,223 739.8,223 740.1,223 740.4,223 740.7,223 741,223 741.3,223 741.6,223 741.9,223 742.2,223 742.5,223 742.8,223 743.1,223 743.4,223 743.7,223 744,223 744.3,223 744.6,223 744.9,223 745.2,223 745.5,223 745.8,223 746.1,223 746.4,223 746.7,223 747,223 747.3,223 747.6,223 747.9,223 748.2,223 748.5,223 748.8,223 749.1,223 749.4,223 749.7,223 750,223 750.3,223 750.6,223 750.9,223 751.2,223 751.5,223"/>
<polyline fill="none" stroke="#000000" stroke-width="1.05" stroke-dasharray="4.6 3.4"  points="565.5,227.5 565.8,227.5 566.1,227.5 566.4,227.5 566.7,227.5 567,227.5 567.3,227.5 567.6,227.5 567.9,227.5 568.2,227.5 568.5,227.5 568.8,227.5 569.1,227.5 569.4,227.5 569.7,227.5 570,227.5 570.3,227.5 570.6,227.5 570.9,227.5 571.2,227.5 571.5,227.5 571.8,227.5 572.1,227.5 572.4,227.5 572.7,227.5 573,227.5 573.3,227.5 573.6,227.5 573.9,227.5 574.2,227.5 574.5,227.5 574.8,227.5 575.1,227.5 575.4,227.5 575.7,227.5 576,227.5 576.3,227.5 576.6,227.5 576.9,227.5 577.2,227.5 577.5,227.5 577.8,227.5 578.1,227.5 578.4,227.5 578.7,227.5 579,227.5 579.3,227.5 579.6,227.5 579.9,227.5 580.2,227.5 580.5,227.5 580.8,227.5 581.1,227.5 581.4,227.5 581.7,227.5 582,227.5 582.3,227.5 582.6,227.5 582.9,227.5 583.2,227.5 583.5,227.5 583.8,227.5 584.1,227.5 584.4,227.5 584.7,227.5 585,227.5 585.3,227.5 585.6,227.5 585.9,227.5 586.2,227.5 586.5,227.5 586.8,227.5 587.1,227.6 587.4,227.6 587.7,227.7 588,227.8 588.3,227.9 588.6,228 588.9,228.1 589.2,228.1 589.5,228.1 589.8,228.1 590.1,228 590.4,227.8 590.7,227.6 591,227.4 591.3,227.2 591.6,227 591.9,226.9 592.2,226.7 592.5,226.7 592.8,226.6 593.1,226.6 593.4,226.7 593.7,226.7 594,226.9 594.3,227 594.6,227.2 594.9,227.4 595.2,227.6 595.5,227.8 595.8,228 596.1,228.2 596.4,228.3 596.8,228.4 597.1,228.4 597.4,228.4 597.7,228.3 598,228.2 598.3,228.1 598.6,227.9 598.9,227.7 599.2,227.5 599.5,227.3 599.8,227.1 600.1,226.9 600.4,226.8 600.7,226.7 601,226.6 601.3,226.6 601.6,226.6 601.9,226.7 602.2,226.8 602.5,227 602.8,227.1 603.1,227.3 603.4,227.5 603.7,227.7 604,227.9 604.3,228.1 604.6,228.2 604.9,228.3 605.2,228.4 605.5,228.4 605.8,228.4 606.1,228.3 606.4,228.2 606.7,228 607,227.8 607.3,227.6 607.6,227.4 607.9,227.2 608.2,227 608.5,226.9 608.8,226.7 609.1,226.7 609.4,226.6 609.7,226.6 610,226.7 610.3,226.7 610.6,226.9 610.9,227 611.2,227.2 611.5,227.4 611.8,227.6 612.1,227.8 612.4,228 612.7,228.2 613,228.3 613.3,228.4 613.6,228.4 613.9,228.4 614.2,228.3 614.5,228.2 614.8,228.1 615.1,227.9 615.4,227.7 615.7,227.5 616,227.3 616.3,227.1 616.6,227 616.9,226.8 617.2,226.7 617.5,226.6 617.8,226.6 618.1,226.6 618.4,226.7 618.7,226.8 619,226.9 619.3,227.1 619.6,227.3 619.9,227.5 620.2,227.7 620.5,227.9 620.8,228.1 621.1,228.2 621.4,228.3 621.7,228.4 622,228.4 622.3,228.4 622.6,228.3 622.9,228.2 623.2,228 623.5,227.8 623.8,227.6 624.1,227.4 624.4,227.2 624.7,227 625,226.9 625.3,226.7 625.6,226.7 625.9,226.6 626.2,226.6 626.5,226.7 626.8,226.7 627.1,226.9 627.4,227 627.7,227.2 628,227.4 628.3,227.6 628.6,227.8 628.9,228 629.2,228.2 629.5,228.3 629.8,228.4 630.1,228.4 630.4,228.4 630.7,228.3 631,228.2 631.3,228.1 631.6,227.9 631.9,227.7 632.2,227.5 632.5,227.3 632.8,227.1 633.1,227 633.4,226.8 633.7,226.7 634,226.6 634.3,226.6 634.6,226.6 634.9,226.7 635.2,226.8 635.5,226.9 635.8,227.1 636.1,227.3 636.4,227.5 636.7,227.7 637,227.9 637.3,228.1 637.6,228.3 637.9,228.4 638.2,228.4 638.5,228.5 638.8,228.4 639.1,228.4 639.4,228.2 639.7,228.1 640,227.9 640.3,227.7 640.6,227.4 640.9,227.2 641.2,227 641.5,226.8 641.8,226.6 642.1,226.5 642.4,226.4 642.7,226.4 643,226.5 643.3,226.6 643.6,226.7 643.9,226.9 644.2,227.1 644.5,227.4 644.8,227.6 645.1,227.9 645.4,228.1 645.7,228.3 646,228.5 646.3,228.6 646.6,228.7 646.9,228.7 647.2,228.6 647.5,228.5 647.8,228.3 648.1,228.1 648.4,227.8 648.7,227.5 649,227.3 649.3,227 649.6,226.8 649.9,226.6 650.2,226.5 650.5,226.4 650.8,226.4 651.1,226.4 651.4,226.5 651.7,226.7 652,226.8 652.3,227.1 652.6,227.3 652.9,227.5 653.2,227.7 653.5,228 653.8,228.1 654.1,228.3 654.4,228.4 654.7,228.4 655,228.4 655.3,228.4 655.6,228.3 655.9,228.2 656.2,228 656.5,227.8 656.8,227.6 657.1,227.4 657.4,227.3 657.7,227.1 658,226.9 658.3,226.8 658.7,226.8 659,226.7 659.3,226.7 659.6,226.8 659.9,226.9 660.2,227 660.5,227.1 660.8,227.3 661.1,227.4 661.4,227.6 661.7,227.7 662,227.9 662.3,228 662.6,228.1 662.9,228.1 663.2,228.1 663.5,228.1 663.8,228.1 664.1,228 664.4,227.9 664.7,227.8 665,227.6 665.3,227.5 665.6,227.4 665.9,227.3 666.2,227.2 666.5,227.1 666.8,227.1 667.1,227 667.4,227 667.7,227.1 668,227.1 668.3,227.2 668.6,227.2 668.9,227.3 669.2,227.4 669.5,227.5 669.8,227.6 670.1,227.7 670.4,227.7 670.7,227.8 671,227.8 671.3,227.8 671.6,227.8 671.9,227.8 672.2,227.8 672.5,227.7 672.8,227.7 673.1,227.6 673.4,227.5 673.7,227.5 674,227.4 674.3,227.4 674.6,227.3 674.9,227.3 675.2,227.3 675.5,227.3 675.8,227.3 676.1,227.3 676.4,227.3 676.7,227.4 677,227.4 677.3,227.4 677.6,227.5 677.9,227.5 678.2,227.6 678.5,227.6 678.8,227.6 679.1,227.6 679.4,227.6 679.7,227.6 680,227.6 680.3,227.6 680.6,227.6 680.9,227.6 681.2,227.5 681.5,227.5 681.8,227.5 682.1,227.5 682.4,227.5 682.7,227.5 683,227.5 683.3,227.5 683.6,227.5 683.9,227.5 684.2,227.5 684.5,227.5 684.8,227.5 685.1,227.5 685.4,227.5 685.7,227.5 686,227.5 686.3,227.5 686.6,227.5 686.9,227.5 687.2,227.5 687.5,227.5 687.8,227.5 688.1,227.5 688.4,227.5 688.7,227.5 689,227.5 689.3,227.5 689.6,227.5 689.9,227.5 690.2,227.5 690.5,227.5 690.8,227.5 691.1,227.5 691.4,227.5 691.7,227.5 692,227.5 692.3,227.5 692.6,227.5 692.9,227.5 693.2,227.5 693.5,227.5 693.8,227.5 694.1,227.5 694.4,227.5 694.7,227.5 695,227.5 695.3,227.5 695.6,227.5 695.9,227.5 696.2,227.5 696.5,227.5 696.8,227.5 697.1,227.5 697.4,227.5 697.7,227.5 698,227.5 698.3,227.5 698.6,227.5 698.9,227.5 699.2,227.5 699.5,227.5 699.8,227.5 700.1,227.5 700.4,227.5 700.7,227.5 701,227.5 701.3,227.5 701.6,227.5 701.9,227.5 702.2,227.5 702.5,227.5 702.8,227.5 703.1,227.5 703.4,227.5 703.7,227.5 704,227.5 704.3,227.5 704.6,227.5 704.9,227.5 705.2,227.5 705.5,227.5 705.8,227.5 706.1,227.5 706.4,227.5 706.7,227.5 707,227.5 707.3,227.5 707.6,227.5 707.9,227.5 708.2,227.5 708.5,227.5 708.8,227.5 709.1,227.5 709.4,227.5 709.7,227.5 710,227.5 710.3,227.5 710.6,227.5 710.9,227.5 711.2,227.5 711.5,227.5 711.8,227.5 712.1,227.5 712.4,227.5 712.7,227.5 713,227.5 713.3,227.5 713.6,227.5 713.9,227.5 714.2,227.5 714.5,227.5 714.8,227.5 715.1,227.5 715.4,227.5 715.7,227.5 716,227.5 716.3,227.5 716.6,227.5 716.9,227.5 717.2,227.5 717.5,227.5 717.8,227.5 718.1,227.5 718.4,227.5 718.7,227.5 719,227.5 719.3,227.5 719.6,227.5 719.9,227.5 720.2,227.5 720.6,227.5 720.9,227.5 721.2,227.5 721.5,227.5 721.8,227.5 722.1,227.5 722.4,227.5 722.7,227.5 723,227.5 723.3,227.5 723.6,227.5 723.9,227.5 724.2,227.5 724.5,227.5 724.8,227.5 725.1,227.5 725.4,227.5 725.7,227.5 726,227.5 726.3,227.5 726.6,227.5 726.9,227.5 727.2,227.5 727.5,227.5 727.8,227.5 728.1,227.5 728.4,227.5 728.7,227.5 729,227.5 729.3,227.5 729.6,227.5 729.9,227.5 730.2,227.5 730.5,227.5 730.8,227.5 731.1,227.5 731.4,227.5 731.7,227.5 732,227.5 732.3,227.5 732.6,227.5 732.9,227.5 733.2,227.5 733.5,227.5 733.8,227.5 734.1,227.5 734.4,227.5 734.7,227.5 735,227.5 735.3,227.5 735.6,227.5 735.9,227.5 736.2,227.5 736.5,227.5 736.8,227.5 737.1,227.5 737.4,227.5 737.7,227.5 738,227.5 738.3,227.5 738.6,227.5 738.9,227.5 739.2,227.5 739.5,227.5 739.8,227.5 740.1,227.5 740.4,227.5 740.7,227.5 741,227.5 741.3,227.5 741.6,227.5 741.9,227.5 742.2,227.5 742.5,227.5 742.8,227.5 743.1,227.5 743.4,227.5 743.7,227.5 744,227.5 744.3,227.5 744.6,227.5 744.9,227.5 745.2,227.5 745.5,227.5 745.8,227.5 746.1,227.5 746.4,227.5 746.7,227.5 747,227.5 747.3,227.5 747.6,227.5 747.9,227.5 748.2,227.5 748.5,227.5 748.8,227.5 749.1,227.5 749.4,227.5 749.7,227.5 750,227.5 750.3,227.5 750.6,227.5 750.9,227.5 751.2,227.5 751.5,227.5"/>
<polyline fill="none" stroke="#0000ff" stroke-width="1.9"  points="565.5,250.1 565.8,250.1 566.1,250.1 566.4,250.1 566.7,250.1 567,250.1 567.3,250.1 567.6,250.1 567.9,250.1 568.2,250.1 568.5,250.1 568.8,250.1 569.1,250.1 569.4,250.1 569.7,250.1 570,250.1 570.3,250.1 570.6,250.1 570.9,250.1 571.2,250.1 571.5,250.1 571.8,250.1 572.1,250.1 572.4,250.1 572.7,250.1 573,250.1 573.3,250.1 573.6,250.1 573.9,250.1 574.2,250.1 574.5,250.1 574.8,250.1 575.1,250.1 575.4,250.1 575.7,250.1 576,250.1 576.3,250.1 576.6,250.1 576.9,250.1 577.2,250.1 577.5,250.1 577.8,250.1 578.1,250.1 578.4,250.1 578.7,250.1 579,250.1 579.3,250.1 579.6,250.1 579.9,250.1 580.2,250.1 580.5,250.1 580.8,250.1 581.1,250.1 581.4,250.1 581.7,250.1 582,250.1 582.3,250.1 582.6,250.1 582.9,250.1 583.2,250.1 583.5,250.1 583.8,250.1 584.1,250.1 584.4,250.1 584.7,250.1 585,250.1 585.3,250.1 585.6,250.1 585.9,250.1 586.2,250 586.5,249.8 586.8,249.5 587.1,249.2 587.4,248.8 587.7,248.3 588,248 588.3,247.6 588.6,247.4 588.9,247.3 589.2,247.5 589.5,247.9 589.8,248.7 590.1,249.5 590.4,250.2 590.7,250.7 591,250.9 591.3,250.9 591.6,250.8 591.9,250.7 592.2,250.5 592.5,250.4 592.8,250.3 593.1,250.2 593.4,250.1 593.7,250.1 594,250.1 594.3,250.2 594.6,250.3 594.9,250.4 595.2,250.5 595.5,250.6 595.8,250.7 596.1,250.9 596.4,251 596.8,251.1 597.1,251.2 597.4,251.3 597.7,251.4 598,251.4 598.3,251.4 598.6,251.4 598.9,251.3 599.2,251.3 599.5,251.2 599.8,251 600.1,250.9 600.4,250.7 600.7,250.6 601,250.4 601.3,250.2 601.6,250.1 601.9,249.9 602.2,249.8 602.5,249.6 602.8,249.5 603.1,249.5 603.4,249.4 603.7,249.4 604,249.4 604.3,249.4 604.6,249.5 604.9,249.7 605.2,249.8 605.5,250 605.8,250.1 606.1,250.3 606.4,250.3 606.7,250.4 607,250.4 607.3,250.3 607.6,250.2 607.9,250 608.2,249.9 608.5,249.7 608.8,249.5 609.1,249.4 609.4,249.4 609.7,249.4 610,249.5 610.3,249.7 610.6,250 610.9,250.2 611.2,250.4 611.5,250.6 611.8,250.7 612.1,250.7 612.4,250.7 612.7,250.6 613,250.4 613.3,250.3 613.6,250.1 613.9,250 614.2,249.9 614.5,249.8 614.8,249.7 615.1,249.7 615.4,249.7 615.7,249.8 616,249.9 616.3,250.1 616.6,250.2 616.9,250.4 617.2,250.5 617.5,250.6 617.8,250.7 618.1,250.7 618.4,250.7 618.7,250.6 619,250.4 619.3,250.2 619.6,250 619.9,249.8 620.2,249.7 620.5,249.5 620.8,249.4 621.1,249.4 621.4,249.4 621.7,249.5 622,249.6 622.3,249.8 622.6,250 622.9,250.2 623.2,250.4 623.5,250.6 623.8,250.7 624.1,250.7 624.4,250.7 624.7,250.6 625,250.5 625.3,250.4 625.6,250.2 625.9,250.1 626.2,249.9 626.5,249.8 626.8,249.7 627.1,249.7 627.4,249.7 627.7,249.8 628,249.9 628.3,250 628.6,250.2 628.9,250.4 629.2,250.6 629.5,250.7 629.8,250.8 630.1,250.9 630.4,250.9 630.7,251 631,251.1 631.3,251.2 631.6,251.4 631.9,251.7 632.2,251.9 632.5,252.2 632.8,252.4 633.1,252.7 633.4,252.9 633.7,253 634,253.1 634.3,253.2 634.6,253.1 634.9,252.7 635.2,252.2 635.5,251.4 635.8,250.5 636.1,249.6 636.4,248.6 636.7,247.7 637,246.9 637.3,246.3 637.6,245.9 637.9,245.8 638.2,245.9 638.5,246.1 638.8,246.5 639.1,247 639.4,247.4 639.7,247.9 640,248.2 640.3,248.3 640.6,248.4 640.9,248.3 641.2,248.1 641.5,248 641.8,247.7 642.1,247.5 642.4,247.3 642.7,247.1 643,246.9 643.3,246.8 643.6,246.8 643.9,246.9 644.2,247.1 644.5,247.3 644.8,247.7 645.1,248 645.4,248.4 645.7,248.8 646,249.2 646.3,249.6 646.6,249.9 646.9,250.2 647.2,250.3 647.5,250.4 647.8,250.4 648.1,250.4 648.4,250.5 648.7,250.6 649,250.6 649.3,250.7 649.6,250.8 649.9,250.8 650.2,250.9 650.5,250.9 650.8,250.9 651.1,250.8 651.4,250.7 651.7,250.6 652,250.4 652.3,250.2 652.6,249.9 652.9,249.7 653.2,249.5 653.5,249.3 653.8,249.1 654.1,249 654.4,248.9 654.7,248.9 655,248.8 655.3,248.8 655.6,248.7 655.9,248.5 656.2,248.4 656.5,248.2 656.8,248.1 657.1,248 657.4,247.9 657.7,247.9 658,247.9 658.3,247.9 658.7,248 659,248.1 659.3,248.3 659.6,248.4 659.9,248.6 660.2,248.8 660.5,249 660.8,249.1 661.1,249.2 661.4,249.3 661.7,249.4 662,249.4 662.3,249.4 662.6,249.3 662.9,249.3 663.2,249.2 663.5,249.1 663.8,249 664.1,249 664.4,248.9 664.7,248.9 665,248.9 665.3,248.9 665.6,249 665.9,249.1 666.2,249.2 666.5,249.3 666.8,249.5 667.1,249.7 667.4,249.9 667.7,250 668,250.2 668.3,250.3 668.6,250.4 668.9,250.4 669.2,250.4 669.5,250.4 669.8,250.3 670.1,250.3 670.4,250.2 670.7,250.1 671,250.1 671.3,250 671.6,249.9 671.9,249.8 672.2,249.8 672.5,249.7 672.8,249.7 673.1,249.7 673.4,249.7 673.7,249.7 674,249.7 674.3,249.7 674.6,249.7 674.9,249.8 675.2,249.8 675.5,249.8 675.8,249.9 676.1,249.9 676.4,249.9 676.7,249.9 677,250 677.3,250 677.6,250 677.9,250.1 678.2,250.1 678.5,250.1 678.8,250.1 679.1,250.2 679.4,250.2 679.7,250.2 680,250.2 680.3,250.2 680.6,250.2 680.9,250.2 681.2,250.2 681.5,250.2 681.8,250.2 682.1,250.2 682.4,250.2 682.7,250.2 683,250.1 683.3,250.1 683.6,250.1 683.9,250.1 684.2,250.1 684.5,250.1 684.8,250.1 685.1,250.1 685.4,250 685.7,250 686,250 686.3,250 686.6,250 686.9,250 687.2,250 687.5,249.9 687.8,249.9 688.1,249.9 688.4,249.9 688.7,249.9 689,249.9 689.3,249.9 689.6,249.9 689.9,249.9 690.2,249.9 690.5,249.9 690.8,249.9 691.1,249.9 691.4,249.9 691.7,249.9 692,249.9 692.3,249.9 692.6,249.9 692.9,249.9 693.2,249.9 693.5,249.9 693.8,249.9 694.1,249.9 694.4,249.9 694.7,249.9 695,250 695.3,250 695.6,250 695.9,250 696.2,250 696.5,250 696.8,250 697.1,250 697.4,250 697.7,250 698,250 698.3,250.1 698.6,250.1 698.9,250.1 699.2,250.1 699.5,250.1 699.8,250.1 700.1,250.1 700.4,250.1 700.7,250.1 701,250.1 701.3,250.1 701.6,250.1 701.9,250.2 702.2,250.2 702.5,250.2 702.8,250.2 703.1,250.2 703.4,250.2 703.7,250.2 704,250.2 704.3,250.2 704.6,250.2 704.9,250.2 705.2,250.2 705.5,250.2 705.8,250.2 706.1,250.2 706.4,250.2 706.7,250.2 707,250.2 707.3,250.2 707.6,250.2 707.9,250.2 708.2,250.2 708.5,250.2 708.8,250.2 709.1,250.2 709.4,250.2 709.7,250.2 710,250.2 710.3,250.2 710.6,250.1 710.9,250.1 711.2,250.1 711.5,250.1 711.8,250.1 712.1,250.1 712.4,250.1 712.7,250.1 713,250.1 713.3,250.1 713.6,250.1 713.9,250.1 714.2,250.1 714.5,250.1 714.8,250.1 715.1,250.1 715.4,250.1 715.7,250 716,250 716.3,250 716.6,250 716.9,250 717.2,250 717.5,250 717.8,250 718.1,250 718.4,250 718.7,250 719,250 719.3,250 719.6,250 719.9,250 720.2,250 720.6,250 720.9,250 721.2,250 721.5,250 721.8,250 722.1,250 722.4,250 722.7,250 723,250 723.3,250 723.6,250 723.9,250 724.2,250 724.5,250 724.8,250 725.1,250 725.4,250 725.7,250 726,250 726.3,250 726.6,250 726.9,250 727.2,250 727.5,250 727.8,250 728.1,250 728.4,250 728.7,250 729,250 729.3,250 729.6,250 729.9,250 730.2,250 730.5,250 730.8,250 731.1,250 731.4,250 731.7,250 732,250 732.3,250 732.6,250 732.9,250 733.2,250 733.5,250 733.8,250 734.1,250 734.4,250 734.7,250 735,250 735.3,250 735.6,250 735.9,250 736.2,250 736.5,250 736.8,250 737.1,250 737.4,250 737.7,250.1 738,250.1 738.3,250.1 738.6,250.1 738.9,250.1 739.2,250.1 739.5,250.1 739.8,250.1 740.1,250.1 740.4,250.1 740.7,250.1 741,250.1 741.3,250.1 741.6,250.1 741.9,250.1 742.2,250.1 742.5,250.1 742.8,250.1 743.1,250.1 743.4,250.1 743.7,250.1 744,250.1 744.3,250.1 744.6,250.1 744.9,250.1 745.2,250.1 745.5,250.1 745.8,250.1 746.1,250.1 746.4,250.1 746.7,250.1 747,250.1 747.3,250.1 747.6,250.1 747.9,250.1 748.2,250.1 748.5,250.1 748.8,250.1 749.1,250.1 749.4,250.1 749.7,250.1 750,250.1 750.3,250.1 750.6,250.1 750.9,250.1 751.2,250.1 751.5,250.1"/>
</g>
<path fill="none" stroke="#222" stroke-width="0.9" d="M586.2 253.3v-2.2M627.5 253.3v-2.2M668.8 253.3v-2.2M710.2 253.3v-2.2M751.5 253.3v-2.2M565.5 250.9h2.2M565.5 205.3h2.2M565.5 159.7h2.2"/>
<path fill="none" stroke="#444" stroke-width="1.1" d="M565.5 159.3V253.8"/>
<path fill="none" stroke="#6e6e6e" stroke-width="1.1" d="M565 253.3H752"/>
<text transform="translate(560.5 255.1) scale(1 1.08)" text-anchor="end">-2</text>
<text transform="translate(560.5 209.5) scale(1 1.08)" text-anchor="end">0</text>
<text transform="translate(560.5 163.9) scale(1 1.08)" text-anchor="end">2</text>
<text transform="translate(586.2 269.9) scale(1 1.08)" text-anchor="middle">0.1</text>
<text transform="translate(627.5 269.9) scale(1 1.08)" text-anchor="middle">0.2</text>
<text transform="translate(668.8 269.9) scale(1 1.08)" text-anchor="middle">0.3</text>
<text transform="translate(710.2 269.9) scale(1 1.08)" text-anchor="middle">0.4</text>
<text transform="translate(751.5 269.9) scale(1 1.08)" text-anchor="middle">0.5</text>
<text transform="translate(658.5 155.9) scale(1 1.08)" text-anchor="middle" font-size="12">(d)</text>
<text transform="translate(312.6 206) rotate(-90) scale(1 1.08)" text-anchor="middle">I<tspan dy="3.6" font-size="9.6">dc</tspan><tspan dy="-3.6">[kA]</tspan></text>
<g fill="none" stroke-width="0.7">
<path stroke="#cdcdd3" stroke-dasharray="1.2 1.2" d="M342.1 289.6V383.9M350.4 289.6V383.9M367 289.6V383.9M375.3 289.6V383.9M383.6 289.6V383.9M391.9 289.6V383.9M408.5 289.6V383.9M416.7 289.6V383.9M425 289.6V383.9M433.3 289.6V383.9M449.9 289.6V383.9M458.2 289.6V383.9M466.5 289.6V383.9M474.8 289.6V383.9M491.3 289.6V383.9M499.6 289.6V383.9M507.9 289.6V383.9M516.2 289.6V383.9M338 379.2H524.5M338 374.5H524.5M338 369.8H524.5M338 365.1H524.5M338 355.6H524.5M338 350.9H524.5M338 346.2H524.5M338 341.5H524.5M338 332H524.5M338 327.3H524.5M338 322.6H524.5M338 317.9H524.5M338 308.5H524.5M338 303.7H524.5M338 299H524.5M338 294.3H524.5"/>
<path stroke="#e4e4e4" stroke-width="0.9" d="M358.7 289.6V383.9M400.2 289.6V383.9M441.6 289.6V383.9M483.1 289.6V383.9M524.5 289.6V383.9M338 360.3H524.5M338 336.8H524.5M338 313.2H524.5M338 289.6H524.5"/>
</g>
<polyline fill="none" stroke="#dd0000" stroke-width="1.35"  points="338,355.9 338.3,355.9 338.7,355.9 339,355.9 339.3,355.9 339.7,355.9 340,355.9 340.3,355.9 340.7,355.9 341,355.9 341.3,355.9 341.7,355.9 342,355.9 342.3,355.9 342.7,355.9 343,355.9 343.3,355.9 343.7,355.9 344,355.9 344.3,355.9 344.7,355.9 345,355.9 345.3,355.9 345.7,355.9 346,355.9 346.3,355.9 346.7,355.9 347,355.9 347.3,355.9 347.7,355.9 348,355.9 348.3,355.9 348.7,355.9 349,355.9 349.3,355.9 349.7,355.9 350,355.9 350.3,355.9 350.7,355.9 351,355.9 351.3,355.9 351.7,355.9 352,355.9 352.3,355.9 352.7,355.9 353,355.9 353.3,355.9 353.7,355.9 354,355.9 354.3,355.9 354.7,355.9 355,355.9 355.3,355.9 355.7,355.9 356,355.9 356.3,355.9 356.7,355.9 357,355.9 357.4,355.9 357.7,355.9 358,355.9 358.4,355.9 358.7,355.9 359,355.9 359.4,355.8 359.7,355.6 360,355.3 360.4,355.2 360.7,355 361,354.1 361.4,352.6 361.7,351.1 362,350.1 362.4,349.8 362.7,350.2 363,351.2 363.4,352.6 363.7,354.2 364,355.8 364.4,357.2 364.7,358.1 365,358.4 365.4,358.1 365.7,357.1 366,355.7 366.4,354.2 366.7,353.1 367,352.5 367.4,352.6 367.7,352.7 368,352.8 368.4,352.9 368.7,352.9 369,352.4 369.4,351.3 369.7,349.8 370,348.5 370.4,347.5 370.7,347.2 371,347.7 371.4,348.8 371.7,350.3 372,352.1 372.4,353.8 372.7,355.1 373,355.8 373.4,355.8 373.7,355.2 374,354.1 374.4,352.9 374.7,351.7 375,351 375.4,350.9 375.7,350.9 376,351 376.4,351 376.7,351 377,350.8 377.4,350.1 377.7,348.9 378,347.7 378.4,346.8 378.7,346.2 379,346.4 379.4,347.3 379.7,348.7 380,350.5 380.4,352.4 380.7,354 381,355 381.4,355.4 381.7,355.1 382,354.4 382.4,353.4 382.7,352.4 383,351.7 383.4,351.4 383.7,351.5 384,351.6 384.4,351.7 384.7,351.8 385,351.8 385.4,351.4 385.7,350.5 386,349.5 386.4,348.5 386.7,347.9 387,347.8 387.4,348.2 387.7,349.2 388,350.7 388.4,352.3 388.7,354 389,355.4 389.4,356.3 389.7,356.6 390,356.3 390.4,355.6 390.7,354.5 391,353.6 391.4,353 391.7,352.9 392,352.9 392.4,352.9 392.7,352.9 393,352.9 393.4,352.8 393.7,352.2 394.1,351.3 394.4,350.3 394.7,349.5 395.1,348.9 395.4,348.8 395.7,349.2 396.1,350.3 396.4,351.7 396.7,353.4 397.1,355.1 397.4,356.4 397.7,357.2 398.1,357.4 398.4,357.1 398.7,356.6 399.1,355.8 399.4,355 399.7,354.4 400.1,354 400.4,353.9 400.7,353.8 401.1,353.7 401.4,353.5 401.7,353.5 402.1,353.2 402.4,352.5 402.7,351.5 403.1,350.3 403.4,349.2 403.7,348.4 404.1,348.1 404.4,348.2 404.7,348.8 405.1,349.7 405.4,350.7 405.7,351.7 406.1,352.5 406.4,352.9 406.7,352.9 407.1,353 407.4,353 407.7,353 408.1,353.1 408.4,353.1 408.7,353.1 409.1,353.2 409.4,353.4 409.7,353.8 410.1,354.4 410.4,354.9 410.7,355.4 411.1,355.8 411.4,355.9 411.7,355.9 412.1,356 412.4,356.1 412.7,356.2 413.1,356.4 413.4,356.6 413.7,356.8 414.1,357.1 414.4,357.4 414.7,357.6 415.1,357.9 415.4,358.1 415.7,358.3 416.1,358.5 416.4,358.7 416.7,358.8 417.1,358.9 417.4,359 417.7,359 418.1,359 418.4,359 418.7,359.1 419.1,359.2 419.4,359.3 419.7,359.4 420.1,359.5 420.4,359.6 420.7,359.8 421.1,359.9 421.4,360 421.7,360.1 422.1,360.2 422.4,360.3 422.7,360.4 423.1,360.4 423.4,360.5 423.7,360.5 424.1,360.5 424.4,360.5 424.7,360.5 425.1,360.4 425.4,360.4 425.7,360.4 426.1,360.3 426.4,360.3 426.7,360.3 427.1,360.2 427.4,360.2 427.7,360.2 428.1,360.1 428.4,360.1 428.7,360.1 429.1,360.1 429.4,360.1 429.7,360.1 430.1,360.1 430.4,360.1 430.7,360 431.1,360 431.4,360 431.8,359.9 432.1,359.9 432.4,359.8 432.8,359.8 433.1,359.7 433.4,359.7 433.8,359.6 434.1,359.5 434.4,359.5 434.8,359.4 435.1,359.3 435.4,359.3 435.8,359.2 436.1,359.2 436.4,359.1 436.8,359.1 437.1,359.1 437.4,359.1 437.8,359.1 438.1,359.1 438.4,359.1 438.8,359 439.1,359 439.4,359 439.8,359 440.1,359 440.4,358.9 440.8,358.9 441.1,358.9 441.4,358.8 441.8,358.8 442.1,358.7 442.4,358.7 442.8,358.7 443.1,358.6 443.4,358.6 443.8,358.6 444.1,358.5 444.4,358.5 444.8,358.5 445.1,358.5 445.4,358.5 445.8,358.4 446.1,358.4 446.4,358.4 446.8,358.4 447.1,358.4 447.4,358.4 447.8,358.4 448.1,358.4 448.4,358.4 448.8,358.4 449.1,358.3 449.4,358.3 449.8,358.3 450.1,358.3 450.4,358.2 450.8,358.2 451.1,358.2 451.4,358.2 451.8,358.1 452.1,358.1 452.4,358 452.8,358 453.1,358 453.4,357.9 453.8,357.9 454.1,357.9 454.4,357.8 454.8,357.8 455.1,357.7 455.4,357.7 455.8,357.7 456.1,357.6 456.4,357.6 456.8,357.5 457.1,357.5 457.4,357.5 457.8,357.4 458.1,357.4 458.4,357.4 458.8,357.3 459.1,357.3 459.4,357.3 459.8,357.3 460.1,357.2 460.4,357.2 460.8,357.2 461.1,357.2 461.4,357.2 461.8,357.1 462.1,357.1 462.4,357.1 462.8,357.1 463.1,357.1 463.4,357.1 463.8,357.1 464.1,357.1 464.4,357.1 464.8,357.1 465.1,357.1 465.4,357.1 465.8,357.1 466.1,357.1 466.4,357.1 466.8,357.1 467.1,357.1 467.4,357 467.8,357 468.1,357 468.4,357 468.8,357 469.1,357 469.5,357 469.8,356.9 470.1,356.9 470.5,356.9 470.8,356.9 471.1,356.9 471.5,356.8 471.8,356.8 472.1,356.8 472.5,356.8 472.8,356.8 473.1,356.7 473.5,356.7 473.8,356.7 474.1,356.7 474.5,356.7 474.8,356.6 475.1,356.6 475.5,356.6 475.8,356.6 476.1,356.6 476.5,356.5 476.8,356.5 477.1,356.5 477.5,356.5 477.8,356.5 478.1,356.5 478.5,356.4 478.8,356.4 479.1,356.4 479.5,356.4 479.8,356.4 480.1,356.4 480.5,356.4 480.8,356.3 481.1,356.3 481.5,356.3 481.8,356.3 482.1,356.3 482.5,356.3 482.8,356.3 483.1,356.3 483.5,356.3 483.8,356.3 484.1,356.3 484.5,356.3 484.8,356.3 485.1,356.3 485.5,356.3 485.8,356.3 486.1,356.3 486.5,356.3 486.8,356.3 487.1,356.3 487.5,356.3 487.8,356.3 488.1,356.3 488.5,356.3 488.8,356.3 489.1,356.3 489.5,356.3 489.8,356.3 490.1,356.3 490.5,356.3 490.8,356.3 491.1,356.3 491.5,356.3 491.8,356.2 492.1,356.2 492.5,356.2 492.8,356.2 493.1,356.2 493.5,356.2 493.8,356.2 494.1,356.2 494.5,356.2 494.8,356.2 495.1,356.2 495.5,356.2 495.8,356.2 496.1,356.2 496.5,356.2 496.8,356.2 497.1,356.2 497.5,356.2 497.8,356.1 498.1,356.1 498.5,356.1 498.8,356.1 499.1,356.1 499.5,356.1 499.8,356.1 500.1,356.1 500.5,356.1 500.8,356.1 501.1,356.1 501.5,356.1 501.8,356.1 502.1,356 502.5,356 502.8,356 503.1,356 503.5,356 503.8,356 504.1,356 504.5,356 504.8,356 505.1,356 505.5,356 505.8,356 506.2,356 506.5,355.9 506.8,355.9 507.2,355.9 507.5,355.9 507.8,355.9 508.2,355.9 508.5,355.9 508.8,355.9 509.2,355.9 509.5,355.9 509.8,355.9 510.2,355.9 510.5,355.9 510.8,355.8 511.2,355.8 511.5,355.8 511.8,355.8 512.2,355.8 512.5,355.8 512.8,355.8 513.2,355.8 513.5,355.8 513.8,355.8 514.2,355.8 514.5,355.8 514.8,355.8 515.2,355.8 515.5,355.8 515.8,355.8 516.2,355.8 516.5,355.8 516.8,355.7 517.2,355.7 517.5,355.7 517.8,355.7 518.2,355.7 518.5,355.7 518.8,355.7 519.2,355.7 519.5,355.7 519.8,355.7 520.2,355.7 520.5,355.7 520.8,355.7 521.2,355.7 521.5,355.7 521.8,355.7 522.2,355.7 522.5,355.7 522.8,355.7 523.2,355.7 523.5,355.7 523.8,355.7 524.2,355.7 524.5,355.7"/>
<path d="M338.5 313.2H524.5" stroke="#000" stroke-width="1.1" stroke-dasharray="5 4.4" fill="none"/>
<path fill="none" stroke="#222" stroke-width="0.9" d="M358.7 383.9v-2.2M400.2 383.9v-2.2M441.6 383.9v-2.2M483.1 383.9v-2.2M524.5 383.9v-2.2M338 360.3h2.2M338 336.8h2.2M338 313.2h2.2M338 289.6h2.2"/>
<path fill="none" stroke="#6e6e6e" stroke-width="1.4" d="M338 289.6V384.4"/>
<path fill="none" stroke="#6e6e6e" stroke-width="1.1" d="M337.5 383.9H525"/>
<path d="M337.5 289.6H525" stroke="#0000cd" stroke-width="2" fill="none"/>
<path d="M338 383.9H524.8" stroke="#ff00ff" stroke-width="1.5" fill="none"/>
<path d="M340.5 383.9H524.8" stroke="#0000cd" stroke-width="1.35" stroke-dasharray="5.8 4.1" fill="none"/>
<text transform="translate(333 364.5) scale(1 1.08)" text-anchor="end">-1000</text>
<text transform="translate(333 341) scale(1 1.08)" text-anchor="end">0</text>
<text transform="translate(333 317.4) scale(1 1.08)" text-anchor="end">1000</text>
<text transform="translate(333 293.8) scale(1 1.08)" text-anchor="end">2000</text>
<text transform="translate(358.7 400.5) scale(1 1.08)" text-anchor="middle">0.1</text>
<text transform="translate(400.2 400.5) scale(1 1.08)" text-anchor="middle">0.2</text>
<text transform="translate(441.6 400.5) scale(1 1.08)" text-anchor="middle">0.3</text>
<text transform="translate(483.1 400.5) scale(1 1.08)" text-anchor="middle">0.4</text>
<text transform="translate(524.5 400.5) scale(1 1.08)" text-anchor="middle">0.5</text>
<text transform="translate(431.2 286.2) scale(1 1.08)" text-anchor="middle" font-size="12">(e)</text>
<g fill="none" stroke-width="0.7">
<path stroke="#cdcdd3" stroke-dasharray="1.2 1.2" d="M569.6 289.6V383.9M577.9 289.6V383.9M594.4 289.6V383.9M602.7 289.6V383.9M611 289.6V383.9M619.2 289.6V383.9M635.8 289.6V383.9M644 289.6V383.9M652.3 289.6V383.9M660.6 289.6V383.9M677.1 289.6V383.9M685.4 289.6V383.9M693.6 289.6V383.9M701.9 289.6V383.9M718.4 289.6V383.9M726.7 289.6V383.9M735 289.6V383.9M743.2 289.6V383.9M565.5 379.2H751.5M565.5 374.5H751.5M565.5 369.8H751.5M565.5 365.1H751.5M565.5 355.6H751.5M565.5 350.9H751.5M565.5 346.2H751.5M565.5 341.5H751.5M565.5 332H751.5M565.5 327.3H751.5M565.5 322.6H751.5M565.5 317.9H751.5M565.5 308.5H751.5M565.5 303.7H751.5M565.5 299H751.5M565.5 294.3H751.5"/>
<path stroke="#e4e4e4" stroke-width="0.9" d="M586.2 289.6V383.9M627.5 289.6V383.9M668.8 289.6V383.9M710.2 289.6V383.9M751.5 289.6V383.9M565.5 360.3H751.5M565.5 336.8H751.5M565.5 313.2H751.5M565.5 289.6H751.5"/>
</g>
<polyline fill="none" stroke="#dd0000" stroke-width="1.35"  points="565.5,355.9 565.8,355.9 566.2,355.9 566.5,355.9 566.8,355.9 567.2,355.9 567.5,355.9 567.8,355.9 568.2,355.9 568.5,355.9 568.8,355.9 569.2,355.9 569.5,355.9 569.8,355.9 570.2,355.9 570.5,355.9 570.8,355.9 571.2,355.9 571.5,355.9 571.8,355.9 572.2,355.9 572.5,355.9 572.8,355.9 573.2,355.9 573.5,355.9 573.8,355.9 574.2,355.9 574.5,355.9 574.8,355.9 575.1,355.9 575.5,355.9 575.8,355.9 576.1,355.9 576.5,355.9 576.8,355.9 577.1,355.9 577.5,355.9 577.8,355.9 578.1,355.9 578.5,355.9 578.8,355.9 579.1,355.9 579.5,355.9 579.8,355.9 580.1,355.9 580.5,355.9 580.8,355.9 581.1,355.9 581.5,355.9 581.8,355.9 582.1,355.9 582.5,355.9 582.8,355.9 583.1,355.9 583.5,355.9 583.8,355.9 584.1,355.9 584.5,355.9 584.8,355.9 585.1,355.9 585.5,355.9 585.8,355.9 586.1,355.9 586.5,355.7 586.8,355.5 587.1,355.3 587.5,355.2 587.8,354.5 588.1,352.7 588.5,351 588.8,350.3 589.1,350.3 589.5,350.3 589.8,350.3 590.1,350.9 590.5,352.7 590.8,354.8 591.1,356.3 591.5,356.6 591.8,356.6 592.1,356.6 592.5,356.6 592.8,356.6 593.1,356.6 593.4,356.6 593.8,356.6 594.1,356.6 594.4,356.6 594.8,356.3 595.1,354.6 595.4,352.5 595.8,351.3 596.1,351.2 596.4,350.8 596.8,350.3 597.1,350.1 597.4,350.3 597.8,350.9 598.1,351.3 598.4,351.7 598.8,353 599.1,354.6 599.4,355.9 599.8,356.2 600.1,356.2 600.4,356.2 600.8,356.2 601.1,356.2 601.4,356.2 601.8,356.2 602.1,356.2 602.4,356.2 602.8,356.2 603.1,355.5 603.4,353.8 603.8,351.8 604.1,350.5 604.4,350.3 604.8,350 605.1,349.6 605.4,349.6 605.8,350 606.1,350.7 606.4,351.2 606.8,351.4 607.1,352.7 607.4,354.4 607.8,355.5 608.1,355.6 608.4,355.6 608.8,355.7 609.1,355.8 609.4,355.9 609.8,356 610.1,356.1 610.4,356.2 610.8,356.2 611.1,356 611.4,354.9 611.8,353.1 612.1,351.5 612.4,350.8 612.7,350.7 613.1,350.4 613.4,350.2 613.7,350.1 614.1,350.5 614.4,351.1 614.7,351.7 615.1,351.9 615.4,353 615.7,354.8 616.1,356.1 616.4,356.2 616.7,356.2 617.1,356.2 617.4,356.3 617.7,356.3 618.1,356.3 618.4,356.4 618.7,356.4 619.1,356.4 619.4,356.4 619.7,356.2 620.1,354.8 620.4,352.8 620.7,351.3 621.1,351.1 621.4,350.8 621.7,350.5 622.1,350.6 622.4,351.1 622.7,351.9 623.1,352.3 623.4,352.8 623.7,354.3 624.1,356 624.4,356.6 624.7,356.6 625.1,356.6 625.4,356.6 625.7,356.6 626.1,356.6 626.4,356.6 626.7,356.6 627.1,356.6 627.4,356.6 627.7,356.6 628.1,356 628.4,354.5 628.7,352.8 629.1,351.5 629.4,351.3 629.7,351.2 630.1,351 630.4,350.7 630.7,350.5 631,350.3 631.4,350.3 631.7,350.3 632,350.3 632.4,350.3 632.7,350.3 633,350.3 633.4,350.3 633.7,350.4 634,350.7 634.4,351.2 634.7,351.7 635,352.2 635.4,352.6 635.7,352.8 636,352.8 636.4,352.9 636.7,352.9 637,353 637.4,353 637.7,353.1 638,353.1 638.4,353.1 638.7,353.2 639,353.3 639.4,353.5 639.7,353.8 640,354.1 640.4,354.4 640.7,354.6 641,354.8 641.4,354.9 641.7,354.9 642,354.9 642.4,355 642.7,355 643,355.1 643.4,355.2 643.7,355.3 644,355.4 644.4,355.4 644.7,355.4 645,355.4 645.4,355.5 645.7,355.7 646,355.8 646.4,356 646.7,356.2 647,356.5 647.4,356.7 647.7,356.9 648,357.1 648.4,357.3 648.7,357.4 649,357.5 649.3,357.6 649.7,357.6 650,357.6 650.3,357.7 650.7,357.7 651,357.7 651.3,357.8 651.7,357.8 652,357.9 652.3,358 652.7,358 653,358.1 653.3,358.1 653.7,358.2 654,358.2 654.3,358.2 654.7,358.2 655,358.2 655.3,358.2 655.7,358.2 656,358.2 656.3,358.1 656.7,358.1 657,358 657.3,358 657.7,357.9 658,357.9 658.3,357.8 658.7,357.8 659,357.8 659.3,357.7 659.7,357.7 660,357.7 660.3,357.7 660.7,357.7 661,357.7 661.3,357.6 661.7,357.6 662,357.5 662.3,357.5 662.7,357.4 663,357.4 663.3,357.3 663.7,357.3 664,357.3 664.3,357.2 664.7,357.2 665,357.2 665.3,357.2 665.7,357.2 666,357.2 666.3,357.2 666.7,357.2 667,357.2 667.3,357.1 667.7,357.1 668,357.1 668.3,357.1 668.6,357 669,357 669.3,357 669.6,357 670,356.9 670.3,356.9 670.6,356.9 671,356.9 671.3,356.9 671.6,356.8 672,356.8 672.3,356.8 672.6,356.8 673,356.8 673.3,356.8 673.6,356.8 674,356.8 674.3,356.8 674.6,356.8 675,356.8 675.3,356.8 675.6,356.8 676,356.8 676.3,356.8 676.6,356.8 677,356.8 677.3,356.8 677.6,356.8 678,356.7 678.3,356.7 678.6,356.7 679,356.7 679.3,356.7 679.6,356.7 680,356.7 680.3,356.7 680.6,356.7 681,356.6 681.3,356.6 681.6,356.6 682,356.6 682.3,356.6 682.6,356.6 683,356.6 683.3,356.5 683.6,356.5 684,356.5 684.3,356.5 684.6,356.5 685,356.5 685.3,356.5 685.6,356.5 686,356.4 686.3,356.4 686.6,356.4 686.9,356.4 687.3,356.4 687.6,356.4 687.9,356.4 688.3,356.3 688.6,356.3 688.9,356.3 689.3,356.3 689.6,356.3 689.9,356.3 690.3,356.3 690.6,356.3 690.9,356.3 691.3,356.3 691.6,356.2 691.9,356.2 692.3,356.2 692.6,356.2 692.9,356.2 693.3,356.2 693.6,356.2 693.9,356.2 694.3,356.2 694.6,356.2 694.9,356.2 695.3,356.2 695.6,356.2 695.9,356.2 696.3,356.2 696.6,356.2 696.9,356.2 697.3,356.2 697.6,356.2 697.9,356.2 698.3,356.2 698.6,356.2 698.9,356.2 699.3,356.2 699.6,356.2 699.9,356.2 700.3,356.2 700.6,356.2 700.9,356.2 701.3,356.2 701.6,356.2 701.9,356.2 702.3,356.2 702.6,356.2 702.9,356.2 703.3,356.2 703.6,356.2 703.9,356.2 704.3,356.2 704.6,356.2 704.9,356.2 705.2,356.2 705.6,356.2 705.9,356.2 706.2,356.2 706.6,356.2 706.9,356.2 707.2,356.2 707.6,356.2 707.9,356.2 708.2,356.2 708.6,356.2 708.9,356.2 709.2,356.2 709.6,356.2 709.9,356.2 710.2,356.2 710.6,356.2 710.9,356.1 711.2,356.1 711.6,356.1 711.9,356.1 712.2,356.1 712.6,356.1 712.9,356.1 713.2,356.1 713.6,356.1 713.9,356.1 714.2,356.1 714.6,356.1 714.9,356.1 715.2,356.1 715.6,356.1 715.9,356.1 716.2,356.1 716.6,356.1 716.9,356.1 717.2,356.1 717.6,356.1 717.9,356.1 718.2,356.1 718.6,356.1 718.9,356.1 719.2,356.1 719.6,356.1 719.9,356.1 720.2,356.1 720.6,356.1 720.9,356.1 721.2,356.1 721.6,356.1 721.9,356.1 722.2,356.1 722.6,356.1 722.9,356.1 723.2,356.1 723.6,356 723.9,356 724.2,356 724.5,356 724.9,356 725.2,356 725.5,356 725.9,356 726.2,356 726.5,356 726.9,356 727.2,356 727.5,356 727.9,356 728.2,356 728.5,356 728.9,356 729.2,356 729.5,356 729.9,356 730.2,356 730.5,356 730.9,356 731.2,356 731.5,356 731.9,356 732.2,356 732.5,356 732.9,356 733.2,356 733.5,356 733.9,356 734.2,356 734.5,356 734.9,356 735.2,356 735.5,356 735.9,356 736.2,356 736.5,355.9 736.9,355.9 737.2,355.9 737.5,355.9 737.9,355.9 738.2,355.9 738.5,355.9 738.9,355.9 739.2,355.9 739.5,355.9 739.9,355.9 740.2,355.9 740.5,355.9 740.9,355.9 741.2,355.9 741.5,355.9 741.9,355.9 742.2,355.9 742.5,355.9 742.8,355.9 743.2,355.9 743.5,355.9 743.8,355.9 744.2,355.9 744.5,355.9 744.8,355.9 745.2,355.9 745.5,355.9 745.8,355.9 746.2,355.9 746.5,355.9 746.8,355.9 747.2,355.9 747.5,355.9 747.8,355.9 748.2,355.9 748.5,355.9 748.8,355.9 749.2,355.9 749.5,355.9 749.8,355.9 750.2,355.9 750.5,355.9 750.8,355.9 751.2,355.9 751.5,355.9"/>
<path d="M566 313.2H751.5" stroke="#000" stroke-width="1.1" stroke-dasharray="5 4.4" fill="none"/>
<path fill="none" stroke="#222" stroke-width="0.9" d="M586.2 383.9v-2.2M627.5 383.9v-2.2M668.8 383.9v-2.2M710.2 383.9v-2.2M751.5 383.9v-2.2M565.5 360.3h2.2M565.5 336.8h2.2M565.5 313.2h2.2M565.5 289.6h2.2"/>
<path fill="none" stroke="#444" stroke-width="1.1" d="M565.5 289.6V384.4"/>
<path fill="none" stroke="#6e6e6e" stroke-width="1.1" d="M565 383.9H752"/>
<path d="M565 289.6H752" stroke="#0000cd" stroke-width="2" fill="none"/>
<path d="M565.5 383.9H751.8" stroke="#ff00ff" stroke-width="1.5" fill="none"/>
<path d="M568 383.9H751.8" stroke="#0000cd" stroke-width="1.35" stroke-dasharray="5.8 4.1" fill="none"/>
<text transform="translate(560.5 364.5) scale(1 1.08)" text-anchor="end">-1000</text>
<text transform="translate(560.5 341) scale(1 1.08)" text-anchor="end">0</text>
<text transform="translate(560.5 317.4) scale(1 1.08)" text-anchor="end">1000</text>
<text transform="translate(560.5 293.8) scale(1 1.08)" text-anchor="end">2000</text>
<text transform="translate(586.2 400.5) scale(1 1.08)" text-anchor="middle">0.1</text>
<text transform="translate(627.5 400.5) scale(1 1.08)" text-anchor="middle">0.2</text>
<text transform="translate(668.8 400.5) scale(1 1.08)" text-anchor="middle">0.3</text>
<text transform="translate(710.2 400.5) scale(1 1.08)" text-anchor="middle">0.4</text>
<text transform="translate(751.5 400.5) scale(1 1.08)" text-anchor="middle">0.5</text>
<text transform="translate(658.5 286.2) scale(1 1.08)" text-anchor="middle" font-size="12">(f)</text>
<text transform="translate(293.8 337.3) rotate(-90) scale(1 1.08)" text-anchor="middle">P<tspan dy="3.6" font-size="9.6">ac</tspan><tspan dy="-3.6">[MW]</tspan></text>
<g fill="none" stroke-width="0.7">
<path stroke="#cdcdd3" stroke-dasharray="1.2 1.2" d="M338 510H751.5M338 481.4H751.5M338 452.8H751.5M338 424.2H751.5"/>
<path stroke="#e4e4e4" stroke-width="0.9" d="M383.9 420V514.4M429.9 420V514.4M475.8 420V514.4M521.8 420V514.4M567.7 420V514.4M613.7 420V514.4M659.6 420V514.4M705.6 420V514.4M751.5 420V514.4M338 495.7H751.5M338 467.1H751.5M338 438.5H751.5"/>
</g>
<clipPath id="cg"><rect x="338" y="419.5" width="414.1" height="95.6"/></clipPath>
<g clip-path="url(#cg)" stroke-linejoin="round">
<polyline fill="none" stroke="#dc0000" stroke-width="1.4"  points="338,509.9 338.5,506.5 338.9,502.1 339.4,496.8 339.8,490.8 340.3,484.2 340.8,477.2 341.2,470 341.7,462.6 342.1,455.4 342.6,448.5 343.1,442 343.5,436.2 344,431.1 344.4,426.9 344.9,423.6 345.4,421.5 345.8,420.5 346.3,420.6 346.7,421.9 347.2,424.3 347.7,427.8 348.1,432.2 348.6,437.5 349,443.5 349.5,450.1 350,457.1 350.4,464.4 350.9,471.7 351.3,478.9 351.8,485.9 352.3,492.3 352.7,498.2 353.2,503.2 353.6,507.4 354.1,510.6 354.6,512.7 355,513.7 355.5,513.6 355.9,512.2 356.4,509.8 356.9,506.3 357.3,501.9 357.8,496.6 358.2,490.6 358.7,483.9 359.2,476.9 359.6,469.6 360.1,462.3 360.5,455.1 361,448.2 361.5,441.7 361.9,435.9 362.4,430.9 362.8,426.7 363.3,423.5 363.8,421.4 364.2,420.5 364.7,420.7 365.1,422 365.6,424.4 366.1,427.9 366.5,432.4 367,437.7 367.4,443.8 367.9,450.4 368.4,457.4 368.8,464.7 369.3,472 369.7,479.3 370.2,486.2 370.7,492.6 371.1,498.4 371.6,503.5 372,507.6 372.5,510.7 373,512.8 373.4,513.7 373.9,513.5 374.3,512.2 374.8,509.7 375.3,506.2 375.7,501.7 376.2,496.3 376.6,490.3 377.1,483.6 377.6,476.6 378,469.3 378.5,462 378.9,454.8 379.4,447.9 379.9,441.5 380.3,435.7 380.8,430.6 381.2,426.5 381.7,423.4 382.2,421.4 382.6,420.5 383.1,420.7 383.5,422.1 384,424.6 384.5,428.1 384.9,432.6 385.4,438 385.8,444.1 386.3,450.7 386.8,457.8 387.2,465 387.7,472.4 388.1,479.6 388.6,486.5 389.1,492.9 389.5,498.7 390,503.7 390.4,507.8 390.9,510.8 391.4,512.9 391.8,513.7 392.3,513.5 392.7,512.1 393.2,509.6 393.7,506 394.1,501.5 394.6,496.1 395,490 395.5,483.3 396,476.3 396.4,469 396.9,461.7 397.3,454.5 397.8,447.6 398.3,441.2 398.7,435.4 399.2,430.4 399.6,426.4 400.1,423.3 400.6,421.3 401,420.4 401.5,420.7 401.9,422.2 402.4,424.7 402.9,428.3 403.3,432.9 403.8,438.2 404.2,444.4 404.7,451 405.2,458.1 405.6,465.4 406.1,472.7 406.5,479.9 407,486.8 407.5,493.1 407.9,498.9 408.4,503.9 408.8,507.9 409.3,511 409.8,512.9 410.2,513.8 410.7,513.4 411.1,512 411.6,509.4 412.1,505.8 412.5,501.2 413,495.8 413.4,489.7 413.9,483 414.4,476 414.8,468.7 415.3,461.3 415.7,454.2 416.2,447.3 416.7,440.9 417.1,435.2 417.6,430.2 418,426.2 418.5,423.2 419,421.2 419.4,420.4 419.9,420.8 420.3,422.3 420.8,424.9 421.3,428.5 421.7,433.1 422.2,438.5 422.6,444.6 423.1,451.3 423.6,458.4 424,465.7 424.5,473 424.9,480.2 425.4,487.1 425.9,493.4 426.3,499.1 426.8,504.1 427.2,508.1 427.7,511.1 428.2,513 428.6,513.8 429.1,513.4 429.5,511.9 430,509.3 430.5,505.6 430.9,501 431.4,495.6 431.8,489.4 432.3,482.7 432.8,475.6 433.2,468.3 433.7,461 434.1,453.8 434.6,447 435.1,440.6 435.5,434.9 436,430 436.4,426.1 436.9,423.1 437.4,421.2 437.8,420.4 438.3,420.8 438.7,422.4 439.2,425 439.7,428.7 440.1,433.3 440.6,438.8 441,444.9 441.5,451.6 441.9,458.7 442.4,466 442.9,473.3 443.3,480.5 443.8,487.3 444.2,493.7 444.7,499.4 445.2,504.3 445.6,508.2 446.1,511.2 446.5,513 447,513.8 447.5,513.4 447.9,511.8 448.4,509.1 448.8,505.4 449.3,500.8 449.8,495.3 450.2,489.1 450.7,482.4 451.1,475.3 451.6,468 452.1,460.7 452.5,453.5 453,446.7 453.4,440.4 453.9,434.7 454.4,429.8 454.8,425.9 455.3,423 455.7,421.1 456.2,420.4 456.7,420.9 457.1,422.4 457.6,425.1 458,428.9 458.5,433.5 459,439 459.4,445.2 459.9,451.9 460.3,459 460.8,466.3 461.3,473.7 461.7,480.8 462.2,487.6 462.6,494 463.1,499.6 463.6,504.5 464,508.4 464.5,511.3 464.9,513.1 465.4,513.8 465.9,513.3 466.3,511.7 466.8,509 467.2,505.2 467.7,500.6 468.2,495 468.6,488.8 469.1,482.1 469.5,475 470,467.7 470.5,460.4 470.9,453.2 471.4,446.4 471.8,440.1 472.3,434.5 472.8,429.6 473.2,425.7 473.7,422.9 474.1,421.1 474.6,420.4 475.1,420.9 475.5,422.5 476,425.3 476.4,429 476.9,433.8 477.4,439.3 477.8,445.5 478.3,452.2 478.7,459.4 479.2,466.7 479.7,474 480.1,481.1 480.6,487.9 481,494.2 481.5,499.8 482,504.6 482.4,508.5 482.9,511.4 483.3,513.2 483.8,513.8 484.3,513.3 484.7,511.6 485.2,508.8 485.6,505.1 486.1,500.3 486.6,494.8 487,488.6 487.5,481.8 487.9,474.7 488.4,467.4 488.9,460.1 489.3,452.9 489.8,446.1 490.2,439.8 490.7,434.2 491.2,429.5 491.6,425.6 492.1,422.8 492.5,421 493,420.4 493.5,421 493.9,422.6 494.4,425.4 494.8,429.2 495.3,434 495.8,439.5 496.2,445.8 496.7,452.6 497.1,459.7 497.6,467 498.1,474.3 498.5,481.4 499,488.2 499.4,494.5 499.9,500.1 500.4,504.8 500.8,508.7 501.3,511.5 501.7,513.2 502.2,513.8 502.7,513.2 503.1,511.5 503.6,508.7 504,504.9 504.5,500.1 505,494.5 505.4,488.3 505.9,481.5 506.3,474.4 506.8,467 507.3,459.7 507.7,452.6 508.2,445.8 508.6,439.6 509.1,434 509.6,429.3 510,425.4 510.5,422.7 510.9,421 511.4,420.4 511.9,421 512.3,422.7 512.8,425.6 513.2,429.4 513.7,434.2 514.2,439.8 514.6,446.1 515.1,452.9 515.5,460 516,467.3 516.5,474.6 516.9,481.8 517.4,488.5 517.8,494.8 518.3,500.3 518.8,505 519.2,508.8 519.7,511.6 520.1,513.3 520.6,513.8 521.1,513.2 521.5,511.4 522,508.5 522.4,504.7 522.9,499.9 523.4,494.3 523.8,488 524.3,481.2 524.7,474 525.2,466.7 525.7,459.4 526.1,452.3 526.6,445.5 527,439.3 527.5,433.8 528,429.1 528.4,425.3 528.9,422.6 529.3,420.9 529.8,420.4 530.3,421.1 530.7,422.8 531.2,425.7 531.6,429.6 532.1,434.4 532.6,440.1 533,446.4 533.5,453.2 533.9,460.3 534.4,467.6 534.9,475 535.3,482.1 535.8,488.8 536.2,495 536.7,500.5 537.2,505.2 537.6,509 538.1,511.7 538.5,513.3 539,513.8 539.5,513.1 539.9,511.3 540.4,508.4 540.8,504.5 541.3,499.6 541.8,494 542.2,487.7 542.7,480.9 543.1,473.7 543.6,466.4 544.1,459.1 544.5,452 545,445.2 545.4,439.1 545.9,433.6 546.4,428.9 546.8,425.2 547.3,422.5 547.7,420.9 548.2,420.4 548.7,421.1 549.1,423 549.6,425.9 550,429.8 550.5,434.7 551,440.3 551.4,446.7 551.9,453.5 552.3,460.7 552.8,468 553.3,475.3 553.7,482.4 554.2,489.1 554.6,495.3 555.1,500.8 555.6,505.4 556,509.1 556.5,511.8 556.9,513.4 557.4,513.8 557.9,513.1 558.3,511.2 558.8,508.2 559.2,504.3 559.7,499.4 560.2,493.7 560.6,487.4 561.1,480.6 561.5,473.4 562,466.1 562.5,458.8 562.9,451.7 563.4,445 563.8,438.8 564.3,433.3 564.8,428.7 565.2,425 565.7,422.4 566.1,420.8 566.6,420.4 567.1,421.2 567.5,423.1 568,426 568.4,430 568.9,434.9 569.4,440.6 569.8,447 570.3,453.8 570.7,461 571.2,468.3 571.7,475.6 572.1,482.7 572.6,489.4 573,495.5 573.5,501 574,505.6 574.4,509.3 574.9,511.9 575.3,513.4 575.8,513.8 576.3,513 576.7,511.1 577.2,508.1 577.6,504.1 578.1,499.2 578.6,493.5 579,487.1 579.5,480.2 579.9,473.1 580.4,465.7 580.9,458.4 581.3,451.4 581.8,444.7 582.2,438.5 582.7,433.1 583.2,428.5 583.6,424.9 584.1,422.3 584.5,420.8 585,420.4 585.5,421.2 585.9,423.2 586.4,426.2 586.8,430.2 587.3,435.2 587.8,440.9 588.2,447.3 588.7,454.1 589.1,461.3 589.6,468.6 590.1,475.9 590.5,483 591,489.7 591.4,495.8 591.9,501.2 592.4,505.8 592.8,509.4 593.3,512 593.7,513.4 594.2,513.8 594.7,512.9 595.1,511 595.6,507.9 596,503.9 596.5,498.9 597,493.2 597.4,486.8 597.9,479.9 598.3,472.7 598.8,465.4 599.3,458.1 599.7,451.1 600.2,444.4 600.6,438.3 601.1,432.9 601.6,428.3 602,424.7 602.5,422.2 602.9,420.7 603.4,420.4 603.9,421.3 604.3,423.3 604.8,426.3 605.2,430.4 605.7,435.4 606.2,441.2 606.6,447.6 607.1,454.4 607.5,461.6 608,469 608.5,476.2 608.9,483.3 609.4,490 609.8,496 610.3,501.4 610.8,506 611.2,509.5 611.7,512.1 612.1,513.5 612.6,513.7 613.1,512.9 613.5,510.9 614,507.8 614.4,503.7 614.9,498.7 615.4,492.9 615.8,486.5 616.3,479.6 616.7,472.4 617.2,465.1 617.7,457.8 618.1,450.8 618.6,444.1 619,438 619.5,432.7 620,428.1 620.4,424.6 620.9,422.1 621.3,420.7 621.8,420.5 622.3,421.4 622.7,423.4 623.2,426.5 623.6,430.6 624.1,435.6 624.6,441.4 625,447.8 625.5,454.7 625.9,461.9 626.4,469.3 626.9,476.6 627.3,483.6 627.8,490.2 628.2,496.3 628.7,501.6 629.2,506.1 629.6,509.7 630.1,512.1 630.5,513.5 631,513.7 631.5,512.8 631.9,510.7 632.4,507.6 632.8,503.5 633.3,498.4 633.8,492.6 634.2,486.2 634.7,479.3 635.1,472.1 635.6,464.8 636.1,457.5 636.5,450.4 637,443.8 637.4,437.8 637.9,432.4 638.4,428 638.8,424.5 639.3,422 639.7,420.7 640.2,420.5 640.7,421.4 641.1,423.5 641.6,426.7 642,430.8 642.5,435.9 643,441.7 643.4,448.1 643.9,455.1 644.3,462.3 644.8,469.6 645.3,476.9 645.7,483.9 646.2,490.5 646.6,496.6 647.1,501.9 647.6,506.3 648,509.8 648.5,512.2 648.9,513.5 649.4,513.7 649.8,512.7 650.3,510.6 650.8,507.4 651.2,503.3 651.7,498.2 652.1,492.4 652.6,485.9 653.1,479 653.5,471.8 654,464.4 654.4,457.2 654.9,450.1 655.4,443.5 655.8,437.5 656.3,432.2 656.7,427.8 657.2,424.3 657.7,421.9 658.1,420.6 658.6,420.5 659,421.5 659.5,423.6 660,426.8 660.4,431 660.9,436.1 661.3,442 661.8,448.4 662.3,455.4 662.7,462.6 663.2,469.9 663.6,477.2 664.1,484.2 664.6,490.8 665,496.8 665.5,502.1 665.9,506.5 666.4,509.9 666.9,512.3 667.3,513.6 667.8,513.7 668.2,512.7 668.7,510.5 669.2,507.3 669.6,503.1 670.1,498 670.5,492.1 671,485.6 671.5,478.7 671.9,471.4 672.4,464.1 672.8,456.8 673.3,449.8 673.8,443.3 674.2,437.3 674.7,432 675.1,427.6 675.6,424.2 676.1,421.8 676.5,420.6 677,420.5 677.4,421.6 677.9,423.7 678.4,427 678.8,431.2 679.3,436.4 679.7,442.2 680.2,448.7 680.7,455.7 681.1,462.9 681.6,470.3 682,477.5 682.5,484.5 683,491.1 683.4,497.1 683.9,502.3 684.3,506.7 684.8,510.1 685.3,512.4 685.7,513.6 686.2,513.7 686.6,512.6 687.1,510.4 687.6,507.1 688,502.9 688.5,497.7 688.9,491.8 689.4,485.3 689.9,478.3 690.3,471.1 690.8,463.8 691.2,456.5 691.7,449.5 692.2,443 692.6,437 693.1,431.8 693.5,427.4 694,424.1 694.5,421.8 694.9,420.6 695.4,420.5 695.8,421.6 696.3,423.9 696.8,427.2 697.2,431.4 697.7,436.6 698.1,442.5 698.6,449 699.1,456 699.5,463.2 700,470.6 700.4,477.8 700.9,484.8 701.4,491.4 701.8,497.3 702.3,502.5 702.7,506.8 703.2,510.2 703.7,512.5 704.1,513.6 704.6,513.7 705,512.5 705.5,510.3 706,506.9 706.4,502.6 706.9,497.5 707.3,491.5 707.8,485 708.3,478 708.7,470.8 709.2,463.5 709.6,456.2 710.1,449.2 710.6,442.7 711,436.8 711.5,431.6 711.9,427.3 712.4,423.9 712.9,421.7 713.3,420.6 713.8,420.6 714.2,421.7 714.7,424 715.2,427.3 715.6,431.7 716.1,436.9 716.5,442.8 717,449.3 717.5,456.3 717.9,463.6 718.4,470.9 718.8,478.1 719.3,485.1 719.8,491.6 720.2,497.6 720.7,502.7 721.1,507 721.6,510.3 722.1,512.5 722.5,513.7 723,513.6 723.4,512.4 723.9,510.1 724.4,506.8 724.8,502.4 725.3,497.2 725.7,491.3 726.2,484.7 726.7,477.7 727.1,470.5 727.6,463.1 728,455.9 728.5,448.9 729,442.4 729.4,436.5 729.9,431.4 730.3,427.1 730.8,423.8 731.3,421.6 731.7,420.5 732.2,420.6 732.6,421.8 733.1,424.1 733.6,427.5 734,431.9 734.5,437.1 734.9,443.1 735.4,449.6 735.9,456.6 736.3,463.9 736.8,471.2 737.2,478.5 737.7,485.4 738.2,491.9 738.6,497.8 739.1,502.9 739.5,507.2 740,510.4 740.5,512.6 740.9,513.7 741.4,513.6 741.8,512.4 742.3,510 742.8,506.6 743.2,502.2 743.7,497 744.1,491 744.6,484.4 745.1,477.4 745.5,470.1 746,462.8 746.4,455.6 746.9,448.6 747.4,442.1 747.8,436.3 748.3,431.2 748.7,426.9 749.2,423.7 749.7,421.5 750.1,420.5 750.6,420.6 751,421.9 751.5,424.3"/>
<polyline fill="none" stroke="#0000d8" stroke-width="1.4"  points="338,462.7 338.5,470 338.9,477.3 339.4,484.3 339.8,490.9 340.3,496.9 340.8,502.2 341.2,506.6 341.7,510 342.1,512.3 342.6,513.6 343.1,513.7 343.5,512.6 344,510.5 344.4,507.2 344.9,503 345.4,497.9 345.8,492 346.3,485.5 346.7,478.6 347.2,471.3 347.7,464 348.1,456.7 348.6,449.7 349,443.2 349.5,437.2 350,431.9 350.4,427.6 350.9,424.2 351.3,421.8 351.8,420.6 352.3,420.5 352.7,421.6 353.2,423.8 353.6,427.1 354.1,431.3 354.6,436.4 355,442.3 355.5,448.8 355.9,455.8 356.4,463 356.9,470.4 357.3,477.6 357.8,484.6 358.2,491.2 358.7,497.1 359.2,502.4 359.6,506.7 360.1,510.1 360.5,512.4 361,513.6 361.5,513.7 361.9,512.6 362.4,510.3 362.8,507.1 363.3,502.8 363.8,497.6 364.2,491.7 364.7,485.2 365.1,478.2 365.6,471 366.1,463.7 366.5,456.4 367,449.4 367.4,442.9 367.9,436.9 368.4,431.7 368.8,427.4 369.3,424 369.7,421.7 370.2,420.6 370.7,420.5 371.1,421.7 371.6,423.9 372,427.2 372.5,431.5 373,436.7 373.4,442.6 373.9,449.1 374.3,456.1 374.8,463.4 375.3,470.7 375.7,477.9 376.2,484.9 376.6,491.5 377.1,497.4 377.6,502.6 378,506.9 378.5,510.2 378.9,512.5 379.4,513.6 379.9,513.6 380.3,512.5 380.8,510.2 381.2,506.9 381.7,502.6 382.2,497.4 382.6,491.4 383.1,484.9 383.5,477.9 384,470.7 384.5,463.3 384.9,456.1 385.4,449.1 385.8,442.6 386.3,436.7 386.8,431.5 387.2,427.2 387.7,423.9 388.1,421.7 388.6,420.5 389.1,420.6 389.5,421.7 390,424 390.4,427.4 390.9,431.7 391.4,436.9 391.8,442.9 392.3,449.4 392.7,456.4 393.2,463.7 393.7,471 394.1,478.3 394.6,485.2 395,491.7 395.5,497.6 396,502.8 396.4,507.1 396.9,510.4 397.3,512.6 397.8,513.7 398.3,513.6 398.7,512.4 399.2,510.1 399.6,506.7 400.1,502.4 400.6,497.1 401,491.2 401.5,484.6 401.9,477.6 402.4,470.4 402.9,463 403.3,455.8 403.8,448.8 404.2,442.3 404.7,436.4 405.2,431.3 405.6,427 406.1,423.8 406.5,421.6 407,420.5 407.5,420.6 407.9,421.8 408.4,424.2 408.8,427.6 409.3,431.9 409.8,437.2 410.2,443.2 410.7,449.7 411.1,456.7 411.6,464 412.1,471.3 412.5,478.6 413,485.5 413.4,492 413.9,497.9 414.4,503 414.8,507.2 415.3,510.5 415.7,512.6 416.2,513.7 416.7,513.6 417.1,512.3 417.6,510 418,506.5 418.5,502.1 419,496.9 419.4,490.9 419.9,484.3 420.3,477.3 420.8,470 421.3,462.7 421.7,455.5 422.2,448.5 422.6,442.1 423.1,436.2 423.6,431.1 424,426.9 424.5,423.7 424.9,421.5 425.4,420.5 425.9,420.6 426.3,421.9 426.8,424.3 427.2,427.7 427.7,432.2 428.2,437.4 428.6,443.5 429.1,450.1 429.5,457.1 430,464.3 430.5,471.7 430.9,478.9 431.4,485.8 431.8,492.3 432.3,498.1 432.8,503.2 433.2,507.4 433.7,510.6 434.1,512.7 434.6,513.7 435.1,513.6 435.5,512.3 436,509.8 436.4,506.4 436.9,501.9 437.4,496.6 437.8,490.6 438.3,484 438.7,477 439.2,469.7 439.7,462.4 440.1,455.2 440.6,448.2 441,441.8 441.5,435.9 441.9,430.9 442.4,426.7 442.9,423.5 443.3,421.4 443.8,420.5 444.2,420.7 444.7,422 445.2,424.4 445.6,427.9 446.1,432.4 446.5,437.7 447,443.7 447.5,450.4 447.9,457.4 448.4,464.7 448.8,472 449.3,479.2 449.8,486.1 450.2,492.6 450.7,498.4 451.1,503.4 451.6,507.6 452.1,510.7 452.5,512.8 453,513.7 453.4,513.5 453.9,512.2 454.4,509.7 454.8,506.2 455.3,501.7 455.7,496.4 456.2,490.3 456.7,483.7 457.1,476.7 457.6,469.4 458,462 458.5,454.8 459,447.9 459.4,441.5 459.9,435.7 460.3,430.7 460.8,426.6 461.3,423.4 461.7,421.4 462.2,420.5 462.6,420.7 463.1,422.1 463.6,424.6 464,428.1 464.5,432.6 464.9,437.9 465.4,444 465.9,450.7 466.3,457.7 466.8,465 467.2,472.3 467.7,479.5 468.2,486.4 468.6,492.8 469.1,498.6 469.5,503.6 470,507.7 470.5,510.8 470.9,512.9 471.4,513.7 471.8,513.5 472.3,512.1 472.8,509.6 473.2,506 473.7,501.5 474.1,496.1 474.6,490 475.1,483.4 475.5,476.3 476,469.1 476.4,461.7 476.9,454.5 477.4,447.6 477.8,441.2 478.3,435.5 478.7,430.5 479.2,426.4 479.7,423.3 480.1,421.3 480.6,420.4 481,420.7 481.5,422.2 482,424.7 482.4,428.3 482.9,432.8 483.3,438.2 483.8,444.3 484.3,451 484.7,458 485.2,465.3 485.6,472.6 486.1,479.8 486.6,486.7 487,493.1 487.5,498.9 487.9,503.8 488.4,507.9 488.9,510.9 489.3,512.9 489.8,513.8 490.2,513.5 490.7,512 491.2,509.4 491.6,505.8 492.1,501.3 492.5,495.9 493,489.8 493.5,483.1 493.9,476 494.4,468.7 494.8,461.4 495.3,454.2 495.8,447.3 496.2,441 496.7,435.2 497.1,430.3 497.6,426.2 498.1,423.2 498.5,421.3 499,420.4 499.4,420.8 499.9,422.2 500.4,424.8 500.8,428.5 501.3,433 501.7,438.5 502.2,444.6 502.7,451.3 503.1,458.3 503.6,465.6 504,473 504.5,480.1 505,487 505.4,493.4 505.9,499.1 506.3,504 506.8,508 507.3,511.1 507.7,513 508.2,513.8 508.6,513.4 509.1,511.9 509.6,509.3 510,505.6 510.5,501 510.9,495.6 511.4,489.5 511.9,482.8 512.3,475.7 512.8,468.4 513.2,461.1 513.7,453.9 514.2,447 514.6,440.7 515.1,435 515.5,430.1 516,426.1 516.5,423.1 516.9,421.2 517.4,420.4 517.8,420.8 518.3,422.3 518.8,425 519.2,428.6 519.7,433.3 520.1,438.7 520.6,444.9 521.1,451.6 521.5,458.7 522,466 522.4,473.3 522.9,480.5 523.4,487.3 523.8,493.6 524.3,499.3 524.7,504.2 525.2,508.2 525.7,511.2 526.1,513 526.6,513.8 527,513.4 527.5,511.8 528,509.2 528.4,505.5 528.9,500.8 529.3,495.4 529.8,489.2 530.3,482.5 530.7,475.4 531.2,468.1 531.6,460.8 532.1,453.6 532.6,446.8 533,440.4 533.5,434.8 533.9,429.9 534.4,425.9 534.9,423 535.3,421.1 535.8,420.4 536.2,420.9 536.7,422.4 537.2,425.1 537.6,428.8 538.1,433.5 538.5,439 539,445.2 539.5,451.9 539.9,459 540.4,466.3 540.8,473.6 541.3,480.8 541.8,487.6 542.2,493.9 542.7,499.6 543.1,504.4 543.6,508.4 544.1,511.3 544.5,513.1 545,513.8 545.4,513.3 545.9,511.7 546.4,509 546.8,505.3 547.3,500.6 547.7,495.1 548.2,488.9 548.7,482.2 549.1,475.1 549.6,467.7 550,460.4 550.5,453.3 551,446.5 551.4,440.2 551.9,434.5 552.3,429.7 552.8,425.8 553.3,422.9 553.7,421.1 554.2,420.4 554.6,420.9 555.1,422.5 555.6,425.3 556,429 556.5,433.7 556.9,439.2 557.4,445.5 557.9,452.2 558.3,459.3 558.8,466.6 559.2,473.9 559.7,481.1 560.2,487.9 560.6,494.2 561.1,499.8 561.5,504.6 562,508.5 562.5,511.4 562.9,513.1 563.4,513.8 563.8,513.3 564.3,511.6 564.8,508.9 565.2,505.1 565.7,500.4 566.1,494.8 566.6,488.6 567.1,481.8 567.5,474.7 568,467.4 568.4,460.1 568.9,453 569.4,446.2 569.8,439.9 570.3,434.3 570.7,429.5 571.2,425.6 571.7,422.8 572.1,421 572.6,420.4 573,420.9 573.5,422.6 574,425.4 574.4,429.2 574.9,433.9 575.3,439.5 575.8,445.7 576.3,452.5 576.7,459.6 577.2,466.9 577.6,474.3 578.1,481.4 578.6,488.2 579,494.4 579.5,500 579.9,504.8 580.4,508.7 580.9,511.5 581.3,513.2 581.8,513.8 582.2,513.2 582.7,511.5 583.2,508.7 583.6,504.9 584.1,500.1 584.5,494.6 585,488.3 585.5,481.5 585.9,474.4 586.4,467.1 586.8,459.8 587.3,452.7 587.8,445.9 588.2,439.6 588.7,434.1 589.1,429.3 589.6,425.5 590.1,422.7 590.5,421 591,420.4 591.4,421 591.9,422.7 592.4,425.5 592.8,429.4 593.3,434.2 593.7,439.8 594.2,446 594.7,452.8 595.1,460 595.6,467.3 596,474.6 596.5,481.7 597,488.5 597.4,494.7 597.9,500.3 598.3,505 598.8,508.8 599.3,511.6 599.7,513.3 600.2,513.8 600.6,513.2 601.1,511.4 601.6,508.6 602,504.7 602.5,499.9 602.9,494.3 603.4,488 603.9,481.2 604.3,474.1 604.8,466.8 605.2,459.5 605.7,452.3 606.2,445.6 606.6,439.4 607.1,433.8 607.5,429.1 608,425.3 608.5,422.6 608.9,420.9 609.4,420.4 609.8,421.1 610.3,422.8 610.8,425.7 611.2,429.6 611.7,434.4 612.1,440 612.6,446.3 613.1,453.1 613.5,460.3 614,467.6 614.4,474.9 614.9,482 615.4,488.8 615.8,495 616.3,500.5 616.7,505.2 617.2,508.9 617.7,511.7 618.1,513.3 618.6,513.8 619,513.1 619.5,511.3 620,508.4 620.4,504.5 620.9,499.7 621.3,494 621.8,487.7 622.3,480.9 622.7,473.8 623.2,466.4 623.6,459.1 624.1,452 624.6,445.3 625,439.1 625.5,433.6 625.9,428.9 626.4,425.2 626.9,422.5 627.3,420.9 627.8,420.4 628.2,421.1 628.7,422.9 629.2,425.9 629.6,429.8 630.1,434.6 630.5,440.3 631,446.6 631.5,453.4 631.9,460.6 632.4,467.9 632.8,475.2 633.3,482.3 633.8,489 634.2,495.2 634.7,500.7 635.1,505.4 635.6,509.1 636.1,511.8 636.5,513.3 637,513.8 637.4,513.1 637.9,511.2 638.4,508.3 638.8,504.3 639.3,499.4 639.7,493.8 640.2,487.4 640.7,480.6 641.1,473.4 641.6,466.1 642,458.8 642.5,451.7 643,445 643.4,438.8 643.9,433.4 644.3,428.7 644.8,425 645.3,422.4 645.7,420.8 646.2,420.4 646.6,421.2 647.1,423 647.6,426 648,430 648.5,434.9 648.9,440.6 649.4,446.9 649.8,453.8 650.3,460.9 650.8,468.2 651.2,475.5 651.7,482.6 652.1,489.3 652.6,495.5 653.1,500.9 653.5,505.6 654,509.2 654.4,511.9 654.9,513.4 655.4,513.8 655.8,513 656.3,511.1 656.7,508.1 657.2,504.1 657.7,499.2 658.1,493.5 658.6,487.1 659,480.3 659.5,473.1 660,465.8 660.4,458.5 660.9,451.4 661.3,444.7 661.8,438.6 662.3,433.1 662.7,428.5 663.2,424.9 663.6,422.3 664.1,420.8 664.6,420.4 665,421.2 665.5,423.2 665.9,426.2 666.4,430.2 666.9,435.1 667.3,440.8 667.8,447.2 668.2,454.1 668.7,461.2 669.2,468.6 669.6,475.9 670.1,482.9 670.5,489.6 671,495.7 671.5,501.2 671.9,505.7 672.4,509.4 672.8,512 673.3,513.4 673.8,513.8 674.2,512.9 674.7,511 675.1,508 675.6,503.9 676.1,499 676.5,493.2 677,486.8 677.4,480 677.9,472.8 678.4,465.5 678.8,458.2 679.3,451.1 679.7,444.4 680.2,438.3 680.7,432.9 681.1,428.4 681.6,424.8 682,422.2 682.5,420.7 683,420.4 683.4,421.3 683.9,423.3 684.3,426.3 684.8,430.4 685.3,435.4 685.7,441.1 686.2,447.5 686.6,454.4 687.1,461.6 687.6,468.9 688,476.2 688.5,483.2 688.9,489.9 689.4,496 689.9,501.4 690.3,505.9 690.8,509.5 691.2,512 691.7,513.5 692.2,513.8 692.6,512.9 693.1,510.9 693.5,507.8 694,503.7 694.5,498.7 694.9,493 695.4,486.6 695.8,479.7 696.3,472.5 696.8,465.1 697.2,457.9 697.7,450.8 698.1,444.2 698.6,438.1 699.1,432.7 699.5,428.2 700,424.6 700.4,422.1 700.9,420.7 701.4,420.5 701.8,421.4 702.3,423.4 702.7,426.5 703.2,430.6 703.7,435.6 704.1,441.4 704.6,447.8 705,454.7 705.5,461.9 706,469.2 706.4,476.5 706.9,483.5 707.3,490.2 707.8,496.3 708.3,501.6 708.7,506.1 709.2,509.6 709.6,512.1 710.1,513.5 710.6,513.7 711,512.8 711.5,510.8 711.9,507.6 712.4,503.5 712.9,498.5 713.3,492.7 713.8,486.3 714.2,479.4 714.7,472.1 715.2,464.8 715.6,457.5 716.1,450.5 716.5,443.9 717,437.8 717.5,432.5 717.9,428 718.4,424.5 718.8,422 719.3,420.7 719.8,420.5 720.2,421.4 720.7,423.5 721.1,426.6 721.6,430.8 722.1,435.8 722.5,441.7 723,448.1 723.4,455 723.9,462.2 724.4,469.6 724.8,476.8 725.3,483.9 725.7,490.5 726.2,496.5 726.7,501.8 727.1,506.3 727.6,509.8 728,512.2 728.5,513.5 729,513.7 729.4,512.7 729.9,510.7 730.3,507.5 730.8,503.3 731.3,498.2 731.7,492.4 732.2,486 732.6,479 733.1,471.8 733.6,464.5 734,457.2 734.5,450.2 734.9,443.6 735.4,437.6 735.9,432.3 736.3,427.8 736.8,424.4 737.2,421.9 737.7,420.6 738.2,420.5 738.6,421.5 739.1,423.6 739.5,426.8 740,431 740.5,436.1 740.9,441.9 741.4,448.4 741.8,455.3 742.3,462.5 742.8,469.9 743.2,477.1 743.7,484.2 744.1,490.8 744.6,496.8 745.1,502 745.5,506.5 746,509.9 746.4,512.3 746.9,513.6 747.4,513.7 747.8,512.7 748.3,510.5 748.7,507.3 749.2,503.1 749.7,498 750.1,492.1 750.6,485.7 751,478.7 751.5,471.5"/>
<polyline fill="none" stroke="#000000" stroke-width="1.45"  points="338,429.3 338.5,425.5 338.9,422.7 339.4,421 339.8,420.4 340.3,421 340.8,422.7 341.2,425.5 341.7,429.4 342.1,434.1 342.6,439.7 343.1,446 343.5,452.8 344,459.9 344.4,467.2 344.9,474.5 345.4,481.7 345.8,488.4 346.3,494.7 346.7,500.2 347.2,505 347.7,508.8 348.1,511.6 348.6,513.2 349,513.8 349.5,513.2 350,511.4 350.4,508.6 350.9,504.7 351.3,499.9 351.8,494.3 352.3,488.1 352.7,481.3 353.2,474.1 353.6,466.8 354.1,459.5 354.6,452.4 355,445.6 355.5,439.4 355.9,433.9 356.4,429.1 356.9,425.3 357.3,422.6 357.8,420.9 358.2,420.4 358.7,421 359.2,422.8 359.6,425.7 360.1,429.6 360.5,434.4 361,440 361.5,446.3 361.9,453.1 362.4,460.2 362.8,467.5 363.3,474.8 363.8,482 364.2,488.7 364.7,494.9 365.1,500.5 365.6,505.2 366.1,508.9 366.5,511.7 367,513.3 367.4,513.8 367.9,513.1 368.4,511.3 368.8,508.4 369.3,504.5 369.7,499.7 370.2,494.1 370.7,487.8 371.1,481 371.6,473.8 372,466.5 372.5,459.2 373,452.1 373.4,445.3 373.9,439.1 374.3,433.6 374.8,428.9 375.3,425.2 375.7,422.5 376.2,420.9 376.6,420.4 377.1,421.1 377.6,422.9 378,425.8 378.5,429.8 378.9,434.6 379.4,440.3 379.9,446.6 380.3,453.4 380.8,460.5 381.2,467.9 381.7,475.2 382.2,482.3 382.6,489 383.1,495.2 383.5,500.7 384,485.4 384.5,487.2 384.9,488.4 385.4,489.2 385.8,489.4 386.3,489.1 386.8,488.2 387.2,486.8 387.7,484.9 388.1,482.6 388.6,479.9 389.1,476.8 389.5,473.6 390,470.2 390.4,466.7 390.9,463.2 391.4,459.8 391.8,456.6 392.3,453.6 392.7,451 393.2,448.8 393.7,447 394.1,445.7 394.6,445 395,444.8 395.5,445.1 396,446 396.4,447.5 396.9,449.4 397.3,451.7 397.8,454.4 398.3,457.4 398.7,460.7 399.2,464.1 399.6,467.6 400.1,471.1 400.6,474.5 401,477.7 401.5,480.6 401.9,483.3 402.4,485.5 402.9,487.2 403.3,488.5 403.8,489.2 404.2,489.4 404.7,489 405.2,488.1 405.6,486.7 406.1,484.8 406.5,482.5 407,479.7 407.5,476.7 407.9,473.4 408.4,470 408.8,466.5 409.3,463 409.8,459.6 410.2,456.4 410.7,453.5 411.1,450.9 411.6,448.7 412.1,446.9 412.5,445.7 413,445 413.4,444.8 413.9,445.2 414.4,446.1 414.8,447.5 415.3,449.4 415.7,451.8 416.2,454.5 416.7,457.6 417.1,460.8 417.6,464.3 418,467.8 418.5,471.3 419,474.6 419.4,477.8 419.9,480.8 420.3,483.4 420.8,485.6 421.3,487.3 421.7,488.5 422.2,489.2 422.6,489.4 423.1,489 423.6,488.1 424,486.6 424.5,484.7 424.9,482.3 425.4,479.6 425.9,476.6 426.3,473.3 426.8,469.8 427.2,466.3 427.7,462.9 428.2,459.5 428.6,456.3 429.1,453.4 429.5,450.8 430,448.6 430.5,446.9 430.9,445.7 431.4,445 431.8,444.8 432.3,445.2 432.8,446.1 433.2,447.6 433.7,449.5 434.1,451.9 434.6,454.7 435.1,457.7 435.5,461 436,464.4 436.4,467.9 436.9,471.4 437.4,474.8 437.8,478 438.3,480.9 438.7,483.5 439.2,485.6 439.7,487.4 440.1,488.6 440.6,489.3 441,489.4 441.5,489 441.9,488 442.4,486.6 442.9,484.6 443.3,482.2 443.8,479.5 444.2,476.4 444.7,473.1 445.2,469.7 445.6,466.2 446.1,462.7 446.5,459.3 447,456.2 447.5,453.2 447.9,450.7 448.4,448.5 448.8,446.8 449.3,445.6 449.8,444.9 450.2,444.8 450.7,445.2 451.1,446.2 451.6,447.7 452.1,449.6 452.5,452 453,454.8 453.4,457.9 453.9,461.1 454.4,464.6 454.8,468.1 455.3,471.6 455.7,474.9 456.2,478.1 456.7,481 457.1,483.6 457.6,485.7 458,487.4 458.5,488.6 459,489.3 459.4,489.4 459.9,488.9 460.3,488 460.8,486.5 461.3,484.5 461.7,482.1 462.2,479.3 462.6,476.3 463.1,473 463.6,469.5 464,466 464.5,462.6 464.9,459.2 465.4,456 465.9,453.1 466.3,450.6 466.8,448.4 467.2,446.8 467.7,445.6 468.2,444.9 468.6,444.8 469.1,445.3 469.5,446.3 470,447.8 470.5,449.7 470.9,452.1 471.4,454.9 471.8,458 472.3,461.3 472.8,464.7 473.2,468.2 473.7,471.7 474.1,475.1 474.6,478.2 475.1,481.1 475.5,483.7 476,485.8 476.4,509.8 476.9,512.2 477.4,513.5 477.8,513.7 478.3,512.8 478.7,510.7 479.2,507.5 479.7,503.3 480.1,498.3 480.6,492.5 481,486 481.5,479.1 482,471.9 482.4,464.5 482.9,457.3 483.3,450.2 483.8,443.6 484.3,437.6 484.7,432.3 485.2,427.9 485.6,424.4 486.1,422 486.6,420.6 487,420.5 487.5,421.5 487.9,423.6 488.4,426.8 488.9,431 489.3,436 489.8,441.9 490.2,448.3 490.7,455.3 491.2,462.5 491.6,469.8 492.1,477.1 492.5,484.1 493,490.7 493.5,496.7 493.9,502 494.4,506.4 494.8,509.9 495.3,512.3 495.8,513.6 496.2,513.7 496.7,512.7 497.1,510.6 497.6,507.3 498.1,503.1 498.5,498 499,492.2 499.4,485.7 499.9,478.8 500.4,471.5 500.8,464.2 501.3,457 501.7,449.9 502.2,443.4 502.7,437.3 503.1,432.1 503.6,427.7 504,424.2 504.5,421.9 505,420.6 505.4,420.5 505.9,421.5 506.3,423.7 506.8,426.9 507.3,431.2 507.7,436.3 508.2,442.2 508.6,448.6 509.1,455.6 509.6,462.8 510,470.1 510.5,477.4 510.9,484.4 511.4,491 511.9,497 512.3,502.2 512.8,506.6 513.2,510 513.7,512.4 514.2,513.6 514.6,513.7 515.1,512.6 515.5,510.4 516,507.2 516.5,502.9 516.9,497.8 517.4,491.9 517.8,485.4 518.3,478.5 518.8,471.2 519.2,463.9 519.7,456.6 520.1,449.6 520.6,443.1 521.1,437.1 521.5,431.9 522,427.5 522.4,424.1 522.9,421.8 523.4,420.6 523.8,420.5 524.3,421.6 524.7,423.8 525.2,427.1 525.7,431.4 526.1,436.5 526.6,442.4 527,448.9 527.5,455.9 528,463.1 528.4,470.5 528.9,477.7 529.3,484.7 529.8,491.3 530.3,497.2 530.7,502.4 531.2,506.8 531.6,510.1 532.1,512.4 532.6,513.6 533,513.7 533.5,512.5 533.9,510.3 534.4,507 534.9,502.7 535.3,497.5 535.8,491.6 536.2,485.1 536.7,478.1 537.2,470.9 537.6,463.6 538.1,456.3 538.5,449.3 539,442.8 539.5,436.8 539.9,431.7 540.4,427.3 540.8,424 541.3,421.7 541.8,420.6 542.2,420.6 542.7,421.7 543.1,424 543.6,427.3 544.1,431.6 544.5,436.8 545,442.7 545.4,449.2 545.9,456.2 546.4,463.5 546.8,470.8 547.3,478 547.7,485 548.2,491.5 548.7,497.5 549.1,502.7 549.6,507 550,510.3 550.5,512.5 551,513.7 551.4,513.6 551.9,512.5 552.3,510.2 552.8,506.8 553.3,502.5 553.7,497.3 554.2,491.4 554.6,484.8 555.1,477.8 555.6,470.6 556,463.2 556.5,456 556.9,449 557.4,442.5 557.9,436.6 558.3,431.4 558.8,427.2 559.2,423.9 559.7,421.6 560.2,420.5 560.6,420.6 561.1,421.8 561.5,424.1 562,427.5 562.5,431.8 562.9,437 563.4,443 563.8,449.5 564.3,456.5 564.8,463.8 565.2,471.1 565.7,478.4 566.1,485.3 566.6,491.8 567.1,497.7 567.5,502.9 568,507.1 568.4,510.4 568.9,512.6 569.4,513.7 569.8,513.6 570.3,512.4 570.7,510.1 571.2,506.7 571.7,502.3 572.1,497.1 572.6,491.1 573,484.5 573.5,477.5 574,470.2 574.4,462.9 574.9,455.7 575.3,448.7 575.8,442.2 576.3,436.4 576.7,431.2 577.2,427 577.6,423.7 578.1,421.6 578.6,420.5 579,420.6 579.5,421.8 579.9,424.2 580.4,427.6 580.9,432 581.3,437.3 581.8,443.3 582.2,449.8 582.7,456.9 583.2,464.1 583.6,471.5 584.1,478.7 584.5,485.6 585,492.1 585.5,498 585.9,503.1 586.4,507.3 586.8,510.5 587.3,512.7 587.8,513.7 588.2,513.6 588.7,512.3 589.1,509.9 589.6,506.5 590.1,502.1 590.5,496.8 591,490.8 591.4,484.2 591.9,477.2 592.4,469.9 592.8,462.6 593.3,455.4 593.7,448.4 594.2,442 594.7,436.1 595.1,431 595.6,426.8 596,423.6 596.5,421.5 597,420.5 597.4,420.6 597.9,421.9 598.3,424.3 598.8,427.8 599.3,432.2 599.7,437.5 600.2,443.5 600.6,450.2 601.1,457.2 601.6,464.4 602,471.8 602.5,479 602.9,485.9 603.4,492.4 603.9,498.2 604.3,503.3 604.8,507.5 605.2,510.6 605.7,512.7 606.2,513.7 606.6,513.5 607.1,512.2 607.5,509.8 608,506.3 608.5,501.9 608.9,496.5 609.4,490.5 609.8,483.9 610.3,476.9 610.8,469.6 611.2,462.3 611.7,455.1 612.1,448.1 612.6,441.7 613.1,435.9 613.5,430.8 614,426.7 614.4,423.5 614.9,421.4 615.4,420.5 615.8,420.7 616.3,422 616.7,424.5 617.2,428 617.7,432.5 618.1,437.8 618.6,443.8 619,450.5 619.5,457.5 620,464.8 620.4,472.1 620.9,479.3 621.3,486.2 621.8,492.6 622.3,498.5 622.7,503.5 623.2,507.6 623.6,510.8 624.1,512.8 624.6,513.7 625,513.5 625.5,512.1 625.9,509.7 626.4,506.1 626.9,501.6 627.3,496.3 627.8,490.2 628.2,483.6 628.7,476.5 629.2,469.3 629.6,461.9 630.1,454.7 630.5,447.8 631,441.4 631.5,435.6 631.9,430.6 632.4,426.5 632.8,423.4 633.3,421.4 633.8,420.5 634.2,420.7 634.7,422.1 635.1,424.6 635.6,428.2 636.1,432.7 636.5,438 637,444.1 637.4,450.8 637.9,457.8 638.4,465.1 638.8,472.4 639.3,479.6 639.7,486.5 640.2,492.9 640.7,498.7 641.1,503.7 641.6,507.8 642,510.9 642.5,512.9 643,513.7 643.4,513.5 643.9,512.1 644.3,509.5 644.8,506 645.3,501.4 645.7,496 646.2,489.9 646.6,483.3 647.1,476.2 647.6,468.9 648,461.6 648.5,454.4 648.9,447.5 649.4,441.1 649.8,435.4 650.3,430.4 650.8,426.3 651.2,423.3 651.7,421.3 652.1,420.4 652.6,420.7 653.1,422.2 653.5,424.7 654,428.3 654.4,432.9 654.9,438.3 655.4,444.4 655.8,451.1 656.3,458.1 656.7,465.4 657.2,472.7 657.7,479.9 658.1,486.8 658.6,493.2 659,498.9 659.5,503.9 660,507.9 660.4,511 660.9,512.9 661.3,513.8 661.8,513.4 662.3,512 662.7,509.4 663.2,505.8 663.6,501.2 664.1,495.8 664.6,489.7 665,483 665.5,475.9 665.9,468.6 666.4,461.3 666.9,454.1 667.3,447.2 667.8,440.9 668.2,435.1 668.7,430.2 669.2,426.2 669.6,423.2 670.1,421.2 670.5,420.4 671,420.8 671.5,422.3 671.9,424.9 672.4,428.5 672.8,433.1 673.3,438.5 673.8,444.7 674.2,451.4 674.7,458.5 675.1,465.7 675.6,473.1 676.1,480.2 676.5,487.1 677,493.5 677.4,499.2 677.9,504.1 678.4,508.1 678.8,511.1 679.3,513 679.7,513.8 680.2,513.4 680.7,511.9 681.1,509.3 681.6,505.6 682,501 682.5,495.5 683,489.4 683.4,482.7 683.9,475.6 684.3,468.3 684.8,461 685.3,453.8 685.7,446.9 686.2,440.6 686.6,434.9 687.1,430 687.6,426 688,423.1 688.5,421.2 688.9,420.4 689.4,420.8 689.9,422.4 690.3,425 690.8,428.7 691.2,433.3 691.7,438.8 692.2,445 692.6,451.7 693.1,458.8 693.5,466.1 694,473.4 694.5,480.6 694.9,487.4 695.4,493.7 695.8,499.4 696.3,504.3 696.8,508.3 697.2,511.2 697.7,513.1 698.1,513.8 698.6,513.4 699.1,511.8 699.5,509.1 700,505.4 700.4,500.7 700.9,495.3 701.4,489.1 701.8,482.4 702.3,475.3 702.7,468 703.2,460.6 703.7,453.5 704.1,446.7 704.6,440.3 705,434.7 705.5,429.8 706,425.9 706.4,422.9 706.9,421.1 707.3,420.4 707.8,420.9 708.3,422.5 708.7,425.2 709.2,428.9 709.6,433.6 710.1,439.1 710.6,445.3 711,452 711.5,459.1 711.9,466.4 712.4,473.7 712.9,480.9 713.3,487.7 713.8,494 714.2,499.6 714.7,504.5 715.2,508.4 715.6,511.3 716.1,513.1 716.5,513.8 717,513.3 717.5,511.7 717.9,509 718.4,505.2 718.8,500.5 719.3,495 719.8,488.8 720.2,482.1 720.7,474.9 721.1,467.6 721.6,460.3 722.1,453.2 722.5,446.4 723,440.1 723.4,434.4 723.9,429.6 724.4,425.7 724.8,422.8 725.3,421.1 725.7,420.4 726.2,420.9 726.7,422.6 727.1,425.3 727.6,429.1 728,433.8 728.5,439.3 729,445.5 729.4,452.3 729.9,459.4 730.3,466.7 730.8,474 731.3,481.2 731.7,488 732.2,494.3 732.6,499.9 733.1,504.7 733.6,508.6 734,511.4 734.5,513.2 734.9,513.8 735.4,513.3 735.9,511.6 736.3,508.8 736.8,505 737.2,500.3 737.7,494.7 738.2,488.5 738.6,481.7 739.1,474.6 739.5,467.3 740,460 740.5,452.9 740.9,446.1 741.4,439.8 741.8,434.2 742.3,429.4 742.8,425.6 743.2,422.7 743.7,421 744.1,420.4 744.6,421 745.1,422.7 745.5,425.5 746,429.3 746.4,434 746.9,439.6 747.4,445.8 747.8,452.6 748.3,459.7 748.7,467.1 749.2,474.4 749.7,481.5 750.1,488.3 750.6,494.5 751,500.1 751.5,504.9"/>
</g>
<path fill="none" stroke="#222" stroke-width="0.9" d="M338 514.4v-2.2M383.9 514.4v-2.2M429.9 514.4v-2.2M475.8 514.4v-2.2M521.8 514.4v-2.2M567.7 514.4v-2.2M613.7 514.4v-2.2M659.6 514.4v-2.2M705.6 514.4v-2.2M751.5 514.4v-2.2M338 495.7h2.2M338 467.1h2.2M338 438.5h2.2"/>
<path fill="none" stroke="#777" stroke-width="1.2" d="M338 420V514.9"/>
<path fill="none" stroke="#222" stroke-width="1.1" d="M337.5 514.4H752"/>
<text transform="translate(333 499.9) scale(1 1.08)" text-anchor="end">-200</text>
<text transform="translate(333 471.3) scale(1 1.08)" text-anchor="end">0</text>
<text transform="translate(333 442.7) scale(1 1.08)" text-anchor="end">200</text>
<text transform="translate(338 530.7) scale(1 1.08)" text-anchor="middle">0.05</text>
<text transform="translate(383.9 530.7) scale(1 1.08)" text-anchor="middle">0.1</text>
<text transform="translate(429.9 530.7) scale(1 1.08)" text-anchor="middle">0.15</text>
<text transform="translate(475.8 530.7) scale(1 1.08)" text-anchor="middle">0.2</text>
<text transform="translate(521.8 530.7) scale(1 1.08)" text-anchor="middle">0.25</text>
<text transform="translate(567.7 530.7) scale(1 1.08)" text-anchor="middle">0.3</text>
<text transform="translate(613.7 530.7) scale(1 1.08)" text-anchor="middle">0.35</text>
<text transform="translate(659.6 530.7) scale(1 1.08)" text-anchor="middle">0.4</text>
<text transform="translate(705.6 530.7) scale(1 1.08)" text-anchor="middle">0.45</text>
<text transform="translate(751.5 530.7) scale(1 1.08)" text-anchor="middle">0.5</text>
<text transform="translate(544.8 416.8) scale(1 1.08)" text-anchor="middle" font-size="12">(g)</text>
<text transform="translate(544.8 546.3) scale(1 1.08)" text-anchor="middle">Time [s]</text>
<rect x="681.3" y="431" width="60.4" height="61.7" fill="#fff" stroke="#3c3c3c" stroke-width="1"/>
<path d="M684.7 442H720.6" stroke="#dd0000" stroke-width="1.2" fill="none"/>
<text transform="translate(723.6 443) scale(1 1.08)">V<tspan dy="7" dx="0.3" font-size="9.6">a</tspan></text>
<path d="M684.7 461.8H720.6" stroke="#0000cd" stroke-width="1.2" fill="none"/>
<text transform="translate(723.6 462.8) scale(1 1.08)">V<tspan dy="7" dx="0.3" font-size="9.6">b</tspan></text>
<path d="M684.7 482H720.6" stroke="#000000" stroke-width="1.2" fill="none"/>
<text transform="translate(723.6 483) scale(1 1.08)">V<tspan dy="7" dx="0.3" font-size="9.6">c</tspan></text>
<text transform="translate(300.8 468) rotate(-90) scale(1 1.08)" text-anchor="middle">V<tspan dy="3.6" font-size="9.6">ac</tspan><tspan dy="-3.6">[kV]</tspan></text>
</svg></body></html>
